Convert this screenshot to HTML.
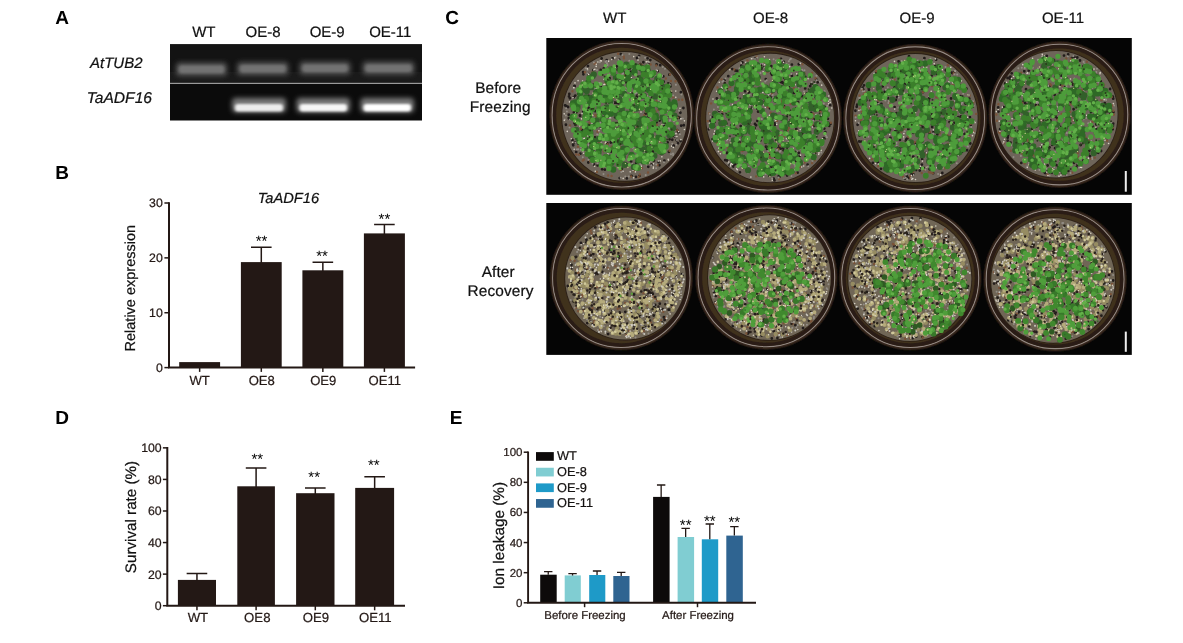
<!DOCTYPE html>
<html><head><meta charset="utf-8"><title>Figure</title>
<style>
html,body{margin:0;padding:0;background:#fff}
svg{display:block;will-change:transform;opacity:0.9999}
text{font-family:"Liberation Sans",Arial,sans-serif;fill:#231815;stroke:#231815;stroke-width:0.22px;text-rendering:geometricPrecision}
.b{font-weight:bold;font-size:19px;fill:#000;stroke:none}
.l{font-size:15px;fill:#111;stroke:#111}
.i{font-style:italic}
.t{font-size:12.3px}
.x{font-size:13.1px}
.s{font-size:15px;fill:#000;stroke:none}
.m{text-anchor:middle}
.e{text-anchor:end}
.ax{stroke:#231815;stroke-width:2;fill:none}
.tk{stroke:#231815;stroke-width:1.5;fill:none}
.eb{stroke:#231815;stroke-width:1.5;fill:none}
</style></head><body>
<svg width="1183" height="643" viewBox="0 0 1183 643">
<defs>
<filter id="bl" x="-20%" y="-100%" width="140%" height="300%"><feGaussianBlur stdDeviation="2.5 2.8"/></filter>
<filter id="bl2" x="-20%" y="-100%" width="140%" height="300%"><feGaussianBlur stdDeviation="1.8 1.3"/></filter>
<filter id="ph" x="0" y="0" width="100%" height="100%"><feGaussianBlur stdDeviation="0.65"/></filter>
</defs>
<rect width="1183" height="643" fill="#fff"/>

<text class="b" x="55.3" y="23.8">A</text>
<text class="b" x="55.3" y="179.3">B</text>
<text class="b" x="445.3" y="24">C</text>
<text class="b" x="55.3" y="424.2">D</text>
<text class="b" x="449.8" y="424.3">E</text>
<rect x="170" y="44.3" width="252" height="76.2" fill="#0b0b0b"/>
<rect x="170" y="44.3" width="252" height="39.10000000000001" fill="#131313"/>
<rect x="170" y="72" width="252" height="11.400000000000006" fill="#1a1a1a"/>
<clipPath id="cg"><rect x="170" y="44.3" width="252" height="76.2"/></clipPath><g clip-path="url(#cg)">
<rect x="176.0" y="62.599999999999994" width="51.0" height="13.4" rx="4" fill="#545454" filter="url(#bl)"/>
<rect x="179.0" y="65.6" width="45.0" height="7.6" rx="3" fill="#727272" filter="url(#bl2)"/>
<rect x="237.0" y="61.9" width="51.5" height="13.4" rx="4" fill="#545454" filter="url(#bl)"/>
<rect x="240.0" y="64.89999999999999" width="45.5" height="7.6" rx="3" fill="#727272" filter="url(#bl2)"/>
<rect x="299.5" y="61.4" width="51" height="13.4" rx="4" fill="#545454" filter="url(#bl)"/>
<rect x="302.5" y="64.39999999999999" width="45" height="7.6" rx="3" fill="#727272" filter="url(#bl2)"/>
<rect x="362.5" y="61.4" width="52" height="13.4" rx="4" fill="#545454" filter="url(#bl)"/>
<rect x="365.5" y="64.39999999999999" width="46" height="7.6" rx="3" fill="#727272" filter="url(#bl2)"/>
<rect x="232.0" y="98" width="54.0" height="14.5" rx="4" fill="#7a7a7a" filter="url(#bl)"/>
<rect x="235.0" y="104" width="48.0" height="7.6" rx="3" fill="#ececec" filter="url(#bl2)"/>
<rect x="296.5" y="98" width="53.5" height="14.5" rx="4" fill="#7a7a7a" filter="url(#bl)"/>
<rect x="299.5" y="104" width="47.5" height="7.6" rx="3" fill="#f6f6f6" filter="url(#bl2)"/>
<rect x="360.5" y="98" width="53.5" height="14.5" rx="4" fill="#7a7a7a" filter="url(#bl)"/>
<rect x="363.5" y="104" width="47.5" height="7.6" rx="3" fill="#ffffff" filter="url(#bl2)"/>
</g>
<rect x="170" y="82.80000000000001" width="252" height="1.2" fill="#9a9a9a"/>
<text class="l m" x="203.8" y="37.4">WT</text>
<text class="l m" x="263" y="36.5">OE-8</text>
<text class="l m" x="327.2" y="36.5">OE-9</text>
<text class="l m" x="390.3" y="36.5">OE-11</text>
<text class="l i" x="90" y="68.2">AtTUB2</text>
<text class="l i" x="86.7" y="103.3" style="font-size:15.6px">TaADF16</text>
<path class="tk" d="M164.4 367.6H169"/>
<text class="t e" x="162.8" y="372.0">0</text>
<path class="tk" d="M164.4 312.73333333333335H169"/>
<text class="t e" x="162.8" y="317.1333333333333">10</text>
<path class="tk" d="M164.4 257.8666666666667H169"/>
<text class="t e" x="162.8" y="262.26666666666665">20</text>
<path class="tk" d="M164.4 203.0H169"/>
<text class="t e" x="162.8" y="207.4">30</text>
<rect x="179.2" y="362.1" width="40.900000000000006" height="5.5" fill="#231815"/>
<path class="tk" d="M199.64999999999998 367.6v4.3"/>
<rect x="240.9" y="262.1" width="40.79999999999998" height="105.5" fill="#231815"/>
<path class="tk" d="M261.3 367.6v4.3"/>
<path class="eb" d="M261.3 263.1V247.2M251.0 247.2H271.6"/>
<text class="s m" x="261.6" y="246.1">**</text>
<rect x="302.4" y="270.3" width="40.900000000000034" height="97.30000000000001" fill="#231815"/>
<path class="tk" d="M322.85 367.6v4.3"/>
<path class="eb" d="M322.85 271.3V262.3M312.55 262.3H333.15000000000003"/>
<text class="s m" x="322.05" y="261.2">**</text>
<rect x="363.9" y="233.4" width="41.0" height="134.20000000000002" fill="#231815"/>
<path class="tk" d="M384.4 367.6v4.3"/>
<path class="eb" d="M384.4 234.4V224.6M374.09999999999997 224.6H394.7"/>
<text class="s m" x="384.4" y="223.5">**</text>
<path class="ax" d="M169 202.2V367.6H415.1"/>
<text class="x m" x="199.6" y="384.7">WT</text>
<text class="x m" x="261.8" y="384.7">OE8</text>
<text class="x m" x="323.3" y="384.7">OE9</text>
<text class="x m" x="384.8" y="384.7">OE11</text>
<text class="l i m" x="288.4" y="202.9" style="font-size:14.7px">TaADF16</text>
<text class="l m" transform="translate(135.4 288.2) rotate(-90)" style="font-size:14.5px">Relative expression</text>
<path class="tk" d="M162.9 605.7H167.3"/>
<text class="t e" x="161.70000000000002" y="610.1">0</text>
<path class="tk" d="M162.9 574.13H167.3"/>
<text class="t e" x="161.70000000000002" y="578.53">20</text>
<path class="tk" d="M162.9 542.5600000000001H167.3"/>
<text class="t e" x="161.70000000000002" y="546.96">40</text>
<path class="tk" d="M162.9 510.99H167.3"/>
<text class="t e" x="161.70000000000002" y="515.39">60</text>
<path class="tk" d="M162.9 479.42H167.3"/>
<text class="t e" x="161.70000000000002" y="483.82">80</text>
<path class="tk" d="M162.9 447.85H167.3"/>
<text class="t e" x="161.70000000000002" y="452.25">100</text>
<rect x="177.9" y="579.9" width="38.099999999999994" height="25.800000000000068" fill="#231815"/>
<path class="tk" d="M196.95 605.7v4.6"/>
<path class="eb" d="M196.95 580.9V573.4M186.64999999999998 573.4H207.25"/>
<rect x="237.3" y="486.3" width="37.599999999999966" height="119.40000000000003" fill="#231815"/>
<path class="tk" d="M256.1 605.7v4.6"/>
<path class="eb" d="M256.1 487.3V468.1M245.8 468.1H266.40000000000003"/>
<text class="s m" x="257.3" y="463.9">**</text>
<rect x="296.1" y="493.2" width="38.39999999999998" height="112.50000000000006" fill="#231815"/>
<path class="tk" d="M315.3 605.7v4.6"/>
<path class="eb" d="M315.3 494.2V487.9M305.0 487.9H325.6"/>
<text class="s m" x="314.2" y="482.09999999999997">**</text>
<rect x="355.2" y="487.9" width="38.900000000000034" height="117.80000000000007" fill="#231815"/>
<path class="tk" d="M374.65 605.7v4.6"/>
<path class="eb" d="M374.65 488.9V476.7M364.34999999999997 476.7H384.95"/>
<text class="s m" x="373.75" y="469.5">**</text>
<path class="ax" d="M167.3 447.05V605.7H405"/>
<text class="x m" x="197.9" y="622.1" style="font-size:13.2px">WT</text>
<text class="x m" x="257.3" y="622.1" style="font-size:13.2px">OE8</text>
<text class="x m" x="316" y="622.1" style="font-size:13.2px">OE9</text>
<text class="x m" x="375.3" y="622.1" style="font-size:13.2px">OE11</text>
<text class="l m" transform="translate(135.6 517) rotate(-90)" style="font-size:15.2px">Survival rate (%)</text>
<path class="tk" d="M523.7 602.8H528.1"/>
<text class="e" x="522.5" y="606.8" style="font-size:11.5px">0</text>
<path class="tk" d="M523.7 572.68H528.1"/>
<text class="e" x="522.5" y="576.68" style="font-size:11.5px">20</text>
<path class="tk" d="M523.7 542.56H528.1"/>
<text class="e" x="522.5" y="546.56" style="font-size:11.5px">40</text>
<path class="tk" d="M523.7 512.4399999999999H528.1"/>
<text class="e" x="522.5" y="516.4399999999999" style="font-size:11.5px">60</text>
<path class="tk" d="M523.7 482.32H528.1"/>
<text class="e" x="522.5" y="486.32" style="font-size:11.5px">80</text>
<path class="tk" d="M523.7 452.2H528.1"/>
<text class="e" x="522.5" y="456.2" style="font-size:11.5px">100</text>
<rect x="540.1999999999999" y="574.7" width="16.500000000000092" height="28.09999999999991" fill="#0d0a0a"/>
<path class="eb" style="stroke-width:1.3" d="M548.25 574.7V571.7M544.05 571.7H552.45"/>
<rect x="564.6999999999999" y="575.4" width="16.1" height="27.399999999999977" fill="#80cdd2"/>
<path class="eb" style="stroke-width:1.3" d="M572.55 575.4V573.7M568.3499999999999 573.7H576.75"/>
<rect x="589.1999999999999" y="575" width="16.1" height="27.799999999999955" fill="#1e9ac8"/>
<path class="eb" style="stroke-width:1.3" d="M597.05 575V571M592.8499999999999 571H601.25"/>
<rect x="613.3" y="576" width="16.200000000000024" height="26.799999999999955" fill="#2f6491"/>
<path class="eb" style="stroke-width:1.3" d="M621.2 576V572.4M617.0 572.4H625.4000000000001"/>
<rect x="653.1" y="496.9" width="16.49999999999998" height="105.89999999999998" fill="#0d0a0a"/>
<path class="eb" style="stroke-width:1.3" d="M661.1500000000001 496.9V485M656.95 485H665.3500000000001"/>
<rect x="677.6" y="537" width="16.49999999999998" height="65.79999999999995" fill="#80cdd2"/>
<path class="eb" style="stroke-width:1.3" d="M685.6500000000001 537V528.3M681.45 528.3H689.8500000000001"/>
<text class="s m" x="685.6500000000001" y="530.1999999999999">**</text>
<rect x="701.8" y="539.3" width="16.40000000000007" height="63.5" fill="#1e9ac8"/>
<path class="eb" style="stroke-width:1.3" d="M709.8 539.3V524M705.5999999999999 524H714.0"/>
<text class="s m" x="709.8" y="525.5">**</text>
<rect x="726.3" y="535.6" width="16.49999999999998" height="67.19999999999993" fill="#2f6491"/>
<path class="eb" style="stroke-width:1.3" d="M734.3499999999999 535.6V526.7M730.1499999999999 526.7H738.55"/>
<text class="s m" x="734.3499999999999" y="526.7">**</text>
<path class="ax" d="M528.1 451.4V602.8H756" style="stroke-width:1.9"/>
<path class="tk" d="M584.6 602.8v4.4"/>
<path class="tk" d="M697.5 602.8v4.4"/>
<text class="m" x="585" y="619.4" style="font-size:11.45px">Before Freezing</text>
<text class="m" x="698" y="619.4" style="font-size:11.45px">After Freezing</text>
<rect x="536" y="452.1" width="17.8" height="8.7" fill="#0d0a0a"/>
<text x="557" y="460.3" style="fill:#111;font-size:12.8px">WT</text>
<rect x="536" y="467.75" width="17.8" height="8.7" fill="#80cdd2"/>
<text x="557" y="475.95" style="fill:#111;font-size:12.8px">OE-8</text>
<rect x="536" y="483.40000000000003" width="17.8" height="8.7" fill="#1e9ac8"/>
<text x="557" y="491.6" style="fill:#111;font-size:12.8px">OE-9</text>
<rect x="536" y="499.05" width="17.8" height="8.7" fill="#2f6491"/>
<text x="557" y="507.25" style="fill:#111;font-size:12.8px">OE-11</text>
<text class="l m" transform="translate(503.6 535.6) rotate(-90)" style="font-size:15.3px">Ion leakage (%)</text>
<text class="l m" x="614.7" y="23.1">WT</text>
<text class="l m" x="770.5" y="23.1">OE-8</text>
<text class="l m" x="917" y="23.1">OE-9</text>
<text class="l m" x="1063" y="23.1">OE-11</text>
<text class="l m" x="498.2" y="93.4" style="font-size:15.4px;letter-spacing:0.12px">Before</text>
<text class="l m" x="500.2" y="111.6" style="font-size:15.4px;letter-spacing:0.12px">Freezing</text>
<text class="l m" x="498.2" y="277.4" style="font-size:15.4px;letter-spacing:0.12px">After</text>
<text class="l m" x="500.6" y="295.6" style="font-size:15.4px;letter-spacing:0.12px">Recovery</text>
<rect x="546.3" y="38" width="585.5" height="156.8" fill="#050505"/>
<rect x="546.3" y="203" width="585.5" height="151.9" fill="#050505"/>
<clipPath id="c1"><rect x="546.3" y="38" width="585.5" height="156.8"/></clipPath>
<clipPath id="c2"><rect x="546.3" y="203" width="585.5" height="151.9"/></clipPath>
<g clip-path="url(#c1)"><g filter="url(#ph)">
<g transform="translate(0 -3.65) scale(1 1.0316)">
<circle cx="621.7" cy="115.25" r="72.7" fill="#1c140f"/>
<circle cx="621.7" cy="115.25" r="71.8" fill="#35261c"/>
<circle cx="621.7" cy="115.25" r="69.60000000000001" fill="none" stroke="#cfc6c4" stroke-width="1.1" opacity="0.62"/>
<circle cx="621.7" cy="115.25" r="67.10000000000001" fill="none" stroke="#2a1e14" stroke-width="3.4"/>
<circle cx="621.7" cy="115.25" r="65.5" fill="#3f301c"/>
<circle cx="624.7" cy="116.35" r="63.321999999999996" fill="#2b2018"/>
<circle cx="624.7" cy="116.35" r="62.522" fill="#6e655a"/>
<path d="M614.1 137.6h0M615.1 103.0h0M588.6 108.1h0M665.4 131.9h0M663.9 125.8h0M641.4 124.2h0M575.2 141.8h0M645.3 136.6h0M583.2 73.6h0M590.6 98.4h0M637.8 114.4h0M645.5 90.8h0M637.7 132.9h0M604.8 168.0h0M644.4 158.7h0M600.7 87.7h0M610.0 111.8h0M650.6 126.5h0M607.7 80.1h0M606.3 159.4h0M592.6 126.1h0M638.8 67.1h0M626.4 162.7h0M568.1 107.3h0M620.5 83.8h0M645.6 113.7h0M578.3 142.6h0M649.4 151.3h0M673.2 128.6h0M628.9 70.2h0M649.0 92.2h0M608.8 71.9h0M588.5 96.5h0M656.6 66.1h0M575.5 124.4h0M672.3 135.4h0M588.0 67.6h0M639.0 87.0h0M587.0 149.3h0M665.9 122.2h0M635.0 134.6h0M674.7 135.8h0M645.6 138.5h0M580.4 152.5h0M660.6 136.2h0M569.9 98.8h0M648.7 64.8h0M617.7 155.2h0M588.3 161.0h0M647.6 110.1h0M637.9 142.7h0M629.2 158.8h0M598.1 99.7h0M664.3 117.4h0M593.3 150.1h0M673.4 101.6h0M576.8 111.7h0M618.3 103.6h0M668.3 84.4h0M663.3 77.6h0M594.5 140.6h0M663.5 145.9h0M639.4 122.4h0M631.0 140.2h0M617.2 128.2h0M648.5 116.4h0M654.4 138.3h0M681.2 125.5h0M606.9 100.8h0M624.2 152.4h0M610.6 132.5h0M660.2 66.8h0M583.1 125.4h0M641.5 126.4h0M607.4 142.7h0M636.4 94.7h0M683.8 125.0h0M601.6 112.2h0M615.0 113.7h0M565.1 105.7h0M658.1 77.7h0M622.1 153.3h0M651.5 163.0h0M571.8 105.4h0M610.8 141.7h0M647.6 60.1h0M657.7 72.4h0M646.6 68.5h0M631.1 159.9h0M618.3 124.6h0M656.6 122.0h0M621.8 167.2h0M664.1 105.3h0M680.9 92.9h0M660.2 106.0h0M630.1 145.0h0M633.8 142.5h0M583.4 75.5h0M647.5 80.6h0M593.4 71.5h0M667.6 141.6h0M670.4 87.3h0M624.7 74.0h0M648.3 165.3h0M597.6 163.9h0M662.6 109.5h0M576.2 150.9h0M620.7 91.4h0M641.3 133.4h0M670.1 85.4h0M658.5 160.6h0M674.0 110.2h0M598.0 153.0h0M629.7 121.7h0M673.2 107.4h0M566.4 106.5h0M572.4 139.4h0M637.7 91.4h0M624.3 149.5h0M627.5 163.2h0M622.4 155.9h0M664.4 159.2h0M599.6 149.3h0M574.3 87.2h0M573.2 144.4h0M580.1 115.9h0M616.4 115.1h0M600.3 126.0h0M679.4 117.7h0M644.4 153.6h0M617.6 71.2h0M604.4 155.5h0M573.7 97.8h0M660.7 144.7h0M625.0 148.6h0M630.8 73.2h0M575.3 96.2h0M659.5 95.1h0M591.6 88.1h0M573.9 112.5h0M582.0 129.5h0M565.9 124.5h0M606.7 61.9h0M653.9 105.3h0M569.3 94.6h0M636.8 97.2h0M654.1 144.5h0M651.7 129.6h0M669.6 138.6h0M637.0 59.7h0M654.0 159.1h0M612.3 96.8h0M669.3 75.9h0M636.0 175.0h0M590.4 141.8h0M680.4 112.8h0M645.9 150.5h0M589.2 112.9h0M636.3 148.9h0M623.2 107.9h0M586.4 102.8h0M659.7 120.3h0M593.5 85.6h0M680.6 140.2h0M639.1 57.7h0M649.7 135.7h0M677.1 129.7h0M621.9 138.2h0M573.1 143.8h0M637.8 88.1h0M659.4 163.7h0M578.4 94.4h0M637.1 124.2h0M609.6 79.4h0M678.0 142.4h0M588.3 75.4h0M673.7 144.8h0M676.7 139.5h0M590.5 126.6h0M569.0 97.1h0M622.2 138.2h0M595.2 111.3h0M643.7 132.0h0M650.8 124.9h0M611.9 147.6h0M626.7 83.4h0M598.9 116.3h0M620.0 123.1h0M624.7 123.9h0M619.9 71.2h0M640.4 155.5h0M643.0 108.4h0M641.6 79.8h0M568.8 118.1h0M590.6 143.5h0M601.6 60.3h0M594.0 163.0h0M611.6 69.3h0M594.9 136.7h0M645.5 123.7h0M672.3 139.0h0M623.8 141.1h0M673.1 144.8h0M659.1 79.9h0M618.7 145.9h0M613.6 156.3h0M647.1 150.5h0M619.7 176.2h0M669.3 108.6h0M626.8 176.5h0M611.3 150.4h0M662.5 116.6h0M581.8 123.2h0M637.9 157.8h0M656.2 117.3h0M657.4 137.0h0M633.6 118.7h0M614.8 144.2h0M586.4 93.5h0M624.9 66.7h0M612.5 60.3h0M597.8 138.7h0M648.3 114.1h0M616.8 67.9h0M678.5 131.6h0M662.4 85.9h0M619.1 61.5h0M653.1 150.4h0M568.8 114.8h0M643.4 63.9h0M574.7 87.2h0M603.8 69.8h0M626.1 127.1h0M649.3 143.6h0M668.9 150.6h0M579.4 98.9h0M589.3 80.4h0M621.2 116.6h0M640.3 65.8h0M579.9 115.5h0M616.2 103.1h0M622.2 85.7h0M652.9 130.6h0M621.1 88.8h0M620.8 56.0h0M586.9 117.8h0M574.5 123.0h0M629.8 68.5h0M614.1 103.0h0M643.2 141.0h0M623.3 82.6h0M618.5 113.5h0M654.2 128.2h0M600.7 71.4h0M609.8 86.9h0M583.2 112.0h0M604.1 120.8h0M646.2 99.4h0M683.4 108.2h0M665.9 120.9h0M650.3 61.8h0M594.6 126.3h0M639.6 174.0h0M636.1 161.6h0M652.6 150.8h0M646.0 109.8h0M643.3 76.9h0M663.6 82.8h0M631.5 174.0h0M615.1 117.2h0M667.6 117.3h0M592.7 126.6h0M647.5 144.1h0M602.1 167.7h0M677.7 116.9h0M636.0 98.4h0M671.0 93.3h0M651.6 97.2h0M598.0 144.0h0M671.7 116.0h0" stroke="#231e1a" stroke-width="2.8" stroke-linecap="round" fill="none"/>
<path d="M599.0 147.1h0M622.6 129.6h0M669.6 149.7h0M611.6 174.1h0M624.8 147.9h0M598.1 114.5h0M582.8 159.1h0M665.9 79.7h0M584.9 73.5h0M667.0 99.8h0M622.1 103.0h0M620.2 75.5h0M625.5 67.2h0M621.6 129.5h0M644.3 106.7h0M589.4 122.6h0M609.1 166.6h0M655.6 111.7h0M606.0 88.5h0M588.7 102.8h0M636.9 137.7h0M639.9 172.6h0M596.0 116.9h0M675.5 82.4h0M602.9 123.4h0M631.2 133.6h0M614.6 131.8h0M626.8 147.4h0M572.5 91.9h0M624.6 77.0h0M586.7 139.2h0M599.2 141.2h0M654.5 128.6h0M646.0 112.0h0M576.1 115.3h0M643.2 94.8h0M620.7 146.6h0M591.7 140.4h0M678.8 100.3h0M631.0 109.9h0M675.2 126.7h0M658.1 90.7h0M624.0 115.9h0M578.9 153.5h0M650.6 66.0h0M654.8 111.1h0M643.3 131.6h0M574.6 109.3h0M673.2 97.7h0M592.5 73.6h0M580.9 128.4h0M677.2 129.7h0M631.1 174.7h0M604.1 89.6h0M646.0 138.5h0M591.2 77.7h0M637.1 126.9h0M578.5 109.2h0M602.6 135.1h0M619.7 112.6h0M611.5 155.7h0M672.2 103.8h0M656.1 88.2h0M627.6 146.6h0M674.5 103.8h0M621.5 124.8h0M574.4 116.9h0M597.5 131.3h0M595.5 65.2h0M626.3 127.5h0M603.8 150.1h0M613.5 91.5h0M640.0 66.0h0M597.0 115.5h0M658.3 109.9h0M637.2 89.7h0M634.2 168.9h0M608.1 173.7h0M598.2 117.1h0M631.3 155.3h0M594.4 65.0h0M648.0 146.9h0M638.6 175.1h0M633.5 127.2h0M660.4 130.5h0M670.9 82.0h0M618.1 55.6h0M656.6 101.7h0M648.0 170.8h0M624.4 105.4h0M605.4 84.0h0M599.9 141.5h0M626.3 119.2h0M617.9 152.0h0M645.4 110.4h0M651.9 110.1h0M590.2 159.8h0M642.3 80.1h0M664.8 129.2h0M583.8 158.5h0M637.6 151.0h0M633.2 109.9h0M578.0 145.7h0M626.0 104.1h0M639.6 119.7h0M651.9 101.4h0M623.7 58.3h0M607.7 143.4h0M671.1 103.7h0M620.7 168.0h0M611.7 145.7h0M677.9 117.6h0M666.9 91.9h0M633.6 113.0h0M629.0 158.3h0M682.3 100.3h0M601.5 136.4h0M585.8 134.7h0M648.3 104.9h0M641.8 66.6h0M648.5 68.1h0M597.3 94.5h0M609.1 149.7h0M628.2 99.5h0M642.0 166.6h0M625.0 131.9h0M669.2 126.0h0M596.9 170.2h0M670.0 75.7h0M623.0 134.0h0M660.2 141.0h0M614.5 76.7h0M628.6 155.7h0M588.1 81.9h0M624.0 60.0h0M613.8 98.0h0M642.6 88.4h0M590.6 101.1h0M622.7 89.1h0M625.2 146.7h0M657.6 163.6h0M593.9 99.8h0M576.3 153.4h0M595.3 115.0h0M642.5 70.2h0M644.3 115.2h0M570.0 125.1h0M656.2 67.0h0M656.8 124.7h0M644.2 134.5h0" stroke="#7a5237" stroke-width="2.4" stroke-linecap="round" fill="none"/>
<path d="M670.9 108.4h0M658.6 100.5h0M652.1 85.7h0M621.3 170.3h0M643.5 109.7h0M585.0 88.9h0M632.2 152.8h0M642.2 137.8h0M623.2 163.8h0M608.7 93.8h0M659.7 118.9h0M613.2 92.6h0M614.2 141.9h0M637.4 72.8h0M642.7 123.9h0M588.7 144.2h0M612.8 102.1h0M651.1 160.1h0M597.2 133.9h0M603.5 172.3h0M607.1 159.0h0M600.0 147.3h0M665.0 70.2h0M606.8 136.9h0M620.9 88.9h0M682.9 118.5h0M575.4 142.0h0M576.8 148.4h0M600.7 122.4h0M670.0 120.6h0M587.6 71.1h0M665.7 142.0h0M594.7 147.9h0M644.6 142.3h0M566.2 108.5h0M658.0 143.5h0M645.1 59.6h0M631.8 137.0h0M681.4 95.1h0M610.6 117.9h0M658.9 99.3h0M664.5 89.0h0M635.8 94.4h0M631.2 88.2h0M578.1 148.2h0M637.2 93.3h0M632.4 154.3h0M587.0 112.1h0M646.5 137.6h0M615.6 59.0h0M669.2 128.1h0M625.3 104.4h0M635.8 98.5h0M587.8 89.7h0M601.0 92.0h0M583.7 138.9h0M580.2 138.7h0M586.3 129.7h0M672.4 123.4h0M595.0 118.3h0M629.3 62.4h0M599.6 123.1h0M604.9 119.7h0M652.5 145.4h0M658.9 138.6h0M612.3 115.6h0M613.2 103.1h0M619.1 62.6h0M610.5 115.3h0M587.0 115.4h0M646.3 109.5h0M662.8 68.5h0M618.5 61.3h0M645.7 173.3h0M564.8 119.4h0M646.2 103.8h0M638.8 58.9h0M658.0 130.9h0M625.6 91.9h0M650.3 96.9h0M634.0 95.1h0M565.9 115.5h0M632.8 146.7h0M590.1 115.0h0M650.2 122.4h0M656.1 166.7h0M599.9 63.9h0M651.2 163.7h0M658.2 145.9h0M600.6 88.6h0M656.6 83.6h0M574.2 88.6h0M673.1 153.7h0M598.3 88.3h0M634.0 86.2h0M671.2 113.6h0M590.5 157.6h0M600.6 125.5h0M624.2 102.9h0M637.8 88.4h0M585.7 69.7h0M581.8 90.7h0M623.7 118.7h0M647.9 121.3h0M594.6 89.5h0M566.9 111.7h0M644.4 137.9h0M619.5 108.8h0M661.2 117.0h0M653.5 139.1h0M632.2 162.6h0M601.2 101.6h0M594.6 86.7h0M664.0 160.8h0M625.7 140.0h0M665.1 144.1h0M662.1 77.1h0M599.0 134.6h0M673.8 119.9h0M591.2 102.5h0M599.8 84.0h0M673.2 96.1h0M625.3 174.6h0M667.7 128.6h0M599.9 133.0h0M675.2 135.8h0M670.1 119.9h0M646.3 108.0h0M639.6 161.8h0M575.6 114.2h0M634.6 92.7h0M612.5 147.6h0M679.9 133.7h0M635.4 65.6h0M681.0 118.6h0M623.4 74.5h0M622.6 75.2h0M627.7 136.0h0M626.0 128.4h0M597.5 162.0h0M605.6 63.3h0M617.2 85.6h0M586.5 102.9h0M635.3 73.3h0M620.0 165.3h0M652.6 110.1h0M630.2 111.2h0M622.8 146.1h0M622.4 56.8h0M623.9 81.3h0M650.3 92.3h0M628.7 174.6h0M589.9 79.0h0M593.9 64.1h0M569.5 127.1h0M606.3 62.6h0M576.5 136.4h0M594.0 101.8h0M636.2 163.4h0M676.4 143.8h0M630.9 124.3h0M671.0 153.1h0M611.7 135.5h0M637.0 118.6h0M607.5 70.7h0M607.5 66.6h0M667.9 135.3h0M588.5 158.3h0M649.2 63.9h0M677.0 139.3h0M675.9 85.8h0M646.4 133.7h0M633.4 123.7h0M656.5 71.2h0M587.6 74.8h0M602.4 92.2h0M640.2 127.6h0M626.0 88.6h0M607.9 152.6h0M655.5 120.4h0M614.1 167.1h0M601.2 142.0h0M667.1 106.6h0M653.4 77.6h0M663.4 124.0h0M575.0 137.3h0M595.3 158.6h0M597.0 109.6h0M636.7 102.3h0M635.4 93.4h0M652.3 116.6h0M629.3 55.9h0M667.6 117.5h0M570.0 119.3h0M641.9 155.9h0M592.6 162.2h0M620.7 175.8h0M618.7 144.1h0M611.2 75.2h0M662.4 147.5h0M672.3 142.8h0M607.0 64.9h0M599.3 90.0h0M593.4 138.7h0M638.6 104.9h0M632.1 110.1h0M633.3 146.6h0M660.0 91.1h0M582.8 156.0h0M629.0 157.8h0M572.5 105.9h0M625.6 67.1h0M604.4 144.9h0M656.3 163.0h0M597.0 71.4h0M644.4 151.9h0M631.5 70.2h0M654.0 146.0h0M647.2 96.6h0M636.8 147.8h0M608.4 62.4h0M638.4 136.3h0M625.2 151.4h0M600.3 112.9h0M612.1 139.9h0M676.4 108.2h0M673.0 152.3h0M655.2 139.0h0M679.1 110.8h0M620.5 76.1h0M640.9 162.6h0M646.5 133.7h0M616.1 123.6h0M580.8 148.7h0M609.6 75.7h0M596.6 85.5h0M654.7 153.4h0M581.1 146.1h0M658.4 94.4h0M577.3 92.6h0" stroke="#928c84" stroke-width="2.0" stroke-linecap="round" fill="none"/>
<path d="M598.9 130.3h0M614.7 59.7h0M632.4 65.6h0M655.0 75.9h0M598.7 84.3h0M606.0 161.2h0M657.1 139.3h0M635.2 65.6h0M603.7 94.0h0M588.0 135.5h0M596.4 89.2h0M597.9 63.6h0M645.0 161.6h0M631.4 78.7h0M564.3 120.2h0M668.6 127.1h0M653.5 162.3h0M665.8 100.2h0M662.1 143.9h0M574.5 103.1h0M575.8 112.6h0M645.8 77.4h0M574.2 148.2h0M637.3 165.5h0M582.9 149.8h0M668.4 158.7h0M615.7 127.9h0M618.8 154.7h0M664.2 119.7h0M579.7 140.9h0M605.8 141.6h0M633.1 168.5h0M666.1 99.9h0M635.4 170.2h0M602.7 134.1h0M661.9 155.6h0M642.6 70.9h0M579.6 125.2h0M633.7 175.9h0M595.1 155.4h0M647.9 66.0h0M592.1 123.0h0M604.0 109.9h0M643.0 84.8h0M643.4 90.8h0M602.7 138.0h0M601.1 128.2h0M676.8 117.2h0M618.8 146.1h0M611.1 156.6h0M580.6 137.6h0M604.8 85.3h0M675.8 91.8h0M676.9 135.9h0M669.8 86.1h0M660.2 159.5h0M619.7 110.8h0M684.4 120.7h0M607.6 90.9h0M643.3 130.1h0M630.2 170.1h0M611.1 136.0h0M669.7 85.4h0M653.3 166.7h0M582.6 82.2h0M596.3 65.8h0M638.0 61.8h0M641.3 164.6h0M572.9 106.2h0M571.3 138.0h0M595.0 105.7h0M627.0 139.1h0M609.9 117.0h0M601.9 121.1h0M581.5 118.7h0M569.5 102.3h0M680.9 118.7h0M579.6 125.5h0M596.2 67.9h0M596.6 144.4h0M641.0 112.2h0M592.8 79.3h0M671.8 124.9h0M600.4 62.4h0M595.3 169.5h0M582.1 113.5h0M633.7 109.6h0M615.1 68.8h0M594.6 164.7h0M596.5 147.8h0M571.6 107.7h0M634.6 155.6h0M584.4 137.7h0M640.1 86.9h0M643.0 81.9h0M592.7 115.6h0M564.2 113.9h0M593.9 71.3h0M607.9 146.5h0M610.4 161.1h0M588.7 75.7h0M675.2 129.3h0M658.8 86.5h0M656.7 126.7h0M651.4 117.4h0M666.8 93.7h0M594.9 70.7h0M665.2 90.6h0M588.6 83.9h0M609.1 71.7h0M612.8 90.7h0M604.0 80.4h0M626.3 96.9h0M629.6 127.1h0M633.7 58.4h0M603.9 85.5h0M648.7 67.5h0M595.9 104.5h0M611.9 154.1h0M607.9 152.9h0M587.4 70.3h0M668.2 131.9h0M645.2 121.5h0M641.9 73.1h0M660.4 96.3h0M662.7 119.7h0M575.0 83.9h0M666.7 111.3h0M608.0 126.6h0M607.3 94.1h0M629.1 122.6h0M675.4 117.9h0M668.2 158.1h0M673.3 146.4h0M630.3 122.3h0M618.9 86.7h0M622.0 89.9h0M676.0 133.1h0M611.8 61.1h0M622.4 98.7h0M589.0 79.0h0M567.3 130.9h0M623.2 176.5h0M623.4 109.9h0M674.0 120.9h0M631.8 100.6h0M605.1 164.9h0M653.4 165.5h0M609.8 117.6h0M593.4 150.7h0M577.9 135.3h0M658.3 159.6h0M592.5 153.6h0M597.5 87.5h0M583.7 152.1h0M675.8 97.9h0M594.4 102.8h0M680.9 138.9h0M608.6 63.0h0M601.2 157.9h0M680.0 108.5h0M597.3 96.1h0M572.6 141.4h0M588.4 151.9h0M578.1 81.7h0M636.2 85.8h0M656.1 116.7h0M583.2 138.3h0M648.0 63.5h0M678.7 131.1h0M646.3 63.5h0M595.8 102.3h0M657.4 72.0h0M601.3 62.6h0M614.5 131.0h0M573.0 98.2h0M641.0 166.9h0M651.7 104.0h0M585.2 84.9h0M597.5 122.4h0M623.1 169.5h0M635.5 76.2h0M671.6 145.2h0M628.8 87.0h0M573.7 88.5h0M657.9 87.1h0M578.1 123.3h0M634.7 141.3h0M646.4 162.9h0M594.7 151.3h0M588.6 141.7h0M632.4 126.8h0M662.2 115.7h0M663.0 146.5h0M630.3 92.8h0M595.2 95.7h0M616.0 115.3h0M684.4 129.1h0M653.2 84.5h0M596.1 103.5h0" stroke="#d8d1c4" stroke-width="1.6" stroke-linecap="round" fill="none"/>
<path d="M631.0 82.6h0M667.6 101.4h0M645.9 70.4h0M624.4 127.2h0M631.6 138.1h0M635.5 122.6h0M579.5 99.3h0M576.2 129.4h0M636.5 108.8h0M597.6 97.1h0M661.6 150.9h0M622.9 155.6h0M592.7 77.3h0M608.7 87.4h0M604.3 123.2h0M674.9 105.4h0M626.6 127.2h0M623.5 147.7h0M665.0 88.2h0M631.0 106.0h0M634.6 73.7h0M593.8 75.6h0M644.0 123.4h0M626.3 66.3h0M611.8 90.3h0M586.8 91.8h0M648.5 134.9h0M623.9 135.5h0M602.7 118.9h0M626.2 136.8h0M621.9 110.5h0M619.9 93.1h0M673.2 127.5h0M633.9 165.4h0M657.3 80.1h0M647.2 143.4h0M665.5 144.8h0M647.3 81.8h0M595.2 125.5h0M640.8 83.8h0M610.5 101.6h0M627.0 129.3h0M615.9 78.4h0M654.4 154.4h0M621.2 150.0h0M640.2 139.4h0M641.0 90.4h0M642.9 148.3h0M604.3 161.0h0M663.1 149.9h0M670.5 133.5h0M612.6 94.9h0M596.5 120.4h0M623.5 140.4h0M590.9 155.0h0M674.4 115.8h0M648.1 132.8h0M635.2 108.3h0M620.5 87.9h0M631.9 115.4h0M635.5 87.4h0M626.4 118.4h0M643.5 83.3h0M638.3 148.3h0M646.0 103.2h0M606.6 107.6h0M644.1 157.6h0M619.0 93.2h0M638.9 124.1h0M596.0 93.1h0M621.1 140.4h0M591.4 88.0h0M639.8 79.4h0M628.9 129.9h0M621.0 82.9h0M622.4 103.5h0M636.1 87.9h0M651.0 76.0h0M617.6 116.7h0M655.3 97.0h0M643.8 96.5h0M643.2 159.8h0M610.1 132.5h0M596.9 145.5h0M662.5 117.5h0M589.2 128.9h0M656.6 146.6h0M644.2 72.4h0M605.8 155.9h0M591.6 146.9h0M669.5 134.5h0M660.1 105.8h0M586.7 113.2h0M616.8 114.5h0M649.5 111.2h0M631.9 132.3h0M624.6 163.2h0M641.4 119.5h0M617.2 93.8h0M664.9 120.8h0M591.1 98.8h0M619.6 99.6h0M654.7 84.2h0M643.0 121.7h0M587.6 117.8h0M621.2 135.0h0M608.1 127.6h0M584.5 90.2h0M648.5 147.9h0M624.2 94.5h0M647.7 71.9h0M598.6 138.3h0M645.0 84.2h0M585.0 146.9h0M629.9 86.0h0M626.6 147.0h0M577.7 136.5h0M641.2 69.8h0M643.6 72.6h0M660.3 128.8h0" stroke="#33602a" stroke-width="6.2" stroke-linecap="round" fill="none"/>
<path d="M674.3 102.9h0M624.9 150.9h0M603.1 92.6h0M611.0 113.7h0M590.2 131.8h0M644.4 118.9h0M670.7 107.5h0M663.7 100.0h0M642.9 69.8h0M632.1 109.8h0M607.4 95.1h0M612.6 91.3h0M575.4 102.9h0M605.5 98.0h0M590.0 111.9h0M651.8 107.7h0M610.1 156.5h0M654.5 144.5h0M661.4 106.0h0M620.5 152.4h0M604.7 112.0h0M638.4 129.9h0M615.5 149.0h0M618.5 141.8h0M658.1 136.9h0M646.9 81.3h0M585.9 98.1h0M638.2 159.1h0M586.5 125.9h0M597.1 92.7h0M615.0 140.6h0M631.5 153.8h0M594.5 143.6h0M656.2 118.7h0M641.5 96.5h0M589.8 103.4h0M613.2 167.9h0M611.5 161.2h0M632.2 127.9h0M649.0 90.8h0M655.3 128.9h0M582.3 133.2h0M644.2 132.3h0M668.9 104.8h0M642.1 141.8h0M598.5 151.3h0M588.2 83.7h0M641.2 81.9h0M621.5 70.6h0M626.9 79.8h0M634.4 72.7h0M641.0 106.7h0M627.1 113.8h0M628.7 75.9h0M572.6 117.0h0M593.8 101.3h0M635.1 67.8h0M599.1 95.9h0M590.3 127.0h0M619.9 88.0h0M594.1 141.5h0M602.1 136.4h0M636.0 68.7h0M589.3 116.5h0M636.5 143.2h0M649.4 148.2h0M611.0 108.6h0M651.2 101.8h0M651.6 75.8h0M647.9 110.2h0M579.3 139.0h0M636.2 117.1h0M590.3 101.5h0M665.7 93.9h0M573.1 103.6h0M586.7 112.2h0M611.6 85.9h0M599.0 148.3h0M594.0 158.0h0M607.5 81.9h0M651.1 135.3h0M592.4 139.6h0M580.2 94.0h0M660.9 108.1h0M585.6 131.8h0M655.8 115.6h0M577.6 107.3h0M639.0 142.7h0M672.6 109.8h0M607.1 115.0h0" stroke="#2f6925" stroke-width="6.2" stroke-linecap="round" fill="none"/>
<path d="M659.5 89.2h0M647.4 68.6h0M651.0 94.1h0M640.6 140.2h0M587.0 113.6h0M633.3 137.4h0M596.5 86.2h0M592.7 158.6h0M617.5 108.1h0M584.7 141.3h0M609.3 157.7h0M654.0 117.1h0M647.0 82.3h0M613.1 95.8h0M585.2 116.9h0M620.4 158.9h0M572.7 105.9h0M594.3 101.0h0M639.9 130.9h0M625.7 99.0h0M642.4 129.3h0M577.0 109.6h0M588.5 85.2h0M630.2 118.6h0M628.6 86.4h0M617.9 85.5h0M638.0 140.3h0M665.7 145.9h0M597.4 100.8h0M593.3 126.6h0M671.9 133.2h0M579.5 90.5h0M585.8 131.8h0M624.7 127.5h0M669.3 95.7h0M604.7 162.6h0M636.5 89.5h0M583.1 85.1h0M572.9 117.8h0M626.2 149.5h0M619.8 91.8h0M606.6 162.7h0M577.6 121.0h0M625.6 138.5h0M610.2 134.2h0M652.9 111.3h0M608.0 109.6h0M592.4 109.4h0M613.5 124.1h0M659.2 150.1h0M609.1 137.5h0M634.9 142.7h0M625.5 126.2h0M608.8 89.7h0M649.6 153.4h0M647.8 131.5h0M634.4 100.0h0M579.2 133.3h0M631.9 96.4h0M597.5 152.4h0M587.5 152.7h0M638.2 166.4h0M599.4 115.6h0M606.3 122.0h0M617.4 90.2h0M657.6 92.3h0M606.9 135.8h0M605.6 100.9h0M637.7 103.0h0M585.7 113.1h0M618.7 162.7h0M592.4 144.9h0M597.7 104.1h0M612.7 126.3h0M646.4 160.3h0M606.0 155.4h0M655.6 141.5h0M600.5 145.1h0M620.7 129.4h0M615.2 139.8h0M656.3 148.4h0M617.9 149.4h0M664.0 91.0h0M661.2 83.2h0M643.6 137.0h0M667.8 124.4h0M608.4 89.4h0M587.9 138.9h0M616.4 91.2h0M642.7 90.5h0M609.1 100.0h0M662.7 150.0h0M620.2 71.7h0M635.0 119.0h0M637.1 136.5h0M614.0 147.3h0M653.4 123.6h0M610.2 99.1h0M646.1 82.4h0M619.1 90.1h0M584.4 133.8h0M623.7 117.7h0M648.4 75.9h0M622.2 127.1h0M649.9 83.5h0M649.8 124.1h0M660.9 146.8h0M637.3 165.6h0M624.7 100.8h0M613.3 85.0h0M624.0 68.0h0M621.6 132.0h0M657.4 104.9h0M664.7 97.6h0M621.2 68.1h0M599.9 90.6h0M666.5 131.2h0M590.5 132.9h0M641.8 108.1h0M625.5 105.3h0M610.7 70.7h0M621.9 155.5h0M666.4 108.2h0M599.1 109.1h0M654.3 127.9h0M604.4 128.9h0M617.4 134.6h0M613.1 74.4h0M626.7 142.4h0M589.4 112.9h0M653.7 104.0h0M609.4 163.9h0M649.8 147.4h0M600.6 157.9h0M580.5 102.5h0M645.8 154.3h0M595.3 95.4h0M629.6 68.1h0M646.2 135.2h0M609.3 134.9h0M650.9 126.8h0M639.2 158.4h0M607.8 122.1h0M608.3 148.8h0M610.5 132.9h0M629.7 118.8h0M670.7 114.1h0M663.6 139.0h0M664.3 111.4h0M653.5 139.8h0M603.5 125.6h0M620.0 115.1h0M662.0 95.7h0M589.0 79.4h0M609.4 94.5h0M625.2 136.1h0M670.8 124.4h0M640.1 91.9h0M641.4 155.4h0M653.6 74.2h0M647.8 157.4h0M646.9 76.3h0M614.1 136.6h0M638.4 89.6h0M598.0 145.4h0M591.7 151.8h0M625.4 127.1h0M586.2 99.2h0M643.6 75.9h0M667.5 87.4h0" stroke="#3a7f2c" stroke-width="5.8" stroke-linecap="round" fill="none"/>
<path d="M587.2 117.7h0M640.7 140.7h0M611.6 109.0h0M616.5 96.5h0M575.7 134.6h0M633.7 122.0h0M603.1 125.0h0M624.2 113.6h0M651.2 75.0h0M632.7 82.6h0M615.7 158.6h0M590.4 113.2h0M606.1 146.2h0M600.4 74.6h0M642.4 104.1h0M614.7 150.3h0M595.8 104.2h0M629.9 130.9h0M608.6 148.6h0M674.5 107.3h0M659.5 77.1h0M665.3 106.4h0M629.6 104.3h0M606.2 79.2h0M613.0 154.8h0M659.9 105.6h0M607.2 93.1h0M597.0 158.0h0M647.4 120.4h0M609.3 84.3h0M661.8 138.4h0M596.6 145.5h0M591.2 135.8h0M594.0 103.1h0M641.7 131.2h0M655.0 91.3h0M662.3 148.3h0M624.3 132.7h0M598.5 111.2h0M585.2 119.0h0M630.6 156.1h0M653.6 141.2h0M611.9 108.4h0M612.6 124.2h0M578.8 134.7h0M582.0 102.3h0M625.5 98.4h0M669.8 113.7h0M663.5 145.3h0M607.6 130.2h0M663.3 106.4h0M627.8 96.9h0M626.8 103.8h0M627.4 148.7h0M665.5 120.2h0M631.4 144.7h0M615.5 82.9h0M656.7 89.4h0M652.4 87.7h0M667.8 91.8h0M647.3 156.3h0M599.5 155.3h0M604.3 72.6h0M648.0 139.0h0M620.6 64.8h0M622.7 105.4h0M611.4 106.2h0M579.3 102.0h0M663.5 149.7h0M612.6 92.4h0M637.1 149.6h0M646.0 81.9h0M630.5 121.4h0M661.3 146.8h0M640.4 152.7h0M613.7 159.0h0M609.9 130.1h0M652.3 88.8h0M607.0 72.0h0M630.6 114.4h0M613.4 133.6h0M575.0 115.8h0M627.8 106.8h0M644.5 160.1h0M610.4 86.3h0M603.8 119.6h0M643.5 88.8h0M653.7 86.6h0M651.8 130.3h0M635.3 165.5h0M615.3 110.4h0M640.1 144.3h0M585.2 124.5h0M600.6 136.8h0M665.1 117.9h0M620.9 122.9h0M573.6 129.7h0M644.2 122.1h0M611.5 92.0h0M619.2 153.5h0M621.7 156.3h0M573.5 107.2h0M634.5 115.9h0M581.4 99.0h0M657.2 82.7h0M596.3 84.9h0M606.3 137.7h0M638.6 68.7h0M665.3 99.9h0M609.2 160.1h0M622.2 78.5h0M603.9 92.7h0M592.5 105.7h0M653.4 127.8h0M601.2 163.7h0M592.7 120.1h0M625.8 142.1h0M613.3 132.2h0M674.2 118.6h0M590.8 126.6h0M598.2 104.1h0M631.4 128.3h0M615.3 144.3h0M618.9 77.3h0M653.3 104.5h0M660.4 97.1h0M644.4 127.2h0M578.5 90.8h0M595.6 152.9h0M580.1 137.9h0M658.4 131.6h0M647.2 99.8h0M624.3 124.4h0M638.8 140.0h0M617.7 92.5h0M605.5 130.4h0M585.3 86.6h0M610.6 97.4h0M619.4 64.5h0M612.6 107.5h0M642.9 70.1h0M614.1 132.9h0M639.4 152.4h0M654.8 86.4h0M646.4 104.9h0M603.4 157.1h0M604.6 89.1h0M611.4 88.5h0M656.7 128.4h0M665.1 128.2h0M605.8 148.6h0M602.7 100.8h0M618.7 117.8h0M660.3 98.3h0M637.2 115.4h0M590.6 86.7h0M616.9 130.6h0M635.9 133.0h0M626.4 100.5h0M638.2 84.5h0M585.1 106.5h0M584.2 101.8h0M600.1 98.1h0M623.2 89.4h0M613.6 71.3h0M629.5 87.2h0M632.1 64.3h0M597.9 124.5h0M573.7 108.8h0M628.1 120.1h0M582.2 122.9h0M629.5 84.7h0M650.0 114.7h0M625.4 100.4h0M643.9 119.8h0M659.7 130.2h0M603.4 108.6h0M654.6 104.5h0M637.9 134.4h0M620.8 65.5h0M629.5 124.1h0M629.3 90.6h0M662.0 112.2h0M604.2 92.8h0M636.0 82.1h0M602.1 161.5h0M660.2 144.9h0M663.8 133.4h0M584.4 144.9h0M661.8 131.0h0M581.7 143.7h0M664.3 102.1h0M629.0 142.7h0M622.0 151.2h0M627.5 140.1h0M627.2 73.8h0M608.8 166.9h0M633.1 155.6h0M652.0 157.5h0M643.4 96.2h0" stroke="#4e9c3a" stroke-width="5.2" stroke-linecap="round" fill="none"/>
<path d="M625.2 68.1h0M618.5 146.3h0M574.7 120.9h0M647.9 153.7h0M595.4 95.8h0M580.8 92.5h0M637.2 164.7h0M594.7 152.4h0M639.5 99.2h0M659.5 76.4h0M622.3 124.3h0M664.8 150.2h0M675.4 119.4h0M651.3 153.4h0M642.6 128.9h0M618.2 101.8h0M597.5 159.4h0M614.2 67.6h0M634.3 115.1h0M629.3 163.4h0M620.9 106.7h0M599.1 115.6h0M609.1 123.6h0M677.2 123.0h0M604.5 161.9h0M651.7 141.8h0M647.6 142.6h0M643.7 156.0h0M652.0 152.9h0M606.9 116.3h0M602.0 146.1h0M652.1 101.0h0M636.1 167.4h0M658.4 85.9h0M621.5 138.5h0M623.4 130.2h0M661.2 126.5h0M591.5 138.0h0M621.1 120.5h0M608.4 76.6h0M586.8 105.6h0M605.4 67.3h0M656.4 84.3h0M600.5 134.1h0M578.9 141.8h0M599.7 137.8h0M607.7 127.1h0M628.6 116.3h0M584.8 84.3h0M623.5 157.9h0M606.0 134.6h0M630.5 133.5h0M650.7 77.1h0M634.6 109.9h0M614.3 87.9h0M600.8 85.1h0M603.7 164.3h0M670.6 116.6h0M647.7 86.1h0M580.4 87.3h0M628.8 158.3h0M623.3 83.7h0M616.9 83.9h0M583.7 109.5h0M611.4 89.3h0M597.7 88.0h0M631.7 157.4h0M620.0 166.8h0M580.2 123.9h0M588.4 111.3h0M628.3 136.1h0M659.4 99.3h0M586.5 110.6h0M634.8 92.4h0M647.3 158.9h0M583.5 126.9h0M648.2 71.9h0M632.2 108.2h0M589.1 149.3h0M632.4 99.4h0M639.8 138.3h0M650.0 135.5h0M637.3 80.1h0M609.6 121.0h0M582.7 148.7h0M612.6 82.8h0M577.7 122.8h0M625.8 95.8h0M611.0 87.2h0M599.0 113.0h0M603.4 138.8h0M619.5 121.2h0M636.9 154.6h0M645.7 124.3h0M619.2 89.1h0M613.0 139.7h0M632.8 102.5h0M592.4 79.2h0M635.0 149.3h0M635.7 76.0h0M617.0 124.4h0M594.6 127.7h0M618.0 88.3h0M588.9 139.7h0M636.5 87.1h0M594.3 143.0h0M645.4 105.8h0M668.8 108.3h0M594.6 147.5h0M617.9 128.8h0" stroke="#62b048" stroke-width="3.5" stroke-linecap="round" fill="none"/>
<path d="M625.9 83.6h0M587.7 110.3h0M662.3 89.5h0M665.1 122.9h0M589.6 124.8h0M643.0 87.4h0M575.2 124.6h0M590.1 130.1h0M576.6 112.8h0M602.8 76.2h0M616.0 122.6h0M607.8 80.6h0M630.3 70.1h0M643.1 133.2h0M667.2 138.7h0M637.4 125.8h0M625.5 76.4h0M666.0 131.2h0M615.8 80.5h0M666.3 131.3h0M589.4 136.4h0M672.7 115.8h0M638.8 101.7h0M605.4 149.4h0M677.5 118.4h0M620.5 143.2h0M614.3 141.1h0M649.7 85.6h0M590.3 114.0h0M652.5 125.6h0M656.6 81.0h0M641.4 95.2h0M628.3 127.9h0M593.1 108.9h0M588.5 124.6h0M596.9 100.2h0M632.3 93.8h0M659.4 97.1h0M653.0 125.8h0M591.4 109.3h0M597.0 104.4h0M617.7 163.2h0M613.1 159.6h0M637.9 77.7h0M575.4 130.8h0M577.9 133.3h0M657.4 128.8h0M617.2 107.3h0M634.0 105.5h0M606.1 103.5h0M659.9 97.7h0M636.4 80.7h0M604.6 77.6h0M617.9 139.8h0M635.4 99.1h0M645.7 104.4h0M637.9 126.1h0M635.8 65.7h0M587.6 138.4h0M622.3 166.9h0M616.5 97.1h0M666.2 131.8h0M671.6 129.0h0M617.8 141.0h0M598.6 101.6h0M605.3 108.6h0M650.4 100.4h0M635.9 99.0h0M640.8 66.2h0M617.2 122.4h0" stroke="#2a3a1e" stroke-width="1.9" stroke-linecap="round" fill="none"/>
<path d="M593.7 145.5h0M631.2 155.1h0M654.8 136.4h0M620.0 81.8h0M616.9 100.1h0M633.5 100.0h0M671.7 91.8h0M660.5 102.0h0M616.8 146.7h0M624.8 78.9h0M639.4 109.4h0M575.5 121.1h0M592.8 93.8h0M641.6 126.8h0M618.0 166.1h0M639.0 95.4h0M633.2 112.0h0M582.2 85.9h0M595.9 159.2h0M618.1 106.5h0M606.9 147.2h0M625.4 162.1h0M645.1 158.9h0M620.5 129.7h0M609.4 110.4h0M580.0 101.3h0M594.9 95.9h0M661.9 124.4h0M659.7 140.9h0M652.0 146.1h0M605.1 142.3h0M613.5 98.0h0M649.6 161.5h0M600.8 158.8h0M650.5 90.1h0M634.4 129.5h0M637.9 103.8h0M585.8 117.3h0M651.6 140.8h0M644.7 149.7h0M592.5 115.0h0M635.6 148.3h0M630.2 134.5h0M627.9 165.9h0M574.6 115.8h0" stroke="#c9cf8e" stroke-width="1.3" stroke-linecap="round" fill="none"/>
</g>
<g transform="translate(0 -0.80) scale(1 1.0067)">
<circle cx="767.9" cy="118.4" r="74.3" fill="#1c140f"/>
<circle cx="767.9" cy="118.4" r="73.39999999999999" fill="#35261c"/>
<circle cx="767.9" cy="118.4" r="71.2" fill="none" stroke="#cfc6c4" stroke-width="1.1" opacity="0.62"/>
<circle cx="767.9" cy="118.4" r="68.7" fill="none" stroke="#2a1e14" stroke-width="3.4"/>
<circle cx="767.9" cy="118.4" r="67.1" fill="#3f301c"/>
<circle cx="770.1" cy="118.0" r="64.698" fill="#2b2018"/>
<circle cx="770.1" cy="118.0" r="63.897999999999996" fill="#6e655a"/>
<path d="M830.6 123.8h0M714.6 122.1h0M723.1 95.8h0M777.1 171.8h0M788.4 144.5h0M808.6 125.6h0M736.5 114.2h0M784.1 106.5h0M743.4 103.7h0M724.3 86.8h0M766.3 102.9h0M771.4 166.4h0M782.7 116.6h0M731.8 82.8h0M784.6 84.4h0M785.9 78.5h0M775.8 114.9h0M807.5 103.3h0M754.6 128.2h0M771.8 171.6h0M759.6 96.1h0M757.0 137.5h0M779.5 145.8h0M739.9 172.0h0M825.8 117.1h0M726.3 123.6h0M781.0 59.4h0M770.6 68.1h0M785.7 165.0h0M801.5 72.2h0M814.4 147.1h0M755.4 138.5h0M820.3 107.0h0M769.5 95.0h0M798.8 64.6h0M814.7 87.6h0M797.9 69.3h0M735.3 95.8h0M795.3 68.6h0M793.7 93.2h0M814.4 106.9h0M790.2 110.9h0M824.6 107.1h0M769.4 175.3h0M773.2 145.7h0M740.7 126.0h0M710.5 120.8h0M749.2 69.5h0M727.0 152.8h0M784.1 68.2h0M823.2 97.6h0M754.7 128.3h0M737.2 71.2h0M744.3 158.8h0M798.9 70.3h0M813.9 119.2h0M790.8 120.1h0M785.6 80.6h0M736.6 92.1h0M755.3 142.9h0M735.2 163.7h0M745.3 95.0h0M797.8 135.1h0M757.5 78.3h0M740.3 70.3h0M807.7 153.6h0M825.0 132.6h0M783.2 147.9h0M806.5 108.1h0M779.6 176.3h0M724.6 80.2h0M735.2 145.3h0M813.0 105.8h0M797.3 116.0h0M782.3 96.0h0M768.9 117.8h0M797.6 172.3h0M716.1 133.9h0M769.9 155.2h0M807.6 145.6h0M799.2 83.8h0M727.0 160.2h0M810.2 86.4h0M814.0 140.7h0M712.6 139.1h0M737.2 156.8h0M744.2 89.7h0M719.1 110.8h0M807.0 93.7h0M729.6 164.7h0M823.7 138.0h0M751.1 75.3h0M718.7 135.5h0M811.5 84.2h0M770.1 106.3h0M759.6 138.6h0M826.6 100.8h0M799.6 155.8h0M758.1 111.7h0M727.9 151.9h0M749.2 92.2h0M772.7 84.3h0M731.1 106.8h0M820.0 111.1h0M787.5 69.5h0M725.2 159.9h0M757.1 67.6h0M765.8 142.8h0M719.4 92.1h0M780.1 82.5h0M798.8 152.6h0M788.2 100.4h0M768.2 92.2h0M764.6 131.4h0M758.7 155.0h0M830.2 105.3h0M783.5 150.1h0M796.2 108.4h0M752.2 155.4h0M794.9 138.1h0M739.5 142.0h0M801.6 110.7h0M787.1 175.2h0M715.6 135.6h0M734.1 76.1h0M760.4 140.4h0M772.0 75.1h0M722.3 99.5h0M770.6 85.2h0M731.1 163.5h0M737.1 111.8h0M748.3 94.7h0M771.8 105.4h0M791.9 76.2h0M733.3 166.3h0M767.1 148.7h0M812.1 137.7h0M771.3 66.5h0M722.1 147.3h0M796.6 140.3h0M732.3 69.4h0M735.4 79.2h0M776.2 79.2h0M820.3 98.3h0M748.7 150.9h0M782.8 83.2h0M793.1 171.7h0M725.8 109.0h0M741.3 66.0h0M794.4 145.1h0M806.9 134.2h0M712.3 117.2h0M746.6 76.6h0M731.1 145.0h0M761.5 174.9h0M783.8 62.3h0M799.9 159.7h0M771.2 73.7h0M817.7 82.6h0M767.6 61.3h0M735.3 70.8h0M805.7 156.6h0M756.1 71.1h0M767.6 134.0h0M724.8 83.6h0M765.9 146.6h0M773.2 136.9h0M742.4 62.8h0M782.2 82.5h0M764.8 102.0h0M789.0 87.7h0M819.7 119.1h0M791.2 143.1h0M809.0 133.2h0M717.2 99.0h0M825.3 132.0h0M792.9 137.0h0M745.0 91.5h0M747.1 159.2h0M781.3 172.6h0M784.7 173.5h0M786.6 75.2h0M824.3 128.5h0M813.9 125.9h0M756.1 125.2h0M733.6 79.2h0M736.0 97.9h0M722.2 114.4h0M778.8 175.7h0M826.2 116.5h0M805.0 109.4h0M786.8 116.6h0M747.4 121.2h0M720.5 132.8h0M759.2 77.2h0M755.2 140.9h0M742.8 137.1h0M788.5 168.4h0M728.9 113.8h0M787.0 167.7h0M780.7 148.5h0M721.4 98.6h0M823.5 108.9h0M827.0 98.8h0M761.0 65.7h0M796.3 128.9h0M828.1 122.8h0M761.4 69.1h0M766.9 155.2h0M795.8 160.6h0M804.7 116.1h0M795.3 125.2h0M733.6 164.8h0M784.3 78.2h0M786.5 130.2h0M801.4 163.4h0M708.8 129.2h0M817.5 88.6h0M714.0 126.4h0M784.4 132.9h0M729.0 100.7h0M778.0 148.4h0M829.2 125.9h0M755.0 59.0h0M811.2 113.0h0M765.8 79.4h0M791.9 64.9h0M774.8 123.3h0M780.8 164.7h0M765.8 122.1h0M796.9 69.4h0M757.4 120.9h0M805.2 88.6h0M802.2 133.4h0M728.3 76.5h0M720.3 122.9h0M778.6 147.7h0M802.2 96.4h0M808.3 147.3h0M789.7 137.9h0M724.0 131.0h0M735.6 78.2h0M755.0 124.0h0M767.8 103.7h0M731.2 125.3h0M745.5 71.2h0M773.3 168.3h0M754.8 77.8h0M807.6 164.4h0M757.4 108.9h0M774.5 180.0h0M775.3 156.9h0M783.6 62.8h0M734.2 77.8h0M788.7 122.6h0M825.6 109.6h0M783.5 121.3h0M773.7 178.3h0M779.8 168.4h0M815.4 96.8h0M798.2 102.4h0M774.9 124.9h0M771.0 97.9h0M822.1 109.1h0M791.8 169.9h0M793.4 156.2h0M813.8 152.3h0M816.2 79.7h0M827.9 118.8h0M716.8 98.5h0M720.8 117.2h0M723.7 86.7h0M783.0 124.8h0M737.7 108.5h0M765.7 121.3h0M769.8 108.3h0M797.2 68.5h0M749.0 123.7h0M753.4 94.9h0M751.3 127.0h0" stroke="#231e1a" stroke-width="2.8" stroke-linecap="round" fill="none"/>
<path d="M815.9 111.2h0M758.6 133.3h0M762.9 60.7h0M781.6 101.7h0M746.9 143.5h0M772.0 94.0h0M721.5 79.6h0M770.7 112.8h0M788.9 127.6h0M753.0 72.7h0M728.2 112.7h0M729.2 144.9h0M734.4 69.8h0M764.0 62.5h0M819.0 88.2h0M767.8 107.3h0M745.8 65.6h0M716.9 142.7h0M796.0 173.0h0M721.0 136.8h0M769.5 152.3h0M749.4 147.0h0M804.6 141.4h0M820.4 111.9h0M819.9 95.4h0M802.5 64.6h0M770.7 85.2h0M770.2 158.2h0M799.9 121.9h0M815.5 78.6h0M744.0 166.4h0M779.3 59.7h0M782.7 74.1h0M815.1 152.8h0M750.8 163.7h0M739.3 152.0h0M794.6 112.6h0M720.6 108.3h0M711.2 103.5h0M720.1 150.9h0M747.4 60.8h0M794.5 133.4h0M756.2 176.0h0M801.9 120.7h0M756.8 57.2h0M788.6 155.1h0M750.0 70.0h0M768.7 63.7h0M770.4 149.7h0M821.4 127.0h0M778.2 148.8h0M819.1 106.8h0M727.5 90.5h0M727.5 87.9h0M764.8 132.9h0M777.0 121.1h0M754.9 136.0h0M803.5 146.6h0M821.1 108.1h0M762.0 172.3h0M778.8 135.8h0M757.0 155.8h0M754.6 79.2h0M767.5 98.9h0M803.5 102.9h0M775.5 108.5h0M784.2 91.8h0M804.5 73.7h0M754.3 89.0h0M797.3 119.7h0M790.7 104.0h0M744.2 77.6h0M756.0 95.4h0M782.2 133.3h0M808.6 113.8h0M742.9 79.4h0M772.8 133.7h0M827.6 123.4h0M812.1 162.8h0M735.3 158.2h0M806.0 160.4h0M769.7 155.9h0M749.4 115.0h0M770.7 173.8h0M761.6 155.7h0M772.8 88.5h0M780.2 145.5h0M741.8 143.2h0M743.0 84.6h0M779.7 107.7h0M740.5 69.0h0M771.1 128.7h0M750.4 126.0h0M719.0 131.1h0M788.0 129.9h0M744.2 121.3h0M775.1 159.2h0M782.1 129.0h0M742.5 150.8h0M813.1 99.9h0M796.7 130.8h0M768.4 71.1h0M812.2 73.3h0M783.1 101.8h0M812.6 102.3h0M771.8 143.8h0M789.1 96.3h0M798.0 134.1h0M807.9 98.5h0M768.1 101.0h0M736.3 128.3h0M784.2 167.0h0M756.2 134.6h0M813.3 113.7h0M772.9 123.9h0M744.4 81.2h0M812.5 124.6h0M767.4 72.2h0M774.5 162.0h0M730.2 87.1h0M804.5 162.3h0M820.8 99.9h0M793.8 88.3h0M792.0 102.7h0M777.1 165.9h0M784.7 107.6h0M772.5 129.6h0M748.3 126.8h0M789.6 168.6h0M717.5 87.7h0M728.0 147.8h0M830.9 122.8h0M774.7 161.0h0M709.3 113.5h0M707.8 121.1h0M749.0 97.9h0M784.3 93.7h0M812.4 117.9h0M779.2 178.7h0M752.7 153.9h0M741.8 160.7h0M808.0 123.5h0M800.0 166.5h0M818.9 118.0h0M768.0 160.1h0M721.2 98.0h0M790.0 141.4h0M814.7 160.1h0M783.8 136.7h0M722.8 111.4h0" stroke="#7a5237" stroke-width="2.4" stroke-linecap="round" fill="none"/>
<path d="M781.4 108.2h0M772.6 143.5h0M733.9 96.4h0M720.4 150.0h0M739.5 68.6h0M801.4 109.3h0M807.5 103.7h0M826.9 137.1h0M776.7 123.0h0M761.8 150.7h0M827.3 105.9h0M730.1 140.0h0M802.9 72.2h0M744.5 81.1h0M793.1 138.7h0M743.9 77.8h0M788.8 61.6h0M796.9 111.6h0M822.9 145.3h0M746.0 106.6h0M758.8 88.4h0M773.3 155.8h0M719.1 110.3h0M818.4 142.0h0M739.5 87.7h0M743.7 68.5h0M813.2 120.6h0M747.0 70.5h0M754.1 96.7h0M823.8 103.7h0M774.5 158.9h0M797.6 110.5h0M718.4 151.2h0M794.6 100.2h0M766.6 80.6h0M741.7 71.0h0M790.7 139.2h0M777.2 149.6h0M792.6 123.1h0M736.3 140.6h0M812.3 140.5h0M814.6 101.1h0M737.7 159.4h0M745.9 128.1h0M761.8 119.0h0M758.8 95.5h0M728.1 162.9h0M776.1 61.0h0M738.8 79.1h0M752.9 58.8h0M788.3 169.8h0M760.1 148.1h0M791.2 74.2h0M804.5 70.5h0M746.4 103.2h0M815.7 122.3h0M765.1 85.7h0M774.0 119.8h0M794.4 164.3h0M800.2 118.7h0M765.1 170.6h0M778.8 117.3h0M815.8 157.9h0M793.8 113.5h0M746.9 157.0h0M752.8 154.6h0M738.5 122.2h0M787.2 124.2h0M780.0 134.2h0M732.9 81.2h0M765.6 173.6h0M765.2 81.7h0M742.9 119.4h0M812.4 97.7h0M793.4 125.8h0M756.4 81.6h0M763.9 88.6h0M786.5 64.3h0M809.9 144.8h0M789.1 167.2h0M788.7 65.4h0M772.4 137.0h0M745.7 77.7h0M787.9 139.0h0M752.2 107.8h0M749.6 95.0h0M767.9 158.7h0M717.9 107.0h0M822.5 128.3h0M776.2 151.3h0M736.8 77.9h0M725.4 78.7h0M779.9 151.6h0M753.4 90.7h0M786.5 142.9h0M777.7 61.5h0M757.2 58.0h0M779.7 84.5h0M748.8 166.8h0M816.1 134.8h0M781.9 125.4h0M745.8 115.9h0M823.5 93.6h0M743.0 124.6h0M802.7 148.5h0M732.7 113.0h0M760.5 73.4h0M773.4 97.8h0M805.4 134.6h0M738.8 121.3h0M755.6 92.3h0M752.1 157.4h0M757.2 64.5h0M741.1 148.2h0M824.5 91.4h0M755.2 104.2h0M722.0 131.7h0M767.9 129.9h0M829.5 110.9h0M799.6 149.0h0M745.0 94.6h0M819.5 140.7h0M775.5 76.9h0M803.9 138.2h0M821.2 152.3h0M802.0 128.6h0M772.7 95.1h0M783.2 128.3h0M793.6 157.2h0M783.0 95.7h0M795.4 166.7h0M737.5 134.4h0M792.2 139.6h0M791.2 114.2h0M766.9 171.9h0M816.5 80.5h0M709.7 128.4h0M743.4 97.5h0M718.3 129.5h0M767.8 95.5h0M791.4 175.6h0M814.3 153.2h0M753.6 144.5h0M768.7 160.9h0M794.2 116.6h0M791.8 89.9h0M795.3 165.9h0M755.3 140.8h0M720.6 145.9h0M801.1 82.0h0M824.8 121.6h0M723.5 81.1h0M804.3 107.4h0M803.0 71.8h0M766.3 155.7h0M743.8 144.4h0M755.1 132.4h0M778.7 177.2h0M727.8 144.6h0M811.5 82.6h0M772.2 178.1h0M790.9 59.2h0M762.6 64.0h0M782.3 88.9h0M748.5 85.9h0M782.3 98.6h0M734.8 109.2h0M785.9 84.7h0M802.2 70.0h0M787.0 101.9h0M820.2 97.5h0M747.7 72.6h0M825.9 135.4h0M729.7 105.5h0M740.6 165.0h0M781.9 60.7h0M778.3 153.7h0M770.2 137.9h0M765.4 126.9h0M778.7 89.4h0M784.8 125.0h0M768.5 90.1h0M731.5 127.4h0M789.9 60.0h0M751.8 164.4h0M804.0 91.6h0M813.5 86.3h0M748.0 172.3h0M751.8 108.9h0M721.4 88.2h0M726.8 112.9h0M719.2 147.5h0M755.6 93.3h0M745.6 146.8h0M820.6 104.6h0M812.5 160.4h0M817.1 128.5h0M721.7 139.9h0M752.9 126.2h0M713.9 109.6h0M779.2 81.7h0M779.5 171.3h0M779.5 90.2h0M816.5 76.1h0M734.8 133.7h0M755.0 59.5h0M780.4 150.9h0M744.5 165.2h0M788.0 160.8h0M718.8 117.9h0M808.2 166.0h0M817.1 118.0h0M777.6 92.2h0M809.4 93.1h0M773.6 59.7h0M731.2 164.0h0M772.6 127.3h0M710.7 117.1h0M819.8 82.1h0M709.7 113.9h0M748.0 109.3h0M731.9 76.8h0M726.9 140.4h0M768.2 150.9h0M730.7 139.6h0M751.4 121.8h0M806.6 119.3h0M758.9 64.9h0M772.7 149.6h0M744.0 115.3h0M722.5 82.1h0M784.4 163.8h0M760.2 64.6h0M757.6 66.6h0M762.0 174.8h0M782.9 111.5h0M809.3 103.7h0M784.3 126.5h0M785.1 68.6h0M796.8 151.1h0" stroke="#928c84" stroke-width="2.0" stroke-linecap="round" fill="none"/>
<path d="M729.8 70.1h0M741.8 165.1h0M771.0 145.9h0M791.4 152.1h0M744.7 94.7h0M785.5 142.9h0M793.8 132.0h0M752.2 158.8h0M787.7 157.7h0M712.6 140.8h0M709.4 123.3h0M742.7 123.0h0M750.1 105.0h0M778.4 132.8h0M751.5 59.2h0M739.5 139.3h0M736.9 134.9h0M755.8 81.4h0M803.7 165.7h0M765.6 115.8h0M801.4 74.6h0M739.7 157.4h0M804.9 98.9h0M738.9 132.1h0M722.0 100.9h0M764.4 57.2h0M793.3 148.0h0M803.3 73.2h0M726.5 90.3h0M737.4 169.4h0M732.2 105.9h0M778.9 137.4h0M815.0 84.3h0M805.2 124.0h0M726.3 123.6h0M731.3 162.9h0M743.3 155.0h0M815.4 96.5h0M734.3 123.2h0M733.0 149.9h0M777.3 86.8h0M743.3 146.4h0M731.1 163.5h0M738.2 110.0h0M742.0 167.4h0M797.9 162.0h0M797.4 121.8h0M822.5 138.5h0M788.2 141.9h0M800.2 129.4h0M764.6 65.1h0M821.7 85.4h0M713.0 99.1h0M821.1 150.2h0M744.9 129.1h0M769.4 59.9h0M755.7 130.6h0M808.1 79.0h0M719.3 82.5h0M784.5 121.5h0M776.7 124.5h0M757.2 69.9h0M789.3 134.4h0M790.7 162.4h0M741.2 63.4h0M730.4 165.6h0M734.2 133.7h0M769.5 148.2h0M831.8 108.1h0M762.9 92.8h0M780.5 140.1h0M738.2 161.3h0M812.7 134.5h0M765.3 107.6h0M718.3 138.7h0M732.6 98.7h0M805.8 85.0h0M749.6 151.7h0M824.6 97.7h0M810.5 94.1h0M786.5 138.5h0M731.4 152.9h0M826.2 119.6h0M780.2 74.2h0M826.1 120.0h0M726.1 144.4h0M721.7 95.3h0M718.5 151.3h0M828.2 101.3h0M743.7 94.6h0M746.9 140.8h0M816.0 86.3h0M783.6 62.8h0M822.0 115.0h0M747.4 167.6h0M766.3 166.9h0M801.7 166.7h0M737.3 120.3h0M786.1 109.6h0M819.5 94.8h0M802.5 162.1h0M716.6 91.4h0M735.0 96.8h0M787.0 110.5h0M773.5 98.2h0M766.6 138.8h0M798.9 87.8h0M765.4 86.6h0M763.9 67.9h0M806.1 143.4h0M765.0 89.4h0M751.4 90.7h0M728.8 161.7h0M828.8 96.1h0M727.6 139.1h0M789.7 67.0h0M714.0 133.8h0M720.4 153.5h0M748.8 121.7h0M770.0 94.1h0M763.9 104.9h0M816.1 114.6h0M768.7 95.3h0M745.0 88.8h0M770.4 174.6h0M812.5 127.0h0M819.5 148.0h0M779.2 110.8h0M728.2 127.5h0M759.6 65.5h0M736.6 168.5h0M779.3 139.3h0M778.7 98.0h0M787.5 158.8h0M757.0 139.7h0M809.1 99.6h0M777.1 87.4h0M795.3 102.6h0M810.9 90.8h0M824.3 108.0h0M738.9 84.5h0M795.7 85.0h0M819.0 152.7h0M787.8 69.3h0M769.1 87.8h0M714.7 131.0h0M828.6 103.8h0M797.7 161.9h0M732.5 104.7h0M781.6 138.2h0M726.8 126.2h0M765.8 155.8h0M718.5 99.8h0M748.7 104.6h0M798.8 93.1h0M830.2 102.5h0M800.5 154.9h0M808.2 109.9h0M736.5 107.7h0M798.0 123.1h0M793.9 141.5h0M737.8 83.8h0M819.3 101.4h0M730.5 164.5h0M739.3 83.5h0M803.4 79.0h0M738.9 155.5h0M750.9 176.7h0M772.3 179.8h0M775.8 120.4h0M743.2 108.7h0M748.6 117.0h0M796.7 74.2h0M745.9 62.7h0M821.7 115.4h0M769.5 115.4h0M809.1 130.5h0M804.5 111.2h0M764.7 115.5h0M718.7 148.1h0M721.9 87.6h0M798.2 120.3h0M794.7 169.6h0M818.7 154.1h0M763.7 176.5h0M734.6 114.5h0M809.1 109.6h0M764.8 102.6h0M800.2 63.7h0M811.7 152.7h0M767.0 141.9h0M736.6 156.4h0M830.0 100.0h0M819.6 116.0h0M755.8 97.3h0M763.1 72.0h0M732.5 164.1h0M769.3 141.6h0M783.3 138.3h0M722.5 88.4h0" stroke="#d8d1c4" stroke-width="1.6" stroke-linecap="round" fill="none"/>
<path d="M792.1 152.7h0M731.4 98.5h0M733.7 140.3h0M784.8 119.4h0M744.7 131.4h0M771.3 89.0h0M783.1 92.0h0M803.6 140.1h0M744.3 140.0h0M772.7 90.2h0M744.9 72.1h0M730.8 130.1h0M809.9 97.3h0M776.9 132.6h0M799.5 134.7h0M809.5 142.6h0M741.2 133.1h0M715.0 113.8h0M770.9 141.5h0M758.7 149.4h0M810.9 92.1h0M748.2 128.5h0M790.3 123.9h0M796.8 80.0h0M795.4 156.0h0M808.6 132.8h0M760.2 134.6h0M767.8 69.4h0M745.7 116.4h0M751.5 84.5h0M760.4 102.5h0M773.3 115.7h0M776.4 154.3h0M775.8 135.0h0M748.3 65.5h0M754.6 144.2h0M756.7 93.5h0M731.3 145.9h0M748.7 127.9h0M808.7 136.3h0M824.8 114.8h0M803.4 142.1h0M744.0 119.9h0M750.4 82.2h0M781.6 88.4h0M817.4 97.1h0M747.9 121.7h0M748.8 120.2h0M751.2 73.8h0M720.4 91.4h0M816.8 131.6h0M776.5 98.8h0M763.9 130.8h0M727.7 93.6h0M742.4 157.2h0M737.6 154.1h0M760.6 173.6h0M766.5 119.5h0M811.2 144.6h0M800.5 83.4h0M800.0 162.3h0M765.9 98.0h0M735.6 150.2h0M782.8 118.3h0M737.7 160.6h0M803.2 117.2h0M812.9 90.4h0M799.4 84.8h0M815.5 109.1h0M811.3 104.0h0M783.9 157.4h0M736.3 121.6h0M741.0 147.5h0M746.3 103.3h0M763.0 158.5h0M732.4 117.1h0M756.9 96.0h0M739.8 111.9h0M776.2 70.1h0M778.2 77.1h0M770.5 173.0h0M734.4 115.6h0M760.8 153.8h0M756.8 67.9h0M721.3 123.4h0M779.1 156.1h0M749.7 143.3h0M738.4 156.5h0M767.3 91.1h0M775.3 168.5h0M743.4 78.9h0M738.5 82.0h0M767.9 132.9h0M762.9 126.6h0M810.9 108.1h0M743.1 68.8h0M779.6 91.3h0M759.8 135.0h0M784.1 70.7h0M734.7 120.8h0M765.1 158.2h0M757.3 65.4h0M801.1 74.6h0M735.0 132.1h0M748.0 169.8h0M779.7 139.7h0M759.5 171.8h0M790.4 91.0h0M802.3 74.7h0M746.7 129.5h0M775.2 82.6h0M809.9 155.0h0M735.9 131.6h0M745.5 101.2h0M806.3 122.6h0M765.2 122.6h0M735.4 154.1h0M746.5 159.2h0M751.8 99.8h0M817.0 124.0h0" stroke="#33602a" stroke-width="6.2" stroke-linecap="round" fill="none"/>
<path d="M745.7 97.5h0M786.8 169.7h0M794.0 102.7h0M731.9 95.1h0M765.2 128.1h0M748.6 160.0h0M736.4 92.9h0M789.6 136.9h0M755.8 153.2h0M733.6 160.3h0M813.7 156.9h0M773.4 172.3h0M771.9 163.0h0M761.9 126.0h0M785.3 67.3h0M763.9 169.4h0M712.2 125.6h0M804.3 130.1h0M776.6 164.0h0M779.5 64.9h0M735.2 107.1h0M775.9 99.9h0M766.9 168.9h0M715.6 139.4h0M803.7 139.6h0M770.7 120.6h0M784.9 127.8h0M743.8 146.4h0M738.5 116.5h0M757.5 77.7h0M794.1 115.2h0M728.9 115.3h0M732.3 157.3h0M784.0 171.3h0M748.8 144.5h0M737.0 88.9h0M766.5 134.7h0M804.4 108.1h0M805.9 149.4h0M737.1 111.3h0M744.5 165.6h0M750.0 150.2h0M804.1 108.6h0M750.8 131.7h0M745.1 77.1h0M734.8 130.4h0M775.8 169.9h0M718.4 132.2h0M734.5 153.6h0M797.2 123.0h0M817.2 106.1h0M751.4 81.0h0M744.4 122.5h0M792.1 159.8h0M759.8 89.9h0M756.8 100.9h0M751.6 102.1h0M737.2 116.0h0M749.7 111.3h0M724.2 122.8h0M791.7 142.5h0M751.3 78.9h0M731.5 83.3h0M745.1 106.0h0M720.0 136.9h0M723.5 97.2h0M744.2 147.7h0M822.4 107.9h0M759.1 102.3h0M761.9 111.1h0M823.1 94.6h0M765.9 87.9h0M784.1 97.6h0M790.0 80.6h0M825.3 123.5h0M720.3 137.7h0M753.9 78.3h0M787.3 97.9h0M797.6 97.6h0M803.7 123.6h0M784.5 124.4h0M755.6 103.6h0M787.2 144.8h0M760.0 173.5h0M815.5 87.3h0M809.0 115.5h0M778.9 88.1h0M817.5 94.4h0M767.0 90.1h0M817.6 148.7h0" stroke="#2f6925" stroke-width="6.2" stroke-linecap="round" fill="none"/>
<path d="M726.5 103.2h0M784.5 101.0h0M757.6 80.0h0M779.0 79.3h0M789.0 172.3h0M760.2 167.8h0M784.4 92.5h0M757.6 83.2h0M774.5 145.0h0M804.3 107.8h0M728.6 115.4h0M820.4 126.5h0M768.4 63.0h0M753.3 139.1h0M741.2 159.2h0M749.6 86.6h0M747.3 114.4h0M805.3 98.2h0M718.0 115.8h0M786.2 165.3h0M738.1 160.2h0M795.7 135.3h0M743.2 87.3h0M738.1 149.2h0M777.9 156.1h0M822.6 118.6h0M768.8 171.6h0M726.9 103.3h0M755.5 103.2h0M775.5 86.7h0M804.0 78.4h0M746.9 70.2h0M725.6 136.7h0M794.5 110.5h0M800.5 140.3h0M747.4 116.6h0M780.0 171.8h0M752.8 132.7h0M788.4 158.8h0M785.0 155.7h0M732.2 108.8h0M716.3 116.7h0M826.5 123.9h0M773.7 128.9h0M775.0 73.9h0M743.5 111.5h0M776.4 86.1h0M766.0 90.2h0M727.6 97.1h0M741.9 147.4h0M813.3 136.8h0M761.8 96.5h0M722.3 102.2h0M813.4 149.9h0M779.2 108.4h0M770.3 135.0h0M769.8 135.3h0M740.8 120.0h0M757.7 156.0h0M734.0 155.7h0M766.7 98.4h0M771.0 123.3h0M760.9 135.0h0M753.2 68.9h0M797.0 117.3h0M819.9 129.7h0M721.9 147.9h0M744.5 138.6h0M821.5 143.2h0M731.2 115.0h0M722.5 137.8h0M789.8 82.6h0M786.4 151.7h0M799.2 94.3h0M746.7 80.7h0M726.8 128.7h0M771.4 161.9h0M781.1 105.5h0M732.6 158.5h0M776.8 117.1h0M737.5 84.5h0M792.3 84.4h0M792.0 141.6h0M758.5 69.2h0M783.4 163.2h0M743.7 78.3h0M808.8 123.4h0M749.5 158.5h0M759.2 136.0h0M755.0 90.4h0M778.3 86.6h0M719.4 103.0h0M807.7 151.4h0M821.8 141.6h0M819.5 125.9h0M753.2 136.3h0M737.2 143.5h0M752.4 128.5h0M738.2 113.4h0M805.7 110.6h0M744.3 129.1h0M802.8 111.5h0M737.6 75.4h0M730.1 149.8h0M766.6 137.1h0M808.1 128.3h0M788.7 99.1h0M722.3 136.8h0M766.3 140.7h0M732.0 113.4h0M821.7 97.0h0M773.4 161.9h0M760.7 123.4h0M717.3 137.3h0M755.4 160.6h0M766.5 103.7h0M787.4 109.1h0M754.3 165.2h0M805.9 122.4h0M798.4 146.9h0M792.8 120.3h0M773.0 134.5h0M791.9 132.0h0M748.5 115.6h0M786.5 83.8h0M769.8 146.9h0M776.9 107.2h0M769.2 99.7h0M805.4 105.2h0M725.4 86.6h0M782.1 126.8h0M754.5 75.7h0M764.5 87.5h0M744.7 118.5h0M741.3 130.0h0M742.5 101.5h0M762.8 164.5h0M815.3 144.9h0M742.0 118.8h0M801.6 145.7h0M720.3 116.8h0M743.6 144.9h0M794.1 98.8h0M825.2 111.4h0M827.1 114.5h0M767.7 171.0h0M749.8 100.8h0M817.4 117.3h0M786.2 77.1h0M818.0 144.2h0M783.6 144.7h0M750.8 100.7h0M721.8 129.6h0M809.5 145.1h0M802.2 142.7h0M741.3 78.7h0M794.9 124.9h0M805.7 108.9h0M738.1 134.4h0M753.3 70.3h0M748.2 87.8h0M731.9 100.1h0M791.9 171.0h0M820.7 106.7h0M810.2 116.1h0M785.4 93.6h0M767.8 68.3h0M819.8 97.8h0M792.2 97.1h0M779.5 78.6h0" stroke="#3a7f2c" stroke-width="5.8" stroke-linecap="round" fill="none"/>
<path d="M756.4 151.0h0M786.4 66.6h0M797.0 78.2h0M781.2 138.3h0M745.5 106.8h0M760.4 134.1h0M798.1 159.1h0M779.0 171.4h0M744.3 165.6h0M760.2 146.8h0M765.0 122.0h0M736.8 132.3h0M824.5 122.3h0M769.2 118.9h0M797.3 111.1h0M769.9 127.2h0M810.3 147.0h0M733.8 97.4h0M770.9 149.5h0M805.3 111.3h0M825.3 114.3h0M808.5 156.2h0M819.2 124.5h0M788.0 72.4h0M719.7 101.7h0M794.5 153.6h0M766.4 155.0h0M787.9 164.1h0M723.6 95.0h0M738.6 85.2h0M816.8 93.0h0M739.4 104.3h0M802.3 102.3h0M797.3 138.3h0M754.7 63.4h0M740.9 80.1h0M818.0 98.1h0M732.5 131.4h0M772.1 84.9h0M805.8 147.5h0M780.7 90.7h0M747.6 67.2h0M785.2 133.6h0M736.1 119.5h0M825.9 99.7h0M720.8 135.5h0M753.5 100.0h0M794.3 113.7h0M805.2 136.2h0M810.6 122.6h0M721.2 148.1h0M723.7 146.0h0M778.5 73.8h0M772.6 150.4h0M733.2 120.0h0M744.6 84.9h0M749.8 159.1h0M796.6 117.4h0M766.8 123.5h0M781.6 125.7h0M722.5 143.0h0M751.5 63.3h0M793.5 79.6h0M764.3 114.8h0M747.7 138.1h0M759.2 107.7h0M735.3 108.5h0M732.8 119.9h0M810.4 148.1h0M784.2 74.8h0M804.1 148.3h0M810.3 75.7h0M770.8 105.4h0M804.7 84.9h0M760.7 173.6h0M795.7 68.6h0M770.8 162.6h0M746.9 140.1h0M773.4 72.0h0M748.8 155.7h0M809.9 98.7h0M808.0 95.1h0M780.1 117.5h0M727.8 128.9h0M761.7 60.8h0M741.1 89.6h0M741.6 85.9h0M754.1 63.1h0M803.2 120.9h0M780.3 107.9h0M772.7 108.0h0M738.7 75.8h0M772.8 154.2h0M777.4 166.8h0M725.1 109.8h0M749.5 158.1h0M819.9 103.4h0M798.0 109.3h0M733.8 114.3h0M740.2 161.4h0M790.1 157.1h0M778.7 61.8h0M800.5 121.6h0M713.3 120.5h0M798.1 164.1h0M735.4 144.2h0M783.5 111.5h0M759.0 138.4h0M791.7 142.1h0M756.5 75.3h0M808.1 154.5h0M747.9 117.0h0M792.9 69.9h0M781.9 173.7h0M780.5 91.9h0M824.8 118.3h0M778.5 101.7h0M775.4 66.6h0M734.3 78.0h0M803.6 114.8h0M798.5 69.2h0M751.2 162.8h0M748.4 68.4h0M741.9 105.4h0M769.7 161.3h0M806.1 159.0h0M792.3 99.4h0M754.4 72.4h0M807.5 153.9h0M773.4 85.6h0M795.6 136.1h0M775.5 78.2h0M779.5 96.5h0M797.3 139.5h0M787.3 101.8h0M815.8 140.7h0M810.4 144.1h0M795.4 132.6h0M741.7 71.0h0M736.9 139.3h0M803.8 124.7h0M772.7 170.1h0M758.5 67.2h0M721.9 108.3h0M795.5 144.2h0M761.8 148.1h0M768.3 90.9h0M755.9 145.8h0M800.9 82.6h0M734.1 122.4h0M820.3 91.1h0M728.0 131.8h0M789.4 95.4h0M769.1 136.8h0M718.6 117.4h0M791.5 150.2h0M810.8 115.6h0M730.3 154.3h0M798.2 95.4h0M803.6 150.9h0M766.7 61.6h0M752.6 90.5h0M738.7 115.0h0M732.2 131.4h0M817.8 88.7h0M806.5 99.9h0M791.5 113.1h0M811.5 95.6h0M796.4 90.9h0M779.4 117.5h0M800.8 74.5h0M732.4 156.0h0M781.6 167.7h0M733.1 125.4h0M787.4 167.6h0M768.0 100.6h0M797.5 114.2h0M743.3 144.7h0M720.9 92.4h0M814.1 102.2h0M757.3 132.4h0M808.5 135.7h0M736.0 98.4h0M807.7 113.8h0M747.6 148.6h0M797.0 168.2h0M733.7 94.6h0M743.8 131.2h0M753.6 155.9h0M715.2 137.3h0M745.4 107.7h0M792.2 125.8h0M740.7 160.9h0M792.0 99.7h0M777.5 79.6h0M728.4 108.0h0M784.7 122.0h0M745.9 75.6h0M728.9 156.5h0M783.8 88.8h0" stroke="#4e9c3a" stroke-width="5.2" stroke-linecap="round" fill="none"/>
<path d="M810.0 135.9h0M754.4 95.0h0M809.6 129.2h0M819.4 128.8h0M748.2 96.0h0M743.4 127.5h0M779.9 141.0h0M786.0 81.7h0M762.6 84.2h0M786.0 75.5h0M749.2 87.7h0M746.3 108.3h0M817.6 110.1h0M724.1 108.5h0M797.6 138.0h0M776.6 171.6h0M809.2 121.2h0M805.4 79.8h0M763.8 86.3h0M775.6 167.0h0M755.1 165.7h0M740.0 159.5h0M722.5 94.5h0M806.1 114.7h0M775.9 117.5h0M777.4 110.9h0M734.9 107.7h0M774.2 85.3h0M783.6 168.3h0M721.5 102.1h0M758.9 118.8h0M773.7 90.8h0M768.7 118.2h0M767.4 165.9h0M774.3 71.3h0M722.9 135.6h0M757.1 94.7h0M725.7 108.0h0M766.6 92.1h0M757.3 150.0h0M798.7 137.7h0M764.4 73.7h0M793.5 162.5h0M807.9 152.1h0M781.0 132.6h0M769.6 160.2h0M763.2 172.8h0M799.1 106.2h0M770.1 69.0h0M742.6 106.9h0M824.7 100.1h0M803.8 120.8h0M758.8 141.6h0M719.6 141.6h0M823.2 126.0h0M767.6 124.4h0M794.9 99.9h0M774.8 137.5h0M756.4 133.1h0M782.7 144.6h0M735.5 99.4h0M755.7 158.1h0M777.7 68.6h0M738.9 164.9h0M781.4 75.4h0M736.7 123.2h0M806.9 159.3h0M755.8 106.4h0M819.5 93.0h0M818.2 128.3h0M773.3 160.9h0M787.7 88.0h0M722.2 118.5h0M786.6 161.5h0M718.1 144.4h0M789.0 163.8h0M799.9 125.9h0M786.9 133.3h0M745.9 113.7h0M775.2 100.5h0M731.0 79.9h0M789.3 137.6h0M773.9 77.9h0M801.2 103.9h0M724.0 152.4h0M738.0 166.0h0M790.5 101.4h0M715.4 101.8h0M810.2 154.4h0M777.8 67.7h0M755.1 107.0h0M788.3 113.1h0M780.6 69.1h0M750.1 162.3h0M727.0 145.1h0M824.8 133.3h0M730.7 153.0h0M718.0 127.4h0M756.4 159.2h0M810.7 124.5h0M818.0 144.0h0M753.2 83.6h0M826.6 108.8h0M786.4 113.5h0M755.8 69.9h0M764.3 113.4h0M804.7 100.1h0M726.2 88.2h0M768.5 127.9h0M797.2 103.8h0" stroke="#62b048" stroke-width="3.5" stroke-linecap="round" fill="none"/>
<path d="M791.1 123.6h0M820.6 116.4h0M775.7 139.8h0M808.5 89.3h0M751.6 107.4h0M721.2 147.6h0M808.2 118.8h0M825.1 138.6h0M815.6 153.0h0M797.4 75.7h0M817.4 130.9h0M728.9 119.8h0M795.8 151.3h0M776.9 97.8h0M797.2 91.3h0M767.2 146.6h0M724.3 129.8h0M719.9 94.4h0M728.1 115.0h0M797.3 116.1h0M803.6 121.5h0M762.1 137.1h0M760.6 123.4h0M806.1 98.5h0M805.6 84.1h0M763.6 67.2h0M754.1 165.6h0M782.0 160.1h0M727.3 88.8h0M787.1 148.0h0M793.8 70.9h0M790.1 115.2h0M774.9 136.6h0M761.8 67.9h0M739.1 76.4h0M726.2 113.6h0M811.7 95.5h0M745.0 80.5h0M719.0 120.0h0M751.1 108.7h0M736.0 135.1h0M730.0 136.2h0M746.4 146.1h0M738.0 133.9h0M787.5 114.9h0M819.8 123.3h0M738.9 142.1h0M740.3 98.6h0M770.6 125.3h0M810.1 77.4h0M761.1 157.1h0M763.7 130.7h0M812.1 84.4h0M771.8 147.6h0M753.3 68.3h0M734.2 124.9h0M775.5 170.2h0M805.7 76.8h0M804.2 147.8h0M819.6 113.4h0M748.4 123.7h0M816.8 136.7h0M818.1 140.1h0M749.7 83.1h0M814.2 82.2h0M756.3 105.6h0M737.7 97.9h0M770.2 174.7h0M767.6 97.6h0M774.6 152.1h0" stroke="#2a3a1e" stroke-width="1.9" stroke-linecap="round" fill="none"/>
<path d="M740.1 103.2h0M720.9 137.6h0M790.8 163.4h0M742.4 168.0h0M802.2 108.0h0M754.7 105.9h0M730.8 142.8h0M747.9 91.7h0M790.4 122.4h0M747.5 109.0h0M754.1 161.4h0M804.4 93.4h0M768.8 163.0h0M761.8 169.3h0M786.9 143.0h0M718.2 139.1h0M783.2 140.2h0M788.5 138.0h0M751.8 150.1h0M772.4 80.7h0M733.5 123.8h0M778.6 62.8h0M719.7 143.5h0M769.9 176.1h0M722.2 110.3h0M747.6 138.8h0M806.6 159.5h0M738.9 155.9h0M728.7 128.4h0M776.7 141.8h0M745.1 159.6h0M767.3 117.2h0M760.7 80.5h0M797.3 130.6h0M782.8 169.8h0M738.1 107.6h0M770.4 149.7h0M763.6 152.0h0M783.3 67.5h0M752.4 65.6h0M758.9 101.7h0M793.0 124.6h0M767.9 160.7h0M789.8 77.5h0M743.9 130.4h0" stroke="#c9cf8e" stroke-width="1.3" stroke-linecap="round" fill="none"/>
</g>
<g transform="translate(0 -3.43) scale(1 1.0290)">
<circle cx="915.2" cy="118.2" r="72.4" fill="#1c140f"/>
<circle cx="915.2" cy="118.2" r="71.5" fill="#35261c"/>
<circle cx="915.2" cy="118.2" r="69.30000000000001" fill="none" stroke="#cfc6c4" stroke-width="1.1" opacity="0.62"/>
<circle cx="915.2" cy="118.2" r="66.80000000000001" fill="none" stroke="#2a1e14" stroke-width="3.4"/>
<circle cx="915.2" cy="118.2" r="65.2" fill="#3f301c"/>
<circle cx="915.4000000000001" cy="118.0" r="63.064" fill="#2b2018"/>
<circle cx="915.4000000000001" cy="118.0" r="62.264" fill="#6e655a"/>
<path d="M968.0 111.9h0M908.3 129.0h0M946.1 114.5h0M927.4 100.9h0M894.6 88.1h0M940.9 96.6h0M937.3 134.1h0M936.1 61.3h0M884.0 78.6h0M909.0 149.2h0M967.1 149.4h0M961.3 130.8h0M899.9 139.3h0M861.3 141.0h0M915.7 142.7h0M881.4 82.1h0M889.6 116.3h0M929.7 103.6h0M929.2 144.6h0M873.5 114.4h0M866.3 100.8h0M948.2 92.2h0M969.1 132.5h0M949.5 122.0h0M944.8 155.0h0M919.8 96.6h0M899.9 172.1h0M907.9 99.4h0M894.3 68.0h0M895.2 131.1h0M896.8 89.0h0M931.9 136.4h0M897.6 130.5h0M881.4 147.9h0M878.7 105.5h0M921.0 100.8h0M887.1 169.6h0M953.9 73.9h0M919.7 73.6h0M926.2 73.2h0M938.2 138.7h0M962.1 150.8h0M898.4 153.0h0M896.6 113.4h0M900.5 65.7h0M931.7 63.2h0M905.9 139.2h0M919.1 67.4h0M890.7 143.8h0M947.0 163.7h0M862.1 131.5h0M896.9 147.2h0M862.9 113.6h0M942.2 93.7h0M901.9 81.7h0M949.7 77.4h0M880.9 105.5h0M906.9 174.7h0M926.0 86.0h0M938.6 131.7h0M927.2 115.3h0M931.7 76.8h0M873.2 103.1h0M876.9 142.3h0M964.8 149.3h0M933.5 131.7h0M892.6 74.9h0M933.1 70.5h0M928.0 112.2h0M945.0 120.0h0M919.7 94.6h0M862.9 107.6h0M940.0 154.8h0M958.2 87.2h0M881.6 143.2h0M905.0 176.8h0M925.6 68.8h0M898.0 167.2h0M861.1 122.5h0M877.9 161.2h0M899.1 80.5h0M864.9 97.0h0M856.7 107.1h0M973.1 120.6h0M905.9 76.4h0M929.2 99.0h0M888.4 161.9h0M932.0 84.7h0M964.5 116.2h0M935.9 124.0h0M956.2 139.2h0M901.8 146.0h0M899.3 123.5h0M962.3 87.8h0M877.5 103.4h0M898.4 162.2h0M881.0 167.4h0M965.4 103.9h0M923.1 103.1h0M941.0 143.1h0M943.2 146.2h0M970.9 113.1h0M943.1 110.6h0M917.0 127.2h0M913.3 132.3h0M882.5 112.1h0M894.4 77.5h0M888.1 98.8h0M910.6 67.6h0M906.1 77.2h0M883.6 125.3h0M955.7 128.4h0M895.8 100.5h0M951.8 74.0h0M948.8 74.2h0M889.9 119.9h0M908.5 169.9h0M935.6 116.0h0M951.6 119.4h0M887.9 156.3h0M958.0 154.3h0M884.9 167.4h0M899.3 147.6h0M942.3 171.5h0M868.5 88.5h0M956.8 135.3h0M909.0 57.9h0M933.5 110.4h0M872.8 161.6h0M857.2 105.0h0M915.2 127.7h0M944.9 107.6h0M881.4 104.4h0M863.3 90.4h0M969.3 99.3h0M913.1 173.2h0M954.5 122.5h0M944.3 107.4h0M884.2 152.4h0M919.7 169.1h0M904.6 102.6h0M929.7 110.2h0M903.5 84.0h0M926.0 131.4h0M969.9 117.2h0M862.9 131.9h0M973.0 106.9h0M884.1 111.5h0M855.4 111.0h0M909.2 68.5h0M936.9 85.5h0M863.0 97.7h0M933.1 171.6h0M959.5 124.9h0M894.6 107.4h0M951.1 99.0h0M930.9 153.9h0M881.9 96.3h0M933.9 118.3h0M910.3 96.5h0M913.5 172.8h0M952.3 74.3h0M917.4 121.9h0M916.7 70.8h0M909.9 124.2h0M888.4 130.4h0M864.0 86.3h0M919.6 134.2h0M908.6 99.2h0M922.2 157.8h0M950.0 115.0h0M898.5 156.5h0M935.6 150.9h0M904.7 85.0h0M922.9 92.9h0M954.2 146.8h0M859.5 135.0h0M957.0 150.3h0M897.5 85.5h0M948.4 152.4h0M917.6 76.1h0M865.7 126.7h0M884.7 92.8h0M931.6 156.2h0M860.5 100.2h0M960.9 116.5h0M901.8 143.3h0M879.6 79.7h0M916.1 168.6h0M953.5 117.8h0M952.7 102.9h0M882.7 71.6h0M925.8 152.3h0M930.9 116.4h0M900.9 157.5h0M913.8 69.6h0M960.5 96.7h0M931.7 118.2h0M954.4 127.1h0M959.0 125.5h0M897.0 97.7h0M939.7 87.2h0M950.7 108.9h0M882.7 87.3h0M911.0 171.7h0M945.8 118.8h0M890.8 169.7h0M903.7 118.0h0M901.0 163.4h0M922.7 99.2h0M922.4 80.5h0M876.3 112.0h0M859.2 140.9h0M966.4 89.6h0M910.8 67.2h0M922.6 126.9h0M939.7 74.3h0M892.2 93.1h0M909.1 176.2h0M907.0 116.3h0M896.0 148.3h0M970.3 142.8h0M960.5 86.5h0M954.8 119.0h0M955.1 151.5h0M935.2 67.6h0M920.9 97.5h0M933.9 119.6h0M945.8 71.6h0M886.0 115.0h0M928.6 101.4h0M914.2 120.4h0M954.4 113.8h0M922.6 63.9h0M862.5 88.5h0M924.4 60.0h0M932.4 114.0h0M915.5 89.0h0M899.3 149.8h0M930.3 116.9h0M895.4 126.7h0M958.3 117.3h0M902.3 76.0h0M919.2 82.8h0M870.4 145.2h0M898.6 63.1h0M895.0 170.3h0M911.7 72.0h0M876.9 143.1h0M932.2 126.8h0M907.4 137.8h0M964.6 133.6h0M909.8 70.5h0M929.6 167.8h0M937.4 75.4h0M921.9 163.3h0M890.4 137.4h0M949.1 163.6h0M875.7 74.5h0M930.1 145.7h0M900.6 117.1h0M901.0 160.4h0M857.6 124.6h0M872.4 95.3h0M868.9 90.5h0M914.4 119.1h0M969.3 111.4h0M929.7 132.6h0M924.0 166.7h0M921.3 124.3h0M910.6 118.2h0M913.3 155.6h0M916.2 120.9h0M913.5 148.0h0M897.7 153.1h0M893.3 144.8h0M970.8 124.7h0M912.2 75.3h0M944.8 118.5h0M948.8 93.9h0" stroke="#231e1a" stroke-width="2.8" stroke-linecap="round" fill="none"/>
<path d="M930.7 171.0h0M931.9 104.6h0M869.7 117.7h0M940.9 141.2h0M878.6 84.2h0M882.2 83.3h0M903.9 129.1h0M970.9 123.7h0M953.7 74.5h0M962.9 142.6h0M932.3 149.6h0M932.8 171.8h0M938.8 67.5h0M872.0 158.0h0M912.5 164.1h0M901.8 91.9h0M901.2 131.1h0M923.0 92.9h0M936.5 142.2h0M884.4 80.5h0M859.8 109.3h0M915.8 90.1h0M890.9 112.6h0M916.6 141.3h0M947.3 134.8h0M952.7 85.7h0M939.7 132.9h0M878.2 93.9h0M933.8 121.1h0M872.1 99.0h0M962.3 143.9h0M918.2 164.7h0M880.5 111.4h0M951.6 105.3h0M875.7 138.8h0M947.8 66.8h0M920.9 73.6h0M905.3 70.4h0M973.5 102.8h0M917.2 89.7h0M878.7 101.1h0M921.7 171.5h0M924.7 168.5h0M875.7 120.7h0M901.4 68.0h0M976.2 114.0h0M925.1 88.2h0M894.5 80.5h0M953.3 103.1h0M909.3 125.7h0M871.7 126.3h0M908.3 136.5h0M899.3 119.6h0M934.6 153.8h0M890.5 153.2h0M878.1 110.9h0M920.9 124.2h0M859.5 96.1h0M908.3 153.5h0M893.2 165.6h0M861.1 120.3h0M937.6 118.7h0M925.5 153.6h0M884.9 140.4h0M954.9 109.4h0M862.2 90.6h0M885.9 81.4h0M932.0 86.9h0M973.5 131.4h0M870.0 108.0h0M963.5 139.4h0M881.1 152.8h0M903.1 175.1h0M893.7 141.5h0M938.0 100.2h0M909.8 160.2h0M936.0 115.5h0M928.8 170.7h0M950.3 135.8h0M926.0 67.6h0M921.0 97.9h0M943.4 94.8h0M931.8 79.5h0M948.1 91.4h0M914.2 141.6h0M901.8 118.3h0M944.7 166.9h0M864.7 92.7h0M940.1 152.3h0M895.8 121.9h0M910.5 176.3h0M908.2 75.1h0M871.7 82.1h0M960.4 104.5h0M969.5 135.7h0M930.7 143.7h0M943.8 151.1h0M879.5 97.5h0M892.9 122.3h0M906.5 74.2h0M895.3 169.9h0M969.7 96.1h0M931.3 116.5h0M884.1 144.3h0M913.2 170.5h0M934.2 105.2h0M855.5 115.7h0M946.7 91.7h0M948.0 143.2h0M861.7 112.0h0M928.0 147.7h0M922.0 117.4h0M901.0 105.9h0M915.5 78.3h0M941.1 105.0h0M936.3 97.8h0M932.5 123.3h0M949.1 135.5h0M951.2 111.6h0M913.1 107.0h0M870.8 113.6h0M953.3 144.8h0M882.5 129.6h0M939.9 73.6h0M929.8 131.6h0M945.0 128.1h0M876.2 72.6h0M971.0 106.9h0M953.9 156.2h0M918.6 76.2h0M962.6 116.7h0M936.3 137.2h0M948.1 152.7h0M875.3 78.3h0M921.4 118.4h0M946.2 112.7h0M910.3 174.5h0M956.9 153.0h0M951.8 90.4h0M911.8 115.1h0M878.0 88.3h0M921.2 74.5h0M937.1 136.9h0M905.6 103.9h0M939.3 137.0h0M928.3 74.8h0M878.2 164.9h0M889.4 103.5h0M863.7 95.5h0M888.2 147.6h0" stroke="#7a5237" stroke-width="2.4" stroke-linecap="round" fill="none"/>
<path d="M861.8 89.6h0M898.7 98.1h0M885.3 100.9h0M864.6 126.6h0M958.6 123.5h0M896.9 161.5h0M933.3 80.3h0M892.9 94.1h0M913.8 161.6h0M887.1 112.1h0M919.5 75.0h0M896.5 142.2h0M945.5 68.4h0M943.5 106.5h0M959.2 139.0h0M971.2 126.8h0M900.1 86.0h0M868.3 136.2h0M935.1 149.2h0M927.0 69.0h0M898.5 108.0h0M921.7 148.3h0M963.3 127.6h0M862.7 92.1h0M860.3 98.4h0M872.3 126.5h0M907.3 158.8h0M954.7 101.5h0M951.7 118.5h0M930.9 163.6h0M873.4 115.6h0M963.2 94.4h0M924.5 123.6h0M901.0 73.1h0M890.5 82.7h0M955.4 127.2h0M939.6 77.3h0M936.1 123.9h0M952.6 92.6h0M941.7 162.1h0M966.0 92.1h0M881.9 74.6h0M950.8 139.7h0M928.6 84.9h0M950.5 162.6h0M913.9 112.9h0M957.4 135.7h0M961.4 104.3h0M929.5 104.1h0M892.3 106.0h0M903.8 138.5h0M902.6 121.0h0M888.2 77.1h0M959.6 87.8h0M966.0 144.0h0M858.5 102.3h0M898.0 118.9h0M908.2 93.6h0M960.0 113.5h0M950.4 93.3h0M892.4 162.1h0M905.0 77.9h0M909.1 157.1h0M909.0 89.5h0M938.6 153.6h0M906.8 104.8h0M907.3 177.6h0M909.6 171.3h0M909.3 134.8h0M858.7 122.9h0M917.7 104.8h0M901.5 71.9h0M865.9 123.5h0M889.5 114.4h0M908.0 97.3h0M894.7 170.4h0M875.7 99.9h0M904.7 76.5h0M881.5 148.2h0M951.3 123.1h0M974.5 132.9h0M956.7 91.0h0M946.2 165.3h0M904.1 171.6h0M887.7 79.4h0M913.7 86.5h0M938.1 79.2h0M917.9 62.1h0M914.3 157.1h0M904.5 130.9h0M951.3 82.4h0M870.4 120.9h0M927.1 106.9h0M883.7 157.4h0M873.4 108.7h0M913.8 146.8h0M898.3 86.7h0M969.0 95.8h0M947.0 112.0h0M895.8 116.2h0M904.8 130.9h0M855.7 117.4h0M918.3 81.3h0M905.7 176.1h0M968.5 136.2h0M925.3 105.4h0M962.2 103.1h0M884.9 143.6h0M881.0 90.1h0M954.4 75.4h0M912.8 123.1h0M924.2 69.7h0M906.0 104.2h0M966.8 144.6h0M887.9 149.7h0M942.0 113.5h0M905.4 106.6h0M866.7 98.3h0M944.6 162.5h0M969.8 107.1h0M930.4 60.5h0M906.0 73.8h0M940.1 69.0h0M881.0 81.8h0M930.8 150.0h0M889.6 168.4h0M921.9 85.7h0M930.2 117.4h0M947.8 131.2h0M968.0 145.8h0M891.4 147.5h0M942.7 82.8h0M887.8 88.4h0M857.5 132.8h0M907.8 161.6h0M892.7 121.1h0M941.8 152.6h0M927.5 79.7h0M970.4 139.4h0M952.7 161.7h0M962.6 131.8h0M934.3 142.7h0M868.6 143.1h0M879.1 133.6h0M879.4 143.4h0M904.0 176.5h0M923.5 138.7h0M880.9 107.1h0M913.2 106.1h0M899.0 85.0h0M945.4 103.2h0M884.0 132.1h0M883.7 111.3h0M896.4 83.7h0M906.8 86.2h0M871.5 130.3h0M905.7 69.6h0M899.3 125.7h0M933.2 133.2h0M926.0 141.9h0M896.7 87.7h0M940.1 101.9h0M916.1 144.1h0M946.5 157.7h0M888.4 103.5h0M934.0 71.4h0M872.5 138.6h0M892.9 84.2h0M946.3 138.1h0M950.6 105.6h0M903.7 104.1h0M923.9 61.9h0M889.4 144.6h0M884.8 115.5h0M920.9 139.2h0M898.6 77.8h0M973.1 101.7h0M957.2 75.8h0M920.4 109.9h0M956.8 161.9h0M949.0 83.9h0M885.9 90.5h0M894.6 128.6h0M884.8 108.5h0M956.5 157.5h0M864.4 92.1h0M902.8 162.6h0M906.1 172.9h0M927.9 165.5h0M882.6 106.2h0M952.7 138.5h0M860.7 110.0h0M923.0 143.2h0M896.7 169.4h0M920.8 166.3h0M932.5 121.5h0M904.2 76.4h0M947.3 145.3h0M951.0 104.1h0M878.3 104.1h0M902.7 117.6h0M949.9 86.8h0M896.7 144.7h0M938.1 172.4h0M935.7 86.4h0M879.2 90.6h0M918.8 128.6h0M913.1 93.5h0M908.1 114.8h0M939.9 121.4h0M888.2 78.7h0M964.9 115.2h0M908.5 117.0h0M956.6 106.9h0M923.3 108.3h0M936.9 81.8h0M923.5 156.1h0M956.9 139.2h0M925.3 168.2h0M938.8 163.0h0M877.3 83.3h0M947.0 107.8h0M899.7 82.9h0M959.0 83.7h0M919.4 70.9h0M911.2 176.0h0M973.8 106.4h0M886.3 165.1h0M891.2 67.5h0M928.6 79.0h0M872.3 151.3h0M890.1 81.0h0M923.0 110.2h0M956.9 121.5h0M961.3 150.2h0M964.2 148.2h0M918.9 140.1h0M916.6 67.7h0M875.5 143.2h0M859.2 98.5h0" stroke="#928c84" stroke-width="2.0" stroke-linecap="round" fill="none"/>
<path d="M870.6 115.9h0M877.3 127.3h0M907.9 99.0h0M894.5 63.0h0M918.5 73.1h0M903.9 133.2h0M952.9 142.6h0M956.9 79.1h0M936.9 166.3h0M930.3 78.4h0M932.0 97.5h0M893.0 155.6h0M909.4 77.5h0M897.1 171.8h0M884.6 142.8h0M922.4 159.9h0M905.4 82.7h0M892.9 81.5h0M975.1 122.5h0M904.7 161.8h0M942.2 110.9h0M940.9 128.8h0M947.7 164.2h0M903.0 116.6h0M909.5 161.3h0M930.9 148.1h0M949.0 95.0h0M920.4 164.9h0M948.8 146.7h0M904.5 103.4h0M883.0 107.8h0M913.8 70.1h0M955.5 92.4h0M926.1 142.0h0M899.6 65.3h0M951.8 133.1h0M906.8 158.9h0M947.2 85.2h0M913.5 64.6h0M907.1 165.3h0M885.6 147.7h0M866.4 108.5h0M942.8 166.7h0M933.5 147.0h0M950.8 68.8h0M875.5 162.3h0M973.4 131.9h0M918.9 128.9h0M917.2 93.5h0M915.5 112.9h0M941.4 143.6h0M951.6 139.2h0M885.6 161.2h0M855.5 120.7h0M929.4 97.0h0M965.5 89.3h0M874.7 100.4h0M932.1 148.3h0M920.4 144.6h0M889.2 95.1h0M920.5 72.1h0M923.8 102.0h0M940.3 82.3h0M895.3 96.0h0M902.5 81.3h0M907.1 72.1h0M936.7 143.8h0M915.5 110.3h0M884.9 84.8h0M907.7 83.8h0M873.7 124.1h0M915.3 101.5h0M884.4 116.0h0M889.1 101.5h0M923.4 146.3h0M944.5 95.4h0M953.6 82.2h0M910.0 163.1h0M974.3 121.2h0M901.5 103.0h0M872.7 112.9h0M899.7 89.1h0M956.0 92.1h0M965.0 142.4h0M940.6 95.7h0M901.8 63.0h0M927.3 107.1h0M931.2 92.0h0M931.6 70.1h0M858.8 130.4h0M935.4 60.5h0M960.1 106.1h0M910.7 68.2h0M880.5 143.3h0M887.1 116.6h0M911.5 174.0h0M944.4 76.0h0M899.0 77.6h0M870.7 95.9h0M956.0 119.9h0M942.6 112.8h0M898.8 121.5h0M913.7 173.4h0M968.8 129.2h0M932.3 63.7h0M912.8 176.9h0M887.0 147.6h0M958.3 104.3h0M906.9 99.6h0M946.8 118.9h0M959.0 152.2h0M915.5 177.8h0M903.8 93.9h0M907.0 84.6h0M898.8 115.2h0M942.3 71.0h0M871.1 93.3h0M903.7 136.4h0M891.5 164.8h0M894.7 109.3h0M917.8 160.0h0M928.3 119.2h0M894.2 124.9h0M932.2 103.9h0M915.2 63.6h0M897.4 159.2h0M963.3 115.6h0M869.6 157.3h0M911.8 177.6h0M900.8 154.9h0M895.6 163.2h0M952.9 83.9h0M940.6 173.3h0M908.0 75.2h0M927.1 101.8h0M871.2 86.7h0M923.7 68.6h0M954.4 134.2h0M909.8 165.3h0M882.5 142.9h0M869.9 106.9h0M940.4 97.4h0M911.3 143.9h0M958.2 154.6h0M934.4 107.5h0M878.3 162.7h0M955.0 72.4h0M949.0 116.4h0M943.3 130.4h0M907.8 117.9h0M914.4 160.0h0M905.4 96.2h0M940.5 142.5h0M933.4 129.5h0M958.9 151.0h0M924.6 109.3h0M934.2 65.2h0M895.9 90.8h0M922.8 102.2h0M972.5 135.2h0M925.9 175.5h0M915.7 104.8h0M956.1 145.4h0M945.7 157.6h0M901.6 92.0h0M887.6 122.1h0M948.9 82.9h0M898.0 73.1h0M968.7 139.5h0M923.4 74.9h0M879.3 94.9h0M916.9 73.4h0M907.8 161.2h0M916.4 122.2h0M858.9 110.6h0M910.1 90.6h0M868.8 115.6h0M879.0 98.2h0M864.8 115.0h0M947.6 88.2h0M926.1 68.8h0M938.1 139.2h0M901.3 151.5h0M882.3 119.8h0M967.7 117.3h0M880.2 155.0h0M937.1 106.9h0M874.2 74.6h0M874.9 158.4h0M926.8 85.4h0M949.2 161.2h0M884.2 136.3h0M864.6 129.8h0M961.4 81.9h0M918.0 92.5h0M911.9 121.7h0M926.3 151.9h0M934.0 155.8h0M948.8 154.4h0M889.7 134.1h0" stroke="#d8d1c4" stroke-width="1.6" stroke-linecap="round" fill="none"/>
<path d="M902.6 87.9h0M965.9 125.6h0M916.7 65.8h0M907.4 146.4h0M908.0 96.9h0M959.8 108.5h0M902.4 113.9h0M907.7 154.1h0M937.4 115.3h0M901.6 109.0h0M963.0 109.3h0M933.9 73.2h0M927.5 143.6h0M956.0 128.2h0M937.3 130.3h0M939.9 165.4h0M922.9 88.3h0M938.2 113.8h0M937.7 145.2h0M921.7 100.6h0M925.5 77.6h0M925.3 86.4h0M933.3 122.8h0M908.7 78.3h0M917.6 92.3h0M910.5 144.1h0M943.2 80.1h0M942.3 157.4h0M952.9 127.3h0M913.2 166.9h0M906.3 72.5h0M919.4 129.8h0M885.6 82.0h0M966.4 121.0h0M942.8 97.4h0M870.4 112.6h0M955.8 97.6h0M866.6 113.2h0M904.5 118.7h0M880.5 107.3h0M897.2 148.7h0M921.2 149.4h0M914.4 65.6h0M866.0 131.9h0M944.0 146.8h0M913.7 68.6h0M897.3 133.5h0M958.0 107.3h0M896.2 90.5h0M947.7 145.8h0M872.0 147.6h0M890.2 76.4h0M871.4 97.4h0M952.4 159.4h0M877.4 96.9h0M922.0 134.5h0M902.2 72.1h0M900.9 92.9h0M866.5 122.0h0M881.7 76.9h0M957.1 144.2h0M959.7 121.7h0M899.6 114.6h0M875.3 140.4h0M926.5 105.8h0M865.7 115.0h0M954.5 153.3h0M946.4 105.5h0M921.1 139.5h0M922.4 154.1h0M901.1 66.1h0M864.7 98.5h0M874.6 138.2h0M952.1 118.0h0M936.4 121.0h0M922.6 99.5h0M902.8 157.0h0M905.0 116.3h0M950.9 147.5h0M900.6 128.1h0M881.0 122.7h0M928.5 118.0h0M922.3 132.7h0M863.7 100.7h0M918.8 98.6h0M882.3 109.6h0M962.0 111.3h0M892.3 100.3h0M877.6 133.9h0M884.8 147.2h0M946.5 137.7h0M951.2 115.0h0M866.9 116.2h0M933.7 73.6h0M880.7 150.1h0M929.2 160.0h0M940.7 120.5h0M930.8 148.2h0M914.7 109.2h0M928.1 105.5h0M967.0 101.4h0M876.9 84.3h0M950.8 104.2h0M922.4 109.1h0M924.1 73.6h0M919.1 95.8h0M950.8 138.4h0M878.9 89.2h0M933.7 156.3h0M943.8 112.4h0M938.5 68.6h0M897.8 84.7h0M881.7 137.0h0M926.9 129.4h0M910.9 141.8h0M943.1 97.8h0M945.4 88.2h0M957.7 86.4h0M906.2 81.2h0M917.1 160.3h0" stroke="#33602a" stroke-width="6.2" stroke-linecap="round" fill="none"/>
<path d="M895.7 166.3h0M959.5 130.1h0M895.7 149.5h0M860.6 103.1h0M949.6 116.6h0M969.4 103.2h0M873.0 111.0h0M931.9 166.1h0M865.6 122.6h0M955.3 96.7h0M901.0 78.1h0M941.8 146.5h0M937.9 127.3h0M950.5 113.7h0M940.4 146.4h0M956.9 134.4h0M919.0 144.5h0M879.5 76.2h0M963.7 122.1h0M880.6 98.3h0M910.1 120.9h0M890.7 151.3h0M886.2 167.1h0M887.1 162.4h0M934.4 70.6h0M875.0 120.1h0M926.3 101.7h0M916.4 124.4h0M876.9 120.1h0M968.5 102.8h0M881.9 140.5h0M954.7 148.5h0M892.1 115.2h0M923.9 109.7h0M929.4 155.0h0M936.7 117.6h0M910.1 168.7h0M886.9 165.3h0M943.1 121.3h0M896.0 167.1h0M953.1 146.2h0M958.2 81.1h0M919.8 105.9h0M888.8 120.8h0M935.8 137.6h0M911.3 74.8h0M936.3 140.4h0M965.9 140.2h0M916.4 78.6h0M970.4 104.4h0M923.2 145.8h0M931.8 160.4h0M881.3 94.8h0M921.7 76.8h0M896.9 161.0h0M927.5 114.0h0M894.1 119.9h0M914.7 80.4h0M940.2 78.2h0M957.6 106.9h0M868.8 86.0h0M926.3 86.5h0M959.2 151.3h0M966.1 139.4h0M958.0 99.1h0M957.8 103.9h0M914.2 73.8h0M918.2 133.8h0M913.7 79.5h0M945.7 148.2h0M912.6 147.2h0M947.5 86.4h0M914.8 66.2h0M879.9 132.9h0M884.2 132.2h0M925.0 65.0h0M901.0 164.1h0M916.5 123.0h0M895.4 71.7h0M887.9 168.1h0M909.1 86.2h0M918.8 65.5h0M950.2 160.2h0M887.9 130.0h0M885.5 146.9h0M884.8 112.7h0M957.7 134.8h0M905.7 71.2h0M873.2 150.1h0M935.9 120.2h0" stroke="#2f6925" stroke-width="6.2" stroke-linecap="round" fill="none"/>
<path d="M957.8 122.9h0M888.4 114.0h0M912.0 117.5h0M970.2 130.7h0M926.8 108.1h0M892.6 84.1h0M864.4 105.4h0M880.3 74.9h0M892.6 68.2h0M954.1 152.7h0M892.1 167.8h0M929.9 63.6h0M916.6 82.2h0M865.3 110.5h0M954.7 133.0h0M871.2 97.9h0M891.0 155.3h0M912.3 82.7h0M892.7 68.5h0M887.1 148.4h0M863.2 123.3h0M911.6 148.4h0M879.3 146.9h0M947.4 164.8h0M866.4 117.1h0M907.3 122.9h0M882.8 146.5h0M963.2 148.5h0M882.3 97.8h0M943.4 123.1h0M891.3 157.4h0M933.7 153.4h0M909.8 160.7h0M899.8 79.9h0M915.4 72.8h0M955.6 141.3h0M865.8 123.1h0M946.7 104.9h0M931.6 95.8h0M912.9 114.6h0M932.7 83.9h0M876.6 129.4h0M896.3 137.7h0M899.3 75.6h0M943.5 128.0h0M943.1 105.3h0M903.7 159.9h0M876.5 158.0h0M935.9 115.8h0M919.1 141.4h0M886.7 128.4h0M890.7 70.1h0M923.8 122.0h0M939.7 138.7h0M940.5 146.1h0M883.4 154.9h0M970.8 106.3h0M875.1 140.0h0M945.6 151.1h0M955.5 82.0h0M930.3 136.0h0M954.4 90.3h0M916.6 103.2h0M909.0 112.1h0M911.2 67.1h0M914.1 120.8h0M909.3 61.1h0M890.2 94.2h0M890.8 163.4h0M949.3 111.2h0M925.8 174.2h0M881.2 134.7h0M897.2 163.3h0M954.4 113.7h0M937.6 89.4h0M870.1 142.1h0M964.3 108.9h0M900.8 68.0h0M964.3 90.8h0M880.4 111.0h0M956.9 119.8h0M914.7 118.8h0M947.1 116.6h0M921.9 115.0h0M883.1 157.1h0M893.6 76.4h0M898.1 119.3h0M939.8 74.4h0M872.9 124.0h0M928.8 80.0h0M876.0 124.1h0M911.1 69.1h0M889.8 161.5h0M882.0 151.1h0M876.4 155.8h0M962.4 99.5h0M890.5 141.1h0M874.7 136.1h0M956.8 126.9h0M928.5 111.7h0M949.0 90.6h0M964.1 117.3h0M905.7 69.2h0M898.1 127.3h0M948.2 75.6h0M910.6 91.7h0M874.3 118.2h0M889.1 148.2h0M860.7 133.0h0M875.9 77.5h0M935.6 104.9h0M920.1 83.0h0M880.2 93.3h0M913.4 86.7h0M900.2 86.7h0M923.5 78.6h0M879.9 73.2h0M914.7 121.9h0M948.3 92.7h0M883.7 76.5h0M942.9 95.4h0M951.1 115.1h0M907.8 66.3h0M891.2 146.2h0M893.0 142.9h0M870.5 145.7h0M968.3 139.2h0M926.2 76.5h0M895.8 93.6h0M920.3 64.7h0M885.6 145.3h0M921.0 146.1h0M942.9 81.2h0M872.1 132.9h0M916.8 121.2h0M888.3 152.0h0M932.2 156.7h0M902.1 144.1h0M913.3 83.7h0M913.0 68.5h0M908.2 125.2h0M938.8 82.5h0M873.8 95.1h0M863.4 101.6h0M971.7 121.1h0M888.2 93.6h0M960.7 88.2h0M910.8 114.8h0M889.1 92.2h0M868.7 94.6h0M951.0 156.8h0M904.7 144.7h0M933.6 122.3h0M910.8 159.4h0M937.5 109.2h0M906.9 151.9h0M893.7 91.7h0M904.7 98.5h0M957.4 129.9h0M912.0 97.3h0M960.1 131.9h0M965.9 140.1h0M907.0 96.6h0M904.0 125.3h0M944.3 135.8h0M954.7 80.0h0M916.3 72.3h0M880.1 97.3h0M892.9 84.5h0M873.5 149.4h0" stroke="#3a7f2c" stroke-width="5.8" stroke-linecap="round" fill="none"/>
<path d="M903.9 152.6h0M891.2 67.2h0M894.3 149.2h0M894.0 133.2h0M884.3 158.3h0M930.5 154.6h0M906.2 160.6h0M918.2 98.7h0M890.7 120.1h0M886.8 80.5h0M920.3 145.1h0M904.7 149.0h0M957.2 84.6h0M924.7 83.3h0M890.6 124.8h0M861.3 131.8h0M945.6 137.5h0M933.1 167.6h0M902.7 155.9h0M960.5 133.3h0M864.3 113.5h0M906.6 69.4h0M913.1 146.6h0M905.0 110.7h0M960.3 99.2h0M881.0 119.4h0M953.1 137.9h0M918.2 98.6h0M953.9 145.7h0M865.3 127.6h0M867.2 148.0h0M938.0 94.7h0M872.7 108.0h0M866.1 133.9h0M901.0 68.2h0M914.7 158.7h0M873.3 106.2h0M966.8 123.2h0M893.8 125.3h0M941.6 84.2h0M912.4 68.8h0M876.1 79.8h0M946.4 129.4h0M939.0 157.1h0M917.2 127.5h0M931.1 136.1h0M878.0 108.3h0M909.2 119.4h0M887.0 112.9h0M926.8 125.4h0M936.5 147.5h0M934.9 151.8h0M940.8 160.1h0M938.6 95.1h0M966.0 142.5h0M955.3 141.3h0M917.0 78.2h0M932.4 104.1h0M905.3 64.4h0M957.5 86.2h0M877.6 133.9h0M935.9 89.3h0M915.1 128.1h0M921.5 138.6h0M944.2 104.3h0M881.5 163.2h0M901.7 82.8h0M942.7 139.3h0M901.2 172.0h0M865.8 145.0h0M913.8 130.4h0M928.1 108.7h0M925.9 75.1h0M904.4 169.1h0M864.1 142.5h0M863.4 98.2h0M947.2 103.1h0M897.8 72.4h0M910.5 110.8h0M896.4 71.7h0M921.5 134.6h0M953.9 135.4h0M956.8 150.6h0M866.2 147.0h0M911.6 80.7h0M930.8 152.1h0M873.8 84.9h0M940.8 97.5h0M961.6 124.8h0M897.7 75.4h0M932.3 69.2h0M878.8 81.2h0M954.8 157.4h0M906.6 102.8h0M937.9 158.0h0M896.3 170.0h0M908.2 157.3h0M859.9 116.7h0M897.4 169.0h0M908.2 75.4h0M966.2 100.1h0M915.3 75.7h0M941.3 125.3h0M904.0 102.1h0M894.4 91.6h0M875.9 151.8h0M942.1 76.3h0M875.8 131.8h0M970.3 113.0h0M902.9 107.9h0M925.4 110.9h0M949.9 149.2h0M931.8 164.9h0M906.4 96.5h0M963.4 86.8h0M884.0 70.7h0M927.9 80.6h0M940.4 68.5h0M909.9 102.4h0M882.0 152.5h0M899.8 135.4h0M894.7 123.8h0M897.6 120.9h0M911.5 91.8h0M932.6 110.6h0M884.2 84.3h0M929.7 161.0h0M872.6 104.3h0M931.1 154.3h0M938.6 79.4h0M916.7 151.1h0M925.0 108.9h0M874.7 123.6h0M912.7 119.3h0M956.7 150.6h0M885.7 126.6h0M902.9 121.9h0M960.9 143.5h0M916.9 92.6h0M908.9 132.5h0M898.3 155.6h0M916.1 77.3h0M948.4 71.2h0M904.5 113.1h0M946.6 153.1h0M952.5 157.7h0M928.1 122.5h0M951.9 117.0h0M873.8 103.0h0M939.8 140.5h0M882.0 154.1h0M925.0 71.2h0M931.8 153.3h0M936.1 105.9h0M889.2 154.5h0M924.5 117.7h0M901.3 81.7h0M863.8 108.5h0M951.9 143.1h0M895.1 163.4h0M907.2 82.0h0M944.3 158.9h0M902.3 77.0h0M913.9 62.2h0M917.0 165.5h0M925.7 90.3h0M941.7 99.6h0M957.5 106.1h0M968.5 108.8h0M922.3 83.8h0M873.0 129.4h0M927.9 83.2h0M936.9 102.2h0M893.8 115.2h0M930.1 145.1h0M956.7 130.7h0M889.2 93.3h0M927.9 77.6h0M908.6 102.7h0M911.4 125.3h0M943.7 162.6h0M944.5 151.3h0M881.7 150.7h0M951.5 80.3h0M970.3 105.7h0M869.6 151.9h0M917.8 87.9h0M895.8 154.5h0M925.6 103.1h0M951.8 88.4h0M884.9 97.8h0M888.6 142.7h0M907.2 80.8h0M903.3 65.8h0M922.1 122.1h0M938.9 108.9h0M929.7 84.5h0M916.4 124.3h0M875.4 137.2h0M921.2 120.1h0" stroke="#4e9c3a" stroke-width="5.2" stroke-linecap="round" fill="none"/>
<path d="M902.9 170.3h0M915.4 89.0h0M885.0 139.1h0M907.5 88.5h0M890.5 150.1h0M918.4 155.4h0M914.8 77.3h0M947.2 129.6h0M890.5 106.2h0M882.8 145.8h0M899.3 136.4h0M925.8 107.6h0M930.1 108.2h0M875.5 103.9h0M877.2 142.4h0M939.5 96.4h0M939.2 127.4h0M947.4 87.3h0M916.3 82.3h0M894.1 160.6h0M865.6 95.3h0M933.3 146.4h0M895.7 67.1h0M865.7 128.6h0M950.8 147.1h0M892.6 159.9h0M908.1 141.7h0M909.6 166.4h0M902.6 64.8h0M902.8 125.6h0M925.9 90.9h0M907.4 78.8h0M906.0 121.5h0M922.6 167.0h0M863.3 131.5h0M930.0 78.8h0M918.2 117.7h0M881.4 142.4h0M965.8 135.8h0M941.1 153.3h0M910.7 153.1h0M885.3 124.6h0M937.6 159.2h0M904.0 106.4h0M933.8 114.9h0M920.5 148.0h0M889.0 148.2h0M930.3 107.6h0M875.0 97.7h0M913.8 152.1h0M864.7 136.3h0M922.1 78.9h0M946.5 132.4h0M930.8 83.5h0M880.0 147.0h0M960.0 129.6h0M907.8 100.3h0M869.4 144.3h0M912.2 159.6h0M891.3 153.1h0M889.4 139.3h0M957.8 96.3h0M948.5 117.7h0M881.5 125.2h0M938.7 92.2h0M905.1 96.2h0M886.7 110.2h0M945.1 100.1h0M956.6 105.4h0M892.4 153.7h0M958.7 97.9h0M934.8 79.5h0M899.6 103.5h0M937.9 78.1h0M896.6 92.6h0M918.8 76.5h0M891.0 169.6h0M922.0 71.3h0M941.0 77.6h0M873.5 155.1h0M954.3 91.8h0M878.2 134.1h0M967.2 133.3h0M936.9 79.4h0M865.2 128.9h0M951.3 122.8h0M915.2 162.7h0M888.2 153.4h0M944.7 95.9h0M920.3 122.3h0M935.4 84.3h0M906.1 121.6h0M916.5 118.8h0M925.3 110.4h0M898.2 153.5h0M891.2 106.0h0M887.5 81.7h0M932.8 116.3h0M910.2 135.6h0M908.9 143.6h0M965.9 127.7h0M907.5 166.8h0M935.4 70.9h0M958.7 124.9h0M942.4 81.3h0M885.7 95.3h0M933.8 80.4h0M891.3 150.4h0M891.0 122.4h0M891.0 71.7h0" stroke="#62b048" stroke-width="3.5" stroke-linecap="round" fill="none"/>
<path d="M912.1 113.2h0M873.9 146.2h0M943.1 147.9h0M898.4 79.8h0M911.8 124.5h0M908.7 95.6h0M882.0 93.3h0M912.2 99.1h0M964.3 109.9h0M932.5 100.3h0M908.9 83.4h0M900.7 72.5h0M868.5 148.2h0M879.2 132.8h0M910.6 96.2h0M941.6 97.9h0M932.0 103.8h0M946.8 148.9h0M917.6 155.9h0M930.4 164.4h0M911.6 70.7h0M923.7 127.3h0M901.2 109.9h0M906.5 76.6h0M962.6 96.6h0M886.2 74.9h0M884.5 116.5h0M959.9 136.1h0M892.4 78.7h0M876.9 115.1h0M946.1 100.9h0M951.0 161.0h0M919.3 63.9h0M953.1 114.6h0M937.9 151.3h0M879.8 120.2h0M921.9 90.1h0M941.3 113.1h0M904.4 169.0h0M920.3 166.5h0M909.9 154.2h0M887.5 123.4h0M940.1 68.2h0M935.7 107.6h0M952.9 124.1h0M912.8 75.7h0M970.6 104.1h0M903.4 91.3h0M903.5 126.5h0M876.4 148.7h0M905.4 140.5h0M862.8 104.9h0M903.8 102.9h0M890.5 129.4h0M929.5 83.7h0M865.1 136.6h0M904.3 154.7h0M946.9 114.1h0M870.7 106.6h0M892.3 157.1h0M869.4 142.7h0M869.6 101.0h0M872.5 96.8h0M898.4 132.0h0M894.0 142.7h0M965.4 122.5h0M876.2 111.8h0M911.2 103.8h0M949.6 152.4h0M967.1 131.5h0" stroke="#2a3a1e" stroke-width="1.9" stroke-linecap="round" fill="none"/>
<path d="M859.1 115.1h0M938.6 89.7h0M894.4 149.4h0M920.1 79.4h0M904.7 62.0h0M915.1 77.0h0M913.4 77.8h0M883.0 99.9h0M967.7 95.5h0M876.4 100.3h0M949.7 144.0h0M940.9 105.9h0M919.9 89.4h0M908.5 88.4h0M873.8 89.5h0M966.8 128.6h0M887.4 113.8h0M900.4 157.9h0M914.0 93.9h0M940.3 129.8h0M891.2 90.8h0M919.3 69.3h0M885.7 150.5h0M942.6 153.5h0M898.6 95.8h0M904.7 99.5h0M957.1 110.5h0M956.7 96.0h0M926.2 165.8h0M888.9 94.8h0M897.9 71.2h0M904.0 93.8h0M968.8 106.2h0M864.9 140.2h0M949.0 116.6h0M925.6 144.4h0M893.7 119.4h0M919.3 166.9h0M959.9 123.2h0M875.0 144.4h0M913.2 157.6h0M917.1 125.0h0M938.2 91.9h0M899.9 171.2h0M886.5 148.7h0" stroke="#c9cf8e" stroke-width="1.3" stroke-linecap="round" fill="none"/>
</g>
<g transform="translate(0 -3.37) scale(1 1.0294)">
<circle cx="1059.5" cy="114.6" r="71.4" fill="#1c140f"/>
<circle cx="1059.5" cy="114.6" r="70.5" fill="#35261c"/>
<circle cx="1059.5" cy="114.6" r="68.30000000000001" fill="none" stroke="#cfc6c4" stroke-width="1.1" opacity="0.62"/>
<circle cx="1059.5" cy="114.6" r="65.80000000000001" fill="none" stroke="#2a1e14" stroke-width="3.4"/>
<circle cx="1059.5" cy="114.6" r="64.2" fill="#3f301c"/>
<circle cx="1056.2" cy="114.3" r="62.204" fill="#2b2018"/>
<circle cx="1056.2" cy="114.3" r="61.404" fill="#6e655a"/>
<path d="M1080.7 144.1h0M1094.9 75.8h0M1080.0 62.0h0M1057.9 128.0h0M1089.4 149.7h0M1021.2 104.0h0M1049.6 86.9h0M1026.0 89.9h0M1090.1 155.0h0M1077.8 163.6h0M1059.0 74.7h0M1030.1 122.1h0M1088.3 152.8h0M1025.2 147.0h0M1035.3 137.2h0M1083.5 159.1h0M1034.8 123.9h0M1072.7 97.4h0M1059.3 137.9h0M1006.9 94.9h0M1112.9 125.5h0M1040.1 61.9h0M1021.2 133.0h0M1081.8 131.4h0M1078.3 91.0h0M1100.8 82.3h0M1076.0 103.5h0M1007.7 139.9h0M1045.0 141.9h0M1099.7 120.0h0M1029.9 105.7h0M1053.5 162.0h0M1081.1 161.4h0M1083.3 86.3h0M1087.2 147.4h0M1050.7 133.0h0M1044.8 70.8h0M1052.2 143.9h0M1046.8 57.5h0M1028.8 151.2h0M1063.7 154.6h0M1027.1 98.2h0M1021.2 87.2h0M1076.1 119.9h0M1036.4 126.2h0M1011.9 101.0h0M1016.3 74.3h0M1015.1 81.1h0M1098.2 151.6h0M1098.0 94.5h0M1077.1 74.9h0M1034.1 123.9h0M1005.8 120.5h0M1071.8 59.7h0M998.2 107.7h0M1050.5 120.2h0M1016.7 134.1h0M1060.4 85.6h0M1106.7 122.4h0M1076.2 166.0h0M1035.9 105.4h0M1003.8 107.4h0M1065.9 172.3h0M1077.9 122.4h0M1015.2 86.6h0M1009.9 79.7h0M1060.1 126.6h0M1021.5 106.0h0M1026.2 137.2h0M1079.9 92.7h0M1040.1 72.0h0M1044.0 170.4h0M1055.1 147.2h0M1074.0 161.4h0M1043.5 80.3h0M1090.5 145.5h0M1032.9 152.3h0M1055.0 112.5h0M1108.4 129.7h0M1068.2 101.2h0M1062.8 153.0h0M1072.8 85.3h0M1073.6 109.4h0M1068.1 106.3h0M1008.7 78.9h0M1046.0 57.8h0M1021.3 161.5h0M1082.1 96.4h0M1064.0 57.3h0M1064.7 150.9h0M1062.0 69.2h0M1090.6 94.7h0M1032.9 122.2h0M1047.6 169.9h0M1052.1 171.1h0M1071.0 71.4h0M1055.5 116.5h0M1096.6 151.2h0M1113.2 99.1h0M1045.2 171.4h0M1022.3 127.7h0M1101.9 84.8h0M1042.3 85.3h0M1076.3 130.3h0M1054.0 140.5h0M1025.8 99.8h0M1068.3 169.3h0M1053.9 116.8h0M1100.8 116.9h0M1100.3 122.6h0M1096.8 120.9h0M1023.8 84.3h0M1067.8 168.1h0M1109.6 105.0h0M1110.1 89.7h0M1026.3 147.0h0M1010.5 141.8h0M1070.3 139.2h0M1013.9 127.7h0M1091.0 112.3h0M1093.6 115.2h0M1069.5 101.3h0M1010.0 108.9h0M1074.5 85.2h0M1010.4 77.7h0M1100.7 106.5h0M1030.6 155.5h0M1050.1 65.1h0M1039.3 81.1h0M1048.7 79.5h0M1058.3 133.2h0M1032.8 106.1h0M1049.6 146.4h0M1029.3 142.3h0M1099.3 107.4h0M1020.0 102.7h0M1004.4 98.3h0M1013.6 108.2h0M1040.9 135.1h0M1060.3 131.8h0M1053.6 126.1h0M1016.9 137.3h0M1095.5 148.8h0M1010.9 128.5h0M1007.7 137.0h0M1047.3 95.4h0M1026.7 105.0h0M1055.4 77.7h0M1058.0 125.2h0M1076.9 112.5h0M1055.7 172.3h0M1092.8 126.4h0M1011.0 134.6h0M1068.2 56.2h0M1048.9 130.2h0M1057.1 118.4h0M1050.5 161.3h0M1071.1 102.6h0M1049.8 170.6h0M1023.8 94.5h0M1069.0 120.5h0M1065.8 160.5h0M1096.0 129.5h0M1057.4 111.6h0M1047.2 151.9h0M1016.4 81.5h0M1039.0 78.6h0M1031.2 154.8h0M1000.1 128.8h0M1011.0 105.9h0M1035.2 78.2h0M1007.3 116.7h0M1007.5 79.1h0M1041.8 154.0h0M1109.8 105.7h0M1024.9 103.2h0M1073.0 149.2h0M1020.8 131.9h0M1054.6 155.9h0M1039.0 105.7h0M1028.8 71.7h0M1066.3 142.5h0M1096.3 124.1h0M1038.7 79.9h0M1016.6 89.5h0M1069.6 118.1h0M998.5 111.7h0M1045.3 75.7h0M1054.9 136.1h0M1024.3 72.5h0M1042.5 125.3h0M1047.6 164.1h0M1061.2 76.6h0M1084.7 89.9h0M1083.1 118.3h0M1095.1 82.1h0M1083.7 131.0h0M1023.3 139.9h0M1113.2 123.4h0M1025.9 108.3h0M1100.7 123.2h0M1102.7 93.4h0M1091.7 70.7h0M1048.9 101.9h0M1039.0 156.8h0M1032.0 128.4h0M1107.1 137.4h0M1039.8 85.8h0M1001.1 124.8h0M1085.6 151.8h0M1062.3 171.1h0M1074.4 58.7h0M1024.5 143.0h0M1040.7 146.4h0M1112.9 97.2h0M1113.4 112.2h0M1007.5 117.5h0M1089.2 92.7h0M1103.0 88.1h0M1048.6 149.5h0M1047.3 91.6h0M1055.2 140.7h0M1101.1 149.9h0M1110.6 113.5h0M1004.3 113.0h0M1040.8 77.5h0M1034.9 111.6h0M1058.0 149.5h0M1025.8 152.5h0M1057.7 143.6h0M1093.7 76.6h0M1104.5 92.4h0M1070.4 153.8h0M1083.4 67.7h0M1061.9 155.7h0M1050.8 110.9h0M1058.3 166.0h0M1036.1 79.5h0M1016.8 95.5h0M1046.3 128.8h0M1053.5 61.5h0M1007.8 135.3h0M1079.6 70.1h0M1077.3 59.1h0M1112.7 128.8h0M1005.6 130.0h0M1054.7 95.5h0M1040.8 105.0h0M1052.2 79.5h0M1033.8 136.3h0M1073.8 69.5h0M1040.7 163.7h0M1077.5 163.7h0M1014.5 82.2h0M1011.7 74.5h0M1042.4 75.8h0M1018.1 89.9h0M1048.9 146.7h0M1072.6 62.5h0M1104.8 103.5h0M1018.4 113.2h0M1042.7 67.8h0M1104.9 96.2h0M1032.6 135.5h0M1107.2 129.1h0M1022.3 130.8h0M1096.2 128.1h0M1081.6 95.4h0M1054.0 62.0h0M1031.4 75.1h0M1056.4 163.7h0M1005.2 84.4h0M1020.6 110.9h0M1095.7 87.9h0M1029.9 155.0h0M1071.2 135.7h0M1086.7 87.1h0M1065.1 87.9h0M1027.4 119.7h0M1071.2 70.3h0" stroke="#231e1a" stroke-width="2.8" stroke-linecap="round" fill="none"/>
<path d="M1027.0 137.4h0M1062.8 141.1h0M1043.9 83.0h0M1085.8 137.1h0M999.1 131.7h0M1027.5 139.5h0M1106.4 105.4h0M1019.5 124.0h0M1059.8 137.5h0M1008.8 122.6h0M1088.8 139.9h0M1077.8 155.6h0M1028.7 154.9h0M1064.0 76.9h0M1043.7 125.6h0M1067.5 160.3h0M1064.0 93.3h0M1113.0 105.7h0M1026.9 147.3h0M1040.1 83.8h0M1022.1 152.3h0M1016.7 118.2h0M1037.3 106.4h0M1024.1 120.3h0M1077.8 152.1h0M1043.3 72.7h0M1007.0 114.6h0M1003.7 142.5h0M1057.4 119.6h0M1010.7 93.4h0M1028.1 139.9h0M1039.9 139.0h0M1070.7 60.4h0M1048.0 158.7h0M1035.1 119.8h0M1051.7 70.7h0M1113.4 110.9h0M1081.5 96.8h0M1097.9 148.7h0M1094.9 145.6h0M1079.0 159.4h0M1073.0 120.2h0M1085.3 82.5h0M999.8 132.4h0M1062.3 86.4h0M1046.0 78.4h0M1023.4 121.9h0M1060.9 147.0h0M1052.5 140.2h0M1082.2 87.9h0M1005.9 94.2h0M1045.8 92.9h0M1111.7 97.4h0M1074.6 85.1h0M1079.5 72.2h0M1092.4 121.5h0M1042.0 72.3h0M1106.8 97.1h0M1086.9 63.3h0M1024.6 162.1h0M1109.9 115.1h0M1092.4 136.6h0M1041.2 120.1h0M1021.3 74.0h0M1061.1 143.7h0M1061.9 71.0h0M1089.3 118.2h0M1085.8 103.4h0M1046.4 153.4h0M1097.1 78.9h0M1019.4 146.7h0M1071.3 116.9h0M1023.0 148.8h0M1064.1 123.9h0M1071.9 93.6h0M1072.8 120.2h0M1084.5 129.6h0M1013.4 91.1h0M1046.6 156.4h0M1033.5 154.1h0M1092.9 144.4h0M1113.9 114.4h0M1067.5 157.6h0M1071.3 151.4h0M1051.8 162.2h0M1066.3 60.0h0M1096.2 107.7h0M1022.3 103.4h0M1046.0 155.9h0M1070.2 111.9h0M1055.6 80.2h0M1030.9 96.5h0M1048.0 72.8h0M1041.4 151.7h0M1075.0 114.8h0M1070.6 104.9h0M1016.9 143.8h0M1112.7 127.4h0M1072.1 171.1h0M1014.1 132.9h0M1042.0 103.4h0M1004.2 112.3h0M1068.9 64.4h0M1047.1 94.8h0M1020.1 137.5h0M1107.1 127.6h0M1092.4 141.3h0M1053.6 138.4h0M1101.5 100.4h0M1051.1 67.8h0M1004.6 92.2h0M1090.3 128.6h0M1065.2 159.8h0M1010.8 149.8h0M1059.5 145.3h0M1100.5 89.0h0M1023.0 130.1h0M1053.9 91.2h0M1051.2 86.1h0M1061.9 99.0h0M1104.1 85.7h0M1079.9 118.0h0M1102.9 86.4h0M1042.2 166.2h0M1030.0 99.9h0M1041.5 78.5h0M1091.0 157.5h0M1050.2 85.2h0M1011.7 136.3h0M1035.1 136.4h0M998.4 104.6h0M1081.1 131.3h0M996.9 120.6h0M1061.7 114.0h0M1042.2 96.9h0M1062.1 135.6h0M996.3 114.4h0M1091.8 106.5h0M1096.2 84.5h0M1107.1 140.0h0M1047.5 173.1h0M1094.7 156.4h0M1013.2 110.8h0M1073.4 152.6h0M1058.9 69.6h0M1099.8 108.9h0M1074.3 101.9h0M1052.3 67.9h0M1082.0 90.9h0M1003.5 126.8h0" stroke="#7a5237" stroke-width="2.4" stroke-linecap="round" fill="none"/>
<path d="M1054.9 151.0h0M1083.8 74.5h0M1048.7 114.8h0M1059.6 75.7h0M1059.1 151.6h0M1092.1 156.3h0M1073.5 57.7h0M1045.1 92.8h0M1003.1 142.4h0M1091.4 114.5h0M1070.9 134.3h0M1048.8 161.1h0M1107.3 137.3h0M1033.5 124.9h0M1091.3 140.2h0M1031.3 148.9h0M1084.1 136.8h0M1038.7 113.7h0M1001.0 113.8h0M1037.9 102.7h0M1044.4 101.6h0M1059.9 118.9h0M1031.3 109.5h0M1052.4 134.9h0M1074.3 100.2h0M1031.5 66.2h0M1012.6 128.7h0M1029.0 161.5h0M1049.6 98.9h0M1049.7 92.7h0M1030.6 117.4h0M1007.7 119.1h0M1052.6 80.1h0M1094.2 127.9h0M1094.6 91.4h0M1017.7 78.4h0M1018.3 69.6h0M1105.9 99.8h0M1064.2 93.1h0M1051.5 164.8h0M1007.3 87.2h0M1061.4 80.0h0M1079.4 157.3h0M1088.7 141.5h0M1050.1 151.9h0M1029.0 74.8h0M1045.2 104.3h0M1095.9 83.1h0M1095.5 88.3h0M1021.8 69.1h0M1055.0 66.4h0M1065.2 116.6h0M1044.7 60.1h0M1035.3 132.4h0M1004.7 134.2h0M1056.9 92.6h0M1064.4 140.5h0M1055.3 84.2h0M1085.8 89.4h0M1069.8 150.6h0M1092.2 157.8h0M1094.7 119.9h0M1047.7 122.5h0M1066.7 173.2h0M1080.9 84.1h0M1096.3 73.3h0M1088.3 74.3h0M1016.9 96.7h0M1046.4 68.6h0M1081.4 110.0h0M1098.2 83.1h0M1004.3 133.9h0M1047.7 151.0h0M1003.7 86.8h0M1058.8 169.7h0M1024.4 66.1h0M1041.1 160.9h0M1099.5 77.8h0M1038.6 62.0h0M1026.4 80.9h0M1071.6 154.8h0M1114.1 105.8h0M1088.2 123.0h0M1059.9 169.4h0M1078.0 162.2h0M1067.8 147.4h0M1077.2 110.6h0M1028.7 98.8h0M1056.8 98.7h0M1042.7 86.9h0M1089.5 105.2h0M1051.2 105.4h0M1100.7 96.5h0M1100.8 87.7h0M1104.4 133.5h0M1036.4 132.7h0M1094.1 83.2h0M1046.8 127.4h0M1047.5 102.5h0M1057.1 127.5h0M1080.6 160.3h0M1049.6 173.7h0M1046.4 167.2h0M1052.0 66.2h0M1038.4 100.5h0M1083.6 63.4h0M1030.6 109.2h0M1082.3 130.0h0M1089.6 108.4h0M1047.9 157.1h0M1108.4 125.8h0M1062.4 81.5h0M1112.3 124.9h0M1075.4 65.3h0M1070.6 171.3h0M1049.4 106.0h0M1106.2 108.4h0M1079.1 166.3h0M1016.8 86.8h0M1083.6 119.1h0M1058.1 107.5h0M1061.7 129.2h0M1036.8 103.2h0M1064.9 74.8h0M1067.8 57.9h0M1082.1 109.6h0M1020.9 154.7h0M1027.3 165.0h0M1031.6 155.1h0M1054.3 165.5h0M1048.0 152.6h0M1047.0 60.3h0M1072.1 133.6h0M1068.7 165.5h0M1032.8 69.0h0M1066.5 87.1h0M1052.0 114.4h0M1028.2 151.7h0M1052.7 167.9h0M1065.6 153.2h0M1044.8 88.4h0M1036.5 81.7h0M1074.9 120.2h0M1024.7 69.7h0M1032.3 63.7h0M1029.4 68.5h0M1080.6 74.8h0M1032.5 109.5h0M1057.7 131.9h0M1085.1 138.5h0M1044.3 157.9h0M1070.9 86.8h0M1099.5 80.4h0M1072.7 157.5h0M1061.2 128.8h0M1061.2 141.0h0M1065.8 114.8h0M1075.9 61.9h0M1066.9 102.0h0M1111.3 122.5h0M1031.2 139.4h0M1042.8 72.5h0M1045.0 134.8h0M1094.3 147.9h0M1066.0 107.7h0M1063.5 157.3h0M1051.9 156.2h0M1025.3 113.9h0M1085.1 140.5h0M1064.6 93.5h0M1003.5 101.5h0M1024.2 99.1h0M1104.1 91.1h0M1089.2 113.7h0M1016.0 118.4h0M1081.7 74.4h0M1015.1 100.9h0M1083.9 91.6h0M1073.4 132.9h0M1056.9 132.9h0M1100.6 107.7h0M1068.2 75.5h0M1027.9 110.5h0M1086.4 89.6h0M1013.1 143.2h0M1097.0 70.1h0M1017.3 118.9h0M1074.3 79.5h0M1068.4 154.1h0M1045.7 143.0h0M1061.2 79.1h0M1032.8 90.8h0M1096.3 149.3h0M1064.1 64.4h0M1036.8 98.3h0M1001.3 113.8h0M1066.1 69.1h0M1039.3 96.1h0M1108.3 133.1h0M1086.3 117.8h0M1015.5 144.0h0M1037.8 61.3h0M1084.6 100.9h0M1056.3 135.3h0M1046.9 131.2h0M1100.5 103.3h0M1041.8 115.1h0M1081.6 98.7h0M1059.6 87.3h0M1053.3 136.4h0M1024.9 107.3h0M1010.4 92.2h0M1059.5 135.9h0M1018.3 110.6h0M1021.7 126.3h0M1066.9 132.4h0M1049.3 66.8h0M1037.9 69.8h0M1029.6 112.1h0M1093.9 91.7h0M1026.5 122.3h0M1013.5 155.9h0M1011.3 144.3h0M1089.3 147.1h0M1052.2 143.2h0M1043.7 150.1h0M1032.4 84.1h0M1071.4 96.1h0M1080.6 82.9h0M1066.2 77.8h0M1053.6 171.2h0M1022.8 75.6h0M1006.0 107.1h0M1106.1 100.3h0M1091.1 107.4h0M1039.4 168.3h0M1084.7 65.3h0M1020.6 129.6h0M1081.8 105.5h0M1068.7 135.9h0" stroke="#928c84" stroke-width="2.0" stroke-linecap="round" fill="none"/>
<path d="M1043.6 151.1h0M1025.9 141.7h0M1090.5 122.0h0M1042.2 113.6h0M999.3 121.0h0M1022.8 66.2h0M1083.2 81.7h0M1070.8 116.2h0M1007.1 88.8h0M1045.5 133.3h0M1058.7 70.2h0M1035.1 118.6h0M1013.2 99.2h0M1042.2 58.9h0M1105.0 139.5h0M1039.4 149.3h0M1026.1 159.2h0M1041.2 120.1h0M1033.3 118.1h0M1069.7 115.7h0M1026.6 141.9h0M1078.5 114.4h0M1092.4 88.6h0M1100.2 108.8h0M1104.2 100.1h0M1046.0 123.1h0M1088.3 157.2h0M1039.0 86.3h0M1081.2 155.5h0M1083.3 101.5h0M1100.2 113.5h0M1062.9 139.1h0M1042.3 58.0h0M1064.7 142.4h0M1073.3 135.8h0M1062.1 152.7h0M1060.0 163.2h0M1058.2 145.3h0M1034.6 126.4h0M1073.4 120.0h0M1105.6 115.8h0M1095.9 127.0h0M1092.4 84.0h0M1043.0 150.1h0M1025.6 129.3h0M1078.7 122.2h0M1073.3 135.8h0M1046.8 131.2h0M1036.1 96.4h0M1006.2 111.0h0M1004.4 115.2h0M1063.8 74.7h0M1059.1 126.4h0M1043.4 80.1h0M1051.8 131.1h0M1080.4 165.7h0M1001.6 124.0h0M1073.0 89.4h0M1064.7 170.3h0M1060.1 160.7h0M1094.1 98.3h0M1003.8 141.1h0M1094.0 70.4h0M1048.6 86.8h0M1064.6 116.9h0M1095.5 93.7h0M1100.0 74.9h0M1060.9 173.4h0M1052.4 139.5h0M1047.9 173.8h0M1089.4 101.1h0M1001.9 120.5h0M1075.2 60.5h0M1037.4 136.4h0M998.2 109.6h0M1013.6 77.6h0M1070.4 154.8h0M1095.7 91.7h0M1070.9 62.2h0M1009.4 131.9h0M1041.9 77.0h0M1002.4 107.4h0M1100.2 73.8h0M1022.9 150.9h0M1003.4 96.9h0M1058.7 155.4h0M1054.1 168.2h0M1055.0 109.6h0M1073.8 128.6h0M1011.7 85.5h0M1046.8 128.4h0M1015.7 90.2h0M1027.8 127.6h0M1039.6 138.1h0M1070.5 80.0h0M1046.1 70.9h0M1060.3 145.9h0M1029.4 65.2h0M1076.7 102.6h0M1055.1 133.2h0M1070.1 149.0h0M1044.7 57.8h0M1036.9 101.9h0M1039.9 130.3h0M1047.8 159.2h0M1031.2 114.0h0M1046.9 170.5h0M1024.3 80.2h0M1041.8 143.9h0M1056.7 106.9h0M1022.8 65.9h0M1047.5 104.4h0M1108.3 125.5h0M1071.7 150.2h0M1027.5 74.0h0M1044.5 162.6h0M1091.5 93.0h0M1016.6 144.5h0M1091.1 78.6h0M1104.0 90.8h0M1085.2 106.2h0M1043.4 89.9h0M1082.2 138.0h0M1087.0 103.4h0M1035.3 168.3h0M1108.3 108.3h0M1023.4 158.0h0M1061.7 116.7h0M1088.3 127.8h0M1059.3 170.0h0M1003.7 132.5h0M1019.6 117.1h0M1049.2 125.4h0M999.9 130.8h0M1113.4 104.0h0M1088.9 137.4h0M1068.1 93.9h0M1081.2 125.2h0M1100.9 140.4h0M1042.3 56.1h0M1104.1 130.1h0M1063.1 89.8h0M1108.6 142.7h0M1060.2 99.0h0M1075.0 159.4h0M1075.2 149.2h0M1066.9 129.0h0M1012.1 118.6h0M1058.4 111.2h0M1046.3 127.1h0M1033.0 106.4h0M1027.3 166.0h0M1027.1 74.6h0M1034.9 97.6h0M1032.6 59.9h0M1102.9 143.6h0M1041.2 136.7h0M1025.0 68.3h0M1069.5 137.5h0M1029.0 114.2h0M996.4 111.7h0M1095.1 120.6h0M1063.5 137.8h0M1006.5 83.3h0M1012.0 122.8h0M1038.7 61.3h0M1090.2 107.1h0M1081.6 166.0h0M1011.5 79.6h0M1088.5 156.9h0M1072.3 129.1h0M1082.4 139.3h0M1014.1 139.1h0M1092.7 99.3h0M1022.2 96.0h0M1033.2 135.1h0M1086.6 115.3h0M1047.1 61.3h0M1040.6 77.5h0M1034.0 128.2h0M1059.0 174.4h0M1023.6 94.3h0M1015.0 105.1h0M1045.6 151.7h0M1004.5 138.5h0M1081.2 93.9h0M1028.9 122.1h0M1077.4 107.8h0M1049.6 115.1h0M1016.6 124.3h0M1079.6 116.4h0M1014.8 114.3h0M1051.6 127.5h0M1040.2 146.0h0M1093.3 142.6h0M1064.4 157.4h0M1054.4 107.3h0M1008.2 115.0h0M1095.6 83.4h0M1081.9 72.5h0" stroke="#d8d1c4" stroke-width="1.6" stroke-linecap="round" fill="none"/>
<path d="M1064.2 163.3h0M1057.6 75.4h0M1067.8 108.4h0M1084.3 95.9h0M1008.7 101.3h0M1075.7 148.4h0M1067.5 115.4h0M1081.9 107.0h0M1038.2 123.2h0M1092.3 97.9h0M1074.3 91.0h0M1028.7 120.8h0M1016.9 89.5h0M1018.2 95.4h0M1036.5 164.1h0M1079.4 117.2h0M1029.4 67.3h0M1072.4 91.3h0M1091.6 101.1h0M1016.0 95.1h0M1018.1 79.6h0M1081.7 95.5h0M1080.9 94.4h0M1047.0 93.4h0M1036.1 90.7h0M1101.3 112.8h0M1015.3 149.3h0M1091.9 146.0h0M1051.5 107.9h0M1037.1 119.2h0M1074.5 114.3h0M1029.2 83.5h0M1093.7 151.9h0M1017.2 94.8h0M1054.3 136.7h0M1051.1 124.2h0M1068.0 151.7h0M1019.0 144.8h0M1072.5 134.4h0M1010.8 107.7h0M1046.0 138.1h0M1080.1 138.3h0M1020.5 148.1h0M1058.2 147.1h0M1055.4 88.4h0M1108.7 127.3h0M1083.4 98.1h0M1048.3 151.4h0M1068.3 161.7h0M1091.2 83.5h0M1015.5 144.1h0M1078.8 104.8h0M1044.5 93.6h0M1105.2 110.0h0M1016.1 139.8h0M1052.2 128.6h0M1040.2 112.9h0M1007.2 127.9h0M1030.4 100.7h0M1066.0 154.7h0M1004.1 111.3h0M1074.3 147.9h0M1023.6 125.4h0M1069.8 146.3h0M1032.0 107.6h0M1038.9 150.8h0M1092.2 100.0h0M1049.9 123.4h0M1023.4 110.6h0M1084.9 139.9h0M1031.3 92.1h0M1052.1 70.4h0M1068.3 119.3h0M1013.6 107.4h0M1030.7 104.8h0M1030.0 153.1h0M1023.9 138.7h0M1062.1 157.9h0M1052.8 114.7h0M1057.6 64.9h0M1109.3 109.9h0M1044.9 77.8h0M1051.6 160.4h0M1028.2 129.9h0M1088.2 143.2h0M1044.3 67.4h0M1071.0 135.4h0M1042.7 98.5h0M1096.2 79.7h0M1036.5 93.1h0M1011.6 95.9h0M1031.1 151.2h0M1014.1 83.2h0M1063.6 69.6h0M1006.4 99.9h0M1019.5 86.7h0M1049.1 131.9h0M1031.1 104.8h0M1082.5 109.2h0M1082.0 94.5h0M1071.3 153.7h0M1032.2 163.4h0M1042.6 101.9h0M1049.1 132.3h0M1015.8 115.9h0M1037.9 155.9h0M1009.3 131.2h0M1043.8 88.3h0M1061.2 105.3h0M1057.1 124.3h0M1095.1 102.1h0M1085.8 68.5h0M1099.9 142.6h0M1102.1 120.3h0M1065.5 80.8h0M1093.4 83.5h0M1026.2 114.8h0M1064.9 127.9h0M1017.2 103.9h0M1071.7 151.8h0" stroke="#33602a" stroke-width="6.2" stroke-linecap="round" fill="none"/>
<path d="M1083.5 129.1h0M1045.5 95.1h0M1035.8 111.3h0M1075.4 96.8h0M1105.4 91.7h0M1085.5 107.7h0M1050.0 100.7h0M1102.5 106.1h0M1076.7 119.1h0M1082.5 134.8h0M1102.5 95.0h0M1032.8 159.4h0M1097.8 117.1h0M1044.3 124.2h0M1096.3 92.1h0M1101.4 113.1h0M1041.6 100.4h0M1003.3 122.3h0M1014.1 98.0h0M1023.5 122.8h0M1082.5 116.2h0M1062.9 130.0h0M1102.5 130.7h0M1103.4 112.9h0M1068.8 91.7h0M1076.6 86.0h0M1073.0 92.5h0M1043.8 153.4h0M1060.9 142.6h0M1048.9 64.6h0M1101.6 109.4h0M1033.3 145.5h0M1018.9 92.0h0M1093.1 93.2h0M1094.1 104.9h0M1047.1 117.5h0M1038.6 149.4h0M1093.6 117.0h0M1078.0 133.8h0M1096.5 78.3h0M1088.8 142.8h0M1043.2 115.4h0M1044.1 153.8h0M1018.2 133.6h0M1096.7 132.1h0M1037.4 98.5h0M1006.4 92.0h0M1090.6 86.3h0M1007.7 107.9h0M1010.7 127.9h0M1026.9 144.5h0M1051.8 71.3h0M1028.2 93.2h0M1029.3 151.3h0M1020.8 126.8h0M1034.2 135.3h0M1019.0 76.7h0M1071.6 157.1h0M1012.0 105.5h0M1037.7 83.7h0M1090.2 116.5h0M1011.8 108.4h0M1097.2 94.0h0M1037.1 86.9h0M1061.8 94.8h0M1085.9 88.2h0M1011.2 127.8h0M1001.9 99.3h0M1066.6 124.1h0M1034.0 99.2h0M1064.2 170.2h0M1026.1 108.7h0M1038.5 134.5h0M1055.9 135.0h0M1104.1 107.2h0M1044.4 128.7h0M1108.9 106.2h0M1099.8 143.9h0M1003.0 96.5h0M1021.5 127.9h0M1099.0 116.6h0M1060.0 167.2h0M1064.9 166.7h0M1030.8 158.2h0M1044.0 61.1h0M1026.0 98.9h0M1054.0 141.6h0M1080.8 133.0h0M1035.2 161.1h0M1096.2 116.0h0" stroke="#2f6925" stroke-width="6.2" stroke-linecap="round" fill="none"/>
<path d="M1033.8 113.2h0M1047.2 90.2h0M1055.2 91.1h0M1079.0 92.5h0M1074.4 126.5h0M1062.0 134.0h0M1034.4 165.5h0M1031.2 139.4h0M1056.5 98.9h0M1101.1 141.9h0M1045.2 135.2h0M1075.9 158.8h0M1091.5 109.3h0M1047.0 77.0h0M1065.3 144.7h0M1041.2 138.2h0M1060.8 97.9h0M1019.6 146.0h0M1110.5 125.8h0M1022.0 84.1h0M1065.2 138.1h0M1087.1 67.8h0M1107.0 119.1h0M1061.0 129.2h0M1041.9 104.3h0M1084.2 70.6h0M1051.4 135.2h0M1007.5 110.3h0M1102.3 125.5h0M1081.0 138.6h0M1064.4 128.1h0M1026.0 107.6h0M1101.7 85.8h0M1050.2 74.3h0M1036.5 88.4h0M1015.2 122.4h0M1023.1 132.2h0M1089.8 69.3h0M1051.6 62.2h0M1051.0 128.8h0M1063.0 153.7h0M1060.7 66.1h0M1099.1 88.9h0M1052.2 127.0h0M1024.0 117.9h0M1093.0 75.1h0M1007.9 102.5h0M1050.3 74.0h0M1004.7 134.0h0M1068.8 73.5h0M1077.9 112.5h0M1061.3 72.7h0M1047.5 132.4h0M1010.2 88.6h0M1080.3 162.1h0M1081.0 112.3h0M1019.0 101.6h0M1046.2 131.1h0M1050.2 168.8h0M1085.7 67.8h0M1016.3 114.7h0M1090.4 128.2h0M1007.1 86.7h0M1098.3 132.3h0M1109.5 130.4h0M1070.2 159.2h0M1039.2 95.2h0M1020.5 123.0h0M1071.6 146.4h0M1100.0 132.7h0M1097.1 106.8h0M1023.5 138.2h0M1086.2 152.5h0M1049.6 97.3h0M1042.0 128.0h0M1054.1 107.7h0M1066.1 103.8h0M1068.9 93.0h0M1009.3 105.7h0M1105.2 94.5h0M1083.7 153.4h0M1035.3 124.1h0M1003.0 127.2h0M1103.1 120.0h0M1005.0 100.3h0M1028.3 118.7h0M1067.2 99.3h0M1044.7 85.9h0M1078.0 122.0h0M1069.4 96.2h0M1075.1 103.7h0M1067.8 108.7h0M1033.9 79.5h0M1011.6 83.3h0M1064.4 170.0h0M1010.2 92.7h0M1056.0 170.7h0M1049.1 76.2h0M1067.0 166.1h0M1004.0 93.6h0M1092.6 81.7h0M1052.1 91.5h0M1079.2 72.5h0M1068.4 122.9h0M1077.4 130.0h0M1060.6 65.0h0M1044.5 82.0h0M1076.6 106.0h0M1061.5 151.4h0M1053.0 162.7h0M1080.9 72.3h0M1037.0 152.8h0M1039.6 152.7h0M1034.5 110.0h0M1084.8 72.2h0M1059.2 97.5h0M1061.2 162.9h0M1071.9 72.8h0M1089.9 99.2h0M1061.9 152.8h0M1045.1 147.4h0M1062.7 82.8h0M1046.1 72.0h0M1096.2 119.8h0M1086.7 80.6h0M1083.0 78.0h0M1067.3 113.9h0M1033.8 125.7h0M1057.5 83.7h0M1032.9 75.0h0M1100.2 119.1h0M1042.7 139.3h0M1028.8 78.7h0M1067.0 160.7h0M1068.0 120.3h0M1097.6 79.0h0M1109.4 95.8h0M1053.8 71.8h0M1015.6 106.7h0M1108.3 95.0h0M1032.9 124.2h0M1020.5 105.7h0M1075.9 63.7h0M1044.4 103.2h0M1036.4 110.0h0M1006.4 102.6h0M1038.2 80.1h0M1086.0 160.0h0M1083.5 85.8h0M1100.2 129.3h0M1027.3 135.1h0M1034.8 134.8h0M1085.1 149.5h0M1019.4 110.0h0M1056.3 74.2h0M1071.6 139.2h0M1013.2 97.7h0M1023.6 78.0h0M1025.3 152.9h0M1031.5 100.1h0M1087.7 146.0h0M1087.8 69.2h0M1077.0 67.5h0M1032.6 99.3h0M1041.1 164.5h0M1050.5 153.2h0M1049.0 112.0h0M1075.5 130.6h0M1070.5 66.3h0M1075.6 126.2h0" stroke="#3a7f2c" stroke-width="5.8" stroke-linecap="round" fill="none"/>
<path d="M1079.1 112.4h0M1069.5 73.2h0M1089.8 79.4h0M1096.8 142.7h0M1053.7 103.0h0M1084.8 103.5h0M1016.3 123.4h0M1016.1 99.8h0M1104.0 135.2h0M1038.7 111.7h0M1031.6 113.9h0M1012.6 134.2h0M1056.7 91.6h0M1043.2 168.3h0M1039.4 96.7h0M1034.5 96.4h0M1097.1 134.9h0M1072.3 128.0h0M1032.0 64.3h0M1100.6 134.8h0M1064.7 125.0h0M1064.2 115.1h0M1049.7 60.9h0M1078.0 116.1h0M1090.7 124.8h0M1045.4 136.6h0M1063.5 97.6h0M1041.8 98.5h0M1044.7 97.6h0M1074.6 167.4h0M1052.3 152.0h0M1026.2 66.5h0M1037.8 108.4h0M1033.4 73.6h0M1026.0 96.6h0M1062.2 101.4h0M1016.3 102.3h0M1099.6 89.7h0M1058.5 149.2h0M1027.5 94.5h0M1108.2 135.9h0M1035.9 120.3h0M1060.2 120.0h0M1074.1 103.1h0M1005.6 93.0h0M1061.1 71.1h0M1046.2 159.6h0M1065.2 90.2h0M1061.1 150.2h0M1012.8 83.4h0M1031.7 98.5h0M1052.8 92.7h0M1060.5 117.7h0M1018.1 94.5h0M1015.2 123.6h0M1066.1 138.3h0M1025.3 96.0h0M1002.2 114.6h0M1008.5 124.2h0M1092.9 129.0h0M1079.9 122.7h0M1069.4 146.7h0M1085.7 160.2h0M1046.5 143.9h0M1087.2 129.1h0M1065.1 73.5h0M1091.0 86.8h0M1033.4 85.3h0M1075.6 81.7h0M1073.3 134.8h0M1060.2 101.3h0M1075.1 154.8h0M1040.3 79.2h0M1035.1 84.4h0M1046.8 108.4h0M1008.7 143.5h0M1026.8 99.3h0M1016.3 75.3h0M1020.6 122.1h0M1078.8 67.4h0M1063.1 160.0h0M1046.1 146.3h0M1067.3 82.1h0M1090.0 94.1h0M1069.8 99.3h0M1047.6 120.2h0M1089.7 72.8h0M1017.8 117.7h0M1090.7 107.8h0M1049.0 134.0h0M1100.4 89.6h0M1008.6 106.1h0M1079.9 74.7h0M1091.6 142.9h0M1083.2 86.2h0M1015.5 134.3h0M1066.0 139.3h0M1032.3 63.3h0M1091.0 144.5h0M1045.2 114.1h0M1072.7 140.8h0M1048.9 95.1h0M1025.0 146.1h0M1057.9 58.0h0M1069.2 93.3h0M1015.2 98.3h0M1014.9 100.2h0M1035.8 132.8h0M1030.0 68.5h0M1037.3 72.6h0M1083.7 106.8h0M1010.4 91.0h0M1055.1 112.7h0M1005.3 110.8h0M1066.6 148.2h0M1094.0 110.1h0M1014.1 102.5h0M1078.6 83.4h0M1094.3 86.1h0M1020.1 140.0h0M1052.2 126.5h0M1044.2 115.4h0M1040.5 163.7h0M1080.9 109.7h0M1073.1 143.3h0M1036.0 120.8h0M1064.0 93.3h0M1027.6 107.1h0M1044.6 99.0h0M1004.2 116.2h0M1080.9 116.9h0M1102.6 136.9h0M1042.9 89.9h0M1075.2 100.5h0M1008.1 117.8h0M1044.5 105.7h0M1079.4 121.4h0M1106.7 96.4h0M1052.3 126.0h0M1039.5 95.5h0M1098.4 80.3h0M1066.2 65.5h0M1065.4 63.6h0M1021.3 147.2h0M1103.1 118.1h0M1003.5 133.3h0M1064.6 77.2h0M1044.6 72.7h0M1052.4 110.9h0M1060.7 142.6h0M1040.6 62.5h0M1022.2 78.8h0M1042.0 98.0h0M1054.8 157.4h0M1057.1 77.7h0M1045.1 83.6h0M1047.0 135.6h0M1019.3 136.5h0M1098.2 149.0h0M1104.4 116.8h0M1024.9 159.2h0M1054.1 123.1h0M1043.5 82.0h0M1075.3 72.3h0M1013.4 130.9h0M1042.6 84.9h0M1071.7 157.3h0M1045.0 109.1h0M1075.7 145.8h0M1090.8 136.2h0M1031.9 133.1h0M1056.4 65.8h0M1096.0 132.1h0M1100.1 112.3h0M1083.3 111.7h0M1062.1 146.1h0M1058.4 136.8h0M1055.0 154.3h0M1074.9 68.3h0M1104.1 126.5h0M1037.4 92.1h0M1108.5 116.6h0M1075.1 135.6h0M1039.4 161.8h0M1107.1 96.1h0M1086.6 72.2h0M1043.0 116.6h0M1058.2 135.4h0M1071.7 128.1h0M1050.9 125.8h0M1041.5 164.5h0M1058.3 154.5h0M1060.4 108.6h0M1050.2 73.1h0M1108.6 124.4h0M1061.3 97.0h0M1097.9 104.0h0M1039.0 94.8h0M1102.8 123.4h0M1050.7 90.9h0" stroke="#4e9c3a" stroke-width="5.2" stroke-linecap="round" fill="none"/>
<path d="M1098.0 123.4h0M1044.4 145.3h0M1084.9 83.0h0M1091.0 146.2h0M1048.4 72.5h0M1093.5 103.1h0M1048.3 103.5h0M1046.4 143.7h0M1019.7 131.6h0M1091.5 145.3h0M1082.9 123.8h0M1048.6 109.8h0M1032.1 159.0h0M1052.2 79.9h0M1080.6 156.7h0M1067.2 102.5h0M1019.8 134.8h0M1047.3 90.5h0M1075.5 74.7h0M1072.8 61.9h0M1037.4 72.0h0M1047.5 142.5h0M1020.5 150.6h0M1031.6 97.4h0M1089.4 91.0h0M1101.5 108.3h0M1053.1 81.3h0M1095.3 112.3h0M1039.6 82.5h0M1032.7 110.9h0M1031.6 141.0h0M1055.2 91.8h0M1070.8 157.2h0M1003.9 123.1h0M1093.5 118.9h0M1080.2 71.5h0M1031.8 146.7h0M1053.0 116.7h0M1079.8 127.5h0M1073.4 96.5h0M1046.9 155.5h0M1041.4 71.3h0M1044.2 145.0h0M1106.4 118.4h0M1034.3 135.6h0M1066.7 152.6h0M1075.2 140.4h0M1075.7 129.4h0M1024.3 108.8h0M1097.4 147.2h0M1090.0 127.6h0M1052.6 127.4h0M1045.6 150.3h0M1045.5 87.6h0M1017.3 151.1h0M1031.2 86.1h0M1068.0 163.0h0M1081.3 102.6h0M1076.6 86.5h0M1047.2 115.5h0M1057.5 142.0h0M1071.2 163.4h0M1086.6 104.6h0M1066.2 84.9h0M1034.4 102.2h0M1090.3 92.4h0M1013.8 87.2h0M1017.1 108.4h0M1046.9 76.5h0M1028.8 100.0h0M1071.5 136.1h0M1098.9 106.5h0M1080.5 117.1h0M1021.2 94.1h0M1109.8 110.6h0M1101.9 136.3h0M1104.7 109.1h0M1089.6 104.2h0M1024.0 80.4h0M1070.0 68.5h0M1070.2 84.6h0M1068.4 72.4h0M1087.4 106.5h0M1017.9 78.5h0M1059.1 67.2h0M1069.8 132.0h0M1037.3 155.8h0M1101.1 123.7h0M1074.3 131.3h0M1049.0 155.5h0M1045.3 60.4h0M1058.4 130.7h0M1083.4 80.5h0M1097.9 91.0h0M1079.5 139.1h0M1063.5 151.5h0M1044.6 165.4h0M1075.7 99.3h0M1111.6 114.2h0M1016.5 149.2h0M1101.9 98.2h0M1027.0 148.3h0M1059.7 81.6h0M1039.5 116.9h0M1084.2 156.2h0M1039.2 158.5h0M1013.2 134.8h0M1052.5 130.5h0M1042.0 89.4h0M1067.0 151.2h0" stroke="#62b048" stroke-width="3.5" stroke-linecap="round" fill="none"/>
<path d="M1002.9 115.6h0M1044.0 79.1h0M1015.4 130.2h0M1077.4 136.7h0M1012.7 81.1h0M1035.4 99.0h0M1105.6 104.1h0M1062.0 148.1h0M1104.4 124.6h0M1066.4 164.6h0M1046.2 65.5h0M1030.6 103.3h0M1098.6 124.1h0M1096.8 117.7h0M1059.4 93.4h0M1017.9 130.4h0M1071.0 134.9h0M1038.1 99.2h0M1071.5 136.0h0M1105.6 93.6h0M1088.9 141.8h0M1047.8 119.6h0M1055.8 159.9h0M1111.1 121.1h0M1048.8 146.8h0M1076.2 107.7h0M1082.7 142.7h0M1043.9 143.7h0M1008.4 87.0h0M1046.0 120.3h0M1019.8 151.6h0M1043.5 120.0h0M1056.3 141.2h0M1037.4 140.0h0M1033.3 72.2h0M1076.9 120.3h0M1079.4 66.8h0M1061.9 91.2h0M1050.8 99.8h0M1044.2 90.6h0M1083.9 70.5h0M1009.1 124.1h0M1106.4 96.1h0M1029.5 78.9h0M1027.1 150.9h0M1080.4 143.9h0M1070.9 123.0h0M1038.0 82.2h0M1070.7 167.4h0M1045.7 154.5h0M1032.0 115.8h0M1105.4 112.3h0M1080.3 94.9h0M1101.9 85.7h0M1078.4 105.8h0M1065.3 127.8h0M1096.2 139.6h0M1092.8 126.4h0M1026.6 152.4h0M1102.1 128.1h0M1085.9 106.3h0M1016.2 142.0h0M1038.5 163.2h0M1082.8 113.7h0M1035.0 118.3h0M1023.1 101.7h0M1103.6 106.0h0M1107.0 111.8h0M1072.0 83.2h0M1046.5 98.0h0" stroke="#2a3a1e" stroke-width="1.9" stroke-linecap="round" fill="none"/>
<path d="M1024.9 158.5h0M1079.5 111.3h0M1020.3 115.5h0M1024.5 84.5h0M1052.6 167.2h0M1008.9 129.7h0M1046.4 59.2h0M1013.0 110.2h0M1059.9 87.5h0M1105.1 128.5h0M1039.4 68.4h0M1064.1 90.3h0M1088.7 82.9h0M1095.8 99.9h0M1065.1 104.2h0M1077.5 150.5h0M1038.8 83.8h0M1104.0 137.6h0M1104.2 137.5h0M1061.3 161.5h0M1033.3 99.1h0M1043.1 138.7h0M1027.1 108.2h0M1027.3 106.1h0M1090.5 146.7h0M1052.2 169.2h0M1032.3 130.5h0M1045.5 61.7h0M1023.0 149.5h0M1028.6 163.4h0M1052.8 124.6h0M1097.8 115.3h0M1034.8 93.0h0M1025.2 132.9h0M1040.1 132.9h0M1011.9 101.6h0M1108.5 123.3h0M1053.9 153.2h0M1065.5 159.7h0M1020.4 138.3h0M1022.5 136.3h0M1104.1 143.3h0M1027.2 128.9h0M1073.7 89.1h0M1065.6 78.7h0" stroke="#c9cf8e" stroke-width="1.3" stroke-linecap="round" fill="none"/>
</g>
</g></g><g clip-path="url(#c2)"><g filter="url(#ph)">
<g transform="translate(0 -3.10) scale(1 1.0111)">
<circle cx="621.3" cy="278" r="71.8" fill="#1c140f"/>
<circle cx="621.3" cy="278" r="70.89999999999999" fill="#35261c"/>
<circle cx="621.3" cy="278" r="68.7" fill="none" stroke="#cfc6c4" stroke-width="1.1" opacity="0.62"/>
<circle cx="621.3" cy="278" r="66.2" fill="none" stroke="#2a1e14" stroke-width="3.4"/>
<circle cx="621.3" cy="278" r="64.6" fill="#3f301c"/>
<circle cx="625.5" cy="278.6" r="61.111999999999995" fill="#2b2018"/>
<circle cx="625.5" cy="278.6" r="60.312" fill="#6f6657"/>
<path d="M658.7 308.5h0M620.5 304.6h0M682.5 275.0h0M573.3 288.0h0M609.8 250.2h0M656.4 311.3h0M644.1 326.4h0M602.6 263.1h0M635.2 221.4h0M567.8 285.9h0M618.1 281.0h0M591.4 286.8h0M662.6 257.5h0M648.6 272.8h0M620.3 283.3h0M672.7 294.4h0M652.7 284.3h0M573.6 301.3h0M625.8 282.5h0M610.7 231.6h0M662.1 322.1h0M663.3 235.8h0M645.0 239.6h0M619.2 258.8h0M603.8 251.0h0M608.6 306.9h0M671.9 304.5h0M626.0 272.9h0M616.6 277.9h0M602.3 271.9h0M657.8 270.5h0M595.6 274.2h0M629.9 275.6h0M616.4 305.1h0M624.7 242.6h0M647.3 252.8h0M653.5 306.9h0M645.2 290.5h0M581.2 272.2h0M631.2 303.0h0M586.5 273.3h0M577.5 284.2h0M629.6 283.6h0M673.8 299.4h0M618.7 256.5h0M609.6 307.3h0M659.0 261.0h0M621.7 261.7h0M652.6 285.8h0M600.7 248.0h0M662.7 240.1h0M595.3 228.0h0M679.2 264.9h0M657.1 298.5h0M653.7 315.1h0M607.6 278.0h0M660.8 297.9h0M598.9 252.0h0M579.2 286.9h0M609.6 231.6h0M604.4 291.0h0M633.6 269.9h0M632.6 303.4h0M586.9 252.6h0M659.8 303.4h0M581.9 256.4h0M670.5 301.1h0M620.9 314.9h0M663.9 316.8h0M586.3 242.7h0M606.0 276.8h0M612.0 288.2h0M668.6 309.4h0M662.3 278.6h0M675.3 292.0h0M636.2 278.0h0M587.3 322.6h0M625.3 311.5h0M682.0 274.1h0M589.0 310.3h0M635.1 244.8h0M661.6 279.1h0M605.0 224.4h0M590.2 292.2h0M591.8 309.9h0M681.3 286.5h0M635.5 275.6h0M658.5 279.9h0M657.0 319.7h0M655.3 246.8h0M652.0 268.9h0M637.7 313.1h0M600.5 286.5h0M670.5 254.3h0M618.8 305.9h0M617.7 314.9h0M596.1 235.7h0M641.5 273.4h0M637.7 312.9h0M663.6 266.8h0M615.1 225.9h0M590.4 287.4h0M633.2 232.0h0M656.2 277.2h0M664.9 266.7h0M657.6 243.9h0M575.2 257.4h0M652.8 293.8h0M572.2 282.7h0M645.9 326.6h0M655.2 297.0h0M576.9 289.9h0M571.7 270.9h0M612.6 244.4h0M589.0 273.8h0M648.1 255.3h0M637.8 305.1h0M625.4 331.7h0M614.2 251.6h0M576.6 305.5h0M652.5 271.8h0M638.9 273.7h0M658.9 278.3h0M635.5 275.6h0M604.1 226.1h0M644.5 238.2h0M641.5 302.4h0M677.0 259.3h0M631.7 312.6h0M600.9 257.4h0M638.1 332.2h0M661.4 308.8h0M591.9 301.2h0M660.8 241.8h0M626.7 271.1h0M644.9 229.8h0M653.5 278.7h0M618.8 224.0h0M571.5 265.0h0M651.1 294.4h0M648.0 231.1h0M633.0 322.5h0M578.6 297.8h0M598.7 298.5h0M629.2 229.5h0M593.3 316.7h0M622.3 320.2h0M638.7 310.6h0M610.2 287.2h0M612.3 311.0h0M606.0 315.8h0M669.4 246.5h0M619.4 299.4h0M672.8 307.7h0M628.6 228.0h0M656.8 258.2h0M634.0 294.3h0M583.8 309.2h0M659.1 298.5h0M649.3 292.0h0M580.6 262.9h0M656.7 266.8h0M627.1 293.2h0M629.7 288.8h0M645.5 278.8h0M586.7 269.5h0M659.8 255.9h0M644.8 290.3h0M607.6 223.0h0M625.4 250.0h0M603.5 310.8h0M596.8 291.4h0M630.9 286.5h0M668.0 238.7h0M661.5 273.6h0M615.2 253.8h0M627.7 280.5h0M599.2 324.3h0M597.4 273.7h0M582.4 283.6h0M638.8 315.8h0M661.1 261.6h0M675.6 275.5h0M664.6 319.5h0M611.6 241.9h0M643.5 323.0h0M640.2 315.9h0M647.6 309.5h0M670.2 269.3h0M579.2 274.9h0M599.7 240.8h0M619.5 305.1h0M580.9 243.3h0M654.1 248.9h0M612.9 322.0h0M665.3 290.6h0M637.6 221.8h0M647.7 292.9h0M579.8 284.4h0M644.3 274.2h0M653.9 308.3h0M628.2 269.0h0M589.1 312.6h0M603.6 290.6h0M671.9 300.9h0M582.3 275.8h0M604.5 231.5h0M596.4 299.2h0M639.7 270.7h0M632.2 239.1h0M596.6 272.5h0M656.0 267.2h0M619.3 291.6h0M667.2 244.7h0M647.1 285.7h0M623.1 288.3h0M571.2 279.4h0M617.7 237.5h0M657.8 274.3h0M612.9 306.3h0M593.3 254.4h0M654.8 307.8h0M679.5 267.0h0M586.4 240.2h0M584.1 282.2h0M616.7 253.6h0M590.7 255.5h0M613.2 318.3h0M646.2 321.1h0M655.2 304.6h0M666.2 293.5h0M669.4 309.3h0M678.2 284.6h0M608.1 333.5h0M614.8 298.3h0M611.4 253.1h0M641.2 241.0h0M620.5 323.7h0M630.6 308.5h0M650.5 292.8h0" stroke="#231e1a" stroke-width="2.8" stroke-linecap="round" fill="none"/>
<path d="M630.1 301.7h0M591.3 298.5h0M589.2 254.1h0M606.4 236.5h0M571.9 288.6h0M645.0 302.6h0M681.6 282.9h0M653.0 252.8h0M649.8 241.7h0M676.3 255.0h0M610.3 305.8h0M575.7 307.7h0M590.7 285.7h0M661.7 284.1h0M659.6 261.3h0M641.1 224.9h0M672.1 259.2h0M593.2 279.2h0M674.8 259.2h0M624.9 264.7h0M596.3 239.2h0M647.8 303.9h0M597.0 287.0h0M643.5 293.0h0M618.9 280.4h0M635.7 241.9h0M620.2 307.7h0M607.0 320.4h0M617.1 240.8h0M615.7 235.0h0M644.4 231.9h0M626.4 269.4h0M613.6 294.7h0M637.0 257.7h0M656.2 262.7h0M653.9 318.9h0M639.6 311.3h0M581.9 296.2h0M577.7 273.3h0M640.8 222.6h0M597.5 252.1h0M590.7 279.4h0M647.4 240.9h0M607.9 228.2h0M607.1 226.2h0M578.3 292.7h0M656.4 251.4h0M638.9 250.5h0M654.9 324.5h0M570.6 260.2h0M601.1 261.2h0M665.9 317.3h0M625.1 302.6h0M576.3 269.8h0M614.0 272.8h0M635.0 231.1h0M599.8 329.1h0M573.8 280.3h0M653.0 296.3h0M627.4 229.8h0M610.8 231.7h0M679.3 288.0h0M653.6 286.1h0M611.9 318.1h0M657.3 300.5h0M647.3 304.9h0M614.4 295.1h0M628.9 268.8h0M642.4 331.7h0M578.0 310.8h0M610.5 318.4h0M588.5 272.2h0M662.8 276.1h0M637.7 238.4h0M593.8 322.7h0M632.0 275.2h0M583.8 248.8h0M588.0 276.9h0M621.0 255.7h0M599.4 282.7h0M659.9 239.2h0M583.8 310.3h0M579.4 266.0h0M629.0 330.3h0M590.6 231.2h0M622.6 315.9h0M631.0 249.1h0M630.8 224.5h0M650.8 322.1h0M617.7 308.4h0M594.3 320.3h0M601.9 250.7h0M603.6 230.1h0M643.7 330.4h0M578.9 272.4h0M642.9 257.6h0M576.8 288.6h0M662.2 282.3h0M587.3 268.4h0M571.5 277.0h0M663.3 311.5h0M622.1 295.3h0M604.9 283.6h0M602.1 284.8h0M605.0 286.1h0M652.5 277.9h0M582.5 294.5h0M615.7 259.8h0M646.2 249.2h0M659.1 297.8h0M600.0 254.0h0M621.0 246.0h0M648.4 226.4h0M631.5 265.1h0M587.8 299.4h0M606.7 295.7h0M608.2 267.9h0M644.4 311.7h0M662.0 277.9h0M672.8 268.3h0M591.4 233.7h0M581.5 253.4h0M573.7 287.8h0M626.9 277.2h0M635.2 274.3h0M615.4 266.3h0M627.0 239.8h0M660.9 319.6h0M626.4 334.6h0M592.6 308.0h0M577.0 296.0h0M599.7 312.1h0M629.8 312.6h0M648.7 297.9h0M616.9 326.8h0M639.6 296.9h0M672.1 270.6h0M672.6 306.8h0M628.2 232.6h0M667.4 268.4h0M629.6 283.5h0M659.4 300.2h0M574.6 261.0h0M639.7 285.3h0M654.9 298.7h0M673.5 258.2h0M669.2 290.9h0M637.3 304.0h0M612.8 305.0h0M617.6 305.4h0" stroke="#7a5237" stroke-width="2.4" stroke-linecap="round" fill="none"/>
<path d="M600.2 316.4h0M578.9 259.3h0M623.7 288.2h0M595.8 264.2h0M634.9 315.2h0M668.7 263.4h0M623.0 266.5h0M577.9 265.2h0M659.5 239.9h0M681.3 297.0h0M677.1 283.9h0M569.5 288.9h0M673.8 261.9h0M666.7 302.3h0M653.9 304.6h0M647.7 302.2h0M666.6 292.6h0M649.9 294.5h0M631.0 247.1h0M577.2 252.3h0M590.4 238.2h0M652.2 266.5h0M648.5 332.9h0M654.7 262.0h0M641.0 270.8h0M633.4 333.0h0M669.0 312.0h0M634.2 329.7h0M654.6 308.6h0M586.1 258.7h0M632.7 270.2h0M611.4 225.9h0M597.1 274.7h0M636.9 241.5h0M621.8 330.4h0M630.2 225.1h0M618.3 278.9h0M668.9 285.1h0M670.9 289.2h0M660.4 317.3h0M674.2 284.7h0M635.5 336.8h0M583.5 285.4h0M643.9 253.0h0M657.1 272.9h0M655.9 285.8h0M594.8 312.4h0M676.9 301.4h0M634.3 228.3h0M639.0 277.6h0M604.2 228.2h0M642.0 312.8h0M643.2 332.7h0M572.5 288.3h0M624.9 324.4h0M624.7 244.0h0M623.6 295.7h0M599.3 251.3h0M635.8 310.4h0M616.7 297.5h0M606.1 265.8h0M633.0 313.3h0M675.2 275.0h0M638.2 331.4h0M657.0 265.8h0M639.2 233.8h0M572.5 259.9h0M602.8 236.8h0M662.3 263.2h0M629.6 281.7h0M618.7 238.7h0M667.0 237.7h0M624.7 305.0h0M617.8 274.8h0M638.5 288.1h0M614.0 316.1h0M641.8 324.8h0M628.5 224.7h0M576.3 263.8h0M639.9 230.2h0M607.1 319.5h0M638.8 252.4h0M621.6 283.4h0M609.4 266.7h0M601.4 287.2h0M667.1 315.6h0M597.9 329.5h0M622.1 233.4h0M578.1 283.3h0M635.1 254.7h0M595.8 270.9h0M636.1 304.1h0M639.2 223.2h0M603.0 288.8h0M640.0 307.9h0M587.0 318.7h0M584.6 272.0h0M608.1 260.9h0M598.5 307.1h0M655.5 291.7h0M584.2 258.6h0M623.9 294.4h0M604.5 268.6h0M683.5 280.1h0M618.8 221.8h0M603.9 325.8h0M653.5 241.0h0M655.8 285.1h0M597.9 306.4h0M602.6 267.4h0M627.1 287.3h0M609.0 290.3h0M626.3 286.6h0M641.0 255.1h0M580.6 276.4h0M667.7 289.8h0M634.7 251.2h0M591.3 241.7h0M592.7 265.5h0M577.3 275.1h0M578.7 298.1h0M625.3 227.4h0M604.8 287.7h0M640.3 307.2h0M612.2 273.1h0M617.1 299.7h0M599.7 272.8h0M632.0 265.3h0M593.7 318.6h0M644.1 246.6h0M677.4 259.1h0M594.1 265.6h0M642.7 324.5h0M669.8 296.1h0M628.8 304.0h0M597.9 254.0h0M646.8 286.5h0M634.6 242.9h0M634.1 232.9h0M660.1 279.3h0M601.9 261.4h0M665.2 322.4h0M603.9 321.4h0M570.7 299.8h0M627.0 289.0h0M596.4 238.9h0M635.5 261.7h0M643.7 315.0h0M621.7 299.5h0M633.3 288.1h0M606.0 288.1h0M643.4 281.9h0M611.7 233.1h0M595.8 322.5h0M662.2 289.2h0M637.9 273.0h0M649.8 311.6h0M616.4 291.0h0M653.5 234.1h0M592.8 258.9h0M586.3 264.1h0M595.1 264.5h0M642.4 239.5h0M629.4 323.6h0M632.7 237.5h0M605.9 317.5h0M616.2 255.1h0M654.1 253.8h0M588.3 299.4h0M627.0 254.2h0M642.2 316.4h0M664.3 282.5h0M643.8 297.6h0M588.4 320.5h0M601.6 258.4h0M598.2 246.4h0M664.7 279.1h0M609.8 227.9h0M633.0 277.0h0M589.2 275.4h0M575.1 296.7h0M585.3 295.4h0M628.6 223.6h0M588.4 257.0h0M654.7 300.1h0M644.5 327.0h0M615.1 259.4h0M577.0 252.2h0M646.5 249.0h0M596.7 310.6h0M574.7 307.4h0M658.8 233.8h0M644.7 278.6h0M659.0 266.8h0M622.3 324.3h0M603.8 294.7h0M650.5 274.6h0M657.5 297.3h0M649.5 231.3h0M589.5 289.3h0M659.3 319.2h0M626.8 251.0h0M598.2 229.9h0M607.5 300.6h0M623.9 232.0h0M622.4 281.0h0M603.3 323.0h0M641.3 316.4h0M629.9 244.0h0M659.8 313.0h0M607.3 236.2h0M655.6 258.8h0M585.8 276.1h0M646.4 251.8h0M627.6 314.4h0M648.3 233.1h0M646.0 327.9h0M659.7 275.9h0M637.5 230.9h0M604.3 259.6h0M680.6 278.9h0M599.2 325.3h0M658.9 235.2h0M620.1 228.5h0M650.0 226.7h0M674.0 251.8h0M600.8 329.7h0M646.8 292.4h0M654.8 246.2h0M658.1 268.9h0M646.4 287.8h0M665.0 243.0h0M582.5 299.4h0M681.2 291.5h0M620.0 304.4h0M584.8 282.1h0M575.5 282.5h0M646.7 326.9h0M608.5 311.8h0M666.0 248.0h0" stroke="#928c84" stroke-width="2.0" stroke-linecap="round" fill="none"/>
<path d="M618.3 226.4h0M594.7 294.8h0M571.6 270.9h0M648.2 322.6h0M568.8 287.6h0M611.2 223.7h0M591.1 299.4h0M625.6 305.5h0M615.0 303.8h0M594.1 246.9h0M621.4 227.6h0M667.7 270.6h0M593.4 250.0h0M591.3 283.5h0M613.0 310.3h0M586.1 276.5h0M579.3 264.5h0M670.5 275.0h0M658.7 276.7h0M590.5 250.2h0M587.3 290.8h0M630.5 337.0h0M672.8 302.7h0M591.0 283.1h0M605.3 332.4h0M602.5 317.2h0M584.0 302.9h0M585.2 263.4h0M633.1 284.5h0M623.9 276.4h0M594.5 274.9h0M623.7 245.0h0M648.0 285.7h0M602.3 320.1h0M610.4 226.8h0M667.9 266.5h0M671.7 292.5h0M597.4 315.1h0M642.5 311.8h0M627.3 327.2h0M659.4 266.9h0M578.4 277.5h0M628.6 243.4h0M620.1 326.1h0M610.1 317.3h0M595.2 246.6h0M659.9 272.7h0M633.8 315.4h0M669.3 245.8h0M648.4 287.7h0M630.1 330.6h0M616.9 256.1h0M639.2 225.4h0M639.4 246.6h0M638.2 251.2h0M645.7 269.4h0M599.9 298.8h0M647.7 231.9h0M583.0 270.1h0M613.6 322.3h0M673.6 293.3h0M663.9 267.6h0M581.4 288.8h0M584.1 317.7h0M634.7 318.8h0M607.1 231.0h0M618.3 297.9h0M617.7 259.1h0M629.2 271.3h0M664.6 242.2h0M569.8 276.4h0M634.3 230.9h0M624.5 296.3h0M639.1 290.8h0M603.0 234.5h0M659.9 266.3h0M589.6 320.1h0M640.6 222.1h0M683.2 282.0h0M580.4 306.0h0M636.9 320.6h0M626.3 228.4h0M619.5 262.0h0M637.4 271.5h0M644.4 238.4h0M605.4 259.3h0M637.9 228.6h0M625.8 335.6h0M578.2 306.3h0M629.5 314.5h0M628.1 289.2h0M640.0 296.6h0M584.7 274.3h0M670.1 313.5h0M597.4 246.7h0M619.8 316.4h0M658.1 258.1h0M568.7 277.6h0M581.5 310.9h0M670.8 299.3h0M647.9 299.9h0M673.2 307.0h0M666.8 245.9h0M605.8 278.7h0M569.9 271.5h0M625.1 276.2h0M682.9 274.1h0M618.0 274.0h0M614.9 233.1h0M664.9 279.6h0M640.1 280.2h0M603.1 232.0h0M614.9 299.4h0M621.3 306.5h0M596.5 267.8h0M631.8 274.8h0M631.4 324.9h0M609.4 284.1h0M601.7 299.0h0M634.2 251.0h0M594.4 241.3h0M614.6 284.9h0M606.5 274.4h0M628.9 335.3h0M651.7 330.2h0M631.2 287.5h0M678.6 289.1h0M650.0 259.9h0M606.1 307.1h0M603.7 254.4h0M578.7 288.1h0M622.1 300.0h0M598.3 239.4h0M664.4 279.5h0M651.4 241.1h0M599.1 226.5h0M636.3 314.1h0M659.0 323.5h0M578.2 250.1h0M606.5 249.8h0M617.9 248.8h0M578.7 277.3h0M630.3 249.7h0M626.7 235.0h0M612.8 265.5h0M607.8 275.7h0M589.5 240.2h0M596.5 304.6h0M594.1 247.5h0M679.3 271.7h0M611.8 246.5h0M671.3 295.1h0M633.6 327.5h0M593.9 233.8h0M663.7 293.6h0M606.9 307.8h0M623.0 332.5h0M583.4 290.7h0M658.1 308.3h0M611.6 263.1h0M609.4 304.5h0M609.7 273.2h0M662.2 274.7h0M635.3 273.7h0M625.8 222.5h0M591.9 291.9h0M602.0 255.9h0M626.8 335.1h0M599.6 245.9h0M574.5 291.8h0M623.4 247.3h0M611.0 313.6h0M661.5 291.7h0M661.7 310.5h0M608.7 307.9h0M631.4 307.6h0M632.7 333.8h0M583.6 290.8h0M601.2 331.0h0M605.7 264.4h0M624.7 276.9h0M676.4 277.0h0M634.3 316.3h0M669.3 250.6h0M635.5 234.7h0M641.1 323.7h0M605.3 267.7h0M665.7 293.6h0M654.9 261.8h0M613.1 264.1h0M665.7 240.0h0M609.8 326.2h0M623.0 239.9h0M634.8 269.9h0M620.7 298.2h0M649.1 233.6h0M631.8 326.2h0M581.1 275.4h0M587.0 300.9h0M594.5 266.3h0" stroke="#d8d1c4" stroke-width="1.6" stroke-linecap="round" fill="none"/>
<path d="M610.2 295.6h0M590.6 241.0h0M631.4 321.7h0M606.9 294.0h0M635.6 282.8h0M624.7 257.9h0M617.5 318.3h0M639.5 319.5h0M599.1 283.0h0M605.8 237.8h0M656.8 268.6h0M632.9 234.4h0M615.7 273.9h0M612.3 313.3h0M642.6 283.7h0M634.0 261.7h0M599.8 268.4h0M590.5 272.7h0M621.6 316.7h0M615.9 332.9h0M605.9 283.6h0M624.4 255.7h0M623.7 228.7h0M661.6 259.6h0M624.6 228.2h0M643.0 238.1h0M664.0 248.4h0M600.1 301.8h0M654.7 232.5h0M586.4 316.5h0M638.4 233.1h0M609.8 303.9h0M613.8 324.1h0M599.5 284.8h0M656.4 319.2h0M634.0 300.4h0M612.5 276.0h0M604.4 293.0h0M652.2 245.9h0M586.7 280.1h0M677.2 284.6h0M630.3 276.9h0M579.4 258.7h0M657.3 233.1h0M669.5 248.4h0M659.7 323.7h0M670.8 274.3h0M646.3 258.5h0M608.5 286.3h0M570.0 288.7h0M614.8 241.7h0M615.1 302.6h0M598.0 291.6h0M582.8 281.6h0M589.3 303.0h0M591.2 299.2h0M573.7 283.2h0M659.7 252.0h0M627.1 247.5h0M642.1 305.7h0M657.3 316.6h0M664.8 255.8h0M629.5 298.7h0M631.2 236.0h0M660.0 323.4h0M626.6 223.0h0M675.4 273.4h0M675.2 254.9h0M643.5 306.7h0M581.4 268.1h0M642.7 302.7h0M633.3 223.4h0M571.4 287.0h0M663.6 240.6h0M638.6 311.2h0M599.1 234.8h0M635.2 261.5h0M621.5 270.5h0M620.7 290.6h0M605.4 277.2h0M606.0 248.1h0M637.4 248.6h0M645.0 277.4h0M660.4 298.3h0M573.4 277.8h0M649.3 282.6h0M626.6 315.9h0M645.5 236.9h0M628.4 313.8h0M630.1 236.6h0M652.0 300.0h0M663.3 284.4h0M629.1 309.5h0M597.4 323.2h0M640.2 287.1h0M650.6 305.9h0M575.3 300.3h0M621.2 249.5h0M654.0 309.5h0M638.8 255.3h0M628.7 244.5h0M679.0 264.0h0M648.8 323.8h0M595.8 259.6h0M571.9 272.5h0M583.2 283.6h0M616.6 278.9h0M626.5 260.3h0M629.4 275.8h0M599.4 266.8h0M607.6 237.5h0M624.5 227.3h0M644.8 277.1h0M630.5 317.7h0M657.6 263.0h0M636.3 318.2h0M619.1 293.2h0M639.0 242.8h0M635.6 263.3h0M615.3 295.1h0M646.9 247.3h0M615.4 270.7h0M592.6 291.5h0M617.7 252.2h0M657.9 275.4h0M586.7 275.2h0M618.0 289.9h0M678.1 291.8h0M669.6 272.9h0M642.2 297.2h0M621.1 288.1h0M609.1 303.8h0M601.6 324.6h0M572.6 258.2h0M620.2 292.7h0M629.3 230.4h0M639.7 247.1h0M632.5 262.2h0M617.1 232.2h0M584.8 260.7h0M589.3 287.0h0M581.8 285.5h0M644.2 251.6h0M592.4 266.2h0M648.1 320.5h0M678.6 280.7h0M647.7 285.7h0M624.4 241.3h0M613.4 316.3h0M666.9 259.5h0M590.1 320.9h0M626.1 296.0h0M620.5 228.1h0M635.7 244.4h0M614.7 255.0h0M619.4 333.3h0M658.2 234.2h0M580.2 263.3h0M602.3 305.8h0M669.4 257.0h0M646.0 270.4h0M579.1 306.8h0M671.5 255.9h0M647.4 259.4h0M621.4 260.7h0M619.6 280.2h0M602.7 288.8h0M586.4 303.6h0M601.6 231.0h0M654.2 265.9h0M607.1 310.4h0M624.3 330.7h0M637.8 234.1h0M607.2 253.9h0M617.0 327.3h0M672.7 309.5h0M641.4 299.0h0M629.1 224.6h0M656.1 324.3h0M605.5 277.4h0M599.4 270.8h0M598.6 242.6h0M653.2 231.8h0M655.7 243.2h0M618.7 226.2h0M646.3 244.5h0M677.3 258.4h0M634.0 303.3h0M594.0 251.1h0M590.1 297.3h0M635.0 314.0h0M584.5 251.4h0M620.5 261.1h0M635.4 316.7h0M629.7 249.1h0M623.5 251.5h0M608.3 328.0h0M642.7 327.6h0M616.9 275.8h0M584.5 286.4h0M650.0 303.1h0M586.7 282.2h0M656.5 261.9h0M649.9 260.0h0M624.9 256.3h0M583.1 254.0h0M631.5 267.2h0M624.7 256.4h0M656.1 272.0h0M639.4 260.3h0M666.9 275.1h0M635.4 331.9h0M637.5 231.9h0M601.0 290.5h0M591.3 239.2h0M621.6 231.0h0M661.1 293.3h0M615.0 318.7h0M604.0 240.3h0M656.9 279.1h0M617.4 314.5h0M620.1 302.9h0M632.3 317.7h0M645.0 260.8h0M670.3 267.4h0M667.9 246.2h0M626.5 224.4h0M641.1 320.9h0M610.7 296.4h0M618.4 323.6h0M637.7 292.2h0M654.6 236.5h0M650.4 283.5h0M666.9 279.4h0M647.5 276.4h0M592.2 261.0h0M619.6 235.5h0M623.5 260.2h0M675.3 271.6h0M630.0 282.2h0" stroke="#968c62" stroke-width="4.4" stroke-linecap="round" fill="none"/>
<path d="M644.5 232.4h0M585.6 315.9h0M598.1 248.6h0M663.7 288.7h0M598.3 304.4h0M596.2 321.8h0M613.5 291.5h0M625.1 330.4h0M592.1 275.0h0M665.5 239.0h0M607.2 289.2h0M617.3 295.7h0M659.0 244.5h0M605.7 319.7h0M658.0 232.3h0M643.2 312.7h0M602.8 248.5h0M587.8 271.7h0M589.3 301.7h0M601.1 297.5h0M582.2 303.8h0M647.5 310.8h0M631.6 332.9h0M658.9 280.3h0M672.1 267.8h0M629.8 327.0h0M608.1 278.4h0M634.9 285.8h0M617.5 314.0h0M678.1 268.8h0M581.5 264.2h0M588.4 243.4h0M594.1 311.8h0M631.0 305.1h0M621.7 314.4h0M612.9 320.6h0M656.4 286.6h0M585.5 247.6h0M634.2 242.4h0M619.0 272.2h0M666.7 257.5h0M630.4 260.8h0M598.9 294.6h0M652.6 237.3h0M655.9 325.4h0M631.2 298.5h0M590.7 264.6h0M637.2 275.1h0M665.5 252.2h0M616.4 298.7h0M622.8 268.9h0M621.2 294.3h0M592.6 324.6h0M649.3 243.9h0M597.9 243.0h0M636.9 228.2h0M679.2 266.2h0M595.1 324.7h0M625.4 297.7h0M618.3 268.6h0M665.4 239.2h0M634.7 251.3h0M612.6 276.2h0M576.9 295.6h0M633.0 299.8h0M604.9 305.2h0M609.3 306.5h0M666.5 298.2h0M581.2 281.0h0M600.9 326.6h0M631.9 236.8h0M586.6 313.6h0M591.8 292.9h0M613.2 273.0h0M609.1 279.0h0M669.5 254.0h0M644.3 296.7h0M604.2 242.6h0M595.5 298.8h0M631.1 314.5h0M639.4 283.2h0M626.3 287.8h0M627.3 303.8h0M598.8 313.1h0M673.0 276.0h0M643.6 240.3h0M628.8 233.7h0M659.8 280.4h0M657.5 313.0h0M601.0 306.8h0M656.9 324.8h0M621.8 299.5h0M603.4 301.6h0M643.2 322.5h0M620.0 281.2h0M644.2 272.3h0M663.4 237.0h0M578.0 264.3h0M650.9 279.5h0M638.0 233.0h0M646.9 298.6h0M670.3 301.8h0M604.4 252.6h0M588.8 262.5h0M622.5 320.0h0M673.5 280.9h0M647.7 272.5h0M585.3 295.8h0M605.5 233.0h0M602.1 321.8h0M593.7 317.2h0M582.6 276.6h0M644.3 263.9h0M592.1 278.9h0M671.9 297.4h0M633.1 300.4h0M658.4 316.3h0M616.3 247.4h0M591.7 281.0h0M614.4 279.1h0M612.6 332.6h0M605.3 321.5h0M597.3 252.2h0M591.2 246.0h0M580.8 255.6h0M617.1 304.4h0M576.8 291.1h0M621.3 278.7h0M573.2 290.7h0M646.8 315.8h0M616.4 319.3h0M628.2 246.2h0M643.2 312.1h0M634.7 277.6h0M616.7 303.6h0M576.0 287.2h0M585.2 262.2h0M632.3 319.4h0M625.3 245.9h0M680.9 285.4h0M569.8 276.7h0M600.1 257.4h0M649.5 327.8h0M628.9 235.7h0M656.4 282.2h0M610.3 286.7h0M587.2 285.4h0M637.2 318.0h0M676.1 262.8h0M639.1 250.5h0M629.7 317.6h0M649.3 268.0h0M672.2 302.2h0M665.9 281.5h0M668.2 274.1h0M656.7 280.3h0M625.6 231.9h0M658.6 298.4h0M602.7 281.4h0M647.1 301.7h0M580.8 311.3h0M600.5 326.0h0M663.9 283.6h0M633.7 289.8h0M613.6 324.3h0M601.7 259.7h0M618.8 231.5h0M656.6 243.3h0M667.9 305.4h0M676.5 263.7h0M614.4 261.8h0M652.1 249.0h0M618.2 224.5h0M627.5 287.1h0M674.8 257.9h0M658.4 298.3h0M653.4 244.0h0M569.4 270.9h0M659.5 284.9h0M656.3 324.9h0M600.5 263.9h0M662.2 238.7h0M570.6 284.8h0M635.7 324.6h0M652.7 277.5h0M610.5 229.2h0M644.8 256.6h0M611.2 291.3h0M572.9 276.6h0M610.0 329.5h0M621.8 317.3h0M598.6 235.1h0M657.1 266.5h0M587.2 309.8h0M639.9 230.3h0M619.7 331.0h0M629.4 235.1h0M601.0 320.2h0M669.7 299.1h0M582.4 302.9h0M596.6 260.8h0M609.1 315.3h0M644.5 300.3h0M609.3 259.5h0M661.5 258.5h0M615.3 300.1h0M619.6 313.8h0M646.2 302.4h0M679.0 266.2h0M672.6 249.8h0M609.1 225.4h0M602.4 250.6h0M647.8 318.6h0M679.1 266.5h0M662.7 272.4h0M602.8 226.6h0M616.4 227.0h0M654.4 247.7h0M649.2 254.6h0M642.6 245.4h0M636.7 328.9h0M637.6 235.0h0M597.0 283.9h0M650.8 239.9h0M600.7 233.6h0M675.3 287.1h0M638.3 261.8h0M675.9 294.1h0M622.5 319.9h0M648.0 268.0h0M611.6 279.1h0M662.1 240.8h0M579.0 298.2h0M655.2 319.9h0M642.9 233.4h0M655.8 285.1h0M598.4 234.5h0M578.6 280.9h0M583.9 290.5h0M620.0 303.4h0M654.5 248.0h0M612.2 306.4h0M604.3 313.5h0M646.4 310.4h0M604.7 307.1h0M617.5 287.6h0M648.9 257.9h0M624.7 223.5h0M601.0 301.4h0M601.0 229.3h0M580.9 269.2h0M650.1 298.5h0M581.6 291.6h0M589.7 311.6h0M640.3 254.6h0M607.7 275.6h0M607.0 317.5h0M637.3 256.7h0M639.8 234.8h0M631.9 265.5h0M604.1 276.3h0M632.7 232.5h0M632.4 334.6h0M653.7 257.1h0M635.9 327.4h0M597.6 323.2h0M616.4 330.2h0M599.2 313.3h0M607.8 319.6h0M657.3 291.0h0M599.1 313.3h0M638.3 240.9h0M646.8 272.0h0M621.7 243.1h0M633.2 310.5h0M597.6 306.7h0M575.1 281.8h0M635.0 244.0h0M630.7 235.1h0M675.9 289.7h0M659.4 248.5h0M571.5 276.4h0M668.4 273.2h0M663.8 292.4h0M636.8 315.6h0M604.1 262.7h0M662.1 294.5h0M608.1 241.4h0M648.2 226.7h0M657.9 273.1h0M584.6 292.2h0M636.3 332.5h0M631.8 223.3h0M595.2 305.0h0M607.5 276.2h0M623.2 324.5h0M638.2 272.2h0M604.8 313.4h0M601.0 294.3h0M640.4 306.5h0" stroke="#b5ab7c" stroke-width="3.8" stroke-linecap="round" fill="none"/>
<path d="M653.6 289.2h0M674.5 299.2h0M601.1 247.0h0M605.0 320.6h0M597.1 322.1h0M641.1 256.0h0M591.5 274.9h0M652.9 275.7h0M651.5 285.0h0M667.2 262.7h0M621.4 239.1h0M615.1 243.0h0M580.3 271.4h0M640.6 225.7h0M592.3 239.2h0M639.0 300.3h0M637.8 271.0h0M598.5 285.7h0M595.5 269.9h0M640.5 268.4h0M650.8 229.3h0M583.4 307.1h0M605.5 260.5h0M605.5 276.1h0M619.9 293.0h0M648.1 326.9h0M572.9 275.6h0M595.1 286.5h0M591.5 281.0h0M636.1 276.9h0M634.0 303.8h0M590.2 276.8h0M657.6 309.1h0M656.4 250.3h0M604.4 312.6h0M625.8 290.4h0M613.9 311.7h0M631.5 242.8h0M639.2 264.7h0M616.2 300.5h0M631.0 256.1h0M588.3 263.1h0M621.4 237.7h0M612.4 332.2h0M602.7 281.0h0M586.4 267.4h0M634.9 285.1h0M577.5 279.6h0M596.5 313.6h0M622.8 326.8h0M637.0 238.8h0M657.2 261.0h0M621.5 282.4h0M590.1 313.2h0M630.6 241.8h0M584.0 293.7h0M664.1 292.4h0M637.0 262.0h0M660.7 297.4h0M598.7 256.3h0M578.0 306.0h0M681.6 276.2h0M640.6 306.9h0M620.5 332.4h0M594.0 250.3h0M668.7 304.9h0M652.3 274.6h0M623.9 284.5h0M640.7 255.6h0M651.1 324.9h0M608.3 245.0h0M628.2 334.0h0M598.7 319.3h0M603.0 251.4h0M661.6 272.5h0M624.1 305.6h0M662.6 287.0h0M669.4 258.2h0M607.6 304.2h0M642.5 230.1h0M614.7 304.8h0M621.5 329.5h0M579.4 285.1h0M603.1 233.1h0M616.9 276.3h0M610.9 254.9h0M652.0 244.3h0M607.6 235.2h0M656.0 237.4h0M670.3 253.1h0M624.3 327.5h0M596.1 318.1h0M585.3 263.5h0M645.7 292.0h0M637.8 291.4h0M662.0 238.7h0M603.0 309.6h0M583.2 257.5h0M673.6 307.2h0M644.3 282.2h0M619.9 246.6h0M598.3 246.1h0M585.0 283.6h0M639.7 245.4h0M629.7 235.3h0M639.3 266.4h0M623.0 287.0h0M666.6 286.2h0M602.2 285.2h0M639.7 299.6h0M658.4 251.7h0M588.5 299.9h0M589.2 294.8h0M675.9 303.6h0M584.0 254.1h0M640.0 268.0h0M650.4 288.5h0M637.5 300.6h0M585.1 310.8h0M585.2 252.2h0M571.0 279.1h0M640.3 264.6h0M600.1 229.5h0M643.2 240.4h0M612.0 288.9h0M623.2 295.5h0M670.8 299.8h0M591.2 277.7h0M617.7 247.6h0M648.9 264.6h0M634.0 303.8h0M676.6 263.3h0M641.8 330.7h0M671.8 288.6h0M599.4 285.5h0M603.4 263.4h0M577.2 270.6h0M578.1 304.1h0M644.6 263.7h0M627.0 284.3h0M616.2 291.0h0M619.1 297.3h0M596.9 282.0h0M670.8 256.0h0M600.0 311.4h0M637.6 285.7h0M632.6 263.4h0M606.9 299.0h0M632.0 304.2h0M635.7 332.4h0M628.3 324.2h0M629.1 333.2h0M657.3 253.6h0M670.9 262.3h0M658.2 253.8h0M639.2 286.0h0M655.3 231.7h0M578.9 304.8h0M652.0 260.9h0M628.4 228.7h0M612.1 254.8h0M656.4 289.1h0M620.7 319.3h0M603.8 307.2h0M617.2 297.9h0M617.0 324.1h0M615.2 331.2h0M652.1 250.8h0M612.4 322.5h0M664.7 245.6h0M631.8 304.0h0M678.0 295.2h0M619.0 313.5h0M628.7 248.2h0M624.2 271.4h0M617.7 283.8h0M638.4 251.2h0M644.7 233.2h0M649.3 298.5h0M638.3 233.5h0M607.4 288.5h0M641.9 307.8h0M579.7 280.9h0M657.6 244.0h0M586.8 264.5h0M615.7 270.2h0M665.8 289.9h0M577.7 301.0h0M629.2 311.8h0M625.0 324.4h0" stroke="#d0c89a" stroke-width="2.6" stroke-linecap="round" fill="none"/>
<path d="M631.3 261.6h0M590.3 309.4h0M622.0 229.0h0M650.1 320.0h0M574.6 294.8h0M642.8 327.6h0M663.7 256.3h0M641.7 307.8h0M589.4 317.8h0M642.6 310.8h0M597.4 308.9h0M624.2 268.8h0M627.2 294.8h0M579.9 280.7h0M636.3 231.5h0M655.1 326.7h0M650.4 281.1h0M594.4 245.3h0M589.4 308.3h0M595.2 288.1h0M611.1 312.8h0M662.7 308.8h0M646.6 316.2h0M671.4 256.1h0M635.6 256.4h0M627.7 272.6h0M630.0 308.0h0M601.0 228.1h0M634.7 317.6h0M614.4 325.5h0M679.4 282.2h0M618.1 301.3h0M647.7 235.6h0M638.1 227.0h0M589.9 289.2h0M636.0 240.2h0M627.2 323.0h0M579.7 297.5h0M660.4 242.2h0M663.8 296.3h0M614.0 282.6h0M624.4 283.2h0M618.4 253.4h0M648.6 326.0h0M620.0 325.2h0M602.2 240.0h0M648.8 290.9h0M641.3 246.9h0M612.8 316.4h0M672.2 289.0h0M633.5 223.4h0M606.6 321.7h0M674.1 258.6h0M571.7 291.8h0M584.4 267.3h0M603.7 267.4h0M594.2 303.9h0M635.2 237.3h0M593.8 324.6h0M646.5 289.9h0M592.9 324.3h0M590.4 286.0h0M637.6 254.2h0M630.3 263.8h0M579.8 248.1h0M603.2 261.6h0M637.2 328.1h0M620.1 333.0h0M609.3 286.3h0M619.1 230.3h0M622.8 273.6h0M598.2 307.5h0M640.5 269.7h0M595.0 292.7h0M598.7 251.5h0M609.0 314.4h0M614.5 275.5h0M613.4 304.4h0M619.7 312.0h0M620.0 312.5h0M614.5 253.5h0M640.7 274.0h0M612.2 325.0h0M607.7 252.8h0M615.4 325.5h0M589.2 314.3h0M644.0 266.5h0M612.9 254.3h0M576.3 257.1h0M590.4 238.8h0M609.3 304.2h0M592.7 269.8h0M597.3 274.3h0M637.0 321.3h0M646.2 296.3h0M665.2 303.9h0M641.7 303.4h0M651.0 246.5h0M593.7 285.3h0M575.8 273.4h0M612.0 294.8h0M644.7 322.0h0M571.3 286.0h0M634.3 325.7h0M602.3 297.8h0M619.0 247.2h0M632.3 316.0h0M610.8 286.0h0M661.1 275.2h0M612.3 294.0h0M640.1 298.0h0M663.3 296.8h0M593.8 237.0h0M621.8 329.3h0M625.3 265.0h0M633.8 302.7h0M659.2 243.1h0M651.2 289.4h0M649.1 316.8h0M575.8 302.3h0M641.3 252.8h0M619.9 318.4h0M583.6 306.8h0M644.2 328.0h0M595.3 259.8h0M658.3 271.8h0M632.9 223.4h0M669.3 243.4h0M578.8 296.1h0M641.1 251.9h0M573.5 294.4h0M631.7 247.9h0M628.4 259.5h0M591.8 305.2h0M623.5 284.0h0M585.8 258.6h0M613.4 258.9h0M636.4 283.8h0M614.9 275.6h0M636.9 317.0h0M592.1 311.6h0M652.6 309.0h0M603.4 290.4h0M671.5 249.0h0M653.2 272.3h0M672.3 285.8h0M652.7 259.1h0M610.6 327.3h0M584.3 264.4h0M615.5 238.9h0M643.5 240.3h0M625.1 272.7h0M571.9 284.8h0M578.5 282.4h0M571.8 268.0h0M652.2 292.5h0M652.0 324.4h0M650.0 274.7h0M619.2 306.0h0M587.9 249.2h0M623.7 330.1h0M587.3 290.5h0M600.2 307.3h0M636.5 280.9h0M655.3 272.5h0M592.3 323.8h0M619.1 294.6h0M650.0 252.4h0M607.0 253.7h0M644.1 297.6h0M629.9 237.2h0M600.4 237.2h0M583.5 258.1h0M634.0 301.4h0M577.5 298.6h0M633.7 328.0h0M648.1 235.6h0M641.3 291.4h0M635.0 253.8h0M668.4 284.8h0M608.6 230.0h0M615.7 235.9h0M590.6 320.6h0M621.3 316.5h0M658.4 306.3h0M609.8 241.0h0M617.0 287.1h0M617.7 269.8h0M628.0 234.1h0M655.4 243.5h0" stroke="#2a221c" stroke-width="2.5" stroke-linecap="round" fill="none"/>
<path d="M627.7 247.3h0M667.6 262.1h0M590.5 267.7h0M651.5 239.5h0M581.8 263.3h0M638.5 221.3h0M644.3 333.4h0M617.3 316.7h0M620.3 225.6h0M607.6 306.1h0M585.3 270.8h0M599.0 297.3h0M682.4 282.8h0M592.4 324.4h0M611.8 264.6h0M641.2 311.2h0M631.8 296.7h0M629.6 237.3h0M649.9 313.3h0M602.6 229.6h0M600.5 289.4h0M669.6 289.3h0M567.4 268.5h0M625.7 292.3h0M577.1 269.4h0M628.5 309.5h0M646.0 328.9h0M597.9 264.6h0M606.6 301.7h0M678.8 286.4h0M629.3 245.6h0M593.8 326.0h0M621.2 327.9h0M653.7 262.2h0M632.6 246.1h0M647.8 275.7h0M648.0 322.5h0M603.1 311.6h0M640.2 260.1h0M632.6 324.5h0M629.3 318.2h0M634.8 324.8h0M618.1 267.9h0M639.1 223.0h0M609.1 328.4h0M605.4 330.9h0M673.3 264.9h0M596.1 297.2h0M647.7 329.5h0M670.7 258.0h0M655.2 261.7h0M661.1 298.8h0M671.1 278.3h0M650.3 237.9h0M590.4 300.3h0M627.5 315.5h0M680.4 264.4h0M587.7 246.3h0M604.2 321.0h0M638.8 269.2h0M649.8 274.8h0M634.1 281.1h0M583.5 307.2h0M628.7 335.9h0M627.8 256.7h0M630.7 251.9h0M622.4 265.8h0M636.2 245.4h0M619.6 264.1h0M588.8 278.6h0M648.8 309.2h0M636.5 276.6h0M659.0 270.3h0M643.5 228.4h0M585.2 255.6h0M664.2 271.2h0M640.2 240.2h0M599.0 331.3h0M662.2 323.1h0M624.5 253.9h0M634.5 271.0h0M614.4 221.7h0M630.2 222.1h0M609.0 230.9h0M673.0 247.1h0M608.8 296.8h0M611.6 291.7h0M657.5 256.8h0M644.8 275.8h0M581.2 290.9h0M591.4 314.9h0M624.6 288.8h0M658.5 250.5h0M601.5 325.2h0M651.5 298.2h0M570.8 280.9h0M591.1 258.0h0M585.5 237.9h0M607.5 296.7h0M604.4 273.4h0M627.2 326.6h0M601.8 286.3h0M683.8 279.2h0M651.4 239.2h0M587.4 263.8h0M683.2 267.1h0M670.5 263.1h0M594.2 231.1h0M630.4 319.9h0M594.9 264.6h0M587.4 254.4h0M661.2 260.1h0M588.9 302.6h0M635.6 278.8h0M680.0 288.5h0M660.1 240.5h0M622.6 324.9h0M650.9 313.8h0M577.5 270.8h0M666.6 317.9h0M575.4 247.3h0M667.6 306.3h0M649.9 225.0h0M628.4 312.2h0M664.1 247.7h0M660.7 308.3h0M609.8 329.1h0M665.1 309.5h0M606.4 292.3h0M624.4 331.4h0M680.4 259.6h0M679.3 292.3h0M599.7 252.2h0M674.1 290.7h0M598.7 272.5h0M609.2 275.0h0M676.5 259.8h0M619.3 220.0h0M643.4 315.6h0M679.4 262.9h0M613.0 263.4h0M581.6 280.1h0M594.7 271.2h0M631.2 310.6h0M626.7 336.6h0M638.6 302.0h0M646.6 276.2h0M661.7 286.2h0M580.6 261.9h0M663.7 236.9h0" stroke="#c9c6be" stroke-width="2.0" stroke-linecap="round" fill="none"/>
<path d="M678.2 283.4h0M634.3 323.9h0M634.8 260.2h0M570.5 263.6h0M585.7 304.2h0M629.2 243.1h0M663.8 309.6h0M681.9 286.5h0M581.8 283.7h0M652.6 312.4h0M581.1 296.2h0M651.9 296.0h0M575.3 265.2h0M620.4 270.4h0M660.1 265.0h0M587.2 234.2h0M643.8 248.3h0M624.0 320.7h0M603.8 278.6h0M583.7 244.0h0M645.6 320.4h0M599.0 272.1h0M639.1 261.4h0M628.5 262.9h0M649.3 259.0h0M609.6 233.1h0M601.6 232.5h0M620.3 317.5h0M583.8 251.3h0M595.9 297.7h0M612.8 265.9h0M589.3 269.2h0M611.8 247.6h0M671.8 295.7h0M618.8 292.8h0M681.0 294.2h0M603.4 278.2h0M666.2 295.9h0M613.9 283.7h0M584.9 267.5h0M608.4 269.2h0M672.1 280.3h0M667.7 279.2h0M583.2 313.8h0M603.2 274.5h0M658.2 321.0h0M631.1 323.9h0M606.1 304.9h0M594.3 313.2h0M603.6 304.9h0M591.0 320.8h0M676.5 270.9h0M628.0 242.2h0M619.0 230.6h0M654.4 276.4h0M667.8 279.1h0M616.6 246.5h0M651.4 274.1h0M591.3 236.1h0M662.1 275.2h0M622.7 256.4h0M603.8 278.6h0M632.6 236.0h0M680.1 299.2h0M570.9 280.9h0M664.9 256.2h0M580.3 296.9h0M600.3 278.9h0M677.2 279.0h0M668.7 253.5h0M572.5 267.6h0M610.2 305.9h0M637.7 224.4h0M585.4 263.2h0M597.8 254.3h0M611.6 285.7h0M580.3 250.9h0M595.7 318.2h0M619.8 229.9h0M643.7 313.6h0M581.1 245.2h0M644.3 281.1h0M644.1 327.8h0M649.4 314.7h0M609.6 325.2h0M597.8 292.3h0M570.7 267.7h0M653.7 245.8h0M613.5 223.1h0M613.7 233.7h0M628.0 258.8h0M598.2 265.5h0M608.2 278.7h0M616.0 320.0h0M648.3 224.7h0M671.6 271.3h0M639.0 244.2h0M649.3 301.2h0M605.7 238.9h0M646.4 296.5h0M603.2 225.8h0M585.5 293.0h0M665.8 247.6h0M605.4 240.0h0M639.3 247.8h0M675.7 296.1h0M617.5 261.7h0M662.9 263.9h0M609.5 283.0h0M657.2 321.2h0M613.6 235.6h0M590.8 272.0h0M639.5 221.8h0M651.4 294.5h0M632.4 230.0h0M629.9 257.2h0M591.4 300.5h0M669.6 285.0h0M646.8 314.5h0M627.4 260.8h0M672.7 258.9h0M613.6 292.4h0M610.6 242.8h0M666.0 277.6h0M599.5 256.1h0M648.2 308.9h0M633.5 319.9h0M625.7 328.9h0M655.9 240.6h0M622.6 292.0h0" stroke="#e4e0d6" stroke-width="1.4" stroke-linecap="round" fill="none"/>
<path d="M629.7 247.5h0M643.1 270.5h0M602.0 248.2h0M620.4 295.8h0M629.2 277.6h0M653.9 266.7h0M630.7 270.2h0M652.1 256.4h0M640.2 253.5h0M632.3 299.4h0M610.1 284.8h0M632.5 278.7h0M644.5 274.5h0M639.6 307.4h0M614.3 247.0h0M649.5 282.4h0M665.3 261.2h0M648.6 258.3h0M617.8 256.6h0M611.4 250.0h0M621.7 267.8h0M631.9 293.6h0" stroke="#5c9a3a" stroke-width="2.4" stroke-linecap="round" fill="none"/>
</g>
<g transform="translate(0 -4.27) scale(1 1.0154)">
<circle cx="766.4" cy="277.4" r="71.4" fill="#1c140f"/>
<circle cx="766.4" cy="277.4" r="70.5" fill="#35261c"/>
<circle cx="766.4" cy="277.4" r="68.30000000000001" fill="none" stroke="#cfc6c4" stroke-width="1.1" opacity="0.62"/>
<circle cx="766.4" cy="277.4" r="65.80000000000001" fill="none" stroke="#2a1e14" stroke-width="3.4"/>
<circle cx="766.4" cy="277.4" r="64.2" fill="#3f301c"/>
<circle cx="769.4" cy="277.7" r="62.204" fill="#2b2018"/>
<circle cx="769.4" cy="277.7" r="61.404" fill="#6f6657"/>
<path d="M736.1 273.9h0M739.4 307.6h0M736.2 263.7h0M743.6 315.1h0M732.9 241.1h0M755.0 262.5h0M740.0 315.7h0M756.1 222.0h0M763.9 231.5h0M745.5 257.7h0M737.0 261.2h0M755.3 302.2h0M826.3 261.7h0M754.5 318.2h0M819.2 300.3h0M763.2 332.8h0M773.8 320.5h0M752.3 234.6h0M812.3 249.1h0M732.1 282.5h0M737.2 302.3h0M774.2 268.5h0M752.8 325.1h0M811.0 311.7h0M735.4 322.8h0M773.7 330.3h0M791.0 251.0h0M720.8 256.7h0M811.9 261.5h0M813.9 242.6h0M796.2 272.7h0M724.0 290.5h0M754.7 265.3h0M718.0 251.5h0M744.7 271.3h0M749.0 331.3h0M754.2 286.1h0M759.5 322.1h0M791.0 313.9h0M720.7 282.8h0M764.9 303.4h0M744.4 283.2h0M734.3 263.9h0M784.7 256.9h0M738.2 271.9h0M783.7 294.6h0M729.1 261.9h0M732.9 244.1h0M822.0 304.8h0M797.7 266.0h0M795.4 324.5h0M810.9 302.0h0M747.9 332.7h0M797.4 309.2h0M784.5 293.1h0M758.2 225.5h0M803.0 327.3h0M788.6 304.1h0M769.7 308.0h0M764.1 274.0h0M788.1 226.7h0M816.0 264.5h0M791.1 301.6h0M809.0 320.1h0M729.3 246.5h0M775.0 225.9h0M794.6 272.6h0M742.0 308.6h0M736.8 250.4h0M769.4 311.4h0M761.8 263.0h0M777.7 262.0h0M719.4 303.3h0M786.6 317.4h0M774.6 297.2h0M725.9 240.8h0M720.7 308.3h0M747.0 321.8h0M786.6 259.1h0M765.5 246.0h0M751.3 291.5h0M795.2 258.3h0M724.9 310.4h0M731.3 302.8h0M723.9 249.8h0M715.8 295.6h0M777.4 337.1h0M823.5 281.5h0M713.5 271.3h0M779.2 292.9h0M774.5 239.4h0M760.2 332.2h0M747.1 261.7h0M728.2 256.0h0M810.8 290.8h0M748.2 262.7h0M798.9 255.6h0M738.0 265.2h0M715.2 302.2h0M739.2 305.5h0M767.9 316.0h0M756.6 335.2h0M790.4 268.7h0M776.8 221.4h0M741.1 226.8h0M761.7 334.6h0M779.3 229.1h0M719.7 289.7h0M793.2 269.2h0M816.7 285.9h0M821.7 300.3h0M805.4 229.7h0M795.9 306.8h0M815.9 297.1h0M784.4 290.9h0M776.2 300.9h0M809.2 236.0h0M754.0 229.8h0M744.7 288.9h0M775.5 293.8h0M796.4 294.8h0M754.3 272.5h0M730.2 261.4h0M763.7 293.6h0M723.9 309.4h0M765.8 227.2h0M761.4 301.2h0M771.6 260.3h0M734.4 286.2h0M774.3 290.3h0M754.7 320.7h0M715.2 277.5h0M731.4 232.6h0M774.5 310.4h0M755.8 296.0h0M761.3 319.4h0M744.6 298.7h0M778.2 227.1h0M808.5 256.8h0M729.0 254.8h0M800.0 261.9h0M795.2 243.6h0M775.6 224.8h0M757.7 322.5h0M746.1 284.9h0M725.9 317.1h0M758.0 296.2h0M753.4 239.6h0M752.9 264.0h0M729.6 271.7h0M732.2 259.5h0M712.9 258.2h0M779.8 286.8h0M757.2 294.5h0M820.2 288.7h0M771.7 273.8h0M780.1 303.2h0M725.7 318.6h0M802.4 295.4h0M742.8 273.0h0M743.1 320.7h0M747.2 228.9h0M758.4 244.7h0M774.5 283.5h0M742.4 231.3h0M755.7 233.1h0M758.4 284.8h0M750.4 284.1h0M754.8 328.2h0M720.7 248.5h0M802.1 238.5h0M791.0 268.5h0M766.8 230.0h0M749.5 271.2h0M712.2 277.9h0M756.4 221.2h0M772.2 262.5h0M724.6 310.0h0M761.7 236.3h0M733.2 288.3h0M745.3 304.1h0M724.0 286.1h0M783.4 298.1h0M738.4 244.3h0M726.1 280.4h0M732.8 325.3h0M756.4 319.6h0M755.3 322.1h0M756.1 314.5h0M802.8 288.2h0M724.2 291.3h0M771.3 264.3h0M756.4 304.3h0M713.9 291.6h0M815.7 256.1h0M808.4 260.8h0M753.1 262.8h0M764.3 247.2h0M742.1 268.0h0M731.7 274.8h0M800.8 247.7h0M772.6 247.4h0M725.7 276.5h0M755.0 313.6h0M792.5 280.7h0M745.2 321.0h0M725.1 252.9h0M793.0 292.9h0M789.4 268.0h0M790.1 317.4h0M714.9 291.4h0M797.9 241.7h0M731.3 290.1h0M789.4 276.1h0M717.2 283.4h0M760.5 261.4h0M791.5 224.2h0M768.8 252.7h0M787.6 264.0h0M819.5 282.7h0M750.2 228.2h0M753.8 274.8h0M816.4 289.0h0M771.8 242.4h0M772.7 240.9h0M721.4 291.0h0M751.2 232.9h0M801.6 315.9h0M779.4 226.6h0M737.8 243.9h0M771.8 337.6h0M799.5 272.4h0M740.6 234.2h0M737.5 283.2h0M755.2 296.7h0M783.5 236.8h0M797.1 277.6h0M817.5 272.2h0M750.7 271.7h0M808.2 294.9h0" stroke="#231e1a" stroke-width="2.8" stroke-linecap="round" fill="none"/>
<path d="M803.8 310.9h0M774.8 335.1h0M761.4 267.1h0M801.2 239.6h0M777.2 313.6h0M743.6 227.1h0M725.8 309.7h0M824.0 256.3h0M729.5 240.7h0M814.7 300.6h0M790.7 249.4h0M790.2 248.8h0M786.8 247.9h0M724.8 261.7h0M782.1 289.6h0M746.4 309.8h0M731.6 232.5h0M789.4 270.0h0M764.1 257.9h0M786.8 285.4h0M809.4 246.7h0M724.1 272.0h0M755.7 263.9h0M712.7 286.2h0M819.0 287.9h0M808.8 297.1h0M776.7 292.5h0M805.6 293.0h0M792.0 273.8h0M738.4 289.7h0M750.8 298.8h0M722.0 313.7h0M804.3 319.9h0M780.6 238.5h0M753.3 236.1h0M783.2 276.9h0M772.1 223.3h0M735.7 229.0h0M813.8 293.2h0M769.0 261.5h0M716.4 265.8h0M751.8 245.0h0M793.1 225.3h0M773.4 307.5h0M792.1 230.7h0M715.3 303.3h0M815.3 270.9h0M756.3 289.9h0M806.9 280.8h0M753.4 284.9h0M778.4 332.9h0M768.5 241.7h0M815.0 313.5h0M812.7 248.0h0M749.1 232.3h0M763.7 322.2h0M803.5 278.2h0M777.3 296.0h0M763.1 238.2h0M747.6 326.2h0M738.0 239.6h0M790.7 263.0h0M754.2 282.7h0M764.4 225.9h0M803.9 284.6h0M818.3 301.3h0M745.9 259.3h0M751.3 222.6h0M795.9 251.3h0M805.5 283.0h0M765.1 328.0h0M742.4 326.0h0M759.1 333.6h0M809.3 258.5h0M821.5 289.4h0M783.0 260.4h0M766.9 259.6h0M756.0 307.1h0M796.1 317.8h0M811.9 274.0h0M798.4 266.8h0M791.5 300.8h0M783.8 246.5h0M737.1 323.6h0M740.0 253.9h0M785.1 261.3h0M783.7 322.7h0M719.7 279.9h0M788.8 231.9h0M792.6 323.3h0M771.1 296.2h0M758.6 313.4h0M748.8 277.1h0M744.7 250.1h0M810.9 275.0h0M795.8 230.6h0M730.8 247.6h0M818.6 307.1h0M825.9 265.9h0M793.7 291.3h0M759.4 300.7h0M768.7 296.5h0M721.3 248.8h0M741.3 324.9h0M799.9 243.9h0M789.2 254.8h0M732.5 246.7h0M829.1 279.1h0M766.6 320.9h0M779.9 237.4h0M811.5 320.2h0M798.1 246.8h0M767.4 281.7h0M746.4 332.6h0M770.3 254.7h0M759.0 263.5h0M710.8 280.6h0M811.3 284.9h0M787.8 273.9h0M718.3 294.5h0M793.7 241.1h0M730.4 256.8h0M741.8 225.0h0M754.1 253.7h0M774.1 319.5h0M742.9 231.2h0M765.6 303.7h0M813.7 305.8h0M775.5 278.9h0M719.1 297.3h0M800.2 274.0h0M757.6 293.7h0M787.3 297.4h0M783.0 228.9h0M752.9 227.4h0M787.2 334.1h0M739.0 271.7h0M779.5 249.5h0M821.5 283.4h0M810.8 320.9h0M788.2 248.4h0M814.6 268.0h0M738.6 268.9h0M807.6 250.2h0M761.1 310.2h0M759.0 310.5h0M811.5 260.1h0M733.2 240.6h0M812.5 295.6h0M772.9 260.9h0" stroke="#7a5237" stroke-width="2.4" stroke-linecap="round" fill="none"/>
<path d="M807.7 260.0h0M828.5 284.1h0M723.5 307.5h0M780.4 276.3h0M763.1 319.4h0M754.1 326.1h0M742.3 309.3h0M724.4 305.9h0M733.3 268.0h0M797.0 248.9h0M791.1 276.7h0M811.2 305.5h0M779.8 269.0h0M741.4 320.8h0M761.3 233.6h0M747.6 225.9h0M736.8 260.1h0M778.7 311.2h0M792.3 226.9h0M750.5 299.9h0M783.3 275.8h0M740.0 302.5h0M765.5 266.3h0M764.4 267.0h0M780.2 316.2h0M772.0 251.4h0M764.1 270.0h0M787.9 305.4h0M817.4 302.7h0M720.6 252.7h0M725.4 286.8h0M826.7 288.0h0M750.5 322.1h0M792.0 246.6h0M739.8 321.2h0M788.7 223.6h0M740.5 297.5h0M723.0 276.4h0M743.8 229.2h0M748.6 255.7h0M777.3 225.3h0M779.2 261.5h0M724.3 310.2h0M750.7 292.9h0M818.5 289.5h0M804.2 284.3h0M745.4 284.0h0M719.6 291.5h0M800.3 292.7h0M746.0 236.5h0M739.8 265.4h0M733.7 323.6h0M737.3 281.3h0M749.3 281.4h0M716.8 252.4h0M767.1 274.6h0M784.2 255.4h0M800.3 284.8h0M766.3 277.1h0M807.7 275.2h0M819.1 280.6h0M778.5 276.4h0M780.5 295.0h0M744.9 305.7h0M827.4 289.1h0M772.8 245.8h0M740.8 247.4h0M778.6 249.7h0M818.9 263.5h0M737.5 245.5h0M764.1 270.3h0M801.8 250.9h0M781.0 311.9h0M759.9 225.2h0M777.2 314.2h0M784.5 276.6h0M723.3 314.2h0M761.7 235.0h0M754.3 282.7h0M769.9 242.6h0M822.4 304.2h0M804.6 299.1h0M754.3 236.0h0M728.6 309.5h0M770.9 328.1h0M717.6 306.3h0M786.6 255.1h0M800.6 252.5h0M756.9 297.2h0M774.6 288.0h0M776.3 314.5h0M746.3 225.3h0M747.7 222.7h0M822.2 258.8h0M766.3 289.9h0M738.8 257.8h0M778.8 276.6h0M799.6 267.0h0M747.2 231.4h0M716.9 284.5h0M780.8 259.8h0M793.5 223.0h0M790.3 236.4h0M754.0 266.8h0M739.0 265.5h0M775.5 335.5h0M768.0 304.5h0M797.2 243.5h0M787.4 260.2h0M801.2 255.2h0M804.7 246.6h0M750.1 308.0h0M803.8 306.3h0M820.7 303.1h0M767.8 311.7h0M738.1 305.1h0M784.4 270.1h0M742.7 313.1h0M713.4 272.2h0M721.8 265.3h0M751.4 245.6h0M743.6 287.5h0M814.0 316.3h0M760.1 259.3h0M790.8 245.7h0M723.6 305.4h0M754.9 325.3h0M779.3 229.5h0M779.9 295.8h0M770.2 230.7h0M731.5 321.9h0M712.8 258.2h0M791.6 327.8h0M794.1 275.2h0M781.9 317.2h0M749.9 319.6h0M778.4 284.7h0M786.0 288.9h0M740.5 322.7h0M748.2 265.6h0M720.3 243.7h0M791.0 272.4h0M763.7 261.1h0M791.8 251.7h0M730.3 235.5h0M737.1 288.3h0M815.6 294.9h0M746.0 233.9h0M799.7 295.3h0M765.7 301.2h0M791.4 296.2h0M805.3 234.6h0M743.0 256.1h0M742.3 328.0h0M782.6 293.3h0M799.1 267.2h0M800.7 268.5h0M797.0 297.7h0M805.0 234.7h0M735.6 249.9h0M736.6 290.8h0M804.4 263.5h0M805.2 306.7h0M745.4 301.6h0M815.6 261.0h0M713.0 290.7h0M779.7 301.0h0M789.3 274.3h0M767.7 245.5h0M815.6 313.7h0M762.9 244.1h0M782.2 327.0h0M770.0 245.0h0M804.1 286.2h0M737.6 268.2h0M774.3 236.7h0M778.5 321.1h0M802.3 316.2h0M798.0 273.2h0M789.9 318.7h0M770.2 297.8h0M743.4 277.2h0M751.3 238.9h0M779.2 334.2h0M718.0 262.8h0M776.3 248.0h0M775.0 309.6h0M717.8 273.9h0M791.6 299.1h0M823.0 283.2h0M811.3 257.9h0M735.5 257.4h0M752.3 310.4h0M798.5 277.8h0M734.7 282.6h0M752.0 262.0h0M725.8 316.1h0M780.7 336.4h0M828.7 278.5h0M825.9 266.8h0M828.9 276.4h0M715.1 277.1h0M792.4 327.1h0M796.3 326.6h0M775.1 228.2h0M775.0 243.7h0M790.3 223.8h0M737.2 239.7h0M773.1 315.7h0M758.7 232.8h0M748.3 271.1h0M811.0 281.6h0M795.5 223.7h0M806.9 324.0h0M758.0 336.0h0M723.1 305.3h0M725.8 257.1h0M789.6 286.6h0M781.3 269.7h0M725.3 239.0h0M739.7 243.0h0M755.1 226.2h0M764.2 297.4h0M752.4 322.3h0M776.9 312.7h0M735.0 285.3h0M734.3 231.1h0M716.9 265.4h0M775.6 334.3h0M782.0 262.1h0M808.1 281.6h0M769.4 283.0h0M797.7 324.4h0M721.4 280.8h0M749.7 278.1h0M827.4 271.9h0M713.5 297.1h0M751.3 243.1h0M813.8 317.9h0M807.2 286.9h0" stroke="#928c84" stroke-width="2.0" stroke-linecap="round" fill="none"/>
<path d="M746.2 323.6h0M758.8 287.1h0M761.6 284.1h0M719.8 247.2h0M739.4 226.9h0M728.2 260.0h0M761.1 273.8h0M753.2 315.5h0M714.1 263.4h0M759.9 244.0h0M816.2 273.3h0M808.4 296.9h0M758.8 314.3h0M727.1 242.3h0M759.6 219.9h0M751.3 268.9h0M721.0 248.8h0M740.4 329.5h0M811.9 297.9h0M776.5 323.3h0M772.8 321.4h0M791.6 331.2h0M807.3 257.1h0M790.8 316.8h0M786.1 333.1h0M781.0 260.1h0M798.9 315.9h0M768.6 298.7h0M774.9 288.2h0M784.1 260.9h0M798.1 291.6h0M822.0 286.5h0M773.3 233.9h0M826.9 271.5h0M748.4 266.1h0M769.4 272.9h0M820.7 262.8h0M759.7 258.8h0M787.7 227.6h0M806.3 263.6h0M730.0 317.9h0M725.6 300.4h0M769.9 250.4h0M719.8 256.1h0M799.3 274.3h0M748.1 312.6h0M770.8 280.1h0M741.9 233.8h0M750.1 288.8h0M752.0 289.6h0M758.4 266.8h0M767.2 291.5h0M711.7 276.9h0M760.9 258.5h0M801.5 315.1h0M808.9 302.0h0M788.0 282.1h0M797.6 252.1h0M763.6 289.9h0M763.9 233.2h0M765.2 259.4h0M744.2 300.5h0M809.0 279.8h0M727.5 270.4h0M762.2 238.0h0M744.3 282.2h0M745.5 294.0h0M725.3 298.3h0M740.9 281.3h0M769.7 255.5h0M797.5 228.6h0M776.9 302.1h0M758.5 273.5h0M727.3 274.7h0M775.6 252.3h0M769.3 260.9h0M730.6 273.2h0M740.3 307.7h0M743.4 321.1h0M767.8 274.8h0M740.1 292.7h0M739.0 232.0h0M780.4 221.6h0M809.1 257.5h0M819.7 283.9h0M811.8 238.9h0M750.4 286.6h0M745.8 278.5h0M762.1 302.2h0M801.7 228.1h0M790.6 236.7h0M811.6 238.6h0M736.7 295.0h0M761.6 302.9h0M783.1 246.5h0M722.7 308.3h0M759.4 271.1h0M755.7 264.9h0M739.6 277.8h0M777.5 233.1h0M719.3 293.1h0M801.6 255.9h0M761.8 255.5h0M785.5 272.5h0M747.5 247.3h0M786.9 290.3h0M750.8 291.6h0M710.1 268.6h0M773.7 221.4h0M744.8 285.0h0M813.2 289.3h0M727.7 304.6h0M757.6 307.5h0M732.0 234.2h0M719.1 293.9h0M811.8 284.5h0M776.1 270.8h0M776.0 238.5h0M810.7 302.4h0M805.7 272.6h0M799.1 310.0h0M824.6 299.7h0M741.1 247.2h0M802.2 294.2h0M791.5 277.7h0M736.7 281.1h0M720.3 285.0h0M825.5 293.8h0M738.2 245.8h0M826.6 291.5h0M747.9 298.1h0M756.7 238.0h0M774.7 296.1h0M808.0 239.6h0M818.1 268.2h0M716.8 301.4h0M806.1 295.1h0M798.8 244.7h0M784.9 227.0h0M753.4 334.4h0M821.1 288.0h0M789.8 279.2h0M794.8 283.7h0M733.5 262.9h0M717.4 253.8h0M761.7 291.0h0M817.6 242.7h0M825.4 265.4h0M750.8 272.3h0M822.0 251.4h0M753.4 297.3h0M805.5 290.2h0M773.6 312.9h0M739.2 322.3h0M748.6 290.8h0M734.7 254.1h0M806.2 296.4h0M761.5 307.1h0M817.7 241.8h0M712.6 281.3h0M720.1 304.2h0M736.2 275.7h0M746.5 330.1h0M808.5 234.8h0M795.9 264.0h0M818.4 286.9h0M739.7 259.5h0M770.8 329.0h0M773.0 254.9h0M753.3 308.0h0M759.4 329.3h0M804.1 281.6h0M773.7 262.3h0M715.4 302.3h0M819.3 269.8h0M779.0 231.2h0M760.5 283.4h0M765.8 278.0h0M805.7 301.1h0M799.6 254.8h0M747.6 276.1h0M726.3 239.7h0M783.4 276.3h0M772.3 318.7h0M712.5 286.9h0M760.9 232.1h0M791.8 321.8h0M719.6 277.7h0M806.7 277.8h0M751.9 311.9h0M716.0 275.2h0M742.5 273.2h0M724.1 282.3h0M813.3 291.5h0M724.7 259.4h0M745.0 231.3h0M798.4 295.1h0M763.0 325.2h0M797.3 254.4h0M770.9 270.4h0" stroke="#d8d1c4" stroke-width="1.6" stroke-linecap="round" fill="none"/>
<path d="M768.9 320.1h0M808.7 247.8h0M813.6 242.3h0M762.9 333.2h0M792.7 314.8h0M775.0 296.0h0M748.4 321.3h0M761.2 256.2h0M736.1 323.6h0M726.1 248.5h0M789.1 277.7h0M819.2 294.0h0M782.1 248.0h0M786.8 232.9h0M745.1 319.0h0M779.1 237.6h0M744.3 271.5h0M782.4 284.3h0M785.2 222.5h0M789.3 227.8h0M750.9 281.6h0M806.0 256.1h0M727.6 252.1h0M775.7 333.1h0M727.8 260.3h0M745.1 313.8h0M792.0 270.6h0M779.2 325.0h0M759.3 238.5h0M770.4 235.6h0M778.2 308.5h0M755.9 309.9h0M800.8 322.7h0M755.5 298.9h0M798.6 304.7h0M804.2 293.9h0M794.6 308.6h0M788.7 298.6h0M781.5 274.4h0M717.1 275.3h0M771.1 255.9h0M754.3 318.4h0M763.0 222.8h0M748.6 272.5h0M812.0 287.1h0M790.0 257.1h0M752.2 230.7h0M794.8 278.1h0M742.0 279.4h0M806.1 306.5h0M796.4 314.2h0M779.9 277.4h0M769.7 296.0h0M718.9 285.5h0M771.2 245.3h0M750.4 315.7h0M753.9 273.7h0M813.3 250.3h0M768.1 260.9h0M749.1 270.5h0M791.6 267.0h0M802.8 302.2h0M731.0 279.3h0M763.6 234.9h0M721.8 303.4h0M780.0 318.2h0M816.0 299.2h0M782.3 319.2h0M764.5 262.0h0M804.2 299.3h0M749.5 261.7h0M739.5 325.1h0M754.9 258.6h0M746.8 258.2h0M774.9 278.9h0M787.3 224.0h0M773.9 326.9h0M771.8 254.8h0M822.2 264.4h0M796.4 286.1h0M764.4 242.0h0M776.3 285.1h0M813.1 242.7h0M722.3 293.7h0M741.9 227.2h0M757.9 316.0h0M725.7 242.8h0M813.6 252.2h0M736.5 271.2h0M818.7 271.5h0M799.4 271.0h0M731.3 286.1h0M721.6 303.4h0M720.0 281.3h0M714.6 274.8h0M785.0 250.0h0M822.8 277.1h0M783.5 232.2h0M749.5 285.8h0M797.3 298.0h0M731.9 239.0h0M734.3 311.0h0M724.2 246.7h0M774.5 274.8h0M766.9 246.7h0M783.3 272.4h0M761.6 285.6h0M760.0 269.4h0M807.4 299.8h0M772.5 282.1h0M807.5 241.1h0M716.2 277.9h0M723.3 249.6h0M778.4 284.6h0M756.1 249.1h0M724.6 256.0h0M738.1 275.6h0M803.3 266.4h0M730.0 290.9h0M810.8 287.1h0M751.5 262.1h0M757.8 240.8h0M802.9 265.7h0M817.1 305.9h0M758.2 333.1h0M751.5 248.7h0M717.8 277.1h0M784.6 262.8h0M764.6 294.7h0M739.2 274.8h0M760.7 323.7h0M795.1 273.0h0M732.2 271.8h0M739.3 263.8h0M782.4 306.1h0M804.5 257.3h0M776.8 275.4h0M790.0 329.1h0M803.2 306.0h0M778.9 296.6h0M716.1 285.7h0M763.0 275.1h0M782.8 333.6h0M778.5 237.1h0M754.9 306.8h0M796.4 283.9h0M789.4 249.1h0M803.2 232.5h0M756.3 249.4h0M750.9 285.4h0M773.4 311.6h0M821.2 290.6h0M735.1 277.6h0M741.9 250.2h0M754.6 310.3h0M739.5 288.9h0M742.8 306.8h0M802.4 237.7h0M795.3 247.9h0M782.7 273.6h0M796.3 238.8h0M821.7 286.5h0M748.2 317.4h0M813.1 293.6h0M750.9 248.8h0M743.6 322.2h0M771.8 276.3h0M756.9 317.7h0M756.1 308.0h0M720.6 256.7h0M781.5 243.9h0M809.0 236.6h0M784.5 297.3h0M787.2 274.9h0M767.6 335.3h0M779.9 254.2h0M721.3 309.4h0M768.7 328.5h0M768.7 315.3h0M812.9 260.1h0M718.5 302.7h0M814.2 243.9h0M749.5 274.3h0M759.3 300.1h0M764.9 299.8h0M745.5 232.8h0M821.1 284.6h0M783.1 238.9h0M787.6 275.6h0M788.7 282.2h0M800.5 317.5h0M755.5 263.0h0" stroke="#968c62" stroke-width="4.4" stroke-linecap="round" fill="none"/>
<path d="M791.9 234.4h0M742.7 264.2h0M726.5 315.5h0M758.6 269.2h0M729.7 295.2h0M753.9 238.4h0M780.1 324.1h0M722.2 276.7h0M824.2 272.8h0M748.4 323.5h0M777.9 310.6h0M817.3 295.7h0M778.5 329.5h0M727.2 246.8h0M760.8 254.6h0M764.7 225.9h0M722.3 297.7h0M761.7 293.8h0M753.9 276.9h0M732.6 319.2h0M800.8 238.8h0M751.8 291.2h0M752.6 275.6h0M775.5 226.4h0M797.2 294.6h0M734.2 271.1h0M765.7 267.3h0M770.9 230.7h0M771.9 293.7h0M784.6 294.5h0M747.3 282.9h0M804.6 280.4h0M778.3 280.1h0M787.0 236.7h0M767.3 308.6h0M737.3 297.3h0M751.5 261.8h0M733.2 249.3h0M802.7 237.7h0M774.1 233.8h0M821.2 295.2h0M743.3 241.3h0M758.4 290.8h0M811.3 313.2h0M734.0 286.0h0M801.6 253.7h0M752.3 310.0h0M724.2 278.9h0M766.5 266.4h0M770.1 229.0h0M799.6 261.5h0M810.1 317.7h0M756.7 329.2h0M812.5 253.9h0M760.5 318.0h0M742.0 265.0h0M719.1 250.3h0M730.9 254.9h0M741.8 287.2h0M779.5 263.5h0M724.8 285.4h0M793.3 275.8h0M813.5 263.5h0M800.6 287.4h0M804.1 319.2h0M739.3 232.3h0M806.0 288.7h0M782.9 260.9h0M745.0 315.9h0M787.5 257.7h0M771.3 289.2h0M727.4 258.1h0M789.4 283.2h0M724.7 287.6h0M821.3 293.4h0M726.4 263.1h0M746.9 250.3h0M739.6 257.4h0M766.4 236.4h0M802.9 289.3h0M819.7 298.8h0M803.4 295.6h0M765.5 240.6h0M795.1 281.5h0M744.7 292.9h0M782.0 253.9h0M814.8 263.1h0M774.0 314.9h0M749.2 266.2h0M787.3 265.5h0M752.2 240.3h0M778.6 263.3h0M797.2 310.9h0M768.7 306.4h0M748.7 323.8h0M747.8 273.2h0M755.1 259.4h0M799.4 278.0h0M738.8 304.0h0M771.0 299.9h0M777.9 260.6h0M718.2 269.8h0M741.4 315.3h0M762.6 323.7h0M820.1 302.8h0M822.4 258.0h0M752.0 242.7h0M731.3 242.6h0M800.3 251.5h0M756.9 299.7h0M756.8 324.5h0M808.3 300.7h0M818.0 293.1h0M776.2 315.8h0M800.8 239.0h0M804.4 309.4h0M726.4 315.8h0M774.9 322.7h0M729.2 285.3h0M744.9 249.5h0M778.4 233.0h0M768.7 304.1h0M744.4 242.9h0M789.5 309.8h0M802.1 259.9h0M756.5 321.3h0M801.6 290.0h0M778.9 272.3h0M791.9 303.4h0M771.5 289.1h0M724.5 274.0h0M817.9 284.8h0M725.6 264.1h0M772.5 323.5h0M824.0 277.4h0M763.6 283.8h0M737.0 316.2h0M730.8 301.5h0M753.5 243.2h0M779.4 326.6h0M728.5 285.7h0M746.3 313.5h0M728.8 244.3h0M756.7 236.7h0M798.3 236.2h0M772.1 259.9h0M804.2 260.7h0M763.8 327.3h0M790.5 318.0h0M814.1 293.7h0M779.0 229.5h0M719.5 267.0h0M779.6 316.1h0M740.9 267.0h0M819.1 252.7h0M762.1 274.7h0M748.5 322.3h0M721.1 270.0h0M721.5 259.0h0M804.9 234.1h0M719.6 278.9h0M783.1 252.1h0M786.8 271.4h0M754.1 282.4h0M806.2 244.4h0M801.0 288.7h0M761.5 251.9h0M782.1 307.4h0M737.4 303.2h0M770.8 308.8h0M780.3 271.2h0M777.6 302.7h0M723.2 278.9h0M713.5 283.0h0M750.7 279.7h0M802.1 308.1h0M811.6 305.2h0M761.5 249.8h0M824.6 264.3h0M755.6 294.8h0M739.0 284.2h0M777.7 258.6h0M732.6 279.7h0M784.8 244.5h0M775.0 282.8h0M737.5 293.2h0M728.3 305.0h0M745.4 312.2h0M773.6 281.1h0M727.8 301.3h0M744.2 327.9h0M786.6 286.4h0M770.6 304.1h0M787.2 293.6h0M801.7 273.3h0M810.3 241.3h0M721.5 294.8h0M768.8 231.7h0M730.1 256.0h0M810.2 298.8h0M726.5 244.6h0M774.2 237.5h0M746.5 257.7h0M771.4 300.6h0M743.4 260.0h0M777.6 326.2h0M785.6 265.1h0M803.6 274.0h0M726.6 298.4h0M814.1 249.0h0M794.4 240.1h0M766.1 274.2h0M755.6 274.4h0M794.8 260.5h0M760.5 267.0h0M780.0 254.7h0M798.7 289.5h0M750.0 237.8h0M760.0 313.6h0M794.1 279.1h0M814.5 311.7h0M786.1 321.3h0M759.6 264.8h0M776.0 226.4h0M770.8 259.5h0M812.4 295.9h0M816.9 265.2h0M816.2 283.0h0M789.9 293.6h0M730.4 305.8h0M752.6 301.9h0M767.9 243.8h0M757.4 289.8h0M760.8 327.1h0M810.9 281.6h0M758.1 322.9h0M771.0 317.6h0M737.2 232.2h0M796.0 308.9h0M763.2 272.0h0" stroke="#b5ab7c" stroke-width="3.8" stroke-linecap="round" fill="none"/>
<path d="M787.3 297.9h0M766.7 279.4h0M777.9 315.2h0M785.2 223.3h0M783.7 266.9h0M805.6 301.7h0M749.1 275.2h0M713.8 275.3h0M731.2 282.6h0M746.5 317.1h0M812.3 266.9h0M742.2 317.3h0M725.7 267.3h0M754.7 287.9h0M771.7 245.6h0M801.4 291.7h0M779.7 325.3h0M821.6 285.1h0M753.6 268.0h0M765.5 241.1h0M743.6 259.9h0M788.9 304.8h0M720.9 247.3h0M748.5 242.5h0M768.8 227.6h0M760.3 286.2h0M785.0 262.0h0M785.3 305.4h0M757.2 242.1h0M749.7 289.4h0M777.9 228.9h0M731.4 238.4h0M820.2 289.7h0M775.8 238.3h0M727.7 316.9h0M783.6 223.3h0M817.8 289.4h0M767.7 288.4h0M792.7 228.4h0M779.1 236.3h0M753.4 270.3h0M753.7 251.3h0M776.4 262.8h0M779.6 305.6h0M737.8 271.3h0M739.9 305.5h0M794.3 311.8h0M807.1 282.3h0M735.6 253.1h0M810.9 282.4h0M798.6 257.9h0M763.2 329.9h0M797.5 234.3h0M743.1 283.4h0M803.4 308.4h0M796.6 315.8h0M794.1 307.2h0M741.6 240.6h0M752.7 318.7h0M809.5 247.2h0M758.4 281.2h0M791.8 290.6h0M816.1 286.1h0M760.9 268.6h0M807.7 269.6h0M789.9 262.8h0M741.9 229.1h0M758.6 249.2h0M799.5 264.8h0M737.4 302.5h0M758.5 330.8h0M751.7 281.1h0M746.5 322.2h0M781.1 269.3h0M767.0 224.2h0M811.9 278.3h0M807.1 251.9h0M814.0 258.5h0M770.4 331.0h0M749.9 279.1h0M763.2 282.6h0M775.7 272.2h0M786.5 261.8h0M811.5 299.0h0M730.9 260.7h0M757.8 311.4h0M721.4 304.7h0M717.8 262.1h0M738.1 265.8h0M796.5 308.9h0M765.2 270.1h0M738.8 313.8h0M759.1 333.6h0M722.9 258.9h0M788.5 326.9h0M757.3 294.8h0M745.8 286.3h0M716.7 293.6h0M749.1 294.1h0M764.7 243.8h0M725.2 250.8h0M767.8 304.9h0M805.0 308.0h0M819.5 301.5h0M818.2 298.9h0M779.0 228.5h0M804.6 273.3h0M756.7 235.5h0M812.0 277.9h0M753.5 250.0h0M766.0 295.2h0M792.8 282.4h0M778.2 280.8h0M755.0 316.3h0M764.1 256.4h0M816.4 253.2h0M751.6 282.7h0M762.4 274.9h0M800.9 310.0h0M736.8 322.4h0M732.7 247.0h0M792.9 244.5h0M731.1 303.9h0M788.9 292.5h0M810.6 307.5h0M751.6 260.6h0M785.7 262.4h0M779.1 309.5h0M778.0 233.6h0M819.0 276.2h0M780.1 229.8h0M768.1 235.8h0M817.1 264.2h0M724.4 274.2h0M735.5 280.4h0M743.4 232.0h0M761.8 266.6h0M740.9 301.7h0M800.8 274.8h0M766.0 292.1h0M803.0 284.5h0M731.8 298.8h0M823.8 292.1h0M781.9 257.2h0M722.8 293.1h0M791.4 294.6h0M774.6 319.9h0M766.3 226.1h0M763.7 284.9h0M797.7 298.0h0M795.4 294.8h0M779.8 239.1h0" stroke="#d0c89a" stroke-width="2.6" stroke-linecap="round" fill="none"/>
<path d="M758.0 313.1h0M800.4 229.4h0M763.6 261.6h0M791.8 228.4h0M747.5 285.1h0M746.6 230.9h0M821.4 271.3h0M771.8 301.2h0M820.0 259.8h0M763.3 265.1h0M800.9 308.1h0M817.2 265.2h0M729.5 258.0h0M717.2 287.2h0M716.1 288.6h0M732.6 292.4h0M816.2 274.4h0M763.7 279.7h0M745.3 290.8h0M759.0 284.2h0M739.7 296.7h0M781.5 247.3h0M766.9 233.6h0M728.3 247.0h0M784.9 263.2h0M767.2 288.7h0M757.7 271.0h0M754.9 330.6h0M739.7 299.1h0M762.0 328.4h0M729.3 274.9h0M784.2 259.9h0M823.6 284.3h0M781.3 229.5h0M783.3 238.4h0M790.5 291.8h0M764.1 256.9h0M739.8 255.9h0M814.6 255.2h0M756.9 293.6h0M725.2 265.0h0M808.5 286.4h0M789.6 303.5h0M768.3 222.3h0M796.7 298.0h0M713.6 273.1h0M809.8 245.8h0M797.1 319.5h0M764.2 267.4h0M734.2 299.2h0M778.3 298.9h0M766.3 279.7h0M748.3 313.4h0M764.0 319.0h0M800.2 253.1h0M733.8 309.3h0M784.4 264.4h0M795.2 229.1h0M791.0 264.8h0M795.9 257.5h0M751.1 302.6h0M780.9 233.3h0M788.5 303.1h0M723.3 252.4h0M732.8 248.0h0M750.2 327.4h0M735.9 247.9h0M760.4 320.4h0M754.3 310.8h0M805.3 263.9h0M783.0 312.2h0M776.0 325.8h0M780.9 324.9h0M733.1 286.0h0M719.7 249.6h0M747.4 263.0h0M760.0 297.5h0M732.7 236.7h0M797.2 288.9h0M801.0 305.3h0M781.0 258.4h0M786.6 245.5h0M725.8 267.4h0M821.1 256.1h0M813.1 272.2h0M818.7 264.0h0M729.8 257.3h0M761.0 298.9h0M741.4 285.4h0M825.1 278.4h0M783.3 332.7h0M740.0 277.5h0M755.3 288.2h0M739.0 267.1h0M796.5 278.1h0M721.3 304.9h0M779.2 329.3h0M737.9 290.4h0M737.4 303.8h0M750.0 318.4h0M771.5 223.4h0M730.9 299.1h0M794.2 311.1h0M787.9 260.7h0M773.7 279.9h0M769.0 313.1h0M734.9 267.1h0M812.6 273.5h0M789.4 258.2h0M770.5 320.1h0M817.9 279.0h0M749.1 322.1h0M716.7 272.9h0M785.7 331.2h0M806.1 273.2h0M765.8 275.8h0M734.6 263.8h0M778.2 228.8h0M753.3 222.6h0M802.8 281.9h0M727.4 242.0h0M748.0 323.9h0M785.1 240.5h0M753.4 230.4h0M742.4 232.1h0M818.6 296.5h0M811.3 292.1h0M742.9 310.1h0M786.3 251.8h0M719.3 276.6h0M727.4 268.2h0M726.1 240.7h0M802.5 296.3h0M773.9 267.2h0M775.4 243.8h0M791.5 323.0h0M750.0 232.3h0M768.9 227.8h0M822.6 274.8h0M784.9 284.5h0M749.5 250.9h0M741.7 325.4h0M771.0 314.8h0M815.9 268.6h0M748.4 262.6h0M781.6 243.0h0M803.2 268.6h0M740.8 301.7h0M811.7 251.5h0M760.6 270.7h0M787.8 305.5h0M763.7 244.3h0M746.7 307.7h0M821.2 282.5h0M750.6 331.2h0M806.7 253.9h0M729.3 250.0h0M822.7 299.4h0M734.7 252.1h0M756.0 235.6h0M788.6 240.8h0M758.8 299.3h0M759.1 312.0h0M750.5 315.9h0M743.6 256.1h0M722.4 287.4h0M794.9 277.5h0M813.5 296.8h0M779.0 228.9h0M761.0 291.1h0M734.9 317.3h0M778.9 323.8h0M736.9 321.8h0M814.0 281.7h0M757.8 325.5h0M732.9 269.6h0M808.3 274.4h0M741.9 240.8h0M751.9 318.3h0M823.4 258.5h0M728.3 297.1h0M761.1 260.7h0M763.3 321.0h0M796.1 250.8h0M785.6 237.1h0M796.2 229.0h0M752.3 309.4h0M818.7 291.8h0M715.7 272.2h0M801.5 299.4h0" stroke="#2a221c" stroke-width="2.5" stroke-linecap="round" fill="none"/>
<path d="M783.9 254.7h0M714.7 264.4h0M774.5 250.8h0M735.3 291.5h0M754.0 284.4h0M806.5 252.4h0M801.6 240.5h0M802.2 292.3h0M787.9 304.9h0M775.2 225.0h0M821.5 283.9h0M777.1 279.4h0M784.7 267.7h0M728.1 242.8h0M821.2 295.0h0M737.3 322.7h0M778.9 237.3h0M739.0 252.9h0M808.4 302.8h0M757.5 267.2h0M739.7 281.5h0M732.5 306.9h0M764.5 312.8h0M819.5 286.8h0M785.8 220.0h0M732.7 286.4h0M738.2 313.4h0M754.4 269.7h0M714.0 294.4h0M750.9 321.0h0M789.8 274.8h0M802.5 267.0h0M736.1 275.4h0M759.7 316.7h0M743.9 240.2h0M812.4 305.4h0M752.9 282.2h0M727.7 318.3h0M754.6 222.1h0M763.0 297.7h0M795.3 286.8h0M778.8 270.2h0M765.0 267.3h0M828.3 279.0h0M772.8 221.4h0M766.9 300.0h0M790.9 229.7h0M766.4 328.1h0M760.2 269.0h0M793.2 273.5h0M747.6 252.4h0M716.0 282.7h0M791.3 300.7h0M738.9 293.2h0M738.6 231.4h0M790.5 234.7h0M721.7 266.6h0M757.8 326.8h0M795.3 329.6h0M774.6 226.1h0M723.7 286.6h0M722.4 291.6h0M806.9 298.4h0M721.7 307.8h0M817.8 305.9h0M825.2 258.7h0M763.5 310.2h0M799.6 322.0h0M762.5 249.8h0M760.5 249.0h0M772.6 263.1h0M798.0 251.3h0M802.3 249.6h0M807.2 314.6h0M767.5 268.1h0M783.2 295.4h0M732.0 302.1h0M720.3 247.4h0M725.6 284.3h0M749.0 222.4h0M808.0 256.8h0M754.9 290.9h0M783.3 300.7h0M723.8 288.0h0M804.0 304.0h0M809.7 238.0h0M804.6 235.6h0M727.5 284.5h0M822.4 304.3h0M763.0 281.0h0M803.9 238.9h0M754.5 253.7h0M811.3 296.7h0M780.3 320.5h0M759.2 242.7h0M794.6 227.2h0M780.8 276.5h0M717.7 283.4h0M741.1 320.6h0M797.2 309.8h0M806.9 277.2h0M808.8 298.9h0M789.7 315.8h0M814.7 239.6h0M753.9 230.0h0M726.6 300.6h0M732.0 269.6h0M748.1 313.0h0M820.9 281.2h0M742.1 255.5h0M763.1 226.4h0M725.4 284.3h0M779.6 284.8h0M782.7 248.7h0M764.9 239.7h0M775.9 222.0h0M790.8 287.1h0M751.8 283.7h0M808.1 279.9h0M818.8 308.0h0M774.2 269.1h0M731.2 243.5h0M777.9 282.6h0M780.4 329.1h0M786.5 293.6h0M760.8 237.7h0M750.2 273.6h0M796.6 303.4h0M730.9 273.5h0M793.8 232.5h0M761.2 229.5h0M745.3 317.2h0M779.2 334.2h0M733.9 308.6h0M764.2 226.8h0M777.8 287.1h0M759.7 320.4h0M757.0 306.4h0M769.5 256.0h0M783.7 316.3h0M811.9 312.2h0M724.3 242.6h0M760.1 320.0h0M714.4 281.6h0M729.2 304.0h0M808.2 267.6h0M813.9 301.7h0M764.4 325.9h0M826.5 275.5h0M780.4 291.5h0" stroke="#c9c6be" stroke-width="2.0" stroke-linecap="round" fill="none"/>
<path d="M801.4 262.4h0M761.7 320.1h0M765.6 323.6h0M778.2 330.0h0M813.2 244.6h0M797.7 268.4h0M747.5 310.2h0M808.3 296.7h0M801.1 323.6h0M784.6 302.6h0M785.7 326.0h0M736.1 275.4h0M727.9 258.8h0M785.0 263.7h0M740.3 269.0h0M797.8 328.7h0M775.5 249.3h0M778.4 253.5h0M783.5 305.2h0M822.6 258.0h0M765.2 245.9h0M806.5 246.6h0M803.6 324.2h0M722.5 308.4h0M827.5 280.8h0M768.6 333.9h0M761.5 274.5h0M736.9 302.3h0M813.4 253.3h0M801.9 297.5h0M820.6 275.3h0M740.3 287.6h0M789.7 267.7h0M736.1 301.9h0M724.5 245.4h0M766.4 231.8h0M786.2 228.3h0M762.7 296.0h0M813.7 251.9h0M780.4 320.8h0M739.2 293.1h0M806.4 313.6h0M768.1 293.7h0M743.0 299.7h0M788.0 257.9h0M826.2 293.3h0M737.9 280.2h0M788.6 240.8h0M737.7 305.6h0M767.8 276.2h0M809.1 269.0h0M725.9 245.5h0M764.3 270.8h0M755.8 245.1h0M716.6 271.0h0M788.1 290.1h0M782.4 336.2h0M729.2 257.2h0M774.2 219.5h0M798.6 275.0h0M829.4 276.5h0M766.3 279.1h0M761.5 251.8h0M810.2 290.7h0M784.2 267.8h0M715.6 265.1h0M713.3 262.6h0M785.4 267.9h0M772.9 328.9h0M790.6 314.6h0M756.9 265.0h0M731.3 319.1h0M811.7 275.9h0M789.5 288.8h0M815.5 295.4h0M766.7 239.2h0M725.8 236.3h0M761.6 321.0h0M741.7 269.0h0M789.1 327.3h0M711.2 274.7h0M751.4 309.7h0M758.0 225.5h0M720.5 243.4h0M754.8 239.3h0M736.4 326.1h0M720.3 268.2h0M813.4 278.2h0M713.2 278.5h0M768.9 324.4h0M744.4 231.0h0M755.3 237.7h0M778.0 304.2h0M766.7 276.1h0M733.2 237.1h0M779.9 325.1h0M788.4 333.7h0M744.6 225.0h0M767.6 289.2h0M746.2 226.2h0M803.7 230.7h0M789.1 309.9h0M815.7 276.1h0M805.5 268.5h0M794.0 321.4h0M768.7 224.6h0M778.1 218.4h0M815.5 257.6h0M749.2 314.3h0M803.1 296.6h0M747.2 305.7h0M775.5 263.0h0M738.7 296.2h0M744.4 320.8h0M719.9 250.3h0M775.3 225.2h0M816.3 243.0h0M744.8 261.3h0M775.6 325.1h0M751.9 257.1h0M815.2 277.3h0M800.7 279.9h0M748.9 253.5h0M734.0 249.8h0M776.9 275.8h0M801.0 282.1h0M785.3 244.5h0M722.2 306.8h0M823.1 269.1h0M800.8 246.3h0" stroke="#e4e0d6" stroke-width="1.4" stroke-linecap="round" fill="none"/>
<path d="M736.0 293.0h0M784.6 297.2h0M791.2 286.0h0M757.8 285.8h0M736.6 275.8h0M724.9 262.9h0M782.6 271.5h0M719.3 266.7h0M782.7 282.4h0M758.7 297.3h0M792.1 277.2h0M766.3 320.4h0M777.8 271.5h0M738.0 273.5h0M783.7 250.6h0M778.5 274.3h0M778.6 288.4h0M722.6 274.2h0M717.3 281.3h0M740.3 304.4h0M719.0 289.4h0M734.3 272.7h0M729.3 312.4h0M755.5 285.6h0M798.7 260.4h0M758.3 262.6h0M753.6 274.8h0M775.1 301.1h0M762.8 310.4h0M752.4 255.9h0" stroke="#2f5a24" stroke-width="5.6" stroke-linecap="round" fill="none"/>
<path d="M720.2 300.7h0M750.4 295.9h0M781.8 262.1h0M796.0 300.5h0M801.7 298.6h0M728.5 297.6h0M764.5 251.4h0M787.2 277.7h0M771.5 318.9h0M797.3 274.5h0M781.9 308.3h0M765.7 310.4h0M778.6 272.9h0M799.5 278.6h0M746.7 274.6h0M720.6 303.9h0M734.6 250.9h0M768.3 244.6h0M752.4 302.6h0M771.3 293.3h0M752.4 260.5h0M769.7 303.5h0M759.2 308.0h0M715.0 269.5h0M712.4 277.4h0M765.7 254.1h0M744.6 281.8h0M736.4 278.3h0M789.7 284.2h0M791.5 294.7h0M745.5 285.9h0M788.1 270.3h0M742.8 312.2h0M785.7 299.8h0M745.2 279.5h0" stroke="#37792a" stroke-width="6.2" stroke-linecap="round" fill="none"/>
<path d="M772.8 294.3h0M785.2 258.9h0M786.1 260.8h0M732.8 272.2h0M745.6 309.2h0M785.3 319.3h0M740.3 287.9h0M790.0 252.6h0M779.5 319.9h0M789.2 266.6h0M758.8 287.3h0M741.6 259.4h0M792.6 264.3h0M789.7 260.1h0M745.0 245.5h0M720.9 308.8h0M741.6 274.3h0M783.0 253.2h0M761.1 311.5h0M781.8 315.5h0M757.5 250.2h0M761.6 297.1h0M730.7 276.4h0M760.5 323.9h0M741.5 264.6h0M755.3 268.1h0M762.5 271.1h0M727.0 268.0h0M724.1 311.0h0M799.3 281.3h0M767.6 301.3h0M770.8 261.9h0M735.8 303.4h0M753.3 294.5h0M749.2 305.9h0M757.0 289.7h0M774.1 246.2h0M785.0 312.9h0M748.9 249.4h0M772.9 262.1h0M736.9 315.7h0M757.8 257.7h0M725.0 293.1h0M771.3 293.9h0M729.2 268.0h0M760.5 274.5h0M763.1 276.0h0M759.8 288.0h0M778.8 313.3h0M760.1 245.0h0M793.4 255.6h0M768.3 312.6h0M778.1 314.0h0M761.4 323.9h0M774.6 249.4h0M783.0 275.9h0M791.7 267.4h0M783.7 255.4h0M753.3 281.5h0M792.6 265.4h0M770.7 311.0h0M724.3 310.5h0M758.7 288.9h0M806.8 282.9h0M780.9 312.6h0M796.0 308.4h0M742.9 293.6h0M726.6 259.4h0M752.3 276.5h0M744.4 264.9h0M798.5 259.9h0M775.9 254.7h0" stroke="#41892f" stroke-width="5.8" stroke-linecap="round" fill="none"/>
<path d="M770.7 262.8h0M729.3 252.4h0M790.8 310.3h0M753.2 279.8h0M770.1 249.9h0M771.5 324.9h0M749.8 248.9h0M743.9 284.1h0M753.3 320.3h0M780.0 269.5h0M768.1 272.8h0M741.3 316.4h0M755.9 269.4h0M799.7 277.6h0M778.7 245.1h0M780.5 257.5h0M749.6 306.4h0M791.2 250.9h0M798.1 276.9h0M747.2 309.4h0M757.3 269.6h0M754.8 278.6h0M746.4 310.1h0M800.7 265.7h0M741.2 280.6h0M737.9 286.4h0M764.9 283.8h0M739.0 291.6h0M725.5 274.8h0M757.2 284.9h0M786.0 279.2h0M731.7 294.1h0M756.8 303.6h0M796.1 311.2h0M760.3 259.3h0M767.5 279.3h0M742.1 251.3h0M791.7 261.8h0M788.7 308.0h0M733.4 293.9h0M758.8 250.7h0M742.2 287.3h0M788.3 266.3h0M754.8 309.5h0M748.7 266.6h0M721.0 293.3h0M740.7 260.4h0M747.1 264.9h0M809.7 276.0h0M781.3 254.9h0M786.4 292.7h0M752.9 323.7h0M735.2 258.9h0M722.3 257.4h0M739.5 282.1h0M784.2 281.7h0M738.9 260.5h0M802.2 274.1h0M804.4 281.7h0M749.9 274.3h0M775.6 303.9h0M749.8 296.6h0M732.2 252.9h0M720.1 273.6h0M741.0 301.3h0M750.3 272.9h0M752.7 250.7h0M734.8 317.8h0M775.9 251.6h0M726.3 292.3h0M726.8 253.5h0M746.6 268.9h0M782.3 258.4h0M725.3 293.9h0M732.1 287.3h0M716.3 276.1h0M798.4 258.6h0M759.1 281.1h0M764.2 280.3h0M782.3 266.8h0M732.9 288.5h0M766.2 246.6h0M782.9 274.0h0M789.5 283.7h0M725.9 274.8h0" stroke="#4f9e3a" stroke-width="5.0" stroke-linecap="round" fill="none"/>
<path d="M780.2 308.6h0M755.4 299.9h0M797.4 290.6h0M798.6 298.2h0M735.9 256.2h0M741.2 318.2h0M792.2 263.1h0M760.2 323.2h0M736.3 284.1h0M750.3 305.3h0M716.3 290.6h0M766.2 311.7h0M773.5 293.6h0M732.9 290.9h0M748.7 320.5h0M769.9 284.8h0M764.8 285.6h0M749.2 300.4h0M760.5 261.5h0M786.5 302.3h0M793.2 274.1h0M784.0 315.6h0M780.5 294.3h0M759.8 249.3h0M731.1 282.5h0M791.0 296.9h0M745.2 289.6h0M757.7 265.6h0M760.0 305.7h0M728.7 274.2h0M759.9 258.9h0M733.9 295.3h0M808.1 285.6h0M748.0 318.3h0M764.5 246.1h0M748.5 246.6h0M752.6 317.1h0M787.0 319.8h0M790.0 276.1h0M742.0 274.3h0M731.8 262.8h0M771.2 287.5h0M766.3 280.6h0M722.5 296.7h0M761.7 304.9h0M765.8 259.5h0M787.8 303.2h0M753.5 302.5h0M774.5 272.4h0M768.0 265.3h0" stroke="#63b048" stroke-width="3.4" stroke-linecap="round" fill="none"/>
<path d="M797.7 274.1h0M782.7 318.7h0M763.0 301.5h0M790.9 252.1h0M806.7 295.3h0M726.9 288.3h0M808.1 286.3h0M795.3 306.8h0M742.3 293.9h0M802.4 268.7h0M764.4 270.8h0M745.7 279.7h0M715.5 272.8h0M721.2 265.4h0M745.1 309.6h0M731.6 304.8h0M749.2 265.2h0M718.6 287.9h0M758.8 304.6h0M747.8 246.0h0M776.0 315.0h0M762.0 287.4h0" stroke="#2f6925" stroke-width="1.6" stroke-linecap="round" fill="none"/>
<path d="M778.1 292.4h0M810.1 282.8h0M777.2 308.4h0M774.6 248.3h0M775.1 275.2h0M733.2 307.3h0M739.7 296.2h0M739.3 301.1h0M797.0 265.4h0M738.1 308.2h0M736.2 310.1h0M773.5 260.5h0M745.9 315.8h0M788.6 289.1h0M768.1 312.9h0M741.2 294.9h0M774.0 316.3h0M748.7 279.7h0M770.8 278.8h0M753.0 300.9h0M744.9 277.3h0M770.6 288.8h0M748.6 282.7h0M727.3 267.1h0M740.5 257.9h0" stroke="#c8bf8e" stroke-width="2.0" stroke-linecap="round" fill="none"/>
</g>
<g transform="translate(0 -3.88) scale(1 1.0140)">
<circle cx="910.2" cy="278" r="71.6" fill="#1c140f"/>
<circle cx="910.2" cy="278" r="70.69999999999999" fill="#35261c"/>
<circle cx="910.2" cy="278" r="68.5" fill="none" stroke="#cfc6c4" stroke-width="1.1" opacity="0.62"/>
<circle cx="910.2" cy="278" r="66.0" fill="none" stroke="#2a1e14" stroke-width="3.4"/>
<circle cx="910.2" cy="278" r="64.39999999999999" fill="#3f301c"/>
<circle cx="909.8000000000001" cy="278.5" r="62.37599999999999" fill="#2b2018"/>
<circle cx="909.8000000000001" cy="278.5" r="61.57599999999999" fill="#6f6657"/>
<path d="M943.9 327.1h0M900.3 276.3h0M904.6 265.1h0M889.6 313.8h0M928.3 235.3h0M918.6 247.3h0M934.2 250.7h0M922.3 250.7h0M902.4 295.6h0M932.7 234.2h0M889.3 248.5h0M857.9 287.4h0M901.0 267.6h0M887.4 329.9h0M890.9 222.0h0M895.5 292.2h0M870.2 274.9h0M852.0 272.9h0M912.4 243.4h0M873.8 244.4h0M891.0 317.9h0M914.1 254.5h0M891.2 309.9h0M885.2 246.5h0M940.4 279.7h0M955.4 271.2h0M897.5 297.4h0M918.2 281.5h0M875.5 255.0h0M880.5 260.3h0M951.4 249.9h0M928.6 297.6h0M864.6 309.4h0M919.4 295.3h0M917.3 317.1h0M925.4 253.5h0M886.5 247.3h0M881.4 248.1h0M918.5 316.2h0M902.4 317.9h0M948.8 303.3h0M877.6 227.9h0M948.5 297.4h0M864.7 255.3h0M919.4 278.9h0M864.7 277.5h0M861.2 271.0h0M934.6 290.5h0M887.4 304.0h0M964.8 271.1h0M914.2 230.6h0M933.5 230.3h0M901.5 314.3h0M920.5 219.3h0M891.1 222.5h0M900.0 230.3h0M961.7 306.8h0M872.7 267.6h0M912.1 316.3h0M954.9 300.9h0M887.4 222.6h0M865.6 245.4h0M934.9 235.2h0M951.9 305.2h0M912.8 311.8h0M884.8 316.1h0M913.8 254.9h0M889.4 224.5h0M896.5 300.9h0M893.3 260.4h0M940.3 330.4h0M870.0 315.9h0M908.6 278.3h0M877.7 268.7h0M922.3 296.6h0M887.1 257.6h0M930.1 326.6h0M892.6 300.1h0M938.7 293.3h0M874.4 280.1h0M912.9 237.5h0M912.1 278.5h0M888.9 328.5h0M921.7 245.8h0M952.5 268.5h0M877.3 239.7h0M944.2 240.7h0M923.4 298.2h0M888.1 307.7h0M948.8 276.4h0M910.0 306.2h0M912.5 325.0h0M940.2 282.6h0M919.4 262.5h0M935.2 251.0h0M908.7 234.0h0M967.9 286.1h0M912.3 298.6h0M866.8 316.9h0M860.1 298.2h0M894.9 308.6h0M935.9 289.5h0M947.6 267.3h0M920.3 265.9h0M886.0 240.3h0M921.3 331.1h0M877.9 260.0h0M882.7 294.7h0M854.0 283.5h0M883.8 242.7h0M920.4 287.4h0M920.3 322.4h0M867.9 312.6h0M922.5 336.2h0M955.9 296.2h0M854.7 286.2h0M956.6 304.4h0M907.4 234.4h0M911.8 229.4h0M879.4 262.8h0M926.6 253.3h0M907.4 277.8h0M920.9 303.9h0M929.7 267.1h0M916.7 253.1h0M867.9 258.5h0M909.5 222.0h0M940.4 293.1h0M864.0 248.1h0M888.7 223.5h0M857.5 291.6h0M869.9 323.3h0M947.7 321.2h0M927.5 320.4h0M951.8 247.6h0M957.9 254.5h0M902.1 219.5h0M900.0 225.7h0M967.2 288.2h0M943.8 260.1h0M944.9 299.3h0M894.5 301.2h0M895.5 233.5h0M863.8 241.0h0M926.1 333.0h0M891.2 254.0h0M955.9 273.2h0M924.4 279.5h0M857.8 249.1h0M923.3 283.0h0M900.3 231.9h0M915.7 266.2h0M872.0 269.6h0M916.4 335.8h0M947.3 247.3h0M934.0 230.3h0M853.9 259.6h0M962.8 299.2h0M882.0 295.1h0M853.0 273.2h0M878.4 237.5h0M894.5 246.7h0M921.2 233.5h0M925.8 297.6h0M940.8 303.4h0M934.7 316.6h0M949.8 312.8h0M945.8 237.9h0M901.4 328.0h0M886.7 307.8h0M942.9 320.7h0M885.0 288.8h0M904.7 305.7h0M854.2 276.4h0M953.1 278.1h0M940.9 322.8h0M916.4 260.7h0M890.4 235.8h0M891.7 270.6h0M945.3 253.2h0M881.7 276.2h0M902.2 324.3h0M910.8 327.6h0M911.9 219.0h0M903.4 236.7h0M910.6 242.0h0M945.4 267.6h0M900.4 335.2h0M896.6 258.8h0M896.4 308.5h0M920.9 280.2h0M951.3 257.1h0M937.6 310.0h0M923.1 257.6h0M904.9 320.7h0M857.6 308.2h0M877.3 312.3h0M931.9 296.5h0M931.6 258.7h0M962.1 280.6h0M943.0 270.6h0M898.2 319.5h0M872.6 277.4h0M885.2 229.8h0M948.2 279.6h0M855.1 276.5h0M963.7 303.3h0M901.0 294.5h0M898.4 289.0h0M904.8 287.3h0M892.5 312.4h0M877.8 231.1h0M859.4 257.8h0M915.1 302.8h0M934.4 230.6h0M860.9 298.7h0M962.0 297.3h0M905.3 318.5h0M957.5 307.8h0M919.3 265.6h0M887.8 260.6h0M866.8 291.7h0M949.1 267.7h0M939.8 304.8h0M905.1 276.5h0M957.1 254.6h0M882.5 262.0h0M880.9 301.2h0M935.1 267.2h0M928.7 226.0h0M912.7 337.3h0M943.4 243.2h0M943.3 254.0h0M934.0 306.3h0M874.8 325.5h0M863.3 263.4h0M937.2 303.3h0M919.9 265.1h0M942.0 293.8h0M898.6 320.7h0" stroke="#231e1a" stroke-width="2.8" stroke-linecap="round" fill="none"/>
<path d="M959.6 260.1h0M895.7 239.2h0M866.7 285.8h0M940.1 234.0h0M900.8 293.5h0M888.5 312.7h0M935.7 276.9h0M952.8 292.2h0M949.8 301.4h0M902.4 329.3h0M883.5 295.0h0M898.0 246.1h0M871.0 315.8h0M951.6 313.2h0M856.3 297.7h0M915.6 304.9h0M921.9 304.4h0M927.6 319.4h0M917.5 256.8h0M852.7 287.4h0M854.3 263.3h0M910.0 274.0h0M889.1 330.5h0M868.9 315.6h0M898.4 274.0h0M913.8 299.6h0M857.9 294.7h0M903.9 278.2h0M911.9 274.1h0M948.0 248.5h0M881.0 299.6h0M903.2 315.6h0M850.2 273.7h0M912.7 333.2h0M945.8 246.7h0M947.7 249.6h0M924.0 263.7h0M865.8 305.9h0M934.1 266.2h0M879.2 250.1h0M905.3 320.9h0M891.8 276.7h0M896.3 234.7h0M895.2 253.2h0M953.5 285.5h0M955.8 276.4h0M916.1 327.3h0M930.0 282.7h0M930.7 293.7h0M950.7 257.3h0M892.9 244.5h0M952.1 301.7h0M898.2 303.0h0M962.3 301.0h0M907.5 241.9h0M922.8 336.7h0M953.2 268.2h0M864.2 308.7h0M877.8 263.4h0M966.8 268.2h0M905.2 337.9h0M945.0 230.0h0M942.0 269.4h0M918.0 253.7h0M922.9 305.9h0M898.8 311.2h0M936.5 238.6h0M964.2 283.9h0M937.4 324.2h0M909.8 337.5h0M879.7 242.0h0M900.3 333.3h0M958.3 304.0h0M874.0 264.3h0M902.1 283.8h0M868.3 280.7h0M891.1 298.0h0M874.6 258.5h0M916.0 306.6h0M914.1 286.7h0M904.4 253.3h0M894.1 245.0h0M932.2 295.4h0M904.0 244.6h0M893.5 271.9h0M948.6 266.0h0M919.0 251.7h0M936.8 267.8h0M887.2 226.1h0M896.4 263.8h0M946.1 239.4h0M889.6 235.5h0M941.0 289.6h0M895.4 303.8h0M916.8 258.1h0M908.0 303.6h0M936.1 328.4h0M922.4 281.6h0M914.0 245.8h0M903.4 302.1h0M894.0 266.1h0M866.5 299.4h0M949.8 278.8h0M917.6 287.3h0M912.4 269.4h0M933.3 332.6h0M948.0 290.1h0M897.3 234.8h0M948.5 271.0h0M932.7 258.0h0M864.2 317.7h0M868.1 299.7h0M942.2 232.3h0M917.8 274.0h0M871.6 322.6h0M890.5 300.0h0M910.8 333.8h0M875.6 263.6h0M921.4 307.5h0M910.0 320.8h0M951.2 293.7h0M867.1 248.5h0M859.4 263.5h0M936.4 326.6h0M918.0 313.0h0M894.2 266.6h0M931.9 228.9h0M902.7 244.6h0M920.5 302.6h0M917.0 325.8h0M913.5 323.6h0M916.6 222.2h0M909.1 244.0h0M901.2 220.4h0M899.8 264.2h0M869.2 270.0h0M942.1 281.6h0M935.0 245.7h0M958.9 252.2h0M866.3 285.9h0M929.9 322.9h0M936.6 313.6h0M859.9 285.0h0M894.6 222.6h0M953.0 244.1h0M934.1 310.5h0M898.6 241.1h0M956.0 278.8h0M917.0 284.4h0M923.7 303.8h0" stroke="#7a5237" stroke-width="2.4" stroke-linecap="round" fill="none"/>
<path d="M916.6 316.3h0M908.8 231.5h0M879.8 300.3h0M875.5 287.5h0M938.6 253.7h0M908.9 233.6h0M866.8 295.9h0M917.9 237.7h0M893.0 251.0h0M896.7 252.7h0M897.4 335.5h0M893.0 233.2h0M895.7 322.0h0M901.5 305.5h0M896.1 261.3h0M958.1 287.6h0M887.9 306.1h0M871.5 236.8h0M897.8 260.8h0M913.0 234.0h0M927.6 270.1h0M899.3 292.3h0M896.7 317.4h0M876.2 290.2h0M905.9 220.4h0M873.5 259.6h0M924.7 233.6h0M886.8 258.6h0M862.8 260.6h0M942.6 311.2h0M873.4 251.0h0M891.3 223.4h0M965.0 259.4h0M921.6 257.5h0M899.8 228.3h0M869.8 271.8h0M882.9 304.1h0M887.4 293.8h0M926.7 235.6h0M952.3 270.6h0M967.2 264.7h0M945.5 304.1h0M870.0 236.7h0M863.7 304.2h0M909.3 314.5h0M871.2 304.8h0M907.7 302.8h0M934.2 282.6h0M947.9 237.8h0M895.3 316.5h0M872.7 304.4h0M910.6 290.7h0M854.3 257.8h0M932.4 236.9h0M938.3 305.1h0M849.9 280.7h0M872.6 243.5h0M858.5 287.6h0M935.8 332.4h0M956.6 262.4h0M862.9 308.8h0M939.5 280.3h0M868.6 242.3h0M901.0 328.1h0M955.0 249.2h0M856.0 274.8h0M938.7 249.6h0M913.0 313.6h0M869.6 321.8h0M957.4 280.8h0M920.4 301.2h0M882.1 306.6h0M912.1 247.6h0M904.7 266.1h0M890.2 306.3h0M937.0 312.8h0M891.0 304.9h0M900.6 330.9h0M873.5 312.8h0M893.1 226.6h0M933.1 234.4h0M874.9 275.8h0M926.2 273.3h0M925.3 290.2h0M864.2 312.5h0M955.7 258.9h0M936.6 266.7h0M876.6 267.4h0M855.9 260.7h0M932.8 315.2h0M928.2 288.4h0M885.5 313.8h0M964.0 288.8h0M962.7 282.3h0M899.6 313.3h0M913.9 268.6h0M886.7 283.9h0M908.0 226.9h0M923.6 330.6h0M923.4 297.8h0M928.8 312.4h0M939.0 265.5h0M868.8 295.1h0M926.2 256.5h0M898.1 298.3h0M958.4 259.6h0M873.8 278.2h0M878.8 259.7h0M878.5 317.6h0M927.4 286.1h0M936.1 332.8h0M931.3 311.5h0M874.5 300.2h0M890.0 230.9h0M925.1 255.6h0M957.6 270.0h0M898.9 245.6h0M902.4 275.3h0M933.3 249.8h0M884.3 241.3h0M882.7 262.9h0M903.1 251.9h0M941.9 252.1h0M919.3 272.9h0M924.6 282.4h0M891.8 278.2h0M888.1 272.9h0M947.8 307.5h0M952.6 251.7h0M951.1 294.4h0M935.0 268.0h0M959.1 253.3h0M917.8 232.4h0M897.7 294.9h0M919.4 290.5h0M950.2 246.0h0M861.6 307.4h0M860.8 268.6h0M965.5 296.6h0M904.3 314.7h0M879.1 306.0h0M893.8 251.7h0M874.2 257.2h0M916.9 332.5h0M941.9 311.5h0M905.5 331.4h0M906.2 327.2h0M868.1 299.9h0M871.1 267.1h0M904.0 224.7h0M925.2 282.2h0M857.2 275.4h0M905.8 227.9h0M886.4 315.5h0M892.2 271.1h0M904.5 269.9h0M869.9 273.5h0M854.4 283.2h0M899.0 233.0h0M860.6 285.6h0M891.8 253.9h0M887.1 287.8h0M946.7 263.1h0M858.3 254.8h0M874.7 294.9h0M949.1 291.8h0M880.0 312.1h0M893.9 237.1h0M904.2 334.7h0M908.0 251.2h0M936.4 249.6h0M948.3 303.4h0M865.1 264.6h0M895.2 247.9h0M923.9 269.0h0M961.4 287.2h0M941.3 312.2h0M925.9 310.2h0M885.2 314.5h0M941.6 314.7h0M887.9 257.1h0M950.9 276.2h0M967.7 290.6h0M870.2 301.1h0M916.6 224.0h0M894.7 222.7h0M964.3 254.0h0M877.9 266.0h0M883.2 319.2h0M900.9 231.3h0M938.7 292.0h0M866.3 307.7h0M867.5 250.1h0M956.8 262.5h0M911.3 246.5h0M901.4 222.8h0M897.7 248.3h0M943.6 262.2h0M878.0 260.4h0M855.7 290.2h0M862.9 245.8h0M919.8 265.4h0M957.9 245.0h0M919.5 331.6h0M888.4 235.1h0M936.5 328.7h0M881.7 308.9h0M935.8 283.3h0M940.8 268.1h0M934.8 268.4h0M903.4 238.8h0M907.4 274.3h0M877.2 252.3h0M896.8 325.2h0M927.7 304.6h0M952.5 301.8h0M953.1 315.9h0M937.9 274.7h0M915.1 275.2h0M887.1 231.2h0M923.5 233.2h0M929.7 329.4h0M913.5 243.2h0M885.3 301.8h0M905.9 260.8h0M919.0 237.1h0M872.5 293.0h0M882.6 302.1h0M890.0 281.7h0M904.3 322.9h0M898.3 282.1h0M869.2 283.8h0M903.0 291.2h0M855.7 295.4h0M912.7 291.4h0M923.9 315.8h0M874.6 259.5h0M917.6 229.9h0M954.0 238.0h0M930.6 259.5h0" stroke="#928c84" stroke-width="2.0" stroke-linecap="round" fill="none"/>
<path d="M929.6 325.9h0M961.9 258.8h0M912.2 248.8h0M863.5 282.8h0M888.8 236.7h0M896.7 254.6h0M869.1 285.7h0M930.8 293.6h0M885.1 246.0h0M854.0 295.6h0M943.3 248.4h0M869.4 243.0h0M956.5 272.0h0M892.1 281.5h0M910.0 265.5h0M902.9 304.1h0M940.8 242.0h0M904.1 275.6h0M914.0 336.7h0M934.8 306.2h0M905.5 300.7h0M946.5 315.9h0M878.4 285.4h0M922.4 239.9h0M896.0 260.1h0M943.3 280.4h0M964.0 293.4h0M892.4 289.5h0M913.4 247.9h0M921.9 232.6h0M917.5 259.7h0M913.6 251.4h0M960.3 259.3h0M940.2 281.3h0M949.3 255.5h0M868.0 301.6h0M946.2 301.7h0M854.7 303.1h0M957.8 279.8h0M876.9 297.5h0M858.0 269.2h0M929.6 323.3h0M893.6 270.1h0M863.8 274.2h0M882.5 279.3h0M881.3 295.7h0M905.7 252.1h0M932.0 299.0h0M899.2 271.2h0M940.1 297.4h0M905.2 333.6h0M893.4 235.3h0M884.4 287.0h0M869.7 321.8h0M941.0 246.1h0M922.6 235.4h0M908.4 269.2h0M947.3 233.8h0M895.5 225.4h0M890.4 266.1h0M909.6 316.5h0M876.5 258.8h0M957.8 279.9h0M873.7 279.5h0M872.9 249.6h0M892.8 231.1h0M962.3 267.1h0M918.8 268.5h0M905.5 247.7h0M926.3 261.4h0M880.2 310.4h0M957.7 292.6h0M930.0 265.9h0M914.2 306.3h0M910.8 323.6h0M956.7 286.4h0M918.1 247.1h0M892.7 253.6h0M896.7 245.5h0M924.8 291.6h0M904.7 329.1h0M919.9 276.3h0M917.2 255.3h0M936.4 246.7h0M908.5 333.7h0M919.8 240.6h0M874.3 314.4h0M865.6 317.2h0M953.9 263.3h0M920.0 259.9h0M875.3 294.4h0M884.0 301.1h0M922.3 254.7h0M912.8 280.5h0M902.9 269.6h0M950.3 254.6h0M915.1 316.0h0M925.3 262.5h0M869.2 269.2h0M855.5 266.5h0M908.9 323.2h0M931.8 314.7h0M928.0 288.1h0M860.9 261.3h0M900.1 275.2h0M874.7 236.1h0M916.9 267.7h0M909.9 269.5h0M901.1 238.3h0M941.8 293.2h0M908.7 330.4h0M883.7 308.0h0M907.1 279.5h0M942.4 278.6h0M908.8 236.9h0M920.9 294.4h0M894.7 238.3h0M945.4 283.8h0M950.8 276.3h0M963.9 253.4h0M937.5 283.9h0M919.6 270.3h0M930.1 309.4h0M913.0 241.7h0M942.2 311.3h0M868.5 287.0h0M957.0 297.5h0M889.7 289.6h0M922.2 240.4h0M898.5 266.0h0M898.3 322.6h0M861.0 251.4h0M886.1 319.4h0M906.1 268.5h0M902.6 327.5h0M964.4 285.2h0M874.0 268.9h0M860.9 304.1h0M902.4 317.6h0M887.8 251.6h0M853.3 285.2h0M935.8 226.7h0M871.1 275.7h0M937.6 327.7h0M960.4 287.0h0M865.1 253.6h0M930.0 279.3h0M879.1 275.5h0M913.5 335.5h0M897.1 300.7h0M921.0 307.0h0M888.1 324.1h0M954.1 295.2h0M874.6 244.8h0M901.4 273.9h0M876.5 274.2h0M860.2 273.0h0M864.6 287.8h0M853.2 262.0h0M895.5 232.5h0M891.6 270.7h0M952.2 300.5h0M894.0 308.3h0M907.0 308.7h0M892.2 289.4h0M897.3 312.7h0M952.8 317.3h0M956.3 273.7h0M959.5 269.8h0M908.5 245.9h0M937.0 232.4h0M906.1 304.9h0M870.2 295.0h0M870.8 267.3h0M920.9 324.0h0M962.1 254.2h0M860.5 257.6h0M918.4 274.2h0M868.0 251.6h0M917.9 280.3h0M960.1 250.1h0M899.6 337.9h0M871.1 311.6h0M888.7 283.2h0M950.9 259.9h0M898.8 279.6h0M910.4 329.8h0M955.1 258.4h0M945.4 236.8h0M884.0 252.8h0M884.7 284.6h0M919.2 245.6h0M924.1 253.7h0M930.0 289.4h0M872.3 249.2h0M945.3 275.4h0M920.7 265.0h0M958.2 292.1h0M882.0 286.2h0M870.7 264.2h0" stroke="#d8d1c4" stroke-width="1.6" stroke-linecap="round" fill="none"/>
<path d="M896.8 243.6h0M881.3 311.6h0M877.3 270.3h0M873.7 313.3h0M877.2 302.5h0M932.3 297.3h0M897.0 225.3h0M877.2 270.0h0M868.9 246.8h0M921.6 277.9h0M945.0 293.1h0M951.4 287.0h0M903.5 285.2h0M938.2 309.0h0M933.1 261.2h0M876.2 309.0h0M942.6 247.2h0M910.5 244.4h0M911.7 332.1h0M895.9 262.6h0M907.0 261.2h0M921.1 231.9h0M935.5 252.4h0M910.3 334.4h0M950.4 284.5h0M903.8 296.5h0M925.4 334.1h0M955.2 311.3h0M885.4 320.7h0M903.0 285.0h0M895.8 265.2h0M931.1 285.5h0M936.3 260.4h0M878.5 264.1h0M899.3 292.2h0M961.1 282.2h0M903.8 334.2h0M957.8 301.7h0M936.1 232.4h0M895.7 277.5h0M909.9 226.4h0M917.8 328.7h0M953.9 287.1h0M929.9 278.6h0M856.6 291.5h0M937.6 237.4h0M963.1 295.8h0M925.8 322.2h0M875.5 275.3h0M867.0 305.3h0M921.4 332.5h0M937.3 263.9h0M856.7 270.1h0M896.4 276.5h0M890.2 266.3h0M915.1 256.4h0M879.7 270.3h0M877.7 231.5h0M907.7 244.1h0M863.3 274.0h0M910.2 319.6h0M888.0 277.5h0M902.1 255.4h0M877.7 233.2h0M862.7 251.3h0M877.5 260.4h0M858.0 285.3h0M921.1 238.0h0M882.9 262.2h0M929.4 316.1h0M930.7 302.6h0M949.7 299.3h0M917.2 298.2h0M943.9 283.9h0M944.2 260.0h0M871.2 276.9h0M923.8 330.3h0M902.7 242.9h0M862.0 254.7h0M896.1 262.6h0M922.3 279.2h0M895.8 333.0h0M887.6 268.1h0M869.2 258.3h0M917.2 229.0h0M897.2 250.7h0M911.8 300.1h0M905.3 311.1h0M888.8 290.6h0M883.1 233.9h0M873.2 268.1h0M923.3 328.3h0M924.5 300.7h0M885.2 324.1h0M884.7 273.3h0M958.9 301.3h0M962.9 263.9h0M922.5 238.4h0M923.0 254.8h0M951.6 294.7h0M860.2 267.7h0M880.2 281.2h0M940.8 242.2h0M900.3 302.5h0M877.1 263.5h0M886.6 312.2h0M933.9 242.1h0M938.9 321.8h0M896.5 290.5h0M930.6 302.9h0M964.5 280.9h0M897.4 286.5h0M906.8 227.5h0M940.6 288.6h0M881.0 249.5h0M861.7 283.0h0M920.6 284.0h0M943.5 269.3h0M870.1 280.2h0M950.6 313.3h0M909.4 330.1h0M877.0 259.0h0M899.4 331.0h0M852.7 283.9h0M911.6 246.2h0M920.5 226.4h0M917.6 244.2h0M882.3 287.9h0M905.1 258.5h0M910.0 251.5h0M952.0 289.0h0M919.3 322.1h0M953.4 243.7h0M914.1 238.0h0M932.8 257.4h0M883.9 268.2h0M945.5 248.6h0M923.6 267.6h0M896.5 282.8h0M959.6 266.3h0M917.6 292.7h0M862.7 270.0h0M930.1 291.5h0M912.9 243.6h0M895.8 299.2h0M884.7 309.2h0M921.7 325.4h0M861.4 277.4h0M866.7 248.3h0M960.6 296.6h0M922.1 242.3h0M910.6 296.2h0M940.7 232.0h0M906.5 239.0h0M956.2 311.4h0M911.1 265.9h0M946.4 318.9h0M894.8 310.7h0M921.6 286.8h0M876.8 324.1h0M906.2 241.6h0M873.7 317.7h0M919.6 311.3h0M913.5 234.4h0M902.2 249.5h0M871.9 283.3h0M882.8 289.7h0M915.0 259.0h0M877.5 269.0h0M942.4 311.1h0M947.5 251.9h0M877.6 286.1h0M908.3 302.3h0M922.9 234.1h0M916.8 324.4h0M905.3 275.7h0M911.3 230.9h0M935.4 293.2h0M939.6 259.1h0M885.9 243.7h0M903.8 276.7h0M929.4 245.6h0M885.5 241.3h0M891.5 307.9h0M941.6 279.0h0M947.5 292.5h0M892.9 301.8h0M869.7 255.8h0M917.6 278.5h0M885.0 266.1h0M874.5 252.9h0M965.6 290.3h0" stroke="#968c62" stroke-width="4.4" stroke-linecap="round" fill="none"/>
<path d="M939.4 314.8h0M864.4 299.5h0M887.2 235.8h0M888.4 282.1h0M943.0 311.4h0M914.5 319.0h0M856.4 275.0h0M923.5 333.0h0M878.6 230.3h0M901.3 267.6h0M929.4 269.7h0M876.6 262.4h0M916.0 334.2h0M856.6 256.4h0M901.5 259.9h0M863.6 263.5h0M887.3 282.5h0M930.2 262.6h0M930.8 251.0h0M887.7 289.7h0M894.3 303.2h0M938.3 256.4h0M962.2 294.8h0M889.5 239.8h0M903.1 278.9h0M933.4 289.7h0M928.6 233.6h0M887.1 274.9h0M938.1 272.9h0M917.9 243.0h0M949.0 280.1h0M866.6 268.7h0M899.5 283.4h0M956.8 249.4h0M947.1 243.3h0M905.9 239.4h0M907.1 315.4h0M956.7 302.0h0M904.4 307.6h0M862.8 273.0h0M891.8 226.5h0M899.5 236.1h0M946.4 249.6h0M949.5 269.6h0M945.1 298.5h0M950.3 251.0h0M866.8 283.3h0M960.6 303.8h0M912.0 315.0h0M908.7 285.3h0M950.7 288.2h0M904.8 281.8h0M944.1 315.0h0M956.2 292.0h0M877.1 306.0h0M898.8 248.8h0M905.8 251.1h0M867.5 280.5h0M878.8 306.7h0M920.5 237.0h0M926.6 292.7h0M872.2 303.0h0M894.4 266.6h0M927.1 226.0h0M890.1 302.8h0M921.9 322.6h0M931.6 280.3h0M949.3 272.7h0M926.5 224.1h0M868.2 308.1h0M946.5 295.2h0M937.2 232.6h0M924.2 235.7h0M890.8 249.5h0M944.8 251.9h0M942.4 302.9h0M923.3 293.2h0M950.5 285.4h0M936.4 296.0h0M872.3 320.5h0M930.4 274.8h0M931.7 246.1h0M904.4 238.4h0M905.4 315.2h0M871.1 247.9h0M929.4 254.2h0M963.8 260.0h0M949.4 279.0h0M926.0 313.7h0M956.1 309.6h0M935.9 273.7h0M937.6 306.9h0M908.3 246.6h0M883.1 236.4h0M922.7 315.3h0M931.4 269.6h0M872.6 293.3h0M960.5 306.1h0M908.0 323.4h0M910.9 277.9h0M913.9 235.0h0M957.7 264.9h0M915.4 287.7h0M931.7 250.5h0M884.7 267.8h0M878.7 250.1h0M938.0 267.2h0M934.1 267.7h0M924.1 254.0h0M955.9 260.6h0M923.9 328.3h0M955.7 258.5h0M885.1 287.7h0M919.8 319.9h0M894.2 299.7h0M904.1 256.0h0M948.5 316.2h0M934.1 290.3h0M900.2 329.0h0M881.8 314.7h0M888.0 301.3h0M916.9 264.5h0M903.0 287.5h0M894.8 252.7h0M952.5 255.3h0M914.5 239.7h0M869.9 261.9h0M964.6 282.8h0M936.5 307.2h0M877.6 248.2h0M907.8 313.9h0M916.4 238.3h0M908.0 230.0h0M920.0 235.1h0M886.2 230.1h0M882.1 256.6h0M940.8 262.8h0M901.1 257.9h0M913.7 262.6h0M869.7 269.4h0M927.4 231.0h0M859.6 298.5h0M904.9 247.0h0M863.0 269.3h0M945.9 257.1h0M914.5 333.4h0M936.3 273.0h0M875.6 314.1h0M945.2 266.5h0M938.9 298.1h0M955.7 303.3h0M914.9 306.4h0M903.2 241.7h0M897.8 261.0h0M951.1 281.0h0M929.9 249.9h0M937.6 257.8h0M864.6 296.9h0M918.0 323.1h0M960.1 277.8h0M880.4 230.3h0M911.7 234.5h0M953.1 294.1h0M881.3 231.2h0M952.4 308.4h0M939.4 320.8h0M929.7 252.1h0M919.2 279.4h0M887.2 273.4h0M856.7 256.4h0M904.4 223.3h0M917.7 253.3h0M959.7 306.6h0M943.7 270.7h0M861.9 250.6h0M897.2 312.3h0M855.8 273.1h0M950.3 296.7h0M874.1 272.3h0M923.8 314.6h0M892.5 267.8h0M904.3 238.6h0M888.0 303.6h0M893.5 257.5h0M884.1 249.3h0M937.3 288.7h0M926.7 284.7h0M912.4 302.5h0M883.3 264.8h0M875.9 314.8h0M938.4 280.7h0M926.3 303.4h0M936.6 299.7h0M910.5 273.7h0M944.1 302.0h0M923.6 316.5h0M881.4 279.0h0M875.8 312.2h0M936.3 279.4h0M893.1 272.7h0M855.3 295.4h0M934.0 298.2h0M880.8 263.9h0M891.1 274.9h0M886.8 247.0h0M960.0 260.5h0M919.1 293.7h0M947.1 313.7h0M897.4 301.7h0M942.3 290.9h0M867.5 240.2h0M889.1 326.2h0M946.0 272.8h0M914.4 287.9h0M910.2 305.5h0M881.7 261.1h0M902.7 235.5h0M870.8 252.0h0M870.5 304.1h0M945.6 294.0h0M872.2 288.9h0M913.4 233.2h0M948.4 292.5h0M926.8 225.9h0M886.6 328.8h0M884.2 324.1h0M926.5 255.9h0M882.9 247.4h0M898.8 223.5h0M938.1 328.4h0M917.6 279.7h0M886.2 271.5h0M891.2 315.4h0M880.3 272.1h0M948.9 315.5h0M891.1 229.1h0M958.5 255.5h0M896.0 278.6h0M938.0 259.8h0M895.4 261.0h0" stroke="#b5ab7c" stroke-width="3.8" stroke-linecap="round" fill="none"/>
<path d="M873.2 308.7h0M891.4 284.1h0M884.5 307.2h0M960.7 260.3h0M911.7 275.9h0M955.2 261.4h0M949.0 287.6h0M941.8 259.7h0M880.9 266.4h0M942.5 273.1h0M932.9 323.5h0M866.4 248.4h0M887.4 253.1h0M927.6 240.0h0M877.2 272.7h0M907.4 281.3h0M908.5 229.6h0M888.6 295.2h0M921.2 293.4h0M872.4 255.1h0M858.7 269.9h0M875.4 299.6h0M898.2 316.9h0M964.1 284.8h0M923.3 237.0h0M897.5 223.4h0M893.3 332.1h0M929.8 319.2h0M900.0 266.0h0M914.9 259.6h0M927.7 301.5h0M878.8 231.2h0M899.5 269.1h0M864.8 298.6h0M952.7 294.6h0M863.8 283.6h0M877.5 309.6h0M921.8 291.2h0M939.9 299.3h0M960.1 250.8h0M914.0 308.8h0M925.2 223.4h0M946.2 260.9h0M881.6 324.1h0M902.7 306.2h0M930.7 299.8h0M946.7 289.5h0M952.3 277.9h0M882.2 320.2h0M911.3 306.3h0M881.0 228.7h0M914.0 288.0h0M950.4 243.7h0M877.4 287.0h0M950.3 287.2h0M928.1 307.7h0M956.8 310.2h0M900.7 229.8h0M859.2 269.0h0M875.5 281.7h0M905.3 222.9h0M943.2 299.4h0M882.9 237.7h0M955.5 285.8h0M900.0 242.7h0M888.6 324.0h0M881.1 276.8h0M893.0 270.8h0M873.3 314.1h0M912.2 307.3h0M873.4 270.9h0M963.2 276.5h0M895.2 233.5h0M884.2 297.7h0M891.6 253.3h0M939.7 322.2h0M907.0 335.4h0M893.9 261.7h0M864.9 250.6h0M892.3 332.3h0M869.5 274.9h0M914.8 296.2h0M854.4 273.0h0M867.9 273.4h0M857.2 266.2h0M899.0 237.9h0M914.2 292.4h0M934.5 239.5h0M865.0 277.7h0M910.5 254.2h0M859.4 277.0h0M943.8 247.3h0M926.3 236.4h0M929.6 234.6h0M946.0 274.5h0M947.1 262.7h0M868.1 249.0h0M872.5 286.3h0M884.2 297.8h0M903.2 258.1h0M887.7 266.4h0M924.5 320.5h0M889.0 278.8h0M939.4 318.8h0M880.9 240.1h0M889.4 318.1h0M892.3 311.3h0M901.9 300.3h0M925.6 272.6h0M883.4 280.0h0M961.8 255.7h0M938.0 268.3h0M864.7 274.0h0M936.2 238.7h0M871.7 302.0h0M869.4 311.1h0M946.4 254.9h0M914.3 318.2h0M931.7 227.8h0M862.2 280.6h0M940.4 321.4h0M924.1 273.0h0M878.2 302.6h0M909.5 331.6h0M960.0 298.9h0M878.7 275.0h0M947.7 287.8h0M929.4 255.9h0M855.9 294.9h0M961.0 266.7h0M915.5 226.5h0M939.3 327.6h0M950.5 248.1h0M914.4 284.6h0M923.0 255.8h0M927.8 284.8h0M872.9 247.4h0M959.5 285.9h0M921.4 331.7h0M888.2 318.5h0M947.4 254.7h0M902.7 291.8h0M871.8 237.7h0M889.7 320.4h0M901.9 326.8h0M859.4 269.2h0M921.5 317.4h0M935.4 314.1h0M936.5 285.0h0M955.2 302.3h0M886.8 309.6h0M933.7 286.2h0" stroke="#d0c89a" stroke-width="2.6" stroke-linecap="round" fill="none"/>
<path d="M932.9 268.5h0M897.8 230.4h0M896.4 323.2h0M853.5 270.2h0M932.5 302.6h0M861.0 277.4h0M918.1 316.5h0M913.2 253.7h0M931.9 283.3h0M870.2 279.5h0M920.9 275.7h0M891.9 277.7h0M912.7 305.7h0M871.5 261.8h0M933.3 262.2h0M880.9 239.6h0M867.4 250.3h0M906.7 303.0h0M915.3 284.8h0M933.1 275.7h0M866.0 281.8h0M913.5 332.7h0M909.8 333.0h0M904.4 234.3h0M898.5 268.5h0M905.2 265.5h0M965.3 285.9h0M902.5 277.4h0M908.2 316.6h0M909.2 312.8h0M874.5 287.1h0M905.3 286.3h0M869.9 258.1h0M862.1 291.6h0M952.3 277.7h0M864.4 267.6h0M939.3 234.4h0M895.8 283.0h0M890.5 288.9h0M926.2 292.8h0M938.7 312.6h0M865.5 249.6h0M900.0 282.4h0M916.0 239.3h0M877.2 322.7h0M915.0 292.6h0M948.3 237.0h0M918.3 269.6h0M905.4 323.5h0M905.9 232.8h0M875.2 241.0h0M947.8 258.4h0M869.4 272.1h0M865.2 292.6h0M913.4 287.5h0M948.5 265.4h0M934.8 232.4h0M934.3 326.4h0M880.2 305.8h0M872.9 282.7h0M928.9 258.8h0M870.6 275.2h0M906.2 294.1h0M911.3 228.2h0M946.9 295.1h0M862.2 274.1h0M934.5 328.5h0M903.3 257.9h0M951.8 277.0h0M908.4 230.2h0M872.6 292.7h0M961.3 289.2h0M902.4 264.5h0M874.2 243.7h0M929.8 328.1h0M897.1 247.8h0M861.6 265.5h0M938.2 233.9h0M899.0 319.7h0M956.2 258.5h0M919.3 297.7h0M915.8 275.9h0M916.9 286.3h0M901.8 271.3h0M900.5 333.5h0M909.3 317.1h0M882.7 321.5h0M947.2 284.2h0M963.7 296.5h0M959.0 256.1h0M856.6 296.2h0M911.2 254.6h0M873.4 297.5h0M937.2 314.8h0M907.9 262.5h0M868.1 250.4h0M947.8 242.4h0M905.0 260.2h0M886.9 238.3h0M893.3 297.3h0M897.9 291.6h0M885.7 244.2h0M939.6 274.4h0M899.0 299.2h0M943.7 259.5h0M911.8 269.9h0M947.4 241.9h0M881.2 276.3h0M860.6 248.9h0M925.7 316.5h0M959.0 269.9h0M930.3 280.7h0M880.0 287.7h0M907.3 321.4h0M900.8 233.6h0M918.9 256.0h0M913.9 294.3h0M868.3 240.4h0M921.9 308.8h0M885.6 276.9h0M927.4 256.7h0M905.4 259.0h0M946.0 277.9h0M873.9 287.1h0M881.2 267.0h0M866.8 271.3h0M937.4 303.3h0M930.4 248.3h0M907.8 277.1h0M899.0 267.1h0M873.9 321.7h0M880.4 283.8h0M915.5 240.4h0M885.3 292.3h0M907.5 298.9h0M872.5 275.6h0M874.2 279.3h0M884.1 259.8h0M929.0 315.8h0M905.9 288.3h0M875.0 261.6h0M891.9 294.0h0M948.4 237.2h0M942.6 318.1h0M931.6 266.1h0M932.1 234.9h0M864.7 283.8h0M886.9 304.9h0M885.2 230.5h0M902.5 300.8h0M862.2 281.0h0M912.7 295.0h0M939.2 288.8h0M887.1 237.5h0M933.1 268.5h0M938.3 316.3h0M885.8 258.4h0M952.1 285.5h0M870.0 272.6h0M895.6 319.4h0M868.1 258.0h0M937.5 307.7h0M917.8 259.0h0M889.5 225.1h0M935.1 289.3h0M911.3 235.9h0M858.7 267.3h0M894.3 318.6h0M959.3 250.2h0M882.1 307.1h0M942.4 305.4h0M903.4 259.2h0M894.7 235.2h0M884.2 251.3h0M942.2 318.6h0M918.0 231.0h0M902.0 258.5h0M947.1 248.3h0M925.2 276.4h0M939.6 258.2h0M958.7 288.5h0M902.1 270.1h0M892.8 315.7h0M939.6 269.6h0M966.3 288.0h0M936.3 323.3h0M947.9 294.3h0M876.8 249.0h0M939.2 275.4h0M899.7 320.3h0" stroke="#2a221c" stroke-width="2.5" stroke-linecap="round" fill="none"/>
<path d="M932.4 324.3h0M898.1 242.5h0M905.0 312.5h0M869.5 277.5h0M934.0 287.6h0M920.6 220.6h0M928.6 314.3h0M874.6 291.0h0M908.4 277.9h0M969.8 273.1h0M867.6 253.3h0M881.9 281.1h0M925.6 259.3h0M967.5 289.9h0M910.5 263.9h0M918.0 245.7h0M901.4 257.3h0M938.3 250.3h0M868.3 263.9h0M949.4 292.7h0M891.7 274.6h0M880.0 249.3h0M921.4 252.0h0M876.0 265.6h0M911.2 300.7h0M889.0 287.0h0M922.0 330.6h0M913.0 221.2h0M920.7 240.5h0M924.4 284.5h0M884.8 224.9h0M928.8 247.9h0M941.5 235.8h0M872.4 237.1h0M917.6 326.7h0M916.2 235.6h0M928.0 231.8h0M910.9 327.6h0M906.7 230.3h0M908.7 293.0h0M860.0 293.1h0M911.0 220.6h0M927.6 240.3h0M892.1 318.7h0M934.1 256.5h0M929.0 332.1h0M958.4 261.5h0M963.5 270.6h0M871.9 246.7h0M855.8 261.8h0M904.9 331.7h0M897.4 241.9h0M926.2 280.9h0M946.6 243.7h0M935.4 242.1h0M891.5 313.3h0M886.7 297.4h0M892.2 313.2h0M922.4 297.3h0M955.8 246.1h0M939.4 286.2h0M870.3 276.1h0M921.4 237.5h0M892.3 321.6h0M897.7 232.2h0M958.9 312.9h0M889.6 294.8h0M896.5 294.5h0M927.6 333.8h0M934.0 330.8h0M918.3 250.4h0M923.0 269.8h0M856.7 306.3h0M889.4 330.3h0M862.9 264.1h0M959.9 257.0h0M912.7 328.1h0M875.3 311.2h0M918.9 248.7h0M911.0 301.7h0M946.6 325.9h0M922.5 258.5h0M924.5 290.1h0M876.5 237.6h0M878.7 275.1h0M906.2 307.7h0M897.8 275.1h0M946.5 240.4h0M863.9 314.0h0M945.0 250.1h0M953.7 289.7h0M888.9 328.1h0M861.6 255.1h0M913.9 308.5h0M913.4 314.5h0M869.8 269.7h0M957.2 268.3h0M887.3 255.4h0M909.3 268.4h0M861.9 242.5h0M952.6 314.9h0M905.4 313.4h0M882.0 302.2h0M946.7 261.5h0M898.9 291.0h0M949.3 261.3h0M938.4 277.1h0M888.3 318.0h0M952.3 243.3h0M917.4 264.7h0M866.9 282.2h0M907.2 253.9h0M866.0 303.2h0M950.3 280.7h0M854.8 295.6h0M961.9 276.2h0M864.5 244.5h0M905.3 261.7h0M896.2 277.4h0M931.5 326.5h0M928.0 269.5h0M892.6 229.3h0M957.5 266.9h0M905.0 231.5h0M926.5 275.1h0M878.9 296.0h0M967.9 271.8h0M901.4 302.2h0M882.1 266.5h0M959.5 270.2h0M916.3 243.7h0M865.1 268.2h0M905.1 235.7h0M887.8 292.4h0M916.0 330.6h0M883.7 238.6h0M926.9 263.1h0M932.7 250.2h0M867.4 320.0h0M890.9 302.5h0M959.5 263.9h0M862.0 286.9h0M935.6 298.4h0M857.3 269.2h0M961.2 249.4h0M946.5 236.5h0M888.0 236.2h0M946.6 310.9h0M930.5 246.8h0M929.6 297.1h0" stroke="#c9c6be" stroke-width="2.0" stroke-linecap="round" fill="none"/>
<path d="M954.0 243.6h0M903.9 303.0h0M903.4 240.6h0M899.2 334.8h0M938.7 316.6h0M928.6 273.9h0M895.4 268.8h0M897.3 267.4h0M866.3 263.2h0M913.6 240.9h0M948.4 320.7h0M879.5 239.7h0M851.7 278.7h0M881.3 271.2h0M859.3 286.8h0M870.7 285.7h0M897.0 307.6h0M886.4 305.3h0M893.8 235.0h0M945.9 280.1h0M960.9 278.6h0M905.0 334.0h0M881.2 238.5h0M921.2 233.5h0M905.5 225.3h0M954.8 299.7h0M926.8 253.0h0M869.0 317.1h0M936.3 265.9h0M867.6 279.1h0M885.9 265.4h0M868.5 316.0h0M913.9 334.3h0M926.4 275.1h0M936.2 262.1h0M939.7 307.4h0M956.4 278.2h0M903.3 324.1h0M903.4 254.4h0M948.1 263.4h0M939.6 317.2h0M877.4 277.4h0M915.4 273.1h0M899.9 324.5h0M915.2 286.1h0M911.4 255.5h0M923.5 313.6h0M872.1 296.6h0M956.4 303.5h0M957.9 282.4h0M888.7 258.7h0M906.7 336.4h0M905.6 247.1h0M950.9 311.8h0M927.8 296.6h0M894.5 235.5h0M904.1 260.8h0M878.9 329.8h0M898.2 244.2h0M901.8 295.2h0M912.8 325.8h0M905.5 328.9h0M907.8 282.1h0M919.8 281.2h0M884.5 229.6h0M859.7 260.9h0M887.2 270.6h0M914.0 315.0h0M859.6 256.7h0M929.2 245.9h0M924.5 248.5h0M866.5 253.4h0M894.6 229.4h0M901.1 249.4h0M941.5 237.3h0M926.3 251.2h0M882.2 300.3h0M933.4 241.7h0M872.8 236.2h0M880.2 310.5h0M876.2 280.9h0M863.6 275.7h0M949.6 301.3h0M893.6 300.1h0M883.3 229.8h0M888.3 227.7h0M927.1 313.0h0M911.9 294.3h0M898.3 258.9h0M931.6 241.4h0M857.6 298.6h0M886.8 330.1h0M897.9 230.8h0M926.7 238.9h0M875.1 315.1h0M933.9 324.0h0M954.9 314.9h0M940.3 266.6h0M883.9 321.3h0M950.0 266.2h0M868.9 292.5h0M953.1 313.6h0M878.9 237.3h0M920.2 259.7h0M896.1 326.9h0M929.6 318.8h0M876.8 275.9h0M950.0 300.5h0M950.2 311.6h0M924.7 261.7h0M883.0 240.5h0M882.8 259.3h0M910.8 337.1h0M912.1 259.1h0M918.8 314.2h0M890.3 286.9h0M949.8 247.5h0M895.7 313.5h0M924.1 304.4h0M910.4 335.3h0M894.1 274.3h0M936.9 257.9h0M960.7 290.4h0M908.9 224.6h0M952.6 316.5h0M933.2 320.2h0M960.4 274.8h0M872.6 309.8h0M861.6 272.2h0M858.3 251.9h0" stroke="#e4e0d6" stroke-width="1.4" stroke-linecap="round" fill="none"/>
<path d="M921.7 262.1h0M921.6 251.8h0M919.7 324.4h0M906.9 281.2h0M892.4 275.9h0M881.6 283.3h0M908.0 247.4h0M941.4 324.2h0M922.6 286.1h0M884.0 306.6h0M912.8 331.0h0M957.7 303.1h0M954.1 284.5h0M890.2 286.9h0M903.7 302.4h0M917.6 261.8h0M914.9 283.3h0M964.9 285.9h0M915.1 325.8h0M884.4 277.0h0M933.9 326.6h0M888.2 294.1h0M917.2 282.9h0M884.4 284.9h0M936.4 310.7h0M904.4 284.5h0M924.8 268.3h0M890.0 293.9h0M941.2 322.1h0M935.7 288.1h0" stroke="#2f5a24" stroke-width="5.6" stroke-linecap="round" fill="none"/>
<path d="M926.8 250.9h0M911.3 244.3h0M908.2 248.0h0M933.6 332.6h0M914.2 261.6h0M926.7 267.4h0M936.5 252.4h0M948.6 322.5h0M916.4 257.7h0M929.7 258.0h0M926.9 283.5h0M954.4 306.4h0M889.1 288.4h0M905.7 322.9h0M951.1 285.9h0M925.9 259.9h0M889.5 294.7h0M933.8 265.7h0M960.0 299.4h0M953.9 256.2h0M910.3 301.8h0M939.9 297.8h0M898.2 279.6h0M886.5 304.4h0M895.3 293.2h0M942.9 325.2h0M952.9 293.2h0M876.4 285.2h0M894.2 314.0h0M879.7 284.6h0M875.9 281.3h0M907.7 283.3h0M932.1 283.3h0M946.3 296.0h0M900.9 257.8h0" stroke="#37792a" stroke-width="6.2" stroke-linecap="round" fill="none"/>
<path d="M951.4 307.1h0M909.5 250.8h0M899.8 274.2h0M933.4 293.9h0M941.5 311.4h0M900.8 261.4h0M909.1 264.7h0M934.6 320.5h0M933.3 263.9h0M945.6 326.0h0M949.5 311.9h0M898.0 306.2h0M936.1 275.7h0M938.8 246.1h0M945.1 247.2h0M923.5 277.1h0M915.8 299.0h0M914.1 318.1h0M883.8 312.5h0M957.9 276.5h0M878.0 282.1h0M927.8 291.6h0M945.7 266.1h0M944.7 258.3h0M895.1 280.0h0M919.5 241.6h0M900.8 284.2h0M901.8 301.5h0M933.7 265.9h0M894.5 279.5h0M960.9 308.7h0M901.3 253.4h0M901.2 330.1h0M893.9 293.4h0M957.0 299.9h0M899.6 257.8h0M941.5 309.9h0M915.2 289.7h0M952.9 294.1h0M950.2 312.3h0M928.0 329.6h0M909.4 312.2h0M896.9 319.5h0M885.4 262.3h0M903.4 329.6h0M928.7 330.8h0M938.9 253.2h0M922.1 299.6h0M906.8 314.8h0M941.4 284.3h0M908.6 261.1h0M960.8 312.8h0M922.4 301.6h0M925.9 294.0h0M918.1 285.5h0M919.6 268.5h0M908.3 329.5h0M946.8 320.4h0M962.8 282.5h0M916.9 304.8h0M926.6 278.8h0M896.6 314.5h0M936.0 256.0h0M896.8 289.0h0M909.6 249.8h0M932.5 260.3h0M923.5 260.0h0M940.7 317.8h0M935.9 293.0h0M946.8 287.4h0M964.4 272.4h0M899.2 326.9h0" stroke="#41892f" stroke-width="5.8" stroke-linecap="round" fill="none"/>
<path d="M958.3 269.1h0M913.0 317.6h0M904.3 252.5h0M946.6 272.4h0M919.5 278.9h0M935.7 269.1h0M920.2 283.8h0M895.6 305.7h0M888.9 291.0h0M963.6 284.9h0M914.4 294.6h0M932.7 328.9h0M913.6 255.5h0M919.7 268.7h0M891.0 292.6h0M905.7 315.1h0M945.3 312.4h0M901.0 261.1h0M930.6 245.4h0M902.2 264.4h0M904.1 307.2h0M929.8 283.5h0M938.0 309.5h0M935.4 322.6h0M957.8 279.5h0M890.3 278.3h0M897.4 309.5h0M915.1 263.3h0M925.7 306.1h0M954.3 294.0h0M913.6 271.5h0M894.0 273.7h0M930.6 299.6h0M926.3 242.6h0M911.6 322.1h0M891.3 301.6h0M906.7 317.7h0M933.2 306.1h0M937.1 316.5h0M895.6 264.7h0M907.3 322.3h0M880.1 307.4h0M911.9 300.1h0M899.2 298.0h0M939.1 252.2h0M950.4 278.7h0M924.4 250.7h0M930.7 294.0h0M957.1 259.8h0M914.1 294.7h0M931.7 329.6h0M894.6 317.7h0M914.3 265.5h0M936.3 297.3h0M919.4 309.2h0M883.1 289.6h0M899.2 285.9h0M925.4 284.9h0M930.3 260.2h0M921.1 286.2h0M965.9 296.8h0M889.9 292.7h0M962.6 301.3h0M893.9 324.9h0M941.7 304.6h0M948.5 252.2h0M927.9 281.5h0M927.9 245.1h0M948.2 259.6h0M934.5 317.2h0M924.5 292.6h0M889.0 270.9h0M928.5 280.5h0M938.2 261.1h0M919.9 264.7h0M882.1 291.8h0M917.4 294.2h0M908.6 324.4h0M962.9 309.4h0M888.1 284.6h0M955.1 309.9h0M895.6 276.3h0M922.6 273.0h0M925.4 332.3h0M941.3 329.7h0" stroke="#4f9e3a" stroke-width="5.0" stroke-linecap="round" fill="none"/>
<path d="M941.0 244.8h0M934.4 254.5h0M931.3 328.9h0M929.5 242.3h0M920.6 278.4h0M942.7 254.9h0M913.2 284.7h0M923.0 297.8h0M950.3 293.0h0M958.7 294.8h0M963.6 304.7h0M924.7 259.2h0M911.2 274.8h0M954.8 280.5h0M919.7 300.3h0M919.1 309.5h0M904.7 267.4h0M913.4 315.8h0M901.2 246.7h0M923.0 272.8h0M931.1 281.9h0M958.7 296.4h0M907.5 280.9h0M958.7 273.1h0M928.6 328.4h0M940.4 314.3h0M892.5 293.5h0M955.6 306.2h0M884.1 313.2h0M944.2 293.1h0M940.2 262.0h0M953.2 318.0h0M941.9 314.1h0M888.7 284.0h0M920.8 308.8h0M887.6 291.4h0M951.4 265.4h0M959.5 301.2h0M906.8 263.8h0M959.1 276.3h0M900.1 285.2h0M947.1 318.6h0M913.6 244.4h0M957.7 290.5h0M912.7 290.4h0M888.6 319.8h0M930.5 332.0h0M887.6 266.3h0M888.1 316.8h0M903.1 293.7h0" stroke="#63b048" stroke-width="3.4" stroke-linecap="round" fill="none"/>
<path d="M900.6 257.6h0M901.7 296.4h0M907.4 275.4h0M923.1 272.3h0M919.2 256.8h0M888.1 259.1h0M892.4 307.6h0M887.6 259.7h0M966.4 280.1h0M949.0 263.9h0M909.9 281.0h0M907.7 301.8h0M923.6 318.6h0M913.2 295.9h0M898.7 317.7h0M892.2 256.2h0M900.5 269.5h0M889.6 254.2h0M893.0 291.5h0M957.8 270.7h0M894.6 290.4h0M940.8 321.5h0" stroke="#2f6925" stroke-width="1.6" stroke-linecap="round" fill="none"/>
<path d="M942.1 267.3h0M936.0 244.0h0M927.5 329.0h0M936.8 331.9h0M905.5 292.2h0M916.3 313.7h0M953.4 286.6h0M940.4 300.5h0M925.5 250.9h0M927.1 314.8h0M907.1 248.5h0M943.2 325.6h0M914.1 318.8h0M889.7 317.7h0M912.6 321.6h0M888.2 296.6h0M906.2 246.0h0M881.9 301.4h0M903.7 311.2h0M932.8 312.2h0M909.6 267.8h0M912.8 301.7h0M896.7 304.3h0M921.0 288.8h0M954.0 311.7h0" stroke="#c8bf8e" stroke-width="2.0" stroke-linecap="round" fill="none"/>
</g>
<g transform="translate(0 -2.33) scale(1 1.0083)">
<circle cx="1055.1" cy="279.2" r="72" fill="#1c140f"/>
<circle cx="1055.1" cy="279.2" r="71.1" fill="#35261c"/>
<circle cx="1055.1" cy="279.2" r="68.9" fill="none" stroke="#cfc6c4" stroke-width="1.1" opacity="0.62"/>
<circle cx="1055.1" cy="279.2" r="66.4" fill="none" stroke="#2a1e14" stroke-width="3.4"/>
<circle cx="1055.1" cy="279.2" r="64.8" fill="#3f301c"/>
<circle cx="1053.1" cy="280.4" r="62.72" fill="#2b2018"/>
<circle cx="1053.1" cy="280.4" r="61.92" fill="#6f6657"/>
<path d="M1004.3 250.0h0M1101.4 315.4h0M1061.3 245.5h0M1019.4 292.4h0M1095.9 262.7h0M1078.7 300.9h0M1027.3 314.4h0M997.7 274.9h0M1036.3 331.6h0M1036.8 235.9h0M1033.7 227.6h0M1067.8 235.3h0M1070.6 287.8h0M1062.7 285.4h0M1069.4 314.7h0M1012.9 298.9h0M1004.1 270.2h0M1016.4 319.2h0M1068.4 261.7h0M1041.9 241.8h0M1077.2 248.0h0M1072.4 324.1h0M1008.3 320.0h0M1081.2 323.3h0M1026.4 232.0h0M1038.0 266.6h0M1056.9 236.9h0M1110.2 295.9h0M1070.2 290.0h0M999.8 300.8h0M1034.2 229.7h0M1015.2 269.2h0M1090.8 323.3h0M1019.1 311.6h0M1053.6 310.8h0M1052.6 256.7h0M1007.3 297.3h0M1021.5 251.5h0M1070.8 336.0h0M1103.6 262.9h0M1095.6 238.9h0M1080.5 290.1h0M1042.3 293.5h0M1012.8 250.7h0M1007.0 248.0h0M1010.4 258.2h0M1054.6 227.2h0M1064.6 276.9h0M1030.5 265.3h0M1075.1 230.2h0M1054.3 267.9h0M1068.2 300.6h0M1109.0 275.0h0M1079.7 236.5h0M1008.7 252.1h0M997.6 297.5h0M1040.1 244.7h0M1054.7 327.3h0M1021.5 284.0h0M1089.3 324.9h0M1085.6 268.9h0M1070.6 281.0h0M1024.4 242.3h0M1058.8 228.6h0M1016.5 246.7h0M1083.2 247.4h0M1033.7 245.2h0M1055.7 312.3h0M1106.4 307.0h0M1061.1 239.4h0M1079.7 226.7h0M1104.5 280.5h0M1019.7 305.3h0M1074.6 300.8h0M1042.2 227.5h0M1091.6 294.0h0M1024.7 285.7h0M1103.6 283.5h0M999.1 264.4h0M1088.1 314.8h0M1027.9 289.4h0M1027.0 298.7h0M1059.4 309.6h0M1056.1 274.5h0M1053.9 299.9h0M1074.1 226.6h0M1038.3 315.8h0M1021.2 297.6h0M1069.8 303.9h0M1072.9 262.6h0M1091.6 242.8h0M1089.2 252.5h0M1044.4 316.4h0M1037.8 281.4h0M1060.0 245.1h0M1054.0 222.8h0M1025.3 268.2h0M1079.5 268.6h0M1006.4 272.0h0M1105.0 282.4h0M1069.7 279.3h0M1048.0 246.8h0M1051.7 284.4h0M1018.5 311.9h0M1058.1 329.5h0M1055.1 313.7h0M1008.6 297.3h0M1045.5 267.0h0M1015.9 314.9h0M1060.7 318.0h0M1089.9 249.3h0M998.2 281.0h0M1041.9 237.3h0M1043.2 261.6h0M1019.5 279.9h0M1028.8 279.9h0M1093.8 305.5h0M1065.7 325.6h0M1056.3 285.8h0M1053.2 228.0h0M1053.8 235.3h0M1103.4 289.7h0M1025.0 313.8h0M1054.9 245.9h0M1091.1 304.8h0M1074.6 323.7h0M1009.6 248.8h0M1039.4 284.7h0M1017.3 259.7h0M1066.2 337.8h0M1074.4 234.3h0M1091.6 295.2h0M1066.1 256.2h0M1018.6 247.3h0M1104.2 305.9h0M1013.7 278.6h0M1010.9 258.1h0M1059.2 334.9h0M1012.3 321.3h0M1082.2 237.9h0M1023.4 321.4h0M1106.6 302.2h0M1063.6 303.7h0M1026.7 256.9h0M1016.9 271.6h0M1033.8 285.8h0M1035.9 321.6h0M1012.7 309.8h0M1060.6 323.1h0M1050.3 334.0h0M1040.6 333.3h0M1017.8 303.5h0M1065.9 271.4h0M1065.0 276.2h0M1067.8 294.7h0M1006.2 280.2h0M1077.5 244.5h0M1072.0 302.4h0M1090.0 282.0h0M1019.0 259.0h0M1032.5 317.7h0M1094.2 297.0h0M1033.3 319.7h0M1015.4 318.3h0M1037.5 286.4h0M1017.6 312.7h0M1072.1 324.9h0M1042.1 337.4h0M994.1 283.6h0M1069.3 309.7h0M1025.9 289.3h0M1030.8 304.6h0M1059.8 248.3h0M1079.5 232.2h0M1038.0 304.5h0M1002.1 251.5h0M1101.4 309.6h0M1012.3 279.5h0M1058.8 340.3h0M1057.7 308.6h0M1064.0 259.7h0M1049.9 275.2h0M1041.4 280.1h0M1026.9 246.9h0M1060.0 307.2h0M1088.6 328.7h0M1040.9 280.0h0M1066.6 303.6h0M1033.4 261.5h0M1113.2 280.5h0M1002.7 262.1h0M1073.7 281.5h0M1017.1 255.4h0M1105.4 251.7h0M1094.4 286.3h0M1099.1 289.2h0M1088.4 272.4h0M1040.9 321.3h0M1023.4 233.0h0M1076.7 290.6h0M1031.8 297.9h0M1052.9 243.8h0M1041.9 312.9h0M1030.5 335.6h0M1045.5 239.7h0M1098.2 285.8h0M1063.5 333.7h0M1054.0 278.0h0M1108.9 284.1h0M1028.0 274.8h0M1074.3 324.6h0M1029.3 255.2h0M1066.2 303.1h0M1043.7 262.9h0M1006.7 305.4h0M1048.0 230.0h0M1088.4 282.9h0M1013.7 307.9h0M1093.3 303.9h0M1112.0 271.5h0M1016.5 295.2h0M1065.2 320.2h0M1049.3 242.8h0M1024.1 322.0h0M1053.3 278.4h0M1088.2 252.5h0M1074.0 232.5h0M1054.8 259.7h0M1083.4 311.5h0M1053.6 284.2h0M1001.7 264.6h0M1065.8 338.2h0M1094.8 322.3h0M1050.0 247.0h0M1010.3 270.5h0M1015.5 317.9h0M1040.4 228.9h0M1023.0 328.2h0M1084.4 296.1h0M1021.7 252.3h0" stroke="#231e1a" stroke-width="2.8" stroke-linecap="round" fill="none"/>
<path d="M1097.4 309.6h0M1070.5 236.2h0M1072.8 331.4h0M1035.0 227.9h0M1010.7 274.8h0M1004.7 291.1h0M1041.6 302.5h0M1033.3 284.6h0M1071.9 331.3h0M1107.7 288.1h0M1029.7 228.2h0M1035.3 238.1h0M1062.6 301.6h0M1087.2 237.1h0M1068.8 337.8h0M1025.1 234.6h0M1056.2 245.6h0M1027.9 298.7h0M1077.7 319.1h0M1015.0 319.9h0M1045.4 298.6h0M1094.2 291.0h0M1109.6 272.7h0M1023.6 236.2h0M1105.8 289.1h0M1029.5 264.6h0M1102.2 290.7h0M1092.2 298.4h0M1100.5 288.9h0M1110.7 294.0h0M1054.6 266.6h0M1112.2 284.0h0M1078.1 233.0h0M999.1 287.8h0M1049.2 225.5h0M1049.8 297.6h0M1007.2 288.6h0M1090.4 256.3h0M1054.8 290.3h0M1080.8 332.5h0M1102.0 281.7h0M1091.9 263.5h0M1085.0 245.0h0M1022.1 301.2h0M1079.1 290.2h0M1099.2 300.5h0M1052.4 279.5h0M1042.3 285.7h0M1026.0 259.6h0M1033.5 266.4h0M1095.7 255.5h0M1051.6 225.0h0M1040.6 285.8h0M1011.3 259.2h0M1053.9 235.0h0M1026.4 276.1h0M1061.1 298.0h0M1024.0 323.3h0M1090.3 296.0h0M1038.4 269.5h0M1100.1 317.9h0M1055.9 258.4h0M1093.3 276.5h0M1070.6 334.3h0M1030.3 299.2h0M993.9 272.4h0M1053.8 327.3h0M1043.9 278.4h0M1079.9 300.6h0M1055.3 229.7h0M1092.4 307.8h0M1061.5 256.9h0M1007.4 277.9h0M1030.0 264.6h0M1036.5 238.1h0M1080.5 274.6h0M1058.0 302.0h0M1033.3 246.7h0M1004.8 267.3h0M1079.0 321.3h0M1091.9 312.7h0M1068.9 261.3h0M1033.9 268.5h0M1046.9 241.7h0M1066.7 313.0h0M1038.1 227.8h0M1041.0 328.9h0M1017.1 313.1h0M1025.5 278.1h0M1056.8 285.8h0M1081.5 268.4h0M1026.6 230.4h0M1012.2 314.6h0M1058.4 329.5h0M1017.6 254.1h0M1060.4 263.3h0M1013.2 312.8h0M1045.1 262.0h0M1045.6 287.9h0M1041.6 280.8h0M1094.3 255.6h0M1063.5 265.9h0M1032.8 292.7h0M1016.4 308.5h0M1081.7 227.9h0M1022.8 325.3h0M1081.6 229.9h0M1053.5 333.8h0M1095.9 298.4h0M1079.2 264.4h0M1025.5 318.3h0M1025.1 320.9h0M1067.2 292.1h0M1077.8 290.7h0M1024.6 272.8h0M1019.3 326.6h0M1043.3 223.1h0M1082.2 264.2h0M1075.2 320.6h0M1060.7 256.3h0M1040.9 292.6h0M1068.1 250.8h0M1004.9 297.2h0M1091.1 292.9h0M1024.1 329.5h0M1097.8 301.6h0M1025.0 271.1h0M1085.6 231.6h0M1020.1 330.2h0M1007.4 258.7h0M1029.2 295.4h0M1100.9 292.3h0M1013.6 291.7h0M998.9 293.3h0M1075.0 331.7h0M1016.4 280.1h0M1011.3 314.2h0M1016.1 270.1h0M1054.8 321.6h0M1020.6 260.7h0M1018.1 306.3h0M1002.4 285.5h0M1045.2 315.9h0M1052.3 296.7h0M1060.7 244.6h0M1098.3 315.9h0M1053.0 302.6h0M1014.3 237.3h0M1033.6 285.4h0M1050.5 244.7h0" stroke="#7a5237" stroke-width="2.4" stroke-linecap="round" fill="none"/>
<path d="M1057.7 226.2h0M1089.3 280.9h0M1073.4 229.8h0M1050.0 336.5h0M1032.3 320.5h0M1023.2 278.9h0M1024.4 277.8h0M1035.8 338.5h0M1013.6 313.9h0M1036.8 320.0h0M1037.5 273.6h0M1030.4 244.7h0M1050.0 262.7h0M1051.8 305.2h0M1033.4 333.7h0M1062.3 252.0h0M1041.4 308.9h0M1060.3 273.3h0M1024.9 228.0h0M1027.9 328.0h0M1034.1 309.6h0M1041.0 303.0h0M1046.7 283.0h0M1086.7 237.6h0M1080.7 259.7h0M1040.9 277.8h0M1091.2 327.6h0M1050.9 332.5h0M1071.7 254.7h0M1075.6 234.2h0M1069.5 259.2h0M995.8 264.7h0M1080.8 261.4h0M1062.4 282.0h0M1057.2 318.9h0M1045.7 223.0h0M1038.9 325.7h0M996.6 291.6h0M1056.1 328.5h0M1020.4 236.8h0M1063.4 227.3h0M1085.8 311.5h0M1058.5 321.5h0M1099.2 311.2h0M1037.9 325.0h0M1034.4 230.8h0M1033.8 270.9h0M1037.8 335.5h0M1008.5 241.1h0M1009.7 300.7h0M1102.1 305.1h0M1096.4 252.6h0M1075.6 290.2h0M994.0 269.5h0M1064.2 312.8h0M1059.4 237.3h0M1085.0 275.8h0M1037.7 226.0h0M1002.2 301.5h0M1050.0 300.4h0M1003.2 296.5h0M1073.8 226.9h0M1076.0 231.3h0M1086.5 258.1h0M1063.9 229.8h0M1081.2 304.9h0M1085.0 325.6h0M1080.7 276.8h0M1048.4 276.7h0M1018.1 278.8h0M1028.5 249.7h0M1069.5 308.5h0M1076.4 255.7h0M1078.3 262.6h0M1066.6 273.6h0M1010.1 319.7h0M1061.6 335.3h0M1100.3 282.7h0M1049.9 267.1h0M1094.3 239.9h0M1031.1 244.7h0M1041.9 242.4h0M1046.7 287.5h0M1017.0 311.6h0M1040.8 274.6h0M1023.1 316.0h0M1106.1 278.8h0M1058.4 226.9h0M1108.7 277.3h0M1074.8 278.1h0M1000.5 255.3h0M1020.1 264.1h0M1109.1 297.3h0M1048.4 241.6h0M1081.9 253.1h0M1002.9 287.2h0M1070.9 281.1h0M1018.0 283.1h0M1062.3 223.6h0M1102.1 291.3h0M1075.3 257.2h0M1006.4 288.1h0M1100.7 274.1h0M1004.2 293.8h0M1077.8 286.9h0M1049.4 315.7h0M1049.1 333.4h0M1040.6 224.9h0M1059.9 301.8h0M1101.8 246.6h0M1044.7 300.1h0M1009.5 267.4h0M1024.1 332.3h0M1016.1 245.4h0M1047.0 241.8h0M1064.9 291.6h0M1090.7 296.6h0M1057.1 279.0h0M1009.8 265.7h0M1007.8 281.4h0M1086.2 308.3h0M1103.4 282.1h0M1042.3 323.1h0M1005.9 300.8h0M1029.4 267.4h0M1078.0 319.7h0M1009.3 261.4h0M1069.9 227.5h0M1024.8 285.0h0M1031.9 335.3h0M1105.4 303.2h0M1012.7 280.2h0M1014.5 277.9h0M1025.1 256.8h0M1053.0 306.9h0M1026.6 327.1h0M1034.0 283.5h0M1031.8 230.6h0M1081.5 311.7h0M1050.1 273.7h0M1066.4 253.5h0M1013.8 323.6h0M1076.2 306.8h0M1078.4 272.7h0M1002.5 272.7h0M1064.7 252.0h0M1089.3 303.8h0M1077.2 300.1h0M1029.4 276.9h0M1063.2 223.5h0M1074.9 328.5h0M1065.1 248.0h0M1049.2 328.0h0M1080.1 283.3h0M1106.1 306.0h0M1039.7 329.9h0M1041.0 299.2h0M1023.0 249.9h0M1089.2 284.5h0M1056.5 239.1h0M1032.9 267.4h0M1073.8 233.3h0M1039.5 312.8h0M1069.0 255.4h0M1075.6 279.7h0M1043.1 327.5h0M1005.1 254.4h0M1091.0 314.2h0M1070.8 253.3h0M1062.4 304.1h0M1073.4 328.5h0M1000.4 282.2h0M1099.4 283.6h0M1089.1 304.1h0M1100.6 308.2h0M1086.1 236.7h0M1006.0 290.6h0M1035.0 309.3h0M1057.4 250.4h0M1059.5 254.6h0M1024.0 293.2h0M1069.9 323.3h0M1071.4 290.9h0M1061.9 264.2h0M1067.7 224.6h0M1072.0 335.7h0M1092.7 247.1h0M1084.5 293.6h0M1104.9 276.6h0M1022.4 237.4h0M1079.2 328.9h0M1014.7 282.8h0M1113.1 275.0h0M1061.6 322.2h0M1008.1 280.6h0M1012.5 269.0h0M1069.1 235.4h0M1065.0 322.1h0M1058.3 280.2h0M1019.2 272.8h0M1094.0 297.3h0M1101.9 250.6h0M1026.4 288.3h0M1070.2 255.2h0M1036.2 257.5h0M1076.7 258.5h0M1027.1 322.2h0M1075.8 251.9h0M994.7 272.0h0M1023.1 248.0h0M1078.7 248.0h0M1071.7 248.1h0M1080.1 256.5h0M1107.3 268.2h0M1046.4 305.4h0M1059.0 260.5h0M1029.8 268.5h0M1002.7 273.6h0M1087.8 289.8h0M1051.0 335.2h0M1045.7 249.9h0M1042.7 267.9h0M1100.3 297.9h0M1017.1 282.8h0M1053.5 326.7h0M1080.3 265.8h0M1090.8 310.0h0M1078.2 293.7h0M1068.9 286.8h0M1052.5 253.9h0M1082.1 264.4h0M1023.8 322.8h0M1051.7 258.7h0M1030.1 279.3h0M1054.8 255.5h0M1101.6 263.0h0M1028.7 329.2h0M1085.8 296.7h0M1065.2 279.0h0M1044.6 247.8h0" stroke="#928c84" stroke-width="2.0" stroke-linecap="round" fill="none"/>
<path d="M1008.1 310.8h0M1030.0 232.4h0M1050.6 220.8h0M1026.8 313.5h0M1035.6 256.8h0M1107.9 299.5h0M1084.5 276.3h0M1053.5 334.9h0M1072.7 294.5h0M1058.8 315.7h0M1076.8 285.0h0M1028.5 259.3h0M1075.3 293.4h0M1078.6 247.0h0M1000.6 251.0h0M1033.0 265.2h0M1009.0 298.8h0M1051.0 245.5h0M1089.4 282.9h0M1041.5 271.5h0M1043.0 306.9h0M998.4 300.0h0M1083.7 291.8h0M1112.5 285.2h0M1074.0 305.1h0M1079.9 235.5h0M1008.4 249.7h0M1099.3 295.3h0M998.1 303.9h0M1098.1 307.3h0M1004.7 286.6h0M1081.3 320.3h0M1030.0 328.9h0M1091.3 272.9h0M1029.5 269.7h0M1057.8 234.5h0M1074.4 311.9h0M1082.1 295.3h0M1113.1 287.0h0M1044.8 320.9h0M1060.3 287.1h0M1094.7 324.1h0M1025.4 324.1h0M1039.9 332.2h0M1039.5 338.7h0M1027.1 261.3h0M1051.0 300.9h0M1053.9 330.6h0M1094.1 257.1h0M1079.6 267.0h0M1018.0 248.9h0M1048.4 310.1h0M1050.9 288.0h0M1033.6 225.4h0M1076.8 333.9h0M1016.5 247.2h0M1087.9 305.8h0M1087.7 316.7h0M1009.9 269.9h0M1047.7 323.2h0M1038.5 225.5h0M1098.9 259.9h0M1035.0 254.8h0M1018.8 308.8h0M1061.6 285.4h0M1072.3 249.7h0M1021.6 323.8h0M1044.7 252.5h0M1010.8 260.9h0M998.1 301.3h0M1041.2 327.3h0M1073.0 272.7h0M1015.0 273.7h0M995.9 299.8h0M1042.1 256.8h0M1107.0 262.3h0M1100.7 307.1h0M1041.9 281.3h0M1086.9 230.3h0M1087.9 254.1h0M1094.5 290.8h0M1007.0 271.9h0M1024.2 227.7h0M1003.4 265.0h0M1000.9 254.4h0M1074.9 331.5h0M1084.1 330.0h0M1039.6 312.9h0M1004.8 275.6h0M995.3 262.5h0M1051.3 314.7h0M1016.6 322.3h0M1085.2 299.8h0M1036.6 288.7h0M1059.1 329.2h0M1017.8 268.7h0M1007.8 298.4h0M1062.1 249.2h0M1095.8 316.6h0M1083.2 306.9h0M1092.1 324.1h0M1073.8 255.1h0M1028.0 250.6h0M1071.8 294.0h0M1046.9 254.0h0M1044.6 321.0h0M1012.5 280.0h0M1073.6 255.4h0M1037.6 297.7h0M1072.0 324.4h0M1040.1 314.9h0M1078.5 290.5h0M1007.8 241.8h0M1027.3 251.2h0M1080.6 259.0h0M1062.4 271.5h0M994.4 273.5h0M1022.5 310.2h0M1038.4 293.1h0M1014.4 281.0h0M1060.7 255.3h0M1107.9 299.3h0M1092.8 322.9h0M1012.4 263.2h0M1073.0 316.5h0M1048.2 276.0h0M1053.8 233.1h0M1074.7 244.9h0M1096.3 248.7h0M1024.2 328.6h0M1040.5 317.2h0M1060.9 320.3h0M1097.7 287.0h0M1059.2 295.4h0M1038.2 237.3h0M1027.1 275.8h0M1058.9 273.9h0M1084.7 302.4h0M1054.1 318.8h0M1104.3 251.1h0M1058.2 307.8h0M1035.4 308.7h0M1094.5 309.2h0M1084.7 303.1h0M1095.9 315.5h0M1041.9 298.5h0M1047.8 252.6h0M1046.0 317.0h0M1046.1 321.9h0M1072.4 306.0h0M1019.1 258.4h0M1090.7 309.3h0M1027.9 239.4h0M1014.0 301.4h0M1026.5 331.3h0M1003.5 293.8h0M1038.1 243.1h0M1074.0 312.0h0M1045.9 244.3h0M1077.7 312.4h0M1041.8 222.4h0M1055.9 254.9h0M1055.2 329.9h0M1046.7 314.8h0M1090.8 233.6h0M1086.7 239.4h0M1025.4 273.6h0M1031.8 304.2h0M1028.3 269.2h0M1082.2 257.0h0M993.9 281.1h0M1031.6 234.3h0M1109.5 295.5h0M1043.6 282.7h0M996.4 300.9h0M1017.3 309.1h0M999.5 307.0h0M1058.6 236.9h0M1056.8 307.0h0M1042.7 337.4h0M1031.2 329.3h0M1090.1 247.8h0M998.7 284.7h0M1097.9 259.8h0M1037.9 227.3h0M1088.4 289.0h0M1056.9 239.0h0M1021.7 279.6h0M1072.3 231.0h0M1082.8 293.0h0M1018.3 301.0h0M1063.9 227.5h0M1061.8 259.0h0M1064.1 312.8h0M1056.7 262.2h0M1069.4 271.1h0M1063.6 314.3h0M1084.6 272.7h0M1058.9 304.4h0M1048.1 272.4h0" stroke="#d8d1c4" stroke-width="1.6" stroke-linecap="round" fill="none"/>
<path d="M1090.3 322.8h0M1029.7 250.5h0M1045.6 225.9h0M1101.8 300.9h0M1104.1 302.5h0M1002.2 255.5h0M1088.7 278.7h0M1074.9 297.0h0M1026.9 235.7h0M1075.9 280.0h0M1090.4 295.6h0M1004.1 262.3h0M1034.4 290.2h0M1022.9 231.5h0M1073.1 236.4h0M1067.8 318.4h0M1084.6 309.8h0M1084.4 238.0h0M1029.8 301.6h0M1100.1 266.9h0M1006.7 270.0h0M1101.6 294.3h0M1005.7 261.1h0M1073.0 316.2h0M1073.3 328.1h0M1061.1 301.9h0M1064.6 318.3h0M1053.1 315.8h0M1080.9 261.3h0M1074.2 283.1h0M1058.5 277.5h0M1062.6 291.7h0M1012.3 251.9h0M1055.0 250.1h0M1018.2 326.0h0M1047.0 235.7h0M1085.6 289.7h0M1071.1 283.2h0M1040.4 297.5h0M1006.8 292.5h0M1085.6 309.7h0M1080.3 285.0h0M1091.9 307.4h0M1000.3 265.4h0M1008.1 264.2h0M1103.7 261.7h0M1082.2 245.0h0M1008.2 251.1h0M1044.2 255.2h0M999.0 263.0h0M1053.4 263.2h0M1019.0 237.6h0M1026.1 308.4h0M1077.6 331.9h0M1047.8 254.7h0M1016.3 306.0h0M1030.9 264.4h0M1007.6 277.9h0M1074.8 248.0h0M1069.2 266.7h0M1071.2 245.7h0M1027.9 248.8h0M1051.3 257.9h0M1008.7 274.3h0M1084.6 306.9h0M1053.5 269.5h0M1092.0 249.0h0M1106.6 300.8h0M1068.0 295.8h0M1096.1 244.5h0M1020.4 284.1h0M1042.9 309.0h0M1065.9 247.6h0M1020.4 324.0h0M1025.6 241.3h0M1021.6 262.5h0M1075.3 274.3h0M1014.4 320.7h0M1101.8 281.8h0M1003.0 293.3h0M1069.8 274.0h0M1080.1 327.2h0M1045.1 274.3h0M1062.3 289.2h0M1047.7 329.6h0M1085.6 318.8h0M1010.1 299.3h0M1042.5 229.9h0M1091.8 241.3h0M1026.2 230.0h0M1012.3 293.2h0M1096.3 309.5h0M1064.7 314.7h0M1038.1 278.2h0M1047.6 247.1h0M1089.2 239.6h0M1061.2 285.8h0M1010.8 245.6h0M1068.1 249.2h0M1059.1 262.6h0M1053.2 260.4h0M1044.9 313.1h0M1008.1 252.2h0M1069.7 297.0h0M1081.0 289.7h0M1000.9 303.7h0M1024.4 276.2h0M1010.8 303.7h0M1058.4 239.4h0M1072.6 317.0h0M1070.4 228.4h0M1080.4 302.8h0M1107.5 297.3h0M1105.3 287.3h0M1013.8 238.7h0M1093.6 300.3h0M1059.7 326.5h0M1049.9 286.9h0M1066.4 283.2h0M1033.2 279.7h0M1068.9 323.6h0M1054.3 297.2h0M1073.8 247.8h0M1016.9 284.5h0M1041.2 244.5h0M1036.8 230.8h0M1092.0 297.7h0M1079.9 229.7h0M1051.5 291.3h0M1027.2 311.6h0M1052.2 298.0h0M1051.5 268.8h0M1034.4 282.1h0M1098.2 276.5h0M1025.6 256.5h0M1079.2 324.1h0M1077.5 297.3h0M1078.6 244.5h0M1036.0 300.4h0M1063.2 333.7h0M1035.2 313.0h0M1099.1 254.2h0M1048.1 307.0h0M1069.9 294.7h0M1095.1 314.6h0M1019.6 255.4h0M1019.9 272.3h0M1082.3 288.3h0M1086.9 302.5h0M1037.6 227.9h0M1035.9 239.2h0M1009.1 268.7h0M1105.7 266.6h0M1081.5 304.6h0M1055.1 247.0h0M1106.4 280.4h0M1107.1 288.3h0M1049.5 280.9h0M1035.5 254.5h0M1075.8 251.3h0M1077.4 243.3h0M1001.5 272.3h0M1090.7 255.4h0M1100.9 310.2h0M1049.2 323.0h0M1042.3 278.6h0M1071.3 278.2h0M1090.8 246.2h0M1024.0 235.6h0M1040.8 270.9h0M1015.2 301.5h0M1011.0 250.9h0M1100.0 261.5h0M1057.8 222.9h0M1054.9 282.8h0M1047.2 306.3h0M1043.4 281.8h0M1024.9 273.7h0M1052.3 316.0h0M1030.2 243.6h0M1038.5 257.0h0M1044.0 323.6h0M1040.5 332.1h0M1095.3 281.1h0M1049.2 285.2h0M1022.6 301.1h0M1073.4 268.4h0M1034.8 300.7h0M1010.2 261.7h0M1026.7 233.2h0M1017.9 300.7h0M1092.9 251.4h0" stroke="#968c62" stroke-width="4.4" stroke-linecap="round" fill="none"/>
<path d="M1031.8 302.4h0M1059.5 253.6h0M1030.7 317.2h0M1009.1 245.7h0M1053.3 293.6h0M1023.8 247.4h0M1093.4 286.2h0M1011.7 292.5h0M1044.1 321.1h0M1084.2 248.8h0M1025.0 279.2h0M1034.7 301.3h0M1045.4 331.8h0M1023.0 238.1h0M1032.4 259.6h0M1033.1 255.9h0M1020.3 296.3h0M1050.5 266.5h0M1007.5 297.2h0M1098.7 274.6h0M1053.3 321.3h0M1050.6 312.4h0M1037.4 250.7h0M1091.8 242.4h0M1076.7 321.2h0M1060.1 282.2h0M1086.1 247.1h0M1049.0 293.9h0M1057.9 230.3h0M1062.9 262.3h0M1084.6 327.7h0M1006.4 289.7h0M1044.7 224.3h0M1067.3 335.5h0M1040.2 330.6h0M1099.8 296.4h0M1058.6 332.1h0M1001.5 274.5h0M1018.6 297.9h0M1056.7 294.5h0M1066.1 334.5h0M1100.9 284.1h0M1045.1 325.0h0M1067.6 317.6h0M1000.4 304.1h0M1075.6 227.4h0M1056.7 296.4h0M1007.9 311.5h0M1067.0 244.8h0M1020.8 278.2h0M1056.1 260.9h0M1064.0 324.1h0M1059.4 278.1h0M1101.3 308.5h0M1038.2 280.7h0M1030.4 275.1h0M1039.3 248.7h0M1079.6 266.1h0M1022.2 260.9h0M1016.1 276.1h0M1045.5 247.8h0M1088.1 289.0h0M1085.0 285.1h0M1071.9 234.1h0M1042.1 316.1h0M1032.5 294.6h0M1017.2 237.3h0M1019.3 326.1h0M1074.9 250.0h0M1069.2 275.9h0M1068.2 263.3h0M1051.3 318.6h0M1083.5 287.1h0M1077.7 285.6h0M1065.1 245.2h0M1047.1 327.1h0M1058.6 298.9h0M1096.7 312.1h0M1100.7 308.4h0M1099.4 252.1h0M1074.3 284.1h0M1004.2 290.6h0M1064.4 287.8h0M1072.5 282.8h0M1103.9 270.3h0M1056.4 230.4h0M1046.8 303.2h0M1071.7 306.4h0M1060.2 291.0h0M1039.1 329.4h0M1017.2 273.8h0M1013.3 311.0h0M1041.5 279.1h0M1018.3 322.7h0M1033.1 319.0h0M1055.8 281.1h0M1048.1 253.8h0M1073.5 307.2h0M1101.8 249.4h0M1046.1 247.9h0M1038.7 237.5h0M1020.2 307.9h0M1032.3 269.9h0M1086.5 290.5h0M1067.5 276.6h0M1058.9 263.0h0M1098.8 276.8h0M1030.2 267.7h0M1064.6 257.7h0M1102.1 293.6h0M1079.3 287.2h0M1017.1 264.9h0M1076.4 287.9h0M1037.1 236.9h0M1023.5 300.9h0M1009.0 317.5h0M998.4 263.4h0M1100.0 273.1h0M1044.2 228.5h0M1037.0 295.5h0M1024.4 287.1h0M1030.7 260.7h0M1038.8 325.9h0M1089.9 318.2h0M1019.0 245.3h0M1017.7 271.8h0M1078.5 325.1h0M1010.0 307.7h0M1035.1 263.4h0M1079.0 234.1h0M1076.6 331.2h0M1092.5 254.0h0M1066.8 301.9h0M1025.4 325.5h0M1051.0 320.1h0M1048.6 261.3h0M1037.5 305.9h0M1071.1 322.5h0M1014.6 239.5h0M1084.0 273.5h0M1095.3 300.7h0M1045.9 291.2h0M1040.3 247.3h0M1063.3 262.4h0M1050.3 272.9h0M1009.1 276.2h0M1065.9 246.5h0M1079.9 259.5h0M1092.8 238.1h0M1085.2 324.6h0M1063.6 246.5h0M1051.2 334.2h0M1045.6 299.3h0M1056.2 266.3h0M1065.0 326.3h0M1098.3 248.1h0M1041.3 269.2h0M1091.7 262.5h0M1027.5 261.6h0M1056.8 304.1h0M1070.1 243.3h0M1030.0 333.6h0M1054.1 246.4h0M1093.0 250.1h0M1042.6 320.7h0M1070.5 330.0h0M1060.1 309.3h0M1024.9 276.8h0M1101.3 294.6h0M1053.4 244.8h0M1077.8 330.4h0M1066.3 328.8h0M1073.0 251.8h0M1081.4 260.5h0M1063.5 324.5h0M1061.1 287.3h0M1012.2 261.7h0M1054.9 233.4h0M1082.9 308.5h0M1062.8 253.9h0M1017.9 251.6h0M1060.5 266.0h0M1005.1 280.8h0M1025.2 240.5h0M1042.4 277.6h0M1069.0 232.7h0M1053.7 304.5h0M1074.3 252.2h0M1022.3 276.1h0M1050.5 301.1h0M1003.2 265.2h0M1052.1 291.7h0M1074.4 230.2h0M1043.1 257.4h0M1038.5 246.6h0M1045.8 305.2h0M1061.4 287.5h0M1039.5 333.6h0M1006.9 295.6h0M1065.2 309.9h0M1033.6 299.6h0M1018.3 272.7h0M1094.7 280.3h0M1099.5 300.8h0M1022.5 288.1h0M1020.4 286.5h0M1089.4 244.5h0M1075.3 229.5h0M1020.2 301.8h0M1041.8 330.9h0M1026.2 238.9h0M1061.2 230.8h0M1029.0 256.9h0M1010.1 272.3h0M1046.5 265.1h0M1068.1 246.7h0M1049.5 228.1h0M1009.6 293.1h0M1017.6 301.0h0M1102.1 292.2h0M1037.2 262.8h0M1090.7 243.1h0M1024.8 322.8h0M1081.4 299.8h0M1042.4 255.2h0M1034.0 255.0h0M1028.4 286.9h0M1018.3 325.5h0M1008.0 258.5h0M1055.4 276.9h0M1044.2 262.1h0M1078.2 251.5h0M1073.8 261.2h0M1089.2 312.6h0M1076.0 332.2h0M1050.2 262.6h0M1055.9 236.6h0M1063.3 265.4h0M1084.2 231.9h0M1070.4 259.1h0" stroke="#b5ab7c" stroke-width="3.8" stroke-linecap="round" fill="none"/>
<path d="M1057.5 336.2h0M1005.4 281.2h0M1014.5 287.8h0M1000.9 285.7h0M1075.2 253.4h0M1085.2 309.5h0M1047.0 328.5h0M1054.1 288.6h0M1066.7 274.5h0M1003.0 295.4h0M1055.8 238.7h0M1109.6 268.8h0M1061.4 328.1h0M1107.9 279.9h0M1074.4 290.4h0M1023.4 288.5h0M1021.7 313.7h0M1101.4 257.0h0M1063.0 256.2h0M1102.1 266.3h0M1045.4 298.6h0M1096.1 266.0h0M1049.8 237.6h0M1045.4 333.0h0M1084.7 240.4h0M1074.7 237.9h0M1106.2 280.2h0M1044.6 320.5h0M1038.9 272.5h0M1071.9 316.2h0M1077.2 320.4h0M1006.5 248.6h0M1008.5 265.1h0M1058.3 241.2h0M1071.6 229.0h0M1044.5 252.3h0M1033.8 294.0h0M1060.8 336.1h0M1076.8 257.5h0M1053.7 284.3h0M1057.3 241.9h0M1029.8 324.1h0M1013.5 251.0h0M1096.3 269.1h0M1014.0 302.3h0M1088.5 245.7h0M1022.6 248.7h0M1088.7 237.3h0M1009.3 285.4h0M1022.1 291.0h0M1069.4 242.0h0M1093.2 261.2h0M1098.7 303.9h0M1105.3 265.5h0M1096.3 282.8h0M1082.8 236.4h0M1101.1 305.7h0M1012.5 294.1h0M1085.8 246.0h0M1087.7 239.2h0M1024.7 272.2h0M1040.6 226.6h0M1056.1 302.0h0M1057.6 290.9h0M1060.9 262.1h0M1056.5 317.5h0M1095.7 298.7h0M1069.5 332.6h0M1030.6 260.0h0M1083.5 273.6h0M1078.3 264.6h0M1084.2 311.7h0M1081.6 257.5h0M1088.0 299.0h0M1076.3 262.1h0M1096.2 256.5h0M1080.1 305.5h0M1073.1 321.1h0M1094.7 289.6h0M1109.6 285.2h0M1082.5 244.2h0M1050.3 305.7h0M1033.0 256.0h0M1076.2 261.4h0M1028.3 305.3h0M1052.3 239.3h0M1098.6 295.0h0M1030.7 295.4h0M1091.5 278.3h0M1030.6 227.2h0M1063.3 276.3h0M1060.1 284.6h0M1030.4 263.8h0M1090.5 243.7h0M1031.1 247.0h0M1075.1 329.2h0M1032.8 301.6h0M1020.8 240.6h0M1099.8 256.3h0M1098.4 249.5h0M1048.8 271.6h0M1078.9 248.7h0M1021.1 248.8h0M1092.2 238.6h0M1009.2 269.8h0M1013.8 273.1h0M1062.5 283.3h0M1073.2 238.8h0M1077.7 275.6h0M1056.3 246.2h0M1029.6 255.9h0M1103.8 300.8h0M1038.1 236.4h0M1037.1 294.6h0M1068.1 327.4h0M1055.6 325.3h0M1041.3 277.7h0M1094.1 255.6h0M1109.7 271.7h0M1102.8 259.5h0M1049.4 256.1h0M1064.0 310.7h0M1095.6 304.3h0M1063.9 243.6h0M1036.5 335.5h0M1014.9 309.4h0M1030.3 268.7h0M1086.2 247.6h0M1027.9 262.9h0M1007.1 272.8h0M1082.2 292.6h0M1091.0 290.6h0M1037.6 270.7h0M1033.8 252.4h0M1040.1 327.3h0M1074.0 285.0h0M1000.2 281.6h0M1022.0 276.6h0M1025.0 330.8h0M1043.6 269.4h0M1020.6 234.5h0M1077.5 305.1h0M1064.8 284.9h0M1003.5 280.4h0M1011.8 297.3h0M1055.2 255.7h0M1068.1 227.2h0M1049.0 330.4h0M1027.4 284.9h0M1062.9 239.9h0M1078.5 320.1h0M1060.3 241.9h0" stroke="#d0c89a" stroke-width="2.6" stroke-linecap="round" fill="none"/>
<path d="M1025.0 291.6h0M1098.4 305.0h0M1076.9 319.7h0M1074.8 332.2h0M1068.3 309.1h0M1086.7 291.9h0M1004.6 303.0h0M1105.9 295.8h0M1029.2 326.2h0M1009.9 310.4h0M1010.7 316.5h0M1088.3 301.8h0M1088.7 256.2h0M1022.9 324.6h0M1040.2 307.4h0M1033.7 331.7h0M1047.0 333.3h0M1088.0 252.8h0M1027.7 263.8h0M1007.2 255.4h0M1032.4 308.9h0M1067.3 282.8h0M1088.1 275.6h0M1058.7 281.3h0M1011.5 306.5h0M1088.2 321.6h0M1043.4 335.0h0M1061.8 317.5h0M1048.1 289.7h0M1068.7 316.8h0M1041.3 299.9h0M1077.1 317.0h0M1075.2 236.3h0M1102.5 258.9h0M1083.4 254.0h0M1043.5 261.5h0M1001.7 265.7h0M1046.4 332.1h0M1048.7 261.6h0M1077.1 307.3h0M1054.7 304.2h0M1008.0 257.9h0M1103.0 254.3h0M1015.7 239.9h0M1034.6 331.0h0M1096.8 316.9h0M1103.0 310.1h0M1078.5 231.6h0M1098.9 266.9h0M1063.2 238.8h0M1057.5 230.5h0M1096.3 317.0h0M1054.9 232.7h0M1062.1 261.6h0M1042.2 311.5h0M1084.9 285.0h0M1094.9 306.1h0M1074.6 293.3h0M1057.3 225.1h0M1008.7 298.0h0M1072.7 307.1h0M1050.5 235.9h0M1094.5 264.8h0M1054.3 250.5h0M1053.7 253.0h0M1022.5 291.9h0M1039.3 286.8h0M1060.2 276.8h0M1043.6 249.2h0M1070.4 315.0h0M1046.1 328.9h0M1062.1 321.3h0M1010.6 282.3h0M1043.0 231.3h0M1009.0 302.5h0M1088.7 234.5h0M1045.5 327.6h0M1076.6 259.8h0M996.7 282.6h0M1094.1 316.9h0M1007.0 291.8h0M1069.5 239.8h0M1009.6 256.6h0M1084.2 244.8h0M1048.2 272.2h0M1075.9 331.6h0M1067.1 316.9h0M1095.5 240.6h0M1104.4 289.2h0M1097.9 312.4h0M1085.7 270.3h0M1041.3 277.9h0M1043.1 309.7h0M1072.2 321.3h0M1066.8 280.7h0M1092.2 301.8h0M1014.7 316.4h0M1047.2 246.5h0M1038.1 248.3h0M1050.3 245.6h0M1016.3 262.8h0M1086.4 282.5h0M1058.9 298.3h0M1069.5 266.8h0M1080.3 306.1h0M999.7 265.0h0M1054.3 327.7h0M1064.4 226.1h0M1065.7 292.4h0M1058.6 284.6h0M1084.8 310.2h0M1009.3 249.4h0M1062.2 231.1h0M1104.9 262.3h0M1059.0 318.7h0M1031.1 247.1h0M1072.2 245.4h0M1082.9 296.4h0M1081.3 280.0h0M1032.6 244.8h0M1013.2 240.1h0M1036.3 310.8h0M1081.1 235.3h0M1064.9 265.6h0M1064.5 256.4h0M1046.8 329.5h0M1033.3 247.1h0M1093.5 300.3h0M1059.3 335.1h0M1082.9 266.7h0M1086.3 268.9h0M1041.4 316.6h0M1012.1 297.1h0M1038.4 255.9h0M1057.5 241.8h0M1077.0 247.8h0M1044.6 271.4h0M1056.4 332.0h0M1011.2 274.1h0M1068.3 336.2h0M1056.8 318.2h0M1078.2 252.8h0M1068.3 321.3h0M1076.8 272.3h0M1057.3 239.0h0M1018.2 251.0h0M1101.4 260.9h0M1092.0 258.4h0M1094.8 253.1h0M1010.3 290.2h0M1082.0 257.1h0M1052.7 252.5h0M1023.0 312.5h0M1099.7 295.3h0M1084.6 279.7h0M1053.7 248.6h0M1076.9 291.8h0M1086.7 297.2h0M1025.1 236.9h0M1046.8 284.6h0M1006.2 280.4h0M1006.6 287.4h0M1009.2 268.2h0M1059.8 264.2h0M1061.4 271.2h0M1006.6 257.6h0M1048.0 276.0h0M1012.8 310.0h0M1078.7 240.5h0M1060.2 248.3h0M1025.3 245.4h0M1102.7 276.8h0M1091.3 263.3h0M1023.4 297.6h0M1081.8 329.9h0M1034.6 285.2h0M1010.9 262.8h0M1092.8 304.8h0M1037.3 235.1h0M1050.3 336.2h0M1008.8 286.2h0M1015.9 260.7h0M1065.1 246.0h0M1049.2 269.9h0M1039.0 282.9h0M1001.0 288.2h0M1105.1 276.3h0M1006.2 300.0h0M1030.9 264.6h0M1044.6 321.5h0" stroke="#2a221c" stroke-width="2.5" stroke-linecap="round" fill="none"/>
<path d="M1032.8 255.2h0M1071.8 254.9h0M1049.4 312.4h0M1057.8 303.7h0M1058.8 331.0h0M1060.6 291.8h0M1037.5 310.7h0M1004.9 248.3h0M1103.6 271.4h0M1071.8 329.3h0M1025.5 312.4h0M1014.4 264.5h0M1097.9 276.1h0M1017.7 261.4h0M1079.9 314.2h0M1076.5 225.3h0M1004.6 260.5h0M1086.8 245.2h0M1029.9 224.3h0M1004.7 308.5h0M1102.8 276.8h0M1049.1 269.4h0M1083.2 303.9h0M1080.8 251.0h0M1077.8 332.8h0M1081.4 312.6h0M1044.9 266.8h0M1110.8 280.2h0M1047.2 254.4h0M1078.0 327.5h0M1031.6 226.5h0M1031.6 293.9h0M1025.1 270.0h0M1091.4 313.0h0M1012.0 292.1h0M1045.8 296.3h0M1058.0 302.3h0M1017.2 296.3h0M1002.1 263.6h0M1015.2 261.9h0M1066.7 323.4h0M1035.0 325.5h0M1036.8 274.5h0M1008.6 266.1h0M1111.3 289.6h0M1080.2 306.7h0M1002.7 262.0h0M1064.9 235.0h0M1092.1 272.0h0M1023.0 254.9h0M1096.3 294.1h0M1083.1 231.3h0M1098.6 278.6h0M1068.1 327.3h0M1011.0 268.4h0M1082.8 300.9h0M1075.9 233.8h0M1069.7 282.9h0M1077.9 235.5h0M1038.6 277.8h0M1106.5 284.2h0M1011.3 246.4h0M1049.2 220.5h0M1042.5 324.4h0M1068.2 226.0h0M1032.3 321.1h0M1008.1 263.1h0M1014.4 249.5h0M1035.0 222.6h0M1090.2 295.0h0M1038.0 294.3h0M1044.5 267.2h0M1062.7 308.6h0M1076.9 278.1h0M1105.4 279.7h0M1014.5 321.6h0M1033.7 242.7h0M1059.0 285.3h0M1049.7 233.2h0M1043.8 300.8h0M1104.5 295.0h0M1089.2 323.1h0M1088.1 310.2h0M1086.0 303.6h0M1022.2 234.5h0M1024.5 301.8h0M1099.3 271.5h0M1039.5 328.2h0M1093.7 289.0h0M1049.9 225.1h0M1097.2 293.9h0M1049.2 282.6h0M1041.7 301.1h0M1052.3 270.9h0M1078.1 235.7h0M1055.4 255.5h0M1014.9 233.2h0M1080.4 332.7h0M1070.9 322.9h0M1095.0 281.3h0M1053.5 332.9h0M1068.2 309.2h0M998.2 283.3h0M1094.2 256.1h0M1034.5 294.1h0M1074.7 241.6h0M1057.5 306.8h0M1009.2 306.5h0M1002.6 307.0h0M1076.1 324.8h0M995.0 281.3h0M1040.3 285.8h0M1023.7 321.8h0M1046.1 276.5h0M1012.0 262.9h0M997.8 270.7h0M1022.3 281.6h0M998.8 271.8h0M1076.8 265.2h0M1048.0 243.5h0M1032.5 286.0h0M1033.4 311.1h0M1008.7 266.5h0M1072.7 319.5h0M999.4 292.2h0M1033.9 278.4h0M1055.1 273.1h0M1072.5 270.5h0M1085.3 301.6h0M999.6 295.5h0M1051.3 224.1h0M1007.3 251.9h0M1083.1 295.0h0M1051.7 231.7h0M1059.6 281.3h0M1066.5 303.7h0M1062.6 261.3h0M1053.8 220.2h0M1082.5 303.1h0M1061.3 245.4h0M1059.8 260.8h0M1055.1 318.0h0M1075.6 278.6h0M1058.4 283.2h0M1047.7 263.1h0M1076.0 260.0h0M1054.8 296.5h0M1045.7 286.5h0M1100.0 294.9h0M1058.8 260.8h0" stroke="#c9c6be" stroke-width="2.0" stroke-linecap="round" fill="none"/>
<path d="M1020.9 283.8h0M1059.8 324.0h0M1021.5 319.7h0M1045.7 286.6h0M1086.2 308.8h0M1070.7 251.6h0M1052.2 271.4h0M1091.9 250.9h0M1097.9 285.4h0M1028.2 285.6h0M1069.0 240.2h0M1096.9 274.2h0M1091.4 264.1h0M1030.7 308.1h0M1079.8 281.5h0M1007.9 310.8h0M1078.4 233.3h0M1003.4 272.7h0M1073.8 286.6h0M1005.5 288.9h0M1070.9 301.6h0M1045.8 252.3h0M1024.2 312.2h0M1062.9 283.6h0M1068.2 308.3h0M1068.8 317.2h0M1011.8 314.6h0M1084.7 258.8h0M1078.0 253.0h0M1067.8 262.2h0M995.1 296.5h0M1011.0 307.1h0M1047.4 333.8h0M995.0 263.5h0M1003.7 294.7h0M1025.4 241.1h0M1022.3 254.5h0M1070.5 306.0h0M1089.3 232.2h0M1004.9 245.9h0M1062.8 263.4h0M1089.7 296.7h0M1030.0 256.5h0M1103.6 254.3h0M1016.5 248.4h0M1069.6 292.7h0M1076.5 233.9h0M1062.0 244.3h0M1056.9 229.6h0M1018.6 266.9h0M1053.5 222.1h0M1067.8 251.9h0M1056.9 306.7h0M1096.9 313.9h0M1090.0 314.2h0M1006.7 260.9h0M1050.0 279.5h0M1096.8 300.2h0M1083.1 295.5h0M1009.4 316.5h0M1067.1 277.5h0M1016.7 235.8h0M1077.9 312.1h0M1016.4 235.6h0M1063.8 251.5h0M1097.1 298.0h0M1055.3 220.7h0M1105.5 271.9h0M1011.8 293.3h0M1036.7 305.1h0M1101.5 249.7h0M1090.1 249.4h0M1067.5 303.2h0M1108.2 283.8h0M1072.3 267.4h0M1035.2 257.4h0M1012.6 237.2h0M1030.9 305.1h0M1057.7 329.3h0M1006.1 263.9h0M1046.6 324.4h0M1019.2 299.7h0M1090.6 316.6h0M1038.3 275.0h0M1091.8 273.1h0M1081.6 283.6h0M1092.5 297.2h0M1074.4 267.2h0M1078.3 275.5h0M1113.1 288.3h0M1060.9 268.7h0M997.0 280.0h0M1072.7 298.8h0M1048.1 324.0h0M1072.7 255.7h0M1019.5 319.3h0M1037.3 258.1h0M1012.5 257.7h0M1080.8 302.6h0M1051.4 312.9h0M1090.1 309.6h0M998.2 279.9h0M1040.9 334.0h0M1105.1 293.4h0M1022.6 317.4h0M1048.5 257.9h0M1096.4 289.4h0M1056.6 251.7h0M1032.8 332.6h0M1031.8 233.0h0M1101.7 267.9h0M1048.8 283.8h0M1105.0 250.8h0M1067.5 292.9h0M1070.5 297.0h0M1061.2 339.3h0M1066.9 326.2h0M1055.3 251.6h0M1046.5 228.4h0M1104.2 249.2h0M1101.2 265.4h0M1042.6 255.6h0M1032.2 245.9h0M1050.1 289.4h0M1004.8 244.6h0M1060.7 325.9h0M1065.4 237.1h0M1103.6 257.5h0M1044.0 277.5h0M1030.8 333.3h0" stroke="#e4e0d6" stroke-width="1.4" stroke-linecap="round" fill="none"/>
<path d="M1044.1 298.8h0M1033.4 274.2h0M1053.1 289.9h0M1068.3 266.5h0M1086.8 312.7h0M1069.5 280.0h0M1092.9 291.7h0M1077.6 304.6h0M1022.5 298.1h0M1077.9 260.6h0M1092.1 267.1h0M1012.8 308.1h0M1081.6 310.7h0M1048.3 325.2h0M1088.9 316.3h0M1066.1 285.2h0M1051.3 276.1h0M1051.8 331.3h0M1039.7 322.2h0M1054.9 321.1h0M1095.0 261.7h0M1038.0 283.0h0M1048.3 279.5h0M1063.9 284.2h0M1059.7 291.8h0M1063.9 246.2h0M1101.8 288.8h0M1077.9 328.6h0M1027.0 299.0h0M1060.8 305.0h0" stroke="#2f5a24" stroke-width="5.6" stroke-linecap="round" fill="none"/>
<path d="M1012.9 277.3h0M1099.4 277.5h0M1048.8 258.6h0M1060.0 300.9h0M1068.2 336.0h0M1050.4 314.7h0M1015.9 288.5h0M1040.5 298.3h0M1096.5 290.6h0M1077.0 312.5h0M1073.0 306.1h0M1036.2 319.7h0M1059.4 270.9h0M1020.4 327.8h0M1062.0 312.8h0M1088.5 288.4h0M1029.8 311.8h0M1064.8 333.9h0M1051.2 285.2h0M1014.5 279.1h0M1023.5 252.1h0M1054.2 294.5h0M1095.5 277.5h0M1071.4 289.3h0M1026.1 283.3h0M1053.9 283.8h0M1060.9 304.1h0M1020.5 281.0h0M1072.2 266.4h0M1091.5 270.0h0M1063.9 290.9h0M1051.7 273.6h0M1057.8 290.8h0M1072.2 245.9h0M1064.4 294.2h0" stroke="#37792a" stroke-width="6.2" stroke-linecap="round" fill="none"/>
<path d="M1030.9 310.4h0M1042.9 296.2h0M1091.6 323.2h0M1032.4 316.4h0M1060.0 339.3h0M1087.9 274.7h0M1068.2 301.8h0M1060.9 249.9h0M1061.6 265.6h0M1060.3 317.3h0M1085.2 278.7h0M1049.4 247.9h0M1080.6 307.1h0M1069.0 274.9h0M1009.6 296.8h0M1078.8 324.6h0M1061.7 317.0h0M1018.1 320.6h0M1102.3 275.1h0M1024.0 298.0h0M1085.2 281.7h0M1006.9 310.0h0M1094.2 291.2h0M1083.8 269.6h0M1033.4 254.8h0M1079.1 264.8h0M1085.7 294.4h0M1043.3 278.5h0M1046.6 245.3h0M1068.0 282.8h0M1075.0 257.7h0M1040.9 263.4h0M1037.4 291.4h0M1062.7 254.3h0M1046.1 332.5h0M1093.4 303.8h0M1058.3 276.3h0M1047.3 273.7h0M1020.0 260.5h0M1040.7 326.1h0M1034.7 251.3h0M1071.2 287.6h0M1050.2 285.4h0M1025.6 320.9h0M1097.0 276.8h0M1062.9 290.2h0M1060.2 295.5h0M1007.0 274.4h0M1068.2 298.1h0M1007.1 306.0h0M1070.7 259.6h0M1051.2 307.5h0M1016.8 305.0h0M1082.3 331.6h0M1099.0 277.1h0M1089.8 258.7h0M1074.9 309.6h0M1023.0 288.0h0M1039.0 274.6h0M1098.5 296.3h0M1055.7 305.5h0M1052.8 323.3h0M1022.8 273.0h0M1035.0 265.6h0M1042.5 286.4h0M1064.3 284.9h0M1039.6 269.6h0M1099.3 297.0h0M1059.7 253.9h0M1016.8 287.2h0M1068.1 307.2h0M1055.6 300.4h0" stroke="#41892f" stroke-width="5.8" stroke-linecap="round" fill="none"/>
<path d="M1048.6 274.9h0M1043.9 281.4h0M1073.3 326.6h0M1051.9 296.7h0M1081.7 251.0h0M1025.9 331.7h0M1058.9 290.4h0M1057.3 276.3h0M1033.2 294.1h0M1023.8 289.1h0M1066.7 276.2h0M1043.7 282.7h0M1080.7 275.6h0M1033.8 306.3h0M1091.2 266.9h0M1092.8 265.2h0M1091.8 316.5h0M1069.1 316.5h0M1072.5 323.5h0M1066.4 312.2h0M1092.2 284.7h0M1004.8 282.5h0M1031.7 314.8h0M1096.3 269.1h0M1076.8 262.5h0M1075.5 308.0h0M1048.3 294.6h0M1072.7 323.3h0M1073.9 265.8h0M1016.4 275.3h0M1025.2 258.4h0M1101.5 307.4h0M1020.2 288.6h0M1069.3 269.8h0M1018.8 287.3h0M1069.2 320.7h0M1023.4 268.9h0M1077.9 295.3h0M1015.1 290.7h0M1042.8 310.1h0M1087.9 300.0h0M1057.6 289.5h0M1062.6 286.8h0M1024.8 277.2h0M1059.7 308.7h0M1073.0 325.3h0M1029.1 254.9h0M1047.4 307.9h0M1003.3 286.8h0M1086.5 254.0h0M1025.2 253.5h0M1039.9 337.4h0M1008.2 276.3h0M1047.3 295.2h0M1086.1 323.1h0M1023.3 300.1h0M1043.8 264.1h0M1071.4 253.2h0M1022.4 300.4h0M1019.1 281.0h0M1047.0 295.6h0M1015.4 259.5h0M1077.9 268.2h0M1044.0 326.2h0M1060.1 310.2h0M1036.2 264.6h0M1070.5 287.9h0M1027.3 255.2h0M1023.1 280.7h0M1036.1 293.9h0M1013.3 266.3h0M1087.4 312.6h0M1081.8 315.1h0M1093.5 294.0h0M1069.7 327.1h0M1089.7 255.2h0M1063.0 310.0h0M1016.1 297.5h0M1086.6 305.1h0M1079.8 248.2h0M1034.9 288.9h0M1048.6 338.3h0M1041.4 280.6h0M1100.5 290.7h0M1080.8 308.6h0" stroke="#4f9e3a" stroke-width="5.0" stroke-linecap="round" fill="none"/>
<path d="M1084.4 302.0h0M1096.7 287.0h0M1006.9 279.9h0M1081.9 313.0h0M1030.5 296.3h0M1085.4 274.6h0M1086.6 284.8h0M1084.7 325.2h0M1075.8 329.9h0M1027.6 299.2h0M1020.4 257.2h0M1087.2 259.3h0M1004.7 275.3h0M1025.2 283.0h0M1075.8 300.3h0M1079.9 313.9h0M1059.3 284.3h0M1083.2 303.4h0M1062.9 271.0h0M1073.4 246.8h0M1018.4 286.6h0M1048.5 313.5h0M1091.7 257.8h0M1067.6 289.6h0M1095.4 318.7h0M1099.4 287.9h0M1005.0 308.9h0M1040.6 327.6h0M1082.3 294.5h0M1008.0 276.7h0M1092.1 304.9h0M1035.8 270.8h0M1064.1 258.5h0M1031.7 332.9h0M1033.3 287.2h0M1041.7 272.6h0M1047.9 288.1h0M1081.5 298.9h0M1067.0 290.9h0M1080.2 276.5h0M1094.0 299.9h0M1077.0 275.9h0M1039.1 301.6h0M1075.1 301.2h0M1005.8 288.7h0M1089.9 281.3h0M1060.2 300.1h0M1062.7 244.8h0M1052.8 295.7h0M1006.8 274.8h0" stroke="#63b048" stroke-width="3.4" stroke-linecap="round" fill="none"/>
<path d="M1079.7 254.3h0M1014.1 303.6h0M1050.1 267.4h0M1052.6 242.3h0M1097.8 321.0h0M1045.2 286.8h0M1066.6 306.2h0M1052.3 262.1h0M1070.5 259.4h0M1062.4 280.4h0M1039.8 316.9h0M1039.8 310.3h0M1082.4 314.9h0M1013.9 293.5h0M1065.7 292.5h0M1075.7 293.7h0M1064.7 334.0h0M1067.2 265.2h0M1093.7 320.1h0M1010.7 314.7h0M1029.9 289.8h0M1048.5 293.9h0" stroke="#2f6925" stroke-width="1.6" stroke-linecap="round" fill="none"/>
<path d="M1071.4 327.8h0M1033.9 295.7h0M1079.2 283.1h0M1013.4 313.3h0M1033.9 317.8h0M1020.9 325.4h0M1023.3 272.6h0M1076.8 287.5h0M1043.4 323.0h0M1091.1 326.5h0M1066.6 277.2h0M1065.8 283.2h0M1040.2 328.0h0M1003.7 301.9h0M1060.5 303.1h0M1084.5 323.3h0M1056.3 330.2h0M1083.0 281.2h0M1080.3 303.5h0M1062.3 257.1h0M1030.8 252.8h0M1020.2 288.7h0M1061.4 292.9h0M1051.4 253.0h0M1074.5 329.3h0" stroke="#c8bf8e" stroke-width="2.0" stroke-linecap="round" fill="none"/>
</g>
</g></g>
<rect x="1124.8" y="171" width="2" height="20.7" fill="#eee"/>
<rect x="1124.8" y="331.6" width="2" height="20.2" fill="#eee"/>
</svg></body></html>
